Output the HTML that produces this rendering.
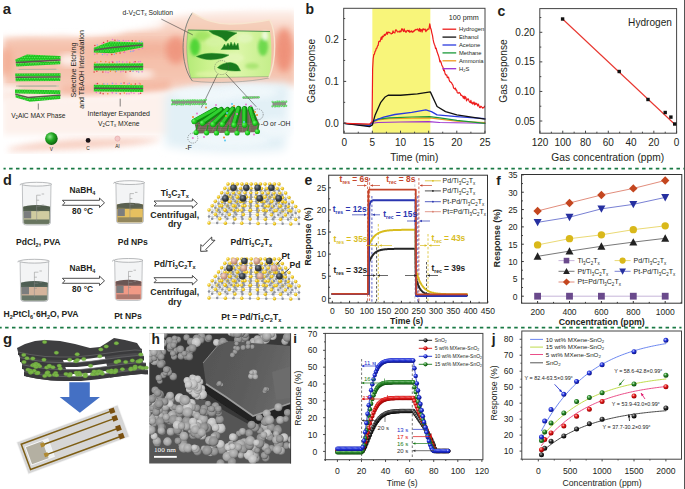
<!DOCTYPE html>
<html><head><meta charset="utf-8"><style>
html,body{margin:0;padding:0;background:#fff;width:685px;height:489px;overflow:hidden}
svg{display:block;font-family:"Liberation Sans",sans-serif}
</style></head><body>
<svg width="685" height="489" viewBox="0 0 685 489">
<defs>
<radialGradient id="gK" cx="0.38" cy="0.35" r="0.65"><stop offset="0" stop-color="#bbb"/><stop offset="0.45" stop-color="#333"/><stop offset="1" stop-color="#000"/></radialGradient>
<radialGradient id="gR" cx="0.38" cy="0.35" r="0.65"><stop offset="0" stop-color="#ffc0c0"/><stop offset="0.45" stop-color="#e01818"/><stop offset="1" stop-color="#900"/></radialGradient>
<radialGradient id="gB" cx="0.38" cy="0.35" r="0.65"><stop offset="0" stop-color="#c8d0ff"/><stop offset="0.45" stop-color="#2233dd"/><stop offset="1" stop-color="#0a1180"/></radialGradient>
<radialGradient id="gG" cx="0.38" cy="0.35" r="0.65"><stop offset="0" stop-color="#c8f0c8"/><stop offset="0.45" stop-color="#2a8a2a"/><stop offset="1" stop-color="#0c4a0c"/></radialGradient>
</defs>
<defs>
<filter id="bl3" x="-20%" y="-20%" width="140%" height="140%"><feGaussianBlur stdDeviation="3"/></filter>
<filter id="bl5" x="-30%" y="-30%" width="160%" height="160%"><feGaussianBlur stdDeviation="5"/></filter>
<filter id="bl2" x="-20%" y="-20%" width="140%" height="140%"><feGaussianBlur stdDeviation="1.6"/></filter>
<filter id="bl1" x="-20%" y="-20%" width="140%" height="140%"><feGaussianBlur stdDeviation="0.7"/></filter>
<filter id="bl04" x="-10%" y="-10%" width="120%" height="120%"><feGaussianBlur stdDeviation="0.35"/></filter>
<radialGradient id="gGreen" cx="0.35" cy="0.35" r="0.7"><stop offset="0" stop-color="#6af56a"/><stop offset="0.55" stop-color="#22d022"/><stop offset="1" stop-color="#12a012"/></radialGradient>
<radialGradient id="gV" cx="0.38" cy="0.35" r="0.7"><stop offset="0" stop-color="#8ee58e"/><stop offset="0.45" stop-color="#22a822"/><stop offset="1" stop-color="#0a5a0a"/></radialGradient>
<linearGradient id="gSal" x1="0" y1="0" x2="0" y2="1"><stop offset="0" stop-color="#fdf2ed"/><stop offset="0.22" stop-color="#f8d2c2"/><stop offset="0.45" stop-color="#f4bea8"/><stop offset="0.75" stop-color="#f5c4b0"/><stop offset="1" stop-color="#fae0d6"/></linearGradient>
<linearGradient id="gLiq" x1="0" y1="0" x2="1" y2="0"><stop offset="0" stop-color="#b4ea78"/><stop offset="0.25" stop-color="#ccf28e"/><stop offset="0.6" stop-color="#dcf6a8"/><stop offset="1" stop-color="#c4ee8a"/></linearGradient>
<pattern id="pG" width="2.5" height="4.2" patternUnits="userSpaceOnUse"><rect width="2.5" height="4.2" fill="#22b522"/><circle cx="1.25" cy="1.05" r="1.3" fill="url(#gGreen)"/><circle cx="0" cy="3.15" r="1.3" fill="url(#gGreen)"/><circle cx="2.5" cy="3.15" r="1.3" fill="url(#gGreen)"/></pattern>
<clipPath id="clipA"><rect x="3" y="0" width="291" height="165"/></clipPath>
</defs>
<g clip-path="url(#clipA)">
<path d="M3,38 C30,34 60,38 90,36 C120,34 150,27 170,18 C200,10 250,10 296,10 L296,86 C260,84 220,88 180,90 C130,96 80,100 3,100 Z" fill="url(#gSal)" filter="url(#bl3)"/>
<path d="M100,44 C130,40 160,40 185,42 L185,54 C160,54 130,56 100,54 Z" fill="#ef9f86" opacity="0.4" filter="url(#bl5)"/>
<ellipse cx="284" cy="50" rx="9" ry="22" fill="#ee8a72" opacity="0.85" filter="url(#bl3)"/>
<ellipse cx="176" cy="50" rx="10" ry="14" fill="#ee8a72" opacity="0.7" filter="url(#bl3)"/>
<ellipse cx="5" cy="62" rx="8" ry="14" fill="#f2a88e" opacity="0.7" filter="url(#bl3)"/>
<path d="M60,86 C90,82 130,84 170,80 L170,92 C130,94 90,96 60,94 Z" fill="#f3a88e" opacity="0.55" filter="url(#bl3)"/>
<ellipse cx="30" cy="27" rx="30" ry="6" fill="#fff" opacity="0.75" filter="url(#bl3)"/>
<ellipse cx="95" cy="28" rx="30" ry="6" fill="#fff" opacity="0.75" filter="url(#bl3)"/>
<ellipse cx="140" cy="24" rx="25" ry="6" fill="#fff" opacity="0.75" filter="url(#bl3)"/>
<ellipse cx="215" cy="5" rx="40" ry="4" fill="#fff" opacity="0.75" filter="url(#bl3)"/>
<ellipse cx="280" cy="4" rx="30" ry="4" fill="#fff" opacity="0.75" filter="url(#bl3)"/>
<ellipse cx="10" cy="90" rx="10" ry="5" fill="#fff" opacity="0.75" filter="url(#bl3)"/>
<ellipse cx="70" cy="60" rx="12" ry="6" fill="#fff" opacity="0.75" filter="url(#bl3)"/>
<ellipse cx="140" cy="74" rx="14" ry="4" fill="#fff" opacity="0.75" filter="url(#bl3)"/>
<path d="M3,95 C60,102 120,96 175,92 L175,135 L3,135 Z" fill="#fdf1ec" filter="url(#bl3)"/>
<path d="M8,149 C40,139 110,137 162,139 C150,146 80,150 8,151 Z" fill="#f6c8b8" opacity="0.85" filter="url(#bl3)"/>
<path d="M165,95 C200,84 240,80 290,84 L285,150 C260,152 210,154 165,146 Z" fill="#e2f0f6" filter="url(#bl5)"/>
<ellipse cx="205" cy="95" rx="30" ry="8" fill="#f3f9fc" opacity="0.8" filter="url(#bl3)"/>
<ellipse cx="250" cy="92" rx="28" ry="7" fill="#f3f9fc" opacity="0.8" filter="url(#bl3)"/>
<ellipse cx="230" cy="140" rx="40" ry="8" fill="#f3f9fc" opacity="0.8" filter="url(#bl3)"/>
<ellipse cx="275" cy="128" rx="18" ry="10" fill="#f3f9fc" opacity="0.8" filter="url(#bl3)"/>
</g>
<g filter="url(#bl04)">
<path d="M15.2,59.4 L27,54.4 L60.5,56 L60.5,59.2 L16,62.4 Z" fill="url(#pG)" />
<path d="M16.5,62.6 L60,60" fill="none" stroke="#5e5450" stroke-width="1.6" stroke-linecap="round" stroke-linejoin="round" />
<path d="M15.6,63.4 L60.3,61 L60.3,64.2 L16.5,66.4 Z" fill="url(#pG)" />
<path d="M17,69.4 L58,69.2" fill="none" stroke="#d8cdb6" stroke-width="2.2" stroke-linecap="round" stroke-linejoin="round" filter="url(#bl1)"/>
<path d="M19,69.4 L56,69.2" fill="none" stroke="#8f8a80" stroke-width="0.5" stroke-linecap="round" stroke-linejoin="round" />
<path d="M15.2,73.4 L60.5,73.2 L60.5,76.4 L15.2,76.6 Z" fill="url(#pG)" />
<path d="M16,77.3 L60,77.1" fill="none" stroke="#5e5450" stroke-width="1.5" stroke-linecap="round" stroke-linejoin="round" />
<path d="M15.6,78 L60.3,77.8 L60.3,81 L15.6,81.2 Z" fill="url(#pG)" />
<path d="M17,86.2 L58,86" fill="none" stroke="#d8cdb6" stroke-width="2.2" stroke-linecap="round" stroke-linejoin="round" filter="url(#bl1)"/>
<path d="M19,86.2 L56,86" fill="none" stroke="#8f8a80" stroke-width="0.5" stroke-linecap="round" stroke-linejoin="round" />
<path d="M15,89.4 L60.3,90.2 L60.3,94.2 L15,93.4 Z" fill="url(#pG)" />
<path d="M16,94.4 L28,97.6 L60,95.2" fill="none" stroke="#5e5450" stroke-width="1.6" stroke-linecap="round" stroke-linejoin="round" />
<path d="M15.6,95 L28,98.2 L60.3,95.8 L60.3,99 L30,101.8 L15.6,97.6 Z" fill="url(#pG)" />
<line x1="38.3" y1="103.5" x2="38.3" y2="109.6" stroke="#333" stroke-width="0.6" />
<path d="M93.8,47.7 L110,41.4 L143.2,42.6 L143.2,47.3 L112,53.2 L93.8,52.4 Z" fill="url(#pG)" />
<path d="M95,50 L112,47.5 L142,45" fill="none" stroke="#5e5450" stroke-width="1.4" stroke-linecap="round" stroke-linejoin="round" />
<circle cx="94.85" cy="45.4" r="0.75" fill="#e03a3a"/>
<circle cx="97.27" cy="45" r="0.75" fill="#8fa8e8"/>
<circle cx="102.17" cy="43.62" r="0.75" fill="#e878d0"/>
<circle cx="103.64" cy="42.38" r="0.75" fill="#e03a3a"/>
<circle cx="107.54" cy="41.03" r="0.75" fill="#e03a3a"/>
<circle cx="112.5" cy="39.56" r="0.75" fill="#e878d0"/>
<circle cx="114.92" cy="40.29" r="0.75" fill="#e03a3a"/>
<circle cx="117.78" cy="40.14" r="0.75" fill="#e878d0"/>
<circle cx="119.2" cy="40.83" r="0.75" fill="#8fa8e8"/>
<circle cx="123.34" cy="40.54" r="0.75" fill="#e878d0"/>
<circle cx="126.02" cy="41.02" r="0.75" fill="#e878d0"/>
<circle cx="128.42" cy="40.77" r="0.75" fill="#e878d0"/>
<circle cx="132.25" cy="40.87" r="0.75" fill="#e03a3a"/>
<circle cx="135.85" cy="41.1" r="0.75" fill="#f08a30"/>
<circle cx="139.22" cy="40.95" r="0.75" fill="#8fa8e8"/>
<circle cx="141.59" cy="41.73" r="0.75" fill="#8fa8e8"/>
<circle cx="94.71" cy="54.25" r="0.75" fill="#e878d0"/>
<circle cx="97.08" cy="53.66" r="0.75" fill="#f08a30"/>
<circle cx="102.52" cy="54.5" r="0.75" fill="#8fa8e8"/>
<circle cx="104.75" cy="53.68" r="0.75" fill="#e878d0"/>
<circle cx="107.2" cy="54.75" r="0.75" fill="#e878d0"/>
<circle cx="111.8" cy="54.48" r="0.75" fill="#e03a3a"/>
<circle cx="114.39" cy="54.25" r="0.75" fill="#8fa8e8"/>
<circle cx="116.18" cy="53.6" r="0.75" fill="#f08a30"/>
<circle cx="120.05" cy="53.02" r="0.75" fill="#e03a3a"/>
<circle cx="124.31" cy="52.24" r="0.75" fill="#e03a3a"/>
<circle cx="124.67" cy="52.49" r="0.75" fill="#e878d0"/>
<circle cx="130.7" cy="51.51" r="0.75" fill="#8fa8e8"/>
<circle cx="132.96" cy="51.18" r="0.75" fill="#8fa8e8"/>
<circle cx="133.91" cy="50.4" r="0.75" fill="#e878d0"/>
<circle cx="138.87" cy="49.51" r="0.75" fill="#e878d0"/>
<circle cx="142.48" cy="48.32" r="0.75" fill="#e878d0"/>
<path d="M93.8,63.4 L143.2,63.2 L143.2,70.2 L93.8,70.4 Z" fill="url(#pG)" />
<path d="M94.5,67 L142.5,66.8" fill="none" stroke="#5e5450" stroke-width="1.4" stroke-linecap="round" stroke-linejoin="round" />
<circle cx="95.03" cy="62.58" r="0.75" fill="#f08a30"/>
<circle cx="97.14" cy="61.92" r="0.75" fill="#e878d0"/>
<circle cx="100.83" cy="61.46" r="0.75" fill="#f08a30"/>
<circle cx="105.73" cy="61.64" r="0.75" fill="#f08a30"/>
<circle cx="109.2" cy="62.19" r="0.75" fill="#f08a30"/>
<circle cx="112.19" cy="61.44" r="0.75" fill="#e878d0"/>
<circle cx="112.79" cy="62.15" r="0.75" fill="#e03a3a"/>
<circle cx="116.91" cy="62.03" r="0.75" fill="#8fa8e8"/>
<circle cx="119.37" cy="61.4" r="0.75" fill="#e878d0"/>
<circle cx="122.73" cy="61.98" r="0.75" fill="#e878d0"/>
<circle cx="126.81" cy="61.89" r="0.75" fill="#e878d0"/>
<circle cx="129.78" cy="62.19" r="0.75" fill="#f08a30"/>
<circle cx="133.63" cy="62.23" r="0.75" fill="#e878d0"/>
<circle cx="135.15" cy="61.69" r="0.75" fill="#e03a3a"/>
<circle cx="138.51" cy="61.68" r="0.75" fill="#e878d0"/>
<circle cx="140.32" cy="61.4" r="0.75" fill="#e878d0"/>
<circle cx="94.14" cy="71.94" r="0.75" fill="#e03a3a"/>
<circle cx="96.89" cy="71.3" r="0.75" fill="#e03a3a"/>
<circle cx="102.9" cy="71.92" r="0.75" fill="#e03a3a"/>
<circle cx="105.76" cy="71.91" r="0.75" fill="#e878d0"/>
<circle cx="108.11" cy="72.38" r="0.75" fill="#e878d0"/>
<circle cx="110.36" cy="71.2" r="0.75" fill="#f08a30"/>
<circle cx="115.39" cy="71.66" r="0.75" fill="#f08a30"/>
<circle cx="116.38" cy="71.21" r="0.75" fill="#8fa8e8"/>
<circle cx="120.79" cy="71.66" r="0.75" fill="#e878d0"/>
<circle cx="123.18" cy="71.27" r="0.75" fill="#e878d0"/>
<circle cx="125.79" cy="71.94" r="0.75" fill="#e03a3a"/>
<circle cx="130.1" cy="71.37" r="0.75" fill="#e03a3a"/>
<circle cx="133" cy="71.31" r="0.75" fill="#8fa8e8"/>
<circle cx="136.74" cy="71.42" r="0.75" fill="#e878d0"/>
<circle cx="138.67" cy="72.01" r="0.75" fill="#8fa8e8"/>
<circle cx="142.08" cy="71.76" r="0.75" fill="#e878d0"/>
<path d="M93.8,84.8 L143.2,85.2 L143.2,92 L93.8,91.6 Z" fill="url(#pG)" />
<path d="M94.5,88.2 L142.5,88.6" fill="none" stroke="#5e5450" stroke-width="1.4" stroke-linecap="round" stroke-linejoin="round" />
<circle cx="96.29" cy="83.87" r="0.75" fill="#e878d0"/>
<circle cx="97.5" cy="83.42" r="0.75" fill="#e03a3a"/>
<circle cx="103.03" cy="83.88" r="0.75" fill="#f08a30"/>
<circle cx="103.86" cy="83.75" r="0.75" fill="#8fa8e8"/>
<circle cx="107.53" cy="84.12" r="0.75" fill="#8fa8e8"/>
<circle cx="112.19" cy="83.36" r="0.75" fill="#e878d0"/>
<circle cx="112.64" cy="83.51" r="0.75" fill="#8fa8e8"/>
<circle cx="116.04" cy="83.75" r="0.75" fill="#e878d0"/>
<circle cx="121.09" cy="83.59" r="0.75" fill="#8fa8e8"/>
<circle cx="124.06" cy="83.06" r="0.75" fill="#e03a3a"/>
<circle cx="127.48" cy="84.07" r="0.75" fill="#e878d0"/>
<circle cx="129.24" cy="83.24" r="0.75" fill="#8fa8e8"/>
<circle cx="131.12" cy="84.33" r="0.75" fill="#f08a30"/>
<circle cx="135.37" cy="84.08" r="0.75" fill="#e03a3a"/>
<circle cx="139.26" cy="83.31" r="0.75" fill="#e878d0"/>
<circle cx="140.2" cy="83.9" r="0.75" fill="#f08a30"/>
<circle cx="96.29" cy="92.52" r="0.75" fill="#e878d0"/>
<circle cx="99.91" cy="93.27" r="0.75" fill="#8fa8e8"/>
<circle cx="100.46" cy="93.12" r="0.75" fill="#e03a3a"/>
<circle cx="103.11" cy="93.73" r="0.75" fill="#e03a3a"/>
<circle cx="107.78" cy="93.72" r="0.75" fill="#f08a30"/>
<circle cx="112.28" cy="92.72" r="0.75" fill="#e878d0"/>
<circle cx="112.41" cy="92.75" r="0.75" fill="#e878d0"/>
<circle cx="116.16" cy="93.3" r="0.75" fill="#8fa8e8"/>
<circle cx="120.18" cy="93.68" r="0.75" fill="#e03a3a"/>
<circle cx="124.4" cy="93.04" r="0.75" fill="#f08a30"/>
<circle cx="126.72" cy="93.71" r="0.75" fill="#e878d0"/>
<circle cx="129.06" cy="93.87" r="0.75" fill="#e878d0"/>
<circle cx="131.25" cy="92.82" r="0.75" fill="#e878d0"/>
<circle cx="134" cy="93.24" r="0.75" fill="#e878d0"/>
<circle cx="138.9" cy="93.75" r="0.75" fill="#e878d0"/>
<circle cx="140.64" cy="93.34" r="0.75" fill="#e03a3a"/>
</g>
<line x1="120.2" y1="98.7" x2="120.2" y2="106.5" stroke="#333" stroke-width="0.6" />
<path d="M192.4,12.8 C205,20 215,24 230,24 C245,24 258,22 269.7,19.8 C276,30 277,60 268.8,78 C250,82 215,84 192.4,81 C180,65 180,30 192.4,12.8 Z" fill="#f2c6ae" opacity="0.6"/>
<path d="M188,30 L270,31.5 C272,45 272,65 269,76.5 L191,78 C186,62 186,44 188,30 Z" fill="url(#gLiq)"/>
<ellipse cx="195" cy="47" rx="5" ry="9" fill="#38d028" opacity="0.8" filter="url(#bl2)"/>
<ellipse cx="203" cy="36" rx="8" ry="5" fill="#8ede50" opacity="0.6" filter="url(#bl2)"/>
<ellipse cx="263" cy="47" rx="5" ry="9" fill="#48d030" opacity="0.7" filter="url(#bl2)"/>
<ellipse cx="232" cy="58" rx="12" ry="5" fill="#e4f8b8" opacity="0.85" filter="url(#bl2)"/>
<ellipse cx="214" cy="42" rx="9" ry="5" fill="#d6f4a4" opacity="0.8" filter="url(#bl2)"/>
<ellipse cx="252" cy="66" rx="7" ry="3" fill="#90dc58" opacity="0.6" filter="url(#bl2)"/>
<ellipse cx="245" cy="38" rx="8" ry="5" fill="#e6f8c8" opacity="0.6" filter="url(#bl2)"/>
<ellipse cx="265" cy="36" rx="3" ry="5" fill="#ffffff" opacity="0.7" filter="url(#bl2)"/>
<ellipse cx="215" cy="74" rx="20" ry="3" fill="#e0f4a8" opacity="0.8" filter="url(#bl2)"/>
<path d="M188,30 L270,31.5" fill="none" stroke="#2a8a3a" stroke-width="1.0" opacity="0.8"/>
<path d="M188,30 C186,44 186,62 191,78 L269,76.5" fill="none" stroke="#6a9a6a" stroke-width="0.6" opacity="0.7"/>
<path d="M192.4,12.8 C180,30 180,65 192.4,81" fill="none" stroke="#5a6a68" stroke-width="0.9" opacity="0.85"/>
<path d="M192.4,81 C215,84 250,82 268.8,78" fill="none" stroke="#7a8a88" stroke-width="0.7" opacity="0.7"/>
<path d="M192.4,12.8 C205,20 215,24 230,24 C245,24 258,22 269.7,19.8" fill="none" stroke="#f8e6d0" stroke-width="1.4" opacity="0.95"/>
<path d="M269.7,19.8 C276,30 277,60 268.8,78" fill="none" stroke="#f8e6d0" stroke-width="1.4" opacity="0.95"/>
<path d="M209,31 Q223,29.5 237,33 Q231,36 226,41.5 Q222,37 217,35.5 Q212,34 209,31 Z" fill="#1a7a1e" stroke="#2a9a2a" stroke-width="0.9" stroke-dasharray="0.5 0.5"/>
<path d="M221,49.5 L239,49.5 L238,43 L236,46 L234.5,42.5 L233,46 L231,42 L229.5,46 L228,43 L226,46.5 L224.5,44 L223,47 Z" fill="#1a7a1e" stroke="#2a9a2a" stroke-width="0.9" stroke-dasharray="0.5 0.5"/>
<path d="M196.5,56.5 Q205,52.5 216,53.5 Q224,53.8 229,55 Q223,59 213,59.6 Q203,60 196.5,56.5 Z" fill="#1a7a1e" stroke="#2a9a2a" stroke-width="0.9" stroke-dasharray="0.5 0.5"/>
<path d="M217.5,67.5 Q222,62.8 230,62.5 Q236,63 238,66 L240.5,70.8 Q232,71.5 226,70 Q220,69.5 217.5,67.5 Z" fill="#1a7a1e" stroke="#2a9a2a" stroke-width="0.9" stroke-dasharray="0.5 0.5"/>
<circle cx="221.6" cy="67.6" r="7" fill="none" stroke="#555" stroke-width="0.5" stroke-dasharray="1.2 1"/>
<line x1="217.5" y1="74.2" x2="201.3" y2="107.8" stroke="#333" stroke-width="0.55" />
<line x1="226" y1="74" x2="256.3" y2="106.8" stroke="#333" stroke-width="0.55" />
<line x1="161.3" y1="19.1" x2="192.8" y2="34.9" stroke="#333" stroke-width="0.55" />
<g opacity="0.7" filter="url(#bl1)">
<path d="M172,100.5 L206,100 L206,104 L172,104.5 Z" fill="#6a6a5a"/>
<circle cx="172.03" cy="100.41" r="1.1" fill="url(#gGreen)"/>
<circle cx="174.28" cy="100.49" r="1.1" fill="url(#gGreen)"/>
<circle cx="176.68" cy="100.24" r="1.1" fill="url(#gGreen)"/>
<circle cx="178.83" cy="100.27" r="1.1" fill="url(#gGreen)"/>
<circle cx="180.96" cy="100.5" r="1.1" fill="url(#gGreen)"/>
<circle cx="183.34" cy="100.36" r="1.1" fill="url(#gGreen)"/>
<circle cx="185.73" cy="100.51" r="1.1" fill="url(#gGreen)"/>
<circle cx="187.84" cy="100.32" r="1.1" fill="url(#gGreen)"/>
<circle cx="190.14" cy="100.24" r="1.1" fill="url(#gGreen)"/>
<circle cx="192.5" cy="100.18" r="1.1" fill="url(#gGreen)"/>
<circle cx="194.68" cy="100.16" r="1.1" fill="url(#gGreen)"/>
<circle cx="197.15" cy="100.23" r="1.1" fill="url(#gGreen)"/>
<circle cx="199.39" cy="100.32" r="1.1" fill="url(#gGreen)"/>
<circle cx="201.35" cy="100.1" r="1.1" fill="url(#gGreen)"/>
<circle cx="203.95" cy="100.2" r="1.1" fill="url(#gGreen)"/>
<circle cx="205.82" cy="99.81" r="1.1" fill="url(#gGreen)"/>
<circle cx="171.97" cy="104.29" r="1.1" fill="url(#gGreen)"/>
<circle cx="174.14" cy="104.25" r="1.1" fill="url(#gGreen)"/>
<circle cx="176.62" cy="104.58" r="1.1" fill="url(#gGreen)"/>
<circle cx="179" cy="104.23" r="1.1" fill="url(#gGreen)"/>
<circle cx="181.17" cy="104.45" r="1.1" fill="url(#gGreen)"/>
<circle cx="183.15" cy="104.52" r="1.1" fill="url(#gGreen)"/>
<circle cx="185.83" cy="104.16" r="1.1" fill="url(#gGreen)"/>
<circle cx="188.09" cy="104.22" r="1.1" fill="url(#gGreen)"/>
<circle cx="190.13" cy="104.48" r="1.1" fill="url(#gGreen)"/>
<circle cx="192.57" cy="104.03" r="1.1" fill="url(#gGreen)"/>
<circle cx="194.63" cy="104.17" r="1.1" fill="url(#gGreen)"/>
<circle cx="196.85" cy="103.98" r="1.1" fill="url(#gGreen)"/>
<circle cx="199.11" cy="104.21" r="1.1" fill="url(#gGreen)"/>
<circle cx="201.23" cy="104.09" r="1.1" fill="url(#gGreen)"/>
<circle cx="203.7" cy="103.79" r="1.1" fill="url(#gGreen)"/>
<circle cx="205.92" cy="104.06" r="1.1" fill="url(#gGreen)"/>
<path d="M272.5,102 L286,101.5 L286,106 L272.5,106.5 Z" fill="#6a6a5a"/>
<circle cx="272.51" cy="101.78" r="1.1" fill="url(#gGreen)"/>
<circle cx="274.99" cy="102.06" r="1.1" fill="url(#gGreen)"/>
<circle cx="277.24" cy="101.64" r="1.1" fill="url(#gGreen)"/>
<circle cx="279.13" cy="101.52" r="1.1" fill="url(#gGreen)"/>
<circle cx="281.64" cy="101.55" r="1.1" fill="url(#gGreen)"/>
<circle cx="283.56" cy="101.54" r="1.1" fill="url(#gGreen)"/>
<circle cx="286.21" cy="101.66" r="1.1" fill="url(#gGreen)"/>
<circle cx="272.38" cy="106.32" r="1.1" fill="url(#gGreen)"/>
<circle cx="274.96" cy="106.45" r="1.1" fill="url(#gGreen)"/>
<circle cx="277.1" cy="106.13" r="1.1" fill="url(#gGreen)"/>
<circle cx="279.03" cy="106.34" r="1.1" fill="url(#gGreen)"/>
<circle cx="281.46" cy="105.95" r="1.1" fill="url(#gGreen)"/>
<circle cx="283.97" cy="106.15" r="1.1" fill="url(#gGreen)"/>
<circle cx="286.15" cy="105.79" r="1.1" fill="url(#gGreen)"/>
<path d="M243,96.5 L259,96.3 L259,98.5 L243,98.7 Z" fill="#6a6a5a"/>
<circle cx="243.18" cy="97.38" r="1" fill="url(#gGreen)"/>
<circle cx="245.47" cy="97.55" r="1" fill="url(#gGreen)"/>
<circle cx="247.49" cy="97.57" r="1" fill="url(#gGreen)"/>
<circle cx="250.07" cy="97.4" r="1" fill="url(#gGreen)"/>
<circle cx="251.96" cy="97.5" r="1" fill="url(#gGreen)"/>
<circle cx="254.3" cy="97.26" r="1" fill="url(#gGreen)"/>
<circle cx="256.55" cy="97.2" r="1" fill="url(#gGreen)"/>
<circle cx="258.85" cy="97.31" r="1" fill="url(#gGreen)"/>
</g>
<path d="M194,121 L212,108.5 L253,109.5 L259.5,124 L258,132 L197,133.5 Z" fill="#6e5e52" filter="url(#bl04)"/>
<line x1="196" y1="133" x2="212" y2="109" stroke="#a89888" stroke-width="0.3" />
<line x1="203.75" y1="133" x2="217.25" y2="109" stroke="#a89888" stroke-width="0.3" />
<line x1="211.5" y1="133" x2="222.5" y2="109" stroke="#a89888" stroke-width="0.3" />
<line x1="219.25" y1="133" x2="227.75" y2="109" stroke="#a89888" stroke-width="0.3" />
<line x1="227" y1="133" x2="233" y2="109" stroke="#a89888" stroke-width="0.3" />
<line x1="234.75" y1="133" x2="238.25" y2="109" stroke="#a89888" stroke-width="0.3" />
<line x1="242.5" y1="133" x2="243.5" y2="109" stroke="#a89888" stroke-width="0.3" />
<line x1="250.25" y1="133" x2="248.75" y2="109" stroke="#a89888" stroke-width="0.3" />
<line x1="258" y1="133" x2="254" y2="109" stroke="#a89888" stroke-width="0.3" />
<line x1="195" y1="122" x2="259" y2="124" stroke="#a89888" stroke-width="0.3" />
<line x1="195" y1="124.5" x2="259" y2="126" stroke="#a89888" stroke-width="0.3" />
<line x1="195" y1="127" x2="259" y2="128" stroke="#a89888" stroke-width="0.3" />
<line x1="195" y1="129.5" x2="259" y2="130" stroke="#a89888" stroke-width="0.3" />
<line x1="195" y1="132" x2="259" y2="132" stroke="#a89888" stroke-width="0.3" />
<circle cx="196.1" cy="132.5" r="2.6" fill="url(#gGreen)"/>
<line x1="196.1" y1="130.5" x2="197.6" y2="124.5" stroke="#1a9a1a" stroke-width="1.2" />
<circle cx="206.6" cy="132.8" r="2.6" fill="url(#gGreen)"/>
<line x1="206.6" y1="130.8" x2="208.1" y2="124.8" stroke="#1a9a1a" stroke-width="1.2" />
<circle cx="216.5" cy="133" r="2.6" fill="url(#gGreen)"/>
<line x1="216.5" y1="131" x2="218" y2="125" stroke="#1a9a1a" stroke-width="1.2" />
<circle cx="227.1" cy="133" r="2.6" fill="url(#gGreen)"/>
<line x1="227.1" y1="131" x2="228.6" y2="125" stroke="#1a9a1a" stroke-width="1.2" />
<circle cx="237" cy="133" r="2.6" fill="url(#gGreen)"/>
<line x1="237" y1="131" x2="238.5" y2="125" stroke="#1a9a1a" stroke-width="1.2" />
<circle cx="247.5" cy="132.8" r="2.6" fill="url(#gGreen)"/>
<line x1="247.5" y1="130.8" x2="249" y2="124.8" stroke="#1a9a1a" stroke-width="1.2" />
<circle cx="257.4" cy="131.5" r="2.6" fill="url(#gGreen)"/>
<line x1="257.4" y1="129.5" x2="258.9" y2="123.5" stroke="#1a9a1a" stroke-width="1.2" />
<line x1="215.4" y1="109.6" x2="194.3" y2="121.4" stroke="#0c8a0e" stroke-width="5.4" stroke-linecap="round"/>
<line x1="214.8" y1="109.2" x2="193.5" y2="120.8" stroke="#30d030" stroke-width="3.0" stroke-linecap="round"/>
<circle cx="194.3" cy="121.4" r="2.7" fill="url(#gGreen)"/>
<line x1="221.2" y1="109.6" x2="202.5" y2="123.1" stroke="#0c8a0e" stroke-width="5.4" stroke-linecap="round"/>
<line x1="220.6" y1="109.2" x2="201.7" y2="122.5" stroke="#30d030" stroke-width="3.0" stroke-linecap="round"/>
<circle cx="202.5" cy="123.1" r="2.7" fill="url(#gGreen)"/>
<line x1="227.6" y1="109.6" x2="213" y2="124.3" stroke="#0c8a0e" stroke-width="5.4" stroke-linecap="round"/>
<line x1="227" y1="109.2" x2="212.2" y2="123.7" stroke="#30d030" stroke-width="3.0" stroke-linecap="round"/>
<circle cx="213" cy="124.3" r="2.7" fill="url(#gGreen)"/>
<line x1="232.9" y1="109" x2="222.4" y2="124.3" stroke="#0c8a0e" stroke-width="5.4" stroke-linecap="round"/>
<line x1="232.3" y1="108.6" x2="221.6" y2="123.7" stroke="#30d030" stroke-width="3.0" stroke-linecap="round"/>
<circle cx="222.4" cy="124.3" r="2.7" fill="url(#gGreen)"/>
<line x1="238.7" y1="108.6" x2="234.1" y2="124.9" stroke="#0c8a0e" stroke-width="5.4" stroke-linecap="round"/>
<line x1="238.1" y1="108.2" x2="233.3" y2="124.3" stroke="#30d030" stroke-width="3.0" stroke-linecap="round"/>
<circle cx="234.1" cy="124.9" r="2.7" fill="url(#gGreen)"/>
<line x1="244.6" y1="108.6" x2="244.6" y2="124.9" stroke="#0c8a0e" stroke-width="5.4" stroke-linecap="round"/>
<line x1="244" y1="108.2" x2="243.8" y2="124.3" stroke="#30d030" stroke-width="3.0" stroke-linecap="round"/>
<circle cx="244.6" cy="124.9" r="2.7" fill="url(#gGreen)"/>
<line x1="250.4" y1="108.6" x2="255.1" y2="123.1" stroke="#0c8a0e" stroke-width="5.4" stroke-linecap="round"/>
<line x1="249.8" y1="108.2" x2="254.3" y2="122.5" stroke="#30d030" stroke-width="3.0" stroke-linecap="round"/>
<circle cx="255.1" cy="123.1" r="2.7" fill="url(#gGreen)"/>
<circle cx="193" cy="117" r="1.0" fill="#f08a30"/>
<circle cx="197" cy="113.5" r="1.0" fill="#e878d0"/>
<circle cx="206" cy="107.5" r="1.0" fill="#f08a30"/>
<circle cx="216" cy="105" r="1.0" fill="#e878d0"/>
<circle cx="232" cy="104" r="1.0" fill="#5cc8f0"/>
<circle cx="234" cy="106" r="1.0" fill="#f08a30"/>
<circle cx="246" cy="104.5" r="1.0" fill="#e878d0"/>
<circle cx="251" cy="106" r="1.0" fill="#e878d0"/>
<circle cx="255" cy="112" r="1.0" fill="#f08a30"/>
<circle cx="257" cy="115" r="1.0" fill="#f08a30"/>
<circle cx="227" cy="113" r="1.0" fill="#5cc8f0"/>
<circle cx="226" cy="116" r="1.0" fill="#f08a30"/>
<circle cx="237" cy="114" r="1.0" fill="#e878d0"/>
<circle cx="204" cy="137" r="1.0" fill="#e878d0"/>
<circle cx="224" cy="137.5" r="1.0" fill="#f08a30"/>
<circle cx="225" cy="140.5" r="1.0" fill="#5cc8f0"/>
<circle cx="254" cy="134.5" r="1.0" fill="#e878d0"/>
<circle cx="192.8" cy="138.1" r="1.0" fill="#e878d0"/>
<circle cx="244" cy="122" r="1.0" fill="#5cc8f0"/>
<circle cx="257.7" cy="114.4" r="5.5" fill="none" stroke="#444" stroke-width="0.5" stroke-dasharray="1.2 1"/>
<circle cx="192.8" cy="138.1" r="5" fill="none" stroke="#444" stroke-width="0.5" stroke-dasharray="1.2 1"/>
<circle cx="51.4" cy="138.6" r="6.3" fill="url(#gV)"/>
<circle cx="88.1" cy="140.4" r="2.4" fill="#1a1418"/>
<circle cx="117.5" cy="138.6" r="2.6" fill="#f4c8c8" stroke="#d89090" stroke-width="0.4"/>
<text x="2.8" y="14.1" font-size="15" text-anchor="start" fill="#231f20" font-weight="bold" >a</text>
<text x="11.2" y="117.6" font-size="7.2" fill="#231f20" textLength="54.2" lengthAdjust="spacingAndGlyphs">V<tspan font-size="4.6" baseline-shift="-25%">2</tspan>AlC MAX Phase</text>
<text x="87.6" y="116.4" font-size="7.2" fill="#231f20" textLength="62.4" lengthAdjust="spacingAndGlyphs">Interlayer Expanded</text>
<text x="98.1" y="125.9" font-size="7.2" fill="#231f20" textLength="41.4" lengthAdjust="spacingAndGlyphs">V<tspan font-size="4.6" baseline-shift="-25%">2</tspan>CT<tspan font-size="4.6" baseline-shift="-25%">x</tspan> MXene</text>
<text x="122.6" y="14.8" font-size="7.2" fill="#231f20" textLength="50.4" lengthAdjust="spacingAndGlyphs">d-V<tspan font-size="4.6" baseline-shift="-25%">2</tspan>CT<tspan font-size="4.6" baseline-shift="-25%">x</tspan> Solution</text>
<text transform="translate(76.0,97.5) rotate(-90)" font-size="7.2" fill="#231f20" textLength="55" lengthAdjust="spacingAndGlyphs">Selective Etching</text>
<text transform="translate(84.3,108.8) rotate(-90)" font-size="7.2" fill="#231f20" textLength="78.7" lengthAdjust="spacingAndGlyphs">and TBAOH Intercalation</text>
<text x="260.7" y="125.6" font-size="7.2" fill="#231f20" textLength="29.8" lengthAdjust="spacingAndGlyphs">-O or -OH</text>
<text x="185.2" y="150.2" font-size="7.2" text-anchor="start" fill="#231f20" >-F</text>
<text x="51.4" y="151.2" font-size="4.8" text-anchor="middle" fill="#231f20" >V</text>
<text x="88.1" y="149.6" font-size="4.8" text-anchor="middle" fill="#231f20" >C</text>
<text x="117.5" y="148" font-size="4.8" text-anchor="middle" fill="#231f20" >Al</text>
<defs>
<radialGradient id="gY" cx="0.38" cy="0.35" r="0.7"><stop offset="0" stop-color="#fff4a8"/><stop offset="0.5" stop-color="#f2c81e"/><stop offset="1" stop-color="#c09a08"/></radialGradient>
<radialGradient id="gPd" cx="0.38" cy="0.33" r="0.7"><stop offset="0" stop-color="#8a929c"/><stop offset="0.5" stop-color="#3c434c"/><stop offset="1" stop-color="#22272e"/></radialGradient>
<radialGradient id="gPt" cx="0.38" cy="0.33" r="0.7"><stop offset="0" stop-color="#f6dccc"/><stop offset="0.5" stop-color="#d8a896"/><stop offset="1" stop-color="#a87868"/></radialGradient>
</defs>
<path d="M22.3,184.2 L22.9,223 Q23.3,225 26.3,225 L47,225 Q50,225 50.4,223 L51,184.2 Z" fill="#f3f4f5" stroke="#a8aaad" stroke-width="0.7"/>
<path d="M23.2,206.5 L23.5,222.8 Q23.9,224.2 26.5,224.2 L46.8,224.2 Q49.4,224.2 49.8,222.8 L50.1,206.5 Z" fill="#7e8a72"/>
<rect x="23.3" y="207.7" width="26.7" height="3.6" fill="#4e5a4a" opacity="0.85"/>
<ellipse cx="36.65" cy="207.7" rx="13.35" ry="2.6" fill="#4e5a4a"/>
<rect x="23.9" y="211.1" width="25.3" height="8.4" fill="#d0cca0"/>
<rect x="23.9" y="211.1" width="7.3" height="7.3" fill="#7b7d7e"/>
<rect x="24.3" y="219.7" width="24.7" height="4" fill="#4e5a4a" opacity="0.45"/>
<ellipse cx="36.65" cy="184.2" rx="14.95" ry="1.9" fill="#fafafa" stroke="#9a9c9f" stroke-width="0.7"/>
<path d="M21.7,183.7 q-1.8,0.2 -1.6,1.6" fill="none" stroke="#9a9c9f" stroke-width="0.7"/>
<line x1="36.65" y1="195.2" x2="36.65" y2="221" stroke="#888" stroke-width="0.5" />
<line x1="36.65" y1="195.2" x2="40.65" y2="195.2" stroke="#888" stroke-width="0.5" />
<line x1="41.65" y1="194" x2="44.15" y2="194" stroke="#999" stroke-width="0.6" />
<line x1="36.65" y1="200.2" x2="39.15" y2="200.2" stroke="#888" stroke-width="0.5" />
<line x1="36.65" y1="206.2" x2="40.65" y2="206.2" stroke="#888" stroke-width="0.5" />
<line x1="41.65" y1="205" x2="44.15" y2="205" stroke="#999" stroke-width="0.6" />
<line x1="36.65" y1="211.2" x2="39.15" y2="211.2" stroke="#888" stroke-width="0.5" />
<path d="M115.9,182.6 L116.5,221.4 Q116.9,223.4 119.9,223.4 L140,223.4 Q143,223.4 143.4,221.4 L144,182.6 Z" fill="#f3f4f5" stroke="#a8aaad" stroke-width="0.7"/>
<path d="M116.8,204.2 L117.1,221.2 Q117.5,222.6 120.1,222.6 L139.8,222.6 Q142.4,222.6 142.8,221.2 L143.1,204.2 Z" fill="#c2a868"/>
<rect x="116.9" y="205.4" width="26.1" height="3.6" fill="#5a6050" opacity="0.85"/>
<ellipse cx="129.95" cy="205.4" rx="13.05" ry="2.6" fill="#5a6050"/>
<rect x="117.5" y="208.8" width="24.7" height="8.4" fill="#e6c060"/>
<rect x="117.5" y="208.8" width="7.3" height="7.3" fill="#7b7d7e"/>
<rect x="117.9" y="217.4" width="24.1" height="4.7" fill="#5a6050" opacity="0.45"/>
<ellipse cx="129.95" cy="182.6" rx="14.65" ry="1.9" fill="#fafafa" stroke="#9a9c9f" stroke-width="0.7"/>
<path d="M115.3,182.1 q-1.8,0.2 -1.6,1.6" fill="none" stroke="#9a9c9f" stroke-width="0.7"/>
<line x1="129.95" y1="193.6" x2="129.95" y2="219.4" stroke="#888" stroke-width="0.5" />
<line x1="129.95" y1="193.6" x2="133.95" y2="193.6" stroke="#888" stroke-width="0.5" />
<line x1="134.95" y1="192.4" x2="137.45" y2="192.4" stroke="#999" stroke-width="0.6" />
<line x1="129.95" y1="198.6" x2="132.45" y2="198.6" stroke="#888" stroke-width="0.5" />
<line x1="129.95" y1="204.6" x2="133.95" y2="204.6" stroke="#888" stroke-width="0.5" />
<line x1="134.95" y1="203.4" x2="137.45" y2="203.4" stroke="#999" stroke-width="0.6" />
<line x1="129.95" y1="209.6" x2="132.45" y2="209.6" stroke="#888" stroke-width="0.5" />
<path d="M20.1,261.2 L20.7,299.5 Q21.1,301.5 24.1,301.5 L44.7,301.5 Q47.7,301.5 48.1,299.5 L48.7,261.2 Z" fill="#f3f4f5" stroke="#a8aaad" stroke-width="0.7"/>
<path d="M21,282.4 L21.3,299.3 Q21.7,300.7 24.3,300.7 L44.5,300.7 Q47.1,300.7 47.5,299.3 L47.8,282.4 Z" fill="#7e8a7a"/>
<rect x="21.1" y="283.6" width="26.6" height="3.6" fill="#4e5e54" opacity="0.85"/>
<ellipse cx="34.4" cy="283.6" rx="13.3" ry="2.6" fill="#4e5e54"/>
<rect x="21.7" y="287" width="25.2" height="8.4" fill="#d4b49c"/>
<rect x="21.7" y="287" width="7.3" height="7.3" fill="#7b7d7e"/>
<rect x="22.1" y="295.6" width="24.6" height="4.6" fill="#4e5e54" opacity="0.45"/>
<ellipse cx="34.4" cy="261.2" rx="14.9" ry="1.9" fill="#fafafa" stroke="#9a9c9f" stroke-width="0.7"/>
<path d="M19.5,260.7 q-1.8,0.2 -1.6,1.6" fill="none" stroke="#9a9c9f" stroke-width="0.7"/>
<line x1="34.4" y1="272.2" x2="34.4" y2="297.5" stroke="#888" stroke-width="0.5" />
<line x1="34.4" y1="272.2" x2="38.4" y2="272.2" stroke="#888" stroke-width="0.5" />
<line x1="39.4" y1="271" x2="41.9" y2="271" stroke="#999" stroke-width="0.6" />
<line x1="34.4" y1="277.2" x2="36.9" y2="277.2" stroke="#888" stroke-width="0.5" />
<line x1="34.4" y1="283.2" x2="38.4" y2="283.2" stroke="#888" stroke-width="0.5" />
<line x1="39.4" y1="282" x2="41.9" y2="282" stroke="#999" stroke-width="0.6" />
<line x1="34.4" y1="288.2" x2="36.9" y2="288.2" stroke="#888" stroke-width="0.5" />
<path d="M114.7,260.4 L115.3,298.4 Q115.7,300.4 118.7,300.4 L138.3,300.4 Q141.3,300.4 141.7,298.4 L142.3,260.4 Z" fill="#f3f4f5" stroke="#a8aaad" stroke-width="0.7"/>
<path d="M115.6,281.2 L115.9,298.2 Q116.3,299.6 118.9,299.6 L138.1,299.6 Q140.7,299.6 141.1,298.2 L141.4,281.2 Z" fill="#e49484"/>
<rect x="115.7" y="282.4" width="25.6" height="3.6" fill="#6a5654" opacity="0.85"/>
<ellipse cx="128.5" cy="282.4" rx="12.8" ry="2.6" fill="#6a5654"/>
<rect x="116.3" y="285.8" width="24.2" height="8.4" fill="#f19a86"/>
<rect x="116.3" y="285.8" width="7.3" height="7.3" fill="#7b7d7e"/>
<rect x="116.7" y="294.4" width="23.6" height="4.7" fill="#6a5654" opacity="0.45"/>
<ellipse cx="128.5" cy="260.4" rx="14.4" ry="1.9" fill="#fafafa" stroke="#9a9c9f" stroke-width="0.7"/>
<path d="M114.1,259.9 q-1.8,0.2 -1.6,1.6" fill="none" stroke="#9a9c9f" stroke-width="0.7"/>
<line x1="128.5" y1="271.4" x2="128.5" y2="296.4" stroke="#888" stroke-width="0.5" />
<line x1="128.5" y1="271.4" x2="132.5" y2="271.4" stroke="#888" stroke-width="0.5" />
<line x1="133.5" y1="270.2" x2="136" y2="270.2" stroke="#999" stroke-width="0.6" />
<line x1="128.5" y1="276.4" x2="131" y2="276.4" stroke="#888" stroke-width="0.5" />
<line x1="128.5" y1="282.4" x2="132.5" y2="282.4" stroke="#888" stroke-width="0.5" />
<line x1="133.5" y1="281.2" x2="136" y2="281.2" stroke="#999" stroke-width="0.6" />
<line x1="128.5" y1="287.4" x2="131" y2="287.4" stroke="#888" stroke-width="0.5" />
<path d="M62.4,200.3 L99.5,200.3 L99.5,198.1 L104.5,202.8 L99.5,207.5 L99.5,205.3 L62.4,205.3 L64.8,202.8 Z" fill="#fff" stroke="#3a3a3a" stroke-width="0.9" stroke-linejoin="miter"/>
<path d="M62.4,278.3 L99.5,278.3 L99.5,276.1 L104.5,280.8 L99.5,285.5 L99.5,283.3 L62.4,283.3 L64.8,280.8 Z" fill="#fff" stroke="#3a3a3a" stroke-width="0.9" stroke-linejoin="miter"/>
<path d="M154,201 L192.4,201 L192.4,198.8 L197.4,203.5 L192.4,208.2 L192.4,206 L154,206 L156.4,203.5 Z" fill="#fff" stroke="#3a3a3a" stroke-width="0.9" stroke-linejoin="miter"/>
<path d="M154,277.7 L192.4,277.7 L192.4,275.5 L197.4,280.2 L192.4,284.9 L192.4,282.7 L154,282.7 L156.4,280.2 Z" fill="#fff" stroke="#3a3a3a" stroke-width="0.9" stroke-linejoin="miter"/>
<g transform="translate(207,245) rotate(135)">
<path d="M-9,-2.3 L4,-2.3 L4,-4.6 L9,0 L4,4.6 L4,2.3 L-9,2.3 L-6.8,0 Z" fill="#fff" stroke="#3a3a3a" stroke-width="0.9"/>
</g>
<text x="3" y="184.6" font-size="14.5" text-anchor="start" fill="#231f20" font-weight="bold" >d</text>
<text x="82.4" y="192.7" font-size="8.4" font-weight="bold" text-anchor="middle" fill="#231f20">NaBH<tspan font-size="5.6" baseline-shift="-30%">4</tspan></text>
<text x="82.6" y="214.1" font-size="8.4" text-anchor="middle" fill="#231f20" font-weight="bold" >80 °C</text>
<text x="82.4" y="270.6" font-size="8.4" font-weight="bold" text-anchor="middle" fill="#231f20">NaBH<tspan font-size="5.6" baseline-shift="-30%">4</tspan></text>
<text x="82.6" y="292.1" font-size="8.4" text-anchor="middle" fill="#231f20" font-weight="bold" >80 °C</text>
<text x="38.2" y="245.2" font-size="8.6" font-weight="bold" text-anchor="middle" fill="#231f20">PdCl<tspan font-size="5.6" baseline-shift="-30%">2</tspan>, PVA</text>
<text x="132.8" y="245.2" font-size="8.6" text-anchor="middle" fill="#231f20" font-weight="bold" >Pd NPs</text>
<text x="41.0" y="317.2" font-size="8.6" font-weight="bold" text-anchor="middle" fill="#231f20">H<tspan font-size="5.6" baseline-shift="-30%">2</tspan>PtCl<tspan font-size="5.6" baseline-shift="-30%">6</tspan>·6H<tspan font-size="5.6" baseline-shift="-30%">2</tspan>O, PVA</text>
<text x="128" y="318.6" font-size="8.6" text-anchor="middle" fill="#231f20" font-weight="bold" >Pt NPs</text>
<text x="174.8" y="196.0" font-size="8.6" font-weight="bold" text-anchor="middle" fill="#231f20">Ti<tspan font-size="5.6" baseline-shift="-30%">3</tspan>C<tspan font-size="5.6" baseline-shift="-30%">2</tspan>T<tspan font-size="5.6" baseline-shift="-30%">x</tspan></text>
<text x="174.8" y="218" font-size="8.8" text-anchor="middle" fill="#231f20" font-weight="bold" >Centrifugal,</text>
<text x="174.8" y="227.3" font-size="8.8" text-anchor="middle" fill="#231f20" font-weight="bold" >dry</text>
<text x="174.8" y="267.3" font-size="8.6" font-weight="bold" text-anchor="middle" fill="#231f20">Pd/Ti<tspan font-size="5.6" baseline-shift="-30%">3</tspan>C<tspan font-size="5.6" baseline-shift="-30%">2</tspan>T<tspan font-size="5.6" baseline-shift="-30%">x</tspan></text>
<text x="174.8" y="295" font-size="8.8" text-anchor="middle" fill="#231f20" font-weight="bold" >Centrifugal,</text>
<text x="174.8" y="304.9" font-size="8.8" text-anchor="middle" fill="#231f20" font-weight="bold" >dry</text>
<text x="251.3" y="244.7" font-size="8.6" font-weight="bold" text-anchor="middle" fill="#231f20">Pd/Ti<tspan font-size="5.6" baseline-shift="-30%">3</tspan>C<tspan font-size="5.6" baseline-shift="-30%">2</tspan>T<tspan font-size="5.6" baseline-shift="-30%">x</tspan></text>
<text x="251.3" y="320.2" font-size="8.6" font-weight="bold" text-anchor="middle" fill="#231f20">Pt = Pd/Ti<tspan font-size="5.6" baseline-shift="-30%">3</tspan>C<tspan font-size="5.6" baseline-shift="-30%">2</tspan>T<tspan font-size="5.6" baseline-shift="-30%">x</tspan></text>
<line x1="228" y1="184" x2="232.64" y2="184" stroke="#a0a4aa" stroke-width="0.35"/><line x1="228" y1="184" x2="224.83" y2="188.33" stroke="#a0a4aa" stroke-width="0.35"/><line x1="232.64" y1="184" x2="237.27" y2="184" stroke="#a0a4aa" stroke-width="0.35"/><line x1="232.64" y1="184" x2="230.06" y2="188.35" stroke="#a0a4aa" stroke-width="0.35"/><line x1="237.27" y1="184" x2="241.91" y2="184" stroke="#a0a4aa" stroke-width="0.35"/><line x1="237.27" y1="184" x2="235.29" y2="188.36" stroke="#a0a4aa" stroke-width="0.35"/><line x1="241.91" y1="184" x2="246.55" y2="184" stroke="#a0a4aa" stroke-width="0.35"/><line x1="241.91" y1="184" x2="240.52" y2="188.38" stroke="#a0a4aa" stroke-width="0.35"/><line x1="246.55" y1="184" x2="251.18" y2="184" stroke="#a0a4aa" stroke-width="0.35"/><line x1="246.55" y1="184" x2="245.74" y2="188.39" stroke="#a0a4aa" stroke-width="0.35"/><line x1="251.18" y1="184" x2="255.82" y2="184" stroke="#a0a4aa" stroke-width="0.35"/><line x1="251.18" y1="184" x2="250.97" y2="188.41" stroke="#a0a4aa" stroke-width="0.35"/><line x1="255.82" y1="184" x2="260.45" y2="184" stroke="#a0a4aa" stroke-width="0.35"/><line x1="255.82" y1="184" x2="256.2" y2="188.42" stroke="#a0a4aa" stroke-width="0.35"/><line x1="260.45" y1="184" x2="265.09" y2="184" stroke="#a0a4aa" stroke-width="0.35"/><line x1="260.45" y1="184" x2="261.42" y2="188.44" stroke="#a0a4aa" stroke-width="0.35"/><line x1="265.09" y1="184" x2="269.73" y2="184" stroke="#a0a4aa" stroke-width="0.35"/><line x1="265.09" y1="184" x2="266.65" y2="188.45" stroke="#a0a4aa" stroke-width="0.35"/><line x1="269.73" y1="184" x2="274.36" y2="184" stroke="#a0a4aa" stroke-width="0.35"/><line x1="269.73" y1="184" x2="271.88" y2="188.47" stroke="#a0a4aa" stroke-width="0.35"/><line x1="274.36" y1="184" x2="279" y2="184" stroke="#a0a4aa" stroke-width="0.35"/><line x1="274.36" y1="184" x2="277.11" y2="188.48" stroke="#a0a4aa" stroke-width="0.35"/><line x1="279" y1="184" x2="282.33" y2="188.5" stroke="#a0a4aa" stroke-width="0.35"/><line x1="224.83" y1="188.33" x2="230.06" y2="188.35" stroke="#a0a4aa" stroke-width="0.35"/><line x1="224.83" y1="188.33" x2="221.67" y2="192.67" stroke="#a0a4aa" stroke-width="0.35"/><line x1="230.06" y1="188.35" x2="235.29" y2="188.36" stroke="#a0a4aa" stroke-width="0.35"/><line x1="230.06" y1="188.35" x2="227.48" y2="192.7" stroke="#a0a4aa" stroke-width="0.35"/><line x1="235.29" y1="188.36" x2="240.52" y2="188.38" stroke="#a0a4aa" stroke-width="0.35"/><line x1="235.29" y1="188.36" x2="233.3" y2="192.73" stroke="#a0a4aa" stroke-width="0.35"/><line x1="240.52" y1="188.38" x2="245.74" y2="188.39" stroke="#a0a4aa" stroke-width="0.35"/><line x1="240.52" y1="188.38" x2="239.12" y2="192.76" stroke="#a0a4aa" stroke-width="0.35"/><line x1="245.74" y1="188.39" x2="250.97" y2="188.41" stroke="#a0a4aa" stroke-width="0.35"/><line x1="245.74" y1="188.39" x2="244.94" y2="192.79" stroke="#a0a4aa" stroke-width="0.35"/><line x1="250.97" y1="188.41" x2="256.2" y2="188.42" stroke="#a0a4aa" stroke-width="0.35"/><line x1="250.97" y1="188.41" x2="250.76" y2="192.82" stroke="#a0a4aa" stroke-width="0.35"/><line x1="256.2" y1="188.42" x2="261.42" y2="188.44" stroke="#a0a4aa" stroke-width="0.35"/><line x1="256.2" y1="188.42" x2="256.58" y2="192.85" stroke="#a0a4aa" stroke-width="0.35"/><line x1="261.42" y1="188.44" x2="266.65" y2="188.45" stroke="#a0a4aa" stroke-width="0.35"/><line x1="261.42" y1="188.44" x2="262.39" y2="192.88" stroke="#a0a4aa" stroke-width="0.35"/><line x1="266.65" y1="188.45" x2="271.88" y2="188.47" stroke="#a0a4aa" stroke-width="0.35"/><line x1="266.65" y1="188.45" x2="268.21" y2="192.91" stroke="#a0a4aa" stroke-width="0.35"/><line x1="271.88" y1="188.47" x2="277.11" y2="188.48" stroke="#a0a4aa" stroke-width="0.35"/><line x1="271.88" y1="188.47" x2="274.03" y2="192.94" stroke="#a0a4aa" stroke-width="0.35"/><line x1="277.11" y1="188.48" x2="282.33" y2="188.5" stroke="#a0a4aa" stroke-width="0.35"/><line x1="277.11" y1="188.48" x2="279.85" y2="192.97" stroke="#a0a4aa" stroke-width="0.35"/><line x1="282.33" y1="188.5" x2="285.67" y2="193" stroke="#a0a4aa" stroke-width="0.35"/><line x1="221.67" y1="192.67" x2="227.48" y2="192.7" stroke="#a0a4aa" stroke-width="0.35"/><line x1="221.67" y1="192.67" x2="218.5" y2="197" stroke="#a0a4aa" stroke-width="0.35"/><line x1="227.48" y1="192.7" x2="233.3" y2="192.73" stroke="#a0a4aa" stroke-width="0.35"/><line x1="227.48" y1="192.7" x2="224.91" y2="197.05" stroke="#a0a4aa" stroke-width="0.35"/><line x1="233.3" y1="192.73" x2="239.12" y2="192.76" stroke="#a0a4aa" stroke-width="0.35"/><line x1="233.3" y1="192.73" x2="231.32" y2="197.09" stroke="#a0a4aa" stroke-width="0.35"/><line x1="239.12" y1="192.76" x2="244.94" y2="192.79" stroke="#a0a4aa" stroke-width="0.35"/><line x1="239.12" y1="192.76" x2="237.73" y2="197.14" stroke="#a0a4aa" stroke-width="0.35"/><line x1="244.94" y1="192.79" x2="250.76" y2="192.82" stroke="#a0a4aa" stroke-width="0.35"/><line x1="244.94" y1="192.79" x2="244.14" y2="197.18" stroke="#a0a4aa" stroke-width="0.35"/><line x1="250.76" y1="192.82" x2="256.58" y2="192.85" stroke="#a0a4aa" stroke-width="0.35"/><line x1="250.76" y1="192.82" x2="250.55" y2="197.23" stroke="#a0a4aa" stroke-width="0.35"/><line x1="256.58" y1="192.85" x2="262.39" y2="192.88" stroke="#a0a4aa" stroke-width="0.35"/><line x1="256.58" y1="192.85" x2="256.95" y2="197.27" stroke="#a0a4aa" stroke-width="0.35"/><line x1="262.39" y1="192.88" x2="268.21" y2="192.91" stroke="#a0a4aa" stroke-width="0.35"/><line x1="262.39" y1="192.88" x2="263.36" y2="197.32" stroke="#a0a4aa" stroke-width="0.35"/><line x1="268.21" y1="192.91" x2="274.03" y2="192.94" stroke="#a0a4aa" stroke-width="0.35"/><line x1="268.21" y1="192.91" x2="269.77" y2="197.36" stroke="#a0a4aa" stroke-width="0.35"/><line x1="274.03" y1="192.94" x2="279.85" y2="192.97" stroke="#a0a4aa" stroke-width="0.35"/><line x1="274.03" y1="192.94" x2="276.18" y2="197.41" stroke="#a0a4aa" stroke-width="0.35"/><line x1="279.85" y1="192.97" x2="285.67" y2="193" stroke="#a0a4aa" stroke-width="0.35"/><line x1="279.85" y1="192.97" x2="282.59" y2="197.45" stroke="#a0a4aa" stroke-width="0.35"/><line x1="285.67" y1="193" x2="289" y2="197.5" stroke="#a0a4aa" stroke-width="0.35"/><line x1="218.5" y1="197" x2="224.91" y2="197.05" stroke="#a0a4aa" stroke-width="0.35"/><line x1="218.5" y1="197" x2="215.33" y2="201.33" stroke="#a0a4aa" stroke-width="0.35"/><line x1="224.91" y1="197.05" x2="231.32" y2="197.09" stroke="#a0a4aa" stroke-width="0.35"/><line x1="224.91" y1="197.05" x2="222.33" y2="201.39" stroke="#a0a4aa" stroke-width="0.35"/><line x1="231.32" y1="197.09" x2="237.73" y2="197.14" stroke="#a0a4aa" stroke-width="0.35"/><line x1="231.32" y1="197.09" x2="229.33" y2="201.45" stroke="#a0a4aa" stroke-width="0.35"/><line x1="237.73" y1="197.14" x2="244.14" y2="197.18" stroke="#a0a4aa" stroke-width="0.35"/><line x1="237.73" y1="197.14" x2="236.33" y2="201.52" stroke="#a0a4aa" stroke-width="0.35"/><line x1="244.14" y1="197.18" x2="250.55" y2="197.23" stroke="#a0a4aa" stroke-width="0.35"/><line x1="244.14" y1="197.18" x2="243.33" y2="201.58" stroke="#a0a4aa" stroke-width="0.35"/><line x1="250.55" y1="197.23" x2="256.95" y2="197.27" stroke="#a0a4aa" stroke-width="0.35"/><line x1="250.55" y1="197.23" x2="250.33" y2="201.64" stroke="#a0a4aa" stroke-width="0.35"/><line x1="256.95" y1="197.27" x2="263.36" y2="197.32" stroke="#a0a4aa" stroke-width="0.35"/><line x1="256.95" y1="197.27" x2="257.33" y2="201.7" stroke="#a0a4aa" stroke-width="0.35"/><line x1="263.36" y1="197.32" x2="269.77" y2="197.36" stroke="#a0a4aa" stroke-width="0.35"/><line x1="263.36" y1="197.32" x2="264.33" y2="201.76" stroke="#a0a4aa" stroke-width="0.35"/><line x1="269.77" y1="197.36" x2="276.18" y2="197.41" stroke="#a0a4aa" stroke-width="0.35"/><line x1="269.77" y1="197.36" x2="271.33" y2="201.82" stroke="#a0a4aa" stroke-width="0.35"/><line x1="276.18" y1="197.41" x2="282.59" y2="197.45" stroke="#a0a4aa" stroke-width="0.35"/><line x1="276.18" y1="197.41" x2="278.33" y2="201.88" stroke="#a0a4aa" stroke-width="0.35"/><line x1="282.59" y1="197.45" x2="289" y2="197.5" stroke="#a0a4aa" stroke-width="0.35"/><line x1="282.59" y1="197.45" x2="285.33" y2="201.94" stroke="#a0a4aa" stroke-width="0.35"/><line x1="289" y1="197.5" x2="292.33" y2="202" stroke="#a0a4aa" stroke-width="0.35"/><line x1="215.33" y1="201.33" x2="222.33" y2="201.39" stroke="#a0a4aa" stroke-width="0.35"/><line x1="215.33" y1="201.33" x2="212.17" y2="205.67" stroke="#a0a4aa" stroke-width="0.35"/><line x1="222.33" y1="201.39" x2="229.33" y2="201.45" stroke="#a0a4aa" stroke-width="0.35"/><line x1="222.33" y1="201.39" x2="219.76" y2="205.74" stroke="#a0a4aa" stroke-width="0.35"/><line x1="229.33" y1="201.45" x2="236.33" y2="201.52" stroke="#a0a4aa" stroke-width="0.35"/><line x1="229.33" y1="201.45" x2="227.35" y2="205.82" stroke="#a0a4aa" stroke-width="0.35"/><line x1="236.33" y1="201.52" x2="243.33" y2="201.58" stroke="#a0a4aa" stroke-width="0.35"/><line x1="236.33" y1="201.52" x2="234.94" y2="205.89" stroke="#a0a4aa" stroke-width="0.35"/><line x1="243.33" y1="201.58" x2="250.33" y2="201.64" stroke="#a0a4aa" stroke-width="0.35"/><line x1="243.33" y1="201.58" x2="242.53" y2="205.97" stroke="#a0a4aa" stroke-width="0.35"/><line x1="250.33" y1="201.64" x2="257.33" y2="201.7" stroke="#a0a4aa" stroke-width="0.35"/><line x1="250.33" y1="201.64" x2="250.12" y2="206.05" stroke="#a0a4aa" stroke-width="0.35"/><line x1="257.33" y1="201.7" x2="264.33" y2="201.76" stroke="#a0a4aa" stroke-width="0.35"/><line x1="257.33" y1="201.7" x2="257.71" y2="206.12" stroke="#a0a4aa" stroke-width="0.35"/><line x1="264.33" y1="201.76" x2="271.33" y2="201.82" stroke="#a0a4aa" stroke-width="0.35"/><line x1="264.33" y1="201.76" x2="265.3" y2="206.2" stroke="#a0a4aa" stroke-width="0.35"/><line x1="271.33" y1="201.82" x2="278.33" y2="201.88" stroke="#a0a4aa" stroke-width="0.35"/><line x1="271.33" y1="201.82" x2="272.89" y2="206.27" stroke="#a0a4aa" stroke-width="0.35"/><line x1="278.33" y1="201.88" x2="285.33" y2="201.94" stroke="#a0a4aa" stroke-width="0.35"/><line x1="278.33" y1="201.88" x2="280.48" y2="206.35" stroke="#a0a4aa" stroke-width="0.35"/><line x1="285.33" y1="201.94" x2="292.33" y2="202" stroke="#a0a4aa" stroke-width="0.35"/><line x1="285.33" y1="201.94" x2="288.08" y2="206.42" stroke="#a0a4aa" stroke-width="0.35"/><line x1="292.33" y1="202" x2="295.67" y2="206.5" stroke="#a0a4aa" stroke-width="0.35"/><line x1="212.17" y1="205.67" x2="219.76" y2="205.74" stroke="#a0a4aa" stroke-width="0.35"/><line x1="212.17" y1="205.67" x2="209" y2="210" stroke="#a0a4aa" stroke-width="0.35"/><line x1="219.76" y1="205.74" x2="227.35" y2="205.82" stroke="#a0a4aa" stroke-width="0.35"/><line x1="219.76" y1="205.74" x2="217.18" y2="210.09" stroke="#a0a4aa" stroke-width="0.35"/><line x1="227.35" y1="205.82" x2="234.94" y2="205.89" stroke="#a0a4aa" stroke-width="0.35"/><line x1="227.35" y1="205.82" x2="225.36" y2="210.18" stroke="#a0a4aa" stroke-width="0.35"/><line x1="234.94" y1="205.89" x2="242.53" y2="205.97" stroke="#a0a4aa" stroke-width="0.35"/><line x1="234.94" y1="205.89" x2="233.55" y2="210.27" stroke="#a0a4aa" stroke-width="0.35"/><line x1="242.53" y1="205.97" x2="250.12" y2="206.05" stroke="#a0a4aa" stroke-width="0.35"/><line x1="242.53" y1="205.97" x2="241.73" y2="210.36" stroke="#a0a4aa" stroke-width="0.35"/><line x1="250.12" y1="206.05" x2="257.71" y2="206.12" stroke="#a0a4aa" stroke-width="0.35"/><line x1="250.12" y1="206.05" x2="249.91" y2="210.45" stroke="#a0a4aa" stroke-width="0.35"/><line x1="257.71" y1="206.12" x2="265.3" y2="206.2" stroke="#a0a4aa" stroke-width="0.35"/><line x1="257.71" y1="206.12" x2="258.09" y2="210.55" stroke="#a0a4aa" stroke-width="0.35"/><line x1="265.3" y1="206.2" x2="272.89" y2="206.27" stroke="#a0a4aa" stroke-width="0.35"/><line x1="265.3" y1="206.2" x2="266.27" y2="210.64" stroke="#a0a4aa" stroke-width="0.35"/><line x1="272.89" y1="206.27" x2="280.48" y2="206.35" stroke="#a0a4aa" stroke-width="0.35"/><line x1="272.89" y1="206.27" x2="274.45" y2="210.73" stroke="#a0a4aa" stroke-width="0.35"/><line x1="280.48" y1="206.35" x2="288.08" y2="206.42" stroke="#a0a4aa" stroke-width="0.35"/><line x1="280.48" y1="206.35" x2="282.64" y2="210.82" stroke="#a0a4aa" stroke-width="0.35"/><line x1="288.08" y1="206.42" x2="295.67" y2="206.5" stroke="#a0a4aa" stroke-width="0.35"/><line x1="288.08" y1="206.42" x2="290.82" y2="210.91" stroke="#a0a4aa" stroke-width="0.35"/><line x1="295.67" y1="206.5" x2="299" y2="211" stroke="#a0a4aa" stroke-width="0.35"/><line x1="209" y1="210" x2="217.18" y2="210.09" stroke="#a0a4aa" stroke-width="0.35"/><line x1="217.18" y1="210.09" x2="225.36" y2="210.18" stroke="#a0a4aa" stroke-width="0.35"/><line x1="225.36" y1="210.18" x2="233.55" y2="210.27" stroke="#a0a4aa" stroke-width="0.35"/><line x1="233.55" y1="210.27" x2="241.73" y2="210.36" stroke="#a0a4aa" stroke-width="0.35"/><line x1="241.73" y1="210.36" x2="249.91" y2="210.45" stroke="#a0a4aa" stroke-width="0.35"/><line x1="249.91" y1="210.45" x2="258.09" y2="210.55" stroke="#a0a4aa" stroke-width="0.35"/><line x1="258.09" y1="210.55" x2="266.27" y2="210.64" stroke="#a0a4aa" stroke-width="0.35"/><line x1="266.27" y1="210.64" x2="274.45" y2="210.73" stroke="#a0a4aa" stroke-width="0.35"/><line x1="274.45" y1="210.73" x2="282.64" y2="210.82" stroke="#a0a4aa" stroke-width="0.35"/><line x1="282.64" y1="210.82" x2="290.82" y2="210.91" stroke="#a0a4aa" stroke-width="0.35"/><line x1="290.82" y1="210.91" x2="299" y2="211" stroke="#a0a4aa" stroke-width="0.35"/><line x1="228" y1="190.5" x2="232.64" y2="190.5" stroke="#a0a4aa" stroke-width="0.35"/><line x1="228" y1="190.5" x2="224.83" y2="194.83" stroke="#a0a4aa" stroke-width="0.35"/><line x1="228" y1="190.5" x2="228" y2="184" stroke="#a0a4aa" stroke-width="0.35"/><line x1="232.64" y1="190.5" x2="237.27" y2="190.5" stroke="#a0a4aa" stroke-width="0.35"/><line x1="232.64" y1="190.5" x2="230.06" y2="194.85" stroke="#a0a4aa" stroke-width="0.35"/><line x1="232.64" y1="190.5" x2="232.64" y2="184" stroke="#a0a4aa" stroke-width="0.35"/><line x1="237.27" y1="190.5" x2="241.91" y2="190.5" stroke="#a0a4aa" stroke-width="0.35"/><line x1="237.27" y1="190.5" x2="235.29" y2="194.86" stroke="#a0a4aa" stroke-width="0.35"/><line x1="237.27" y1="190.5" x2="237.27" y2="184" stroke="#a0a4aa" stroke-width="0.35"/><line x1="241.91" y1="190.5" x2="246.55" y2="190.5" stroke="#a0a4aa" stroke-width="0.35"/><line x1="241.91" y1="190.5" x2="240.52" y2="194.88" stroke="#a0a4aa" stroke-width="0.35"/><line x1="241.91" y1="190.5" x2="241.91" y2="184" stroke="#a0a4aa" stroke-width="0.35"/><line x1="246.55" y1="190.5" x2="251.18" y2="190.5" stroke="#a0a4aa" stroke-width="0.35"/><line x1="246.55" y1="190.5" x2="245.74" y2="194.89" stroke="#a0a4aa" stroke-width="0.35"/><line x1="246.55" y1="190.5" x2="246.55" y2="184" stroke="#a0a4aa" stroke-width="0.35"/><line x1="251.18" y1="190.5" x2="255.82" y2="190.5" stroke="#a0a4aa" stroke-width="0.35"/><line x1="251.18" y1="190.5" x2="250.97" y2="194.91" stroke="#a0a4aa" stroke-width="0.35"/><line x1="251.18" y1="190.5" x2="251.18" y2="184" stroke="#a0a4aa" stroke-width="0.35"/><line x1="255.82" y1="190.5" x2="260.45" y2="190.5" stroke="#a0a4aa" stroke-width="0.35"/><line x1="255.82" y1="190.5" x2="256.2" y2="194.92" stroke="#a0a4aa" stroke-width="0.35"/><line x1="255.82" y1="190.5" x2="255.82" y2="184" stroke="#a0a4aa" stroke-width="0.35"/><line x1="260.45" y1="190.5" x2="265.09" y2="190.5" stroke="#a0a4aa" stroke-width="0.35"/><line x1="260.45" y1="190.5" x2="261.42" y2="194.94" stroke="#a0a4aa" stroke-width="0.35"/><line x1="260.45" y1="190.5" x2="260.45" y2="184" stroke="#a0a4aa" stroke-width="0.35"/><line x1="265.09" y1="190.5" x2="269.73" y2="190.5" stroke="#a0a4aa" stroke-width="0.35"/><line x1="265.09" y1="190.5" x2="266.65" y2="194.95" stroke="#a0a4aa" stroke-width="0.35"/><line x1="265.09" y1="190.5" x2="265.09" y2="184" stroke="#a0a4aa" stroke-width="0.35"/><line x1="269.73" y1="190.5" x2="274.36" y2="190.5" stroke="#a0a4aa" stroke-width="0.35"/><line x1="269.73" y1="190.5" x2="271.88" y2="194.97" stroke="#a0a4aa" stroke-width="0.35"/><line x1="269.73" y1="190.5" x2="269.73" y2="184" stroke="#a0a4aa" stroke-width="0.35"/><line x1="274.36" y1="190.5" x2="279" y2="190.5" stroke="#a0a4aa" stroke-width="0.35"/><line x1="274.36" y1="190.5" x2="277.11" y2="194.98" stroke="#a0a4aa" stroke-width="0.35"/><line x1="274.36" y1="190.5" x2="274.36" y2="184" stroke="#a0a4aa" stroke-width="0.35"/><line x1="279" y1="190.5" x2="282.33" y2="195" stroke="#a0a4aa" stroke-width="0.35"/><line x1="279" y1="190.5" x2="279" y2="184" stroke="#a0a4aa" stroke-width="0.35"/><line x1="224.83" y1="194.83" x2="230.06" y2="194.85" stroke="#a0a4aa" stroke-width="0.35"/><line x1="224.83" y1="194.83" x2="221.67" y2="199.17" stroke="#a0a4aa" stroke-width="0.35"/><line x1="224.83" y1="194.83" x2="224.83" y2="188.33" stroke="#a0a4aa" stroke-width="0.35"/><line x1="230.06" y1="194.85" x2="235.29" y2="194.86" stroke="#a0a4aa" stroke-width="0.35"/><line x1="230.06" y1="194.85" x2="227.48" y2="199.2" stroke="#a0a4aa" stroke-width="0.35"/><line x1="230.06" y1="194.85" x2="230.06" y2="188.35" stroke="#a0a4aa" stroke-width="0.35"/><line x1="235.29" y1="194.86" x2="240.52" y2="194.88" stroke="#a0a4aa" stroke-width="0.35"/><line x1="235.29" y1="194.86" x2="233.3" y2="199.23" stroke="#a0a4aa" stroke-width="0.35"/><line x1="235.29" y1="194.86" x2="235.29" y2="188.36" stroke="#a0a4aa" stroke-width="0.35"/><line x1="240.52" y1="194.88" x2="245.74" y2="194.89" stroke="#a0a4aa" stroke-width="0.35"/><line x1="240.52" y1="194.88" x2="239.12" y2="199.26" stroke="#a0a4aa" stroke-width="0.35"/><line x1="240.52" y1="194.88" x2="240.52" y2="188.38" stroke="#a0a4aa" stroke-width="0.35"/><line x1="245.74" y1="194.89" x2="250.97" y2="194.91" stroke="#a0a4aa" stroke-width="0.35"/><line x1="245.74" y1="194.89" x2="244.94" y2="199.29" stroke="#a0a4aa" stroke-width="0.35"/><line x1="245.74" y1="194.89" x2="245.74" y2="188.39" stroke="#a0a4aa" stroke-width="0.35"/><line x1="250.97" y1="194.91" x2="256.2" y2="194.92" stroke="#a0a4aa" stroke-width="0.35"/><line x1="250.97" y1="194.91" x2="250.76" y2="199.32" stroke="#a0a4aa" stroke-width="0.35"/><line x1="250.97" y1="194.91" x2="250.97" y2="188.41" stroke="#a0a4aa" stroke-width="0.35"/><line x1="256.2" y1="194.92" x2="261.42" y2="194.94" stroke="#a0a4aa" stroke-width="0.35"/><line x1="256.2" y1="194.92" x2="256.58" y2="199.35" stroke="#a0a4aa" stroke-width="0.35"/><line x1="256.2" y1="194.92" x2="256.2" y2="188.42" stroke="#a0a4aa" stroke-width="0.35"/><line x1="261.42" y1="194.94" x2="266.65" y2="194.95" stroke="#a0a4aa" stroke-width="0.35"/><line x1="261.42" y1="194.94" x2="262.39" y2="199.38" stroke="#a0a4aa" stroke-width="0.35"/><line x1="261.42" y1="194.94" x2="261.42" y2="188.44" stroke="#a0a4aa" stroke-width="0.35"/><line x1="266.65" y1="194.95" x2="271.88" y2="194.97" stroke="#a0a4aa" stroke-width="0.35"/><line x1="266.65" y1="194.95" x2="268.21" y2="199.41" stroke="#a0a4aa" stroke-width="0.35"/><line x1="266.65" y1="194.95" x2="266.65" y2="188.45" stroke="#a0a4aa" stroke-width="0.35"/><line x1="271.88" y1="194.97" x2="277.11" y2="194.98" stroke="#a0a4aa" stroke-width="0.35"/><line x1="271.88" y1="194.97" x2="274.03" y2="199.44" stroke="#a0a4aa" stroke-width="0.35"/><line x1="271.88" y1="194.97" x2="271.88" y2="188.47" stroke="#a0a4aa" stroke-width="0.35"/><line x1="277.11" y1="194.98" x2="282.33" y2="195" stroke="#a0a4aa" stroke-width="0.35"/><line x1="277.11" y1="194.98" x2="279.85" y2="199.47" stroke="#a0a4aa" stroke-width="0.35"/><line x1="277.11" y1="194.98" x2="277.11" y2="188.48" stroke="#a0a4aa" stroke-width="0.35"/><line x1="282.33" y1="195" x2="285.67" y2="199.5" stroke="#a0a4aa" stroke-width="0.35"/><line x1="282.33" y1="195" x2="282.33" y2="188.5" stroke="#a0a4aa" stroke-width="0.35"/><line x1="221.67" y1="199.17" x2="227.48" y2="199.2" stroke="#a0a4aa" stroke-width="0.35"/><line x1="221.67" y1="199.17" x2="218.5" y2="203.5" stroke="#a0a4aa" stroke-width="0.35"/><line x1="221.67" y1="199.17" x2="221.67" y2="192.67" stroke="#a0a4aa" stroke-width="0.35"/><line x1="227.48" y1="199.2" x2="233.3" y2="199.23" stroke="#a0a4aa" stroke-width="0.35"/><line x1="227.48" y1="199.2" x2="224.91" y2="203.55" stroke="#a0a4aa" stroke-width="0.35"/><line x1="227.48" y1="199.2" x2="227.48" y2="192.7" stroke="#a0a4aa" stroke-width="0.35"/><line x1="233.3" y1="199.23" x2="239.12" y2="199.26" stroke="#a0a4aa" stroke-width="0.35"/><line x1="233.3" y1="199.23" x2="231.32" y2="203.59" stroke="#a0a4aa" stroke-width="0.35"/><line x1="233.3" y1="199.23" x2="233.3" y2="192.73" stroke="#a0a4aa" stroke-width="0.35"/><line x1="239.12" y1="199.26" x2="244.94" y2="199.29" stroke="#a0a4aa" stroke-width="0.35"/><line x1="239.12" y1="199.26" x2="237.73" y2="203.64" stroke="#a0a4aa" stroke-width="0.35"/><line x1="239.12" y1="199.26" x2="239.12" y2="192.76" stroke="#a0a4aa" stroke-width="0.35"/><line x1="244.94" y1="199.29" x2="250.76" y2="199.32" stroke="#a0a4aa" stroke-width="0.35"/><line x1="244.94" y1="199.29" x2="244.14" y2="203.68" stroke="#a0a4aa" stroke-width="0.35"/><line x1="244.94" y1="199.29" x2="244.94" y2="192.79" stroke="#a0a4aa" stroke-width="0.35"/><line x1="250.76" y1="199.32" x2="256.58" y2="199.35" stroke="#a0a4aa" stroke-width="0.35"/><line x1="250.76" y1="199.32" x2="250.55" y2="203.73" stroke="#a0a4aa" stroke-width="0.35"/><line x1="250.76" y1="199.32" x2="250.76" y2="192.82" stroke="#a0a4aa" stroke-width="0.35"/><line x1="256.58" y1="199.35" x2="262.39" y2="199.38" stroke="#a0a4aa" stroke-width="0.35"/><line x1="256.58" y1="199.35" x2="256.95" y2="203.77" stroke="#a0a4aa" stroke-width="0.35"/><line x1="256.58" y1="199.35" x2="256.58" y2="192.85" stroke="#a0a4aa" stroke-width="0.35"/><line x1="262.39" y1="199.38" x2="268.21" y2="199.41" stroke="#a0a4aa" stroke-width="0.35"/><line x1="262.39" y1="199.38" x2="263.36" y2="203.82" stroke="#a0a4aa" stroke-width="0.35"/><line x1="262.39" y1="199.38" x2="262.39" y2="192.88" stroke="#a0a4aa" stroke-width="0.35"/><line x1="268.21" y1="199.41" x2="274.03" y2="199.44" stroke="#a0a4aa" stroke-width="0.35"/><line x1="268.21" y1="199.41" x2="269.77" y2="203.86" stroke="#a0a4aa" stroke-width="0.35"/><line x1="268.21" y1="199.41" x2="268.21" y2="192.91" stroke="#a0a4aa" stroke-width="0.35"/><line x1="274.03" y1="199.44" x2="279.85" y2="199.47" stroke="#a0a4aa" stroke-width="0.35"/><line x1="274.03" y1="199.44" x2="276.18" y2="203.91" stroke="#a0a4aa" stroke-width="0.35"/><line x1="274.03" y1="199.44" x2="274.03" y2="192.94" stroke="#a0a4aa" stroke-width="0.35"/><line x1="279.85" y1="199.47" x2="285.67" y2="199.5" stroke="#a0a4aa" stroke-width="0.35"/><line x1="279.85" y1="199.47" x2="282.59" y2="203.95" stroke="#a0a4aa" stroke-width="0.35"/><line x1="279.85" y1="199.47" x2="279.85" y2="192.97" stroke="#a0a4aa" stroke-width="0.35"/><line x1="285.67" y1="199.5" x2="289" y2="204" stroke="#a0a4aa" stroke-width="0.35"/><line x1="285.67" y1="199.5" x2="285.67" y2="193" stroke="#a0a4aa" stroke-width="0.35"/><line x1="218.5" y1="203.5" x2="224.91" y2="203.55" stroke="#a0a4aa" stroke-width="0.35"/><line x1="218.5" y1="203.5" x2="215.33" y2="207.83" stroke="#a0a4aa" stroke-width="0.35"/><line x1="218.5" y1="203.5" x2="218.5" y2="197" stroke="#a0a4aa" stroke-width="0.35"/><line x1="224.91" y1="203.55" x2="231.32" y2="203.59" stroke="#a0a4aa" stroke-width="0.35"/><line x1="224.91" y1="203.55" x2="222.33" y2="207.89" stroke="#a0a4aa" stroke-width="0.35"/><line x1="224.91" y1="203.55" x2="224.91" y2="197.05" stroke="#a0a4aa" stroke-width="0.35"/><line x1="231.32" y1="203.59" x2="237.73" y2="203.64" stroke="#a0a4aa" stroke-width="0.35"/><line x1="231.32" y1="203.59" x2="229.33" y2="207.95" stroke="#a0a4aa" stroke-width="0.35"/><line x1="231.32" y1="203.59" x2="231.32" y2="197.09" stroke="#a0a4aa" stroke-width="0.35"/><line x1="237.73" y1="203.64" x2="244.14" y2="203.68" stroke="#a0a4aa" stroke-width="0.35"/><line x1="237.73" y1="203.64" x2="236.33" y2="208.02" stroke="#a0a4aa" stroke-width="0.35"/><line x1="237.73" y1="203.64" x2="237.73" y2="197.14" stroke="#a0a4aa" stroke-width="0.35"/><line x1="244.14" y1="203.68" x2="250.55" y2="203.73" stroke="#a0a4aa" stroke-width="0.35"/><line x1="244.14" y1="203.68" x2="243.33" y2="208.08" stroke="#a0a4aa" stroke-width="0.35"/><line x1="244.14" y1="203.68" x2="244.14" y2="197.18" stroke="#a0a4aa" stroke-width="0.35"/><line x1="250.55" y1="203.73" x2="256.95" y2="203.77" stroke="#a0a4aa" stroke-width="0.35"/><line x1="250.55" y1="203.73" x2="250.33" y2="208.14" stroke="#a0a4aa" stroke-width="0.35"/><line x1="250.55" y1="203.73" x2="250.55" y2="197.23" stroke="#a0a4aa" stroke-width="0.35"/><line x1="256.95" y1="203.77" x2="263.36" y2="203.82" stroke="#a0a4aa" stroke-width="0.35"/><line x1="256.95" y1="203.77" x2="257.33" y2="208.2" stroke="#a0a4aa" stroke-width="0.35"/><line x1="256.95" y1="203.77" x2="256.95" y2="197.27" stroke="#a0a4aa" stroke-width="0.35"/><line x1="263.36" y1="203.82" x2="269.77" y2="203.86" stroke="#a0a4aa" stroke-width="0.35"/><line x1="263.36" y1="203.82" x2="264.33" y2="208.26" stroke="#a0a4aa" stroke-width="0.35"/><line x1="263.36" y1="203.82" x2="263.36" y2="197.32" stroke="#a0a4aa" stroke-width="0.35"/><line x1="269.77" y1="203.86" x2="276.18" y2="203.91" stroke="#a0a4aa" stroke-width="0.35"/><line x1="269.77" y1="203.86" x2="271.33" y2="208.32" stroke="#a0a4aa" stroke-width="0.35"/><line x1="269.77" y1="203.86" x2="269.77" y2="197.36" stroke="#a0a4aa" stroke-width="0.35"/><line x1="276.18" y1="203.91" x2="282.59" y2="203.95" stroke="#a0a4aa" stroke-width="0.35"/><line x1="276.18" y1="203.91" x2="278.33" y2="208.38" stroke="#a0a4aa" stroke-width="0.35"/><line x1="276.18" y1="203.91" x2="276.18" y2="197.41" stroke="#a0a4aa" stroke-width="0.35"/><line x1="282.59" y1="203.95" x2="289" y2="204" stroke="#a0a4aa" stroke-width="0.35"/><line x1="282.59" y1="203.95" x2="285.33" y2="208.44" stroke="#a0a4aa" stroke-width="0.35"/><line x1="282.59" y1="203.95" x2="282.59" y2="197.45" stroke="#a0a4aa" stroke-width="0.35"/><line x1="289" y1="204" x2="292.33" y2="208.5" stroke="#a0a4aa" stroke-width="0.35"/><line x1="289" y1="204" x2="289" y2="197.5" stroke="#a0a4aa" stroke-width="0.35"/><line x1="215.33" y1="207.83" x2="222.33" y2="207.89" stroke="#a0a4aa" stroke-width="0.35"/><line x1="215.33" y1="207.83" x2="212.17" y2="212.17" stroke="#a0a4aa" stroke-width="0.35"/><line x1="215.33" y1="207.83" x2="215.33" y2="201.33" stroke="#a0a4aa" stroke-width="0.35"/><line x1="222.33" y1="207.89" x2="229.33" y2="207.95" stroke="#a0a4aa" stroke-width="0.35"/><line x1="222.33" y1="207.89" x2="219.76" y2="212.24" stroke="#a0a4aa" stroke-width="0.35"/><line x1="222.33" y1="207.89" x2="222.33" y2="201.39" stroke="#a0a4aa" stroke-width="0.35"/><line x1="229.33" y1="207.95" x2="236.33" y2="208.02" stroke="#a0a4aa" stroke-width="0.35"/><line x1="229.33" y1="207.95" x2="227.35" y2="212.32" stroke="#a0a4aa" stroke-width="0.35"/><line x1="229.33" y1="207.95" x2="229.33" y2="201.45" stroke="#a0a4aa" stroke-width="0.35"/><line x1="236.33" y1="208.02" x2="243.33" y2="208.08" stroke="#a0a4aa" stroke-width="0.35"/><line x1="236.33" y1="208.02" x2="234.94" y2="212.39" stroke="#a0a4aa" stroke-width="0.35"/><line x1="236.33" y1="208.02" x2="236.33" y2="201.52" stroke="#a0a4aa" stroke-width="0.35"/><line x1="243.33" y1="208.08" x2="250.33" y2="208.14" stroke="#a0a4aa" stroke-width="0.35"/><line x1="243.33" y1="208.08" x2="242.53" y2="212.47" stroke="#a0a4aa" stroke-width="0.35"/><line x1="243.33" y1="208.08" x2="243.33" y2="201.58" stroke="#a0a4aa" stroke-width="0.35"/><line x1="250.33" y1="208.14" x2="257.33" y2="208.2" stroke="#a0a4aa" stroke-width="0.35"/><line x1="250.33" y1="208.14" x2="250.12" y2="212.55" stroke="#a0a4aa" stroke-width="0.35"/><line x1="250.33" y1="208.14" x2="250.33" y2="201.64" stroke="#a0a4aa" stroke-width="0.35"/><line x1="257.33" y1="208.2" x2="264.33" y2="208.26" stroke="#a0a4aa" stroke-width="0.35"/><line x1="257.33" y1="208.2" x2="257.71" y2="212.62" stroke="#a0a4aa" stroke-width="0.35"/><line x1="257.33" y1="208.2" x2="257.33" y2="201.7" stroke="#a0a4aa" stroke-width="0.35"/><line x1="264.33" y1="208.26" x2="271.33" y2="208.32" stroke="#a0a4aa" stroke-width="0.35"/><line x1="264.33" y1="208.26" x2="265.3" y2="212.7" stroke="#a0a4aa" stroke-width="0.35"/><line x1="264.33" y1="208.26" x2="264.33" y2="201.76" stroke="#a0a4aa" stroke-width="0.35"/><line x1="271.33" y1="208.32" x2="278.33" y2="208.38" stroke="#a0a4aa" stroke-width="0.35"/><line x1="271.33" y1="208.32" x2="272.89" y2="212.77" stroke="#a0a4aa" stroke-width="0.35"/><line x1="271.33" y1="208.32" x2="271.33" y2="201.82" stroke="#a0a4aa" stroke-width="0.35"/><line x1="278.33" y1="208.38" x2="285.33" y2="208.44" stroke="#a0a4aa" stroke-width="0.35"/><line x1="278.33" y1="208.38" x2="280.48" y2="212.85" stroke="#a0a4aa" stroke-width="0.35"/><line x1="278.33" y1="208.38" x2="278.33" y2="201.88" stroke="#a0a4aa" stroke-width="0.35"/><line x1="285.33" y1="208.44" x2="292.33" y2="208.5" stroke="#a0a4aa" stroke-width="0.35"/><line x1="285.33" y1="208.44" x2="288.08" y2="212.92" stroke="#a0a4aa" stroke-width="0.35"/><line x1="285.33" y1="208.44" x2="285.33" y2="201.94" stroke="#a0a4aa" stroke-width="0.35"/><line x1="292.33" y1="208.5" x2="295.67" y2="213" stroke="#a0a4aa" stroke-width="0.35"/><line x1="292.33" y1="208.5" x2="292.33" y2="202" stroke="#a0a4aa" stroke-width="0.35"/><line x1="212.17" y1="212.17" x2="219.76" y2="212.24" stroke="#a0a4aa" stroke-width="0.35"/><line x1="212.17" y1="212.17" x2="209" y2="216.5" stroke="#a0a4aa" stroke-width="0.35"/><line x1="212.17" y1="212.17" x2="212.17" y2="205.67" stroke="#a0a4aa" stroke-width="0.35"/><line x1="219.76" y1="212.24" x2="227.35" y2="212.32" stroke="#a0a4aa" stroke-width="0.35"/><line x1="219.76" y1="212.24" x2="217.18" y2="216.59" stroke="#a0a4aa" stroke-width="0.35"/><line x1="219.76" y1="212.24" x2="219.76" y2="205.74" stroke="#a0a4aa" stroke-width="0.35"/><line x1="227.35" y1="212.32" x2="234.94" y2="212.39" stroke="#a0a4aa" stroke-width="0.35"/><line x1="227.35" y1="212.32" x2="225.36" y2="216.68" stroke="#a0a4aa" stroke-width="0.35"/><line x1="227.35" y1="212.32" x2="227.35" y2="205.82" stroke="#a0a4aa" stroke-width="0.35"/><line x1="234.94" y1="212.39" x2="242.53" y2="212.47" stroke="#a0a4aa" stroke-width="0.35"/><line x1="234.94" y1="212.39" x2="233.55" y2="216.77" stroke="#a0a4aa" stroke-width="0.35"/><line x1="234.94" y1="212.39" x2="234.94" y2="205.89" stroke="#a0a4aa" stroke-width="0.35"/><line x1="242.53" y1="212.47" x2="250.12" y2="212.55" stroke="#a0a4aa" stroke-width="0.35"/><line x1="242.53" y1="212.47" x2="241.73" y2="216.86" stroke="#a0a4aa" stroke-width="0.35"/><line x1="242.53" y1="212.47" x2="242.53" y2="205.97" stroke="#a0a4aa" stroke-width="0.35"/><line x1="250.12" y1="212.55" x2="257.71" y2="212.62" stroke="#a0a4aa" stroke-width="0.35"/><line x1="250.12" y1="212.55" x2="249.91" y2="216.95" stroke="#a0a4aa" stroke-width="0.35"/><line x1="250.12" y1="212.55" x2="250.12" y2="206.05" stroke="#a0a4aa" stroke-width="0.35"/><line x1="257.71" y1="212.62" x2="265.3" y2="212.7" stroke="#a0a4aa" stroke-width="0.35"/><line x1="257.71" y1="212.62" x2="258.09" y2="217.05" stroke="#a0a4aa" stroke-width="0.35"/><line x1="257.71" y1="212.62" x2="257.71" y2="206.12" stroke="#a0a4aa" stroke-width="0.35"/><line x1="265.3" y1="212.7" x2="272.89" y2="212.77" stroke="#a0a4aa" stroke-width="0.35"/><line x1="265.3" y1="212.7" x2="266.27" y2="217.14" stroke="#a0a4aa" stroke-width="0.35"/><line x1="265.3" y1="212.7" x2="265.3" y2="206.2" stroke="#a0a4aa" stroke-width="0.35"/><line x1="272.89" y1="212.77" x2="280.48" y2="212.85" stroke="#a0a4aa" stroke-width="0.35"/><line x1="272.89" y1="212.77" x2="274.45" y2="217.23" stroke="#a0a4aa" stroke-width="0.35"/><line x1="272.89" y1="212.77" x2="272.89" y2="206.27" stroke="#a0a4aa" stroke-width="0.35"/><line x1="280.48" y1="212.85" x2="288.08" y2="212.92" stroke="#a0a4aa" stroke-width="0.35"/><line x1="280.48" y1="212.85" x2="282.64" y2="217.32" stroke="#a0a4aa" stroke-width="0.35"/><line x1="280.48" y1="212.85" x2="280.48" y2="206.35" stroke="#a0a4aa" stroke-width="0.35"/><line x1="288.08" y1="212.92" x2="295.67" y2="213" stroke="#a0a4aa" stroke-width="0.35"/><line x1="288.08" y1="212.92" x2="290.82" y2="217.41" stroke="#a0a4aa" stroke-width="0.35"/><line x1="288.08" y1="212.92" x2="288.08" y2="206.42" stroke="#a0a4aa" stroke-width="0.35"/><line x1="295.67" y1="213" x2="299" y2="217.5" stroke="#a0a4aa" stroke-width="0.35"/><line x1="295.67" y1="213" x2="295.67" y2="206.5" stroke="#a0a4aa" stroke-width="0.35"/><line x1="209" y1="216.5" x2="217.18" y2="216.59" stroke="#a0a4aa" stroke-width="0.35"/><line x1="209" y1="216.5" x2="209" y2="210" stroke="#a0a4aa" stroke-width="0.35"/><line x1="217.18" y1="216.59" x2="225.36" y2="216.68" stroke="#a0a4aa" stroke-width="0.35"/><line x1="217.18" y1="216.59" x2="217.18" y2="210.09" stroke="#a0a4aa" stroke-width="0.35"/><line x1="225.36" y1="216.68" x2="233.55" y2="216.77" stroke="#a0a4aa" stroke-width="0.35"/><line x1="225.36" y1="216.68" x2="225.36" y2="210.18" stroke="#a0a4aa" stroke-width="0.35"/><line x1="233.55" y1="216.77" x2="241.73" y2="216.86" stroke="#a0a4aa" stroke-width="0.35"/><line x1="233.55" y1="216.77" x2="233.55" y2="210.27" stroke="#a0a4aa" stroke-width="0.35"/><line x1="241.73" y1="216.86" x2="249.91" y2="216.95" stroke="#a0a4aa" stroke-width="0.35"/><line x1="241.73" y1="216.86" x2="241.73" y2="210.36" stroke="#a0a4aa" stroke-width="0.35"/><line x1="249.91" y1="216.95" x2="258.09" y2="217.05" stroke="#a0a4aa" stroke-width="0.35"/><line x1="249.91" y1="216.95" x2="249.91" y2="210.45" stroke="#a0a4aa" stroke-width="0.35"/><line x1="258.09" y1="217.05" x2="266.27" y2="217.14" stroke="#a0a4aa" stroke-width="0.35"/><line x1="258.09" y1="217.05" x2="258.09" y2="210.55" stroke="#a0a4aa" stroke-width="0.35"/><line x1="266.27" y1="217.14" x2="274.45" y2="217.23" stroke="#a0a4aa" stroke-width="0.35"/><line x1="266.27" y1="217.14" x2="266.27" y2="210.64" stroke="#a0a4aa" stroke-width="0.35"/><line x1="274.45" y1="217.23" x2="282.64" y2="217.32" stroke="#a0a4aa" stroke-width="0.35"/><line x1="274.45" y1="217.23" x2="274.45" y2="210.73" stroke="#a0a4aa" stroke-width="0.35"/><line x1="282.64" y1="217.32" x2="290.82" y2="217.41" stroke="#a0a4aa" stroke-width="0.35"/><line x1="282.64" y1="217.32" x2="282.64" y2="210.82" stroke="#a0a4aa" stroke-width="0.35"/><line x1="290.82" y1="217.41" x2="299" y2="217.5" stroke="#a0a4aa" stroke-width="0.35"/><line x1="290.82" y1="217.41" x2="290.82" y2="210.91" stroke="#a0a4aa" stroke-width="0.35"/><line x1="299" y1="217.5" x2="299" y2="211" stroke="#a0a4aa" stroke-width="0.35"/><line x1="228" y1="197" x2="232.64" y2="197" stroke="#a0a4aa" stroke-width="0.35"/><line x1="228" y1="197" x2="224.83" y2="201.33" stroke="#a0a4aa" stroke-width="0.35"/><line x1="228" y1="197" x2="228" y2="190.5" stroke="#a0a4aa" stroke-width="0.35"/><line x1="232.64" y1="197" x2="237.27" y2="197" stroke="#a0a4aa" stroke-width="0.35"/><line x1="232.64" y1="197" x2="230.06" y2="201.35" stroke="#a0a4aa" stroke-width="0.35"/><line x1="232.64" y1="197" x2="232.64" y2="190.5" stroke="#a0a4aa" stroke-width="0.35"/><line x1="237.27" y1="197" x2="241.91" y2="197" stroke="#a0a4aa" stroke-width="0.35"/><line x1="237.27" y1="197" x2="235.29" y2="201.36" stroke="#a0a4aa" stroke-width="0.35"/><line x1="237.27" y1="197" x2="237.27" y2="190.5" stroke="#a0a4aa" stroke-width="0.35"/><line x1="241.91" y1="197" x2="246.55" y2="197" stroke="#a0a4aa" stroke-width="0.35"/><line x1="241.91" y1="197" x2="240.52" y2="201.38" stroke="#a0a4aa" stroke-width="0.35"/><line x1="241.91" y1="197" x2="241.91" y2="190.5" stroke="#a0a4aa" stroke-width="0.35"/><line x1="246.55" y1="197" x2="251.18" y2="197" stroke="#a0a4aa" stroke-width="0.35"/><line x1="246.55" y1="197" x2="245.74" y2="201.39" stroke="#a0a4aa" stroke-width="0.35"/><line x1="246.55" y1="197" x2="246.55" y2="190.5" stroke="#a0a4aa" stroke-width="0.35"/><line x1="251.18" y1="197" x2="255.82" y2="197" stroke="#a0a4aa" stroke-width="0.35"/><line x1="251.18" y1="197" x2="250.97" y2="201.41" stroke="#a0a4aa" stroke-width="0.35"/><line x1="251.18" y1="197" x2="251.18" y2="190.5" stroke="#a0a4aa" stroke-width="0.35"/><line x1="255.82" y1="197" x2="260.45" y2="197" stroke="#a0a4aa" stroke-width="0.35"/><line x1="255.82" y1="197" x2="256.2" y2="201.42" stroke="#a0a4aa" stroke-width="0.35"/><line x1="255.82" y1="197" x2="255.82" y2="190.5" stroke="#a0a4aa" stroke-width="0.35"/><line x1="260.45" y1="197" x2="265.09" y2="197" stroke="#a0a4aa" stroke-width="0.35"/><line x1="260.45" y1="197" x2="261.42" y2="201.44" stroke="#a0a4aa" stroke-width="0.35"/><line x1="260.45" y1="197" x2="260.45" y2="190.5" stroke="#a0a4aa" stroke-width="0.35"/><line x1="265.09" y1="197" x2="269.73" y2="197" stroke="#a0a4aa" stroke-width="0.35"/><line x1="265.09" y1="197" x2="266.65" y2="201.45" stroke="#a0a4aa" stroke-width="0.35"/><line x1="265.09" y1="197" x2="265.09" y2="190.5" stroke="#a0a4aa" stroke-width="0.35"/><line x1="269.73" y1="197" x2="274.36" y2="197" stroke="#a0a4aa" stroke-width="0.35"/><line x1="269.73" y1="197" x2="271.88" y2="201.47" stroke="#a0a4aa" stroke-width="0.35"/><line x1="269.73" y1="197" x2="269.73" y2="190.5" stroke="#a0a4aa" stroke-width="0.35"/><line x1="274.36" y1="197" x2="279" y2="197" stroke="#a0a4aa" stroke-width="0.35"/><line x1="274.36" y1="197" x2="277.11" y2="201.48" stroke="#a0a4aa" stroke-width="0.35"/><line x1="274.36" y1="197" x2="274.36" y2="190.5" stroke="#a0a4aa" stroke-width="0.35"/><line x1="279" y1="197" x2="282.33" y2="201.5" stroke="#a0a4aa" stroke-width="0.35"/><line x1="279" y1="197" x2="279" y2="190.5" stroke="#a0a4aa" stroke-width="0.35"/><line x1="224.83" y1="201.33" x2="230.06" y2="201.35" stroke="#a0a4aa" stroke-width="0.35"/><line x1="224.83" y1="201.33" x2="221.67" y2="205.67" stroke="#a0a4aa" stroke-width="0.35"/><line x1="224.83" y1="201.33" x2="224.83" y2="194.83" stroke="#a0a4aa" stroke-width="0.35"/><line x1="230.06" y1="201.35" x2="235.29" y2="201.36" stroke="#a0a4aa" stroke-width="0.35"/><line x1="230.06" y1="201.35" x2="227.48" y2="205.7" stroke="#a0a4aa" stroke-width="0.35"/><line x1="230.06" y1="201.35" x2="230.06" y2="194.85" stroke="#a0a4aa" stroke-width="0.35"/><line x1="235.29" y1="201.36" x2="240.52" y2="201.38" stroke="#a0a4aa" stroke-width="0.35"/><line x1="235.29" y1="201.36" x2="233.3" y2="205.73" stroke="#a0a4aa" stroke-width="0.35"/><line x1="235.29" y1="201.36" x2="235.29" y2="194.86" stroke="#a0a4aa" stroke-width="0.35"/><line x1="240.52" y1="201.38" x2="245.74" y2="201.39" stroke="#a0a4aa" stroke-width="0.35"/><line x1="240.52" y1="201.38" x2="239.12" y2="205.76" stroke="#a0a4aa" stroke-width="0.35"/><line x1="240.52" y1="201.38" x2="240.52" y2="194.88" stroke="#a0a4aa" stroke-width="0.35"/><line x1="245.74" y1="201.39" x2="250.97" y2="201.41" stroke="#a0a4aa" stroke-width="0.35"/><line x1="245.74" y1="201.39" x2="244.94" y2="205.79" stroke="#a0a4aa" stroke-width="0.35"/><line x1="245.74" y1="201.39" x2="245.74" y2="194.89" stroke="#a0a4aa" stroke-width="0.35"/><line x1="250.97" y1="201.41" x2="256.2" y2="201.42" stroke="#a0a4aa" stroke-width="0.35"/><line x1="250.97" y1="201.41" x2="250.76" y2="205.82" stroke="#a0a4aa" stroke-width="0.35"/><line x1="250.97" y1="201.41" x2="250.97" y2="194.91" stroke="#a0a4aa" stroke-width="0.35"/><line x1="256.2" y1="201.42" x2="261.42" y2="201.44" stroke="#a0a4aa" stroke-width="0.35"/><line x1="256.2" y1="201.42" x2="256.58" y2="205.85" stroke="#a0a4aa" stroke-width="0.35"/><line x1="256.2" y1="201.42" x2="256.2" y2="194.92" stroke="#a0a4aa" stroke-width="0.35"/><line x1="261.42" y1="201.44" x2="266.65" y2="201.45" stroke="#a0a4aa" stroke-width="0.35"/><line x1="261.42" y1="201.44" x2="262.39" y2="205.88" stroke="#a0a4aa" stroke-width="0.35"/><line x1="261.42" y1="201.44" x2="261.42" y2="194.94" stroke="#a0a4aa" stroke-width="0.35"/><line x1="266.65" y1="201.45" x2="271.88" y2="201.47" stroke="#a0a4aa" stroke-width="0.35"/><line x1="266.65" y1="201.45" x2="268.21" y2="205.91" stroke="#a0a4aa" stroke-width="0.35"/><line x1="266.65" y1="201.45" x2="266.65" y2="194.95" stroke="#a0a4aa" stroke-width="0.35"/><line x1="271.88" y1="201.47" x2="277.11" y2="201.48" stroke="#a0a4aa" stroke-width="0.35"/><line x1="271.88" y1="201.47" x2="274.03" y2="205.94" stroke="#a0a4aa" stroke-width="0.35"/><line x1="271.88" y1="201.47" x2="271.88" y2="194.97" stroke="#a0a4aa" stroke-width="0.35"/><line x1="277.11" y1="201.48" x2="282.33" y2="201.5" stroke="#a0a4aa" stroke-width="0.35"/><line x1="277.11" y1="201.48" x2="279.85" y2="205.97" stroke="#a0a4aa" stroke-width="0.35"/><line x1="277.11" y1="201.48" x2="277.11" y2="194.98" stroke="#a0a4aa" stroke-width="0.35"/><line x1="282.33" y1="201.5" x2="285.67" y2="206" stroke="#a0a4aa" stroke-width="0.35"/><line x1="282.33" y1="201.5" x2="282.33" y2="195" stroke="#a0a4aa" stroke-width="0.35"/><line x1="221.67" y1="205.67" x2="227.48" y2="205.7" stroke="#a0a4aa" stroke-width="0.35"/><line x1="221.67" y1="205.67" x2="218.5" y2="210" stroke="#a0a4aa" stroke-width="0.35"/><line x1="221.67" y1="205.67" x2="221.67" y2="199.17" stroke="#a0a4aa" stroke-width="0.35"/><line x1="227.48" y1="205.7" x2="233.3" y2="205.73" stroke="#a0a4aa" stroke-width="0.35"/><line x1="227.48" y1="205.7" x2="224.91" y2="210.05" stroke="#a0a4aa" stroke-width="0.35"/><line x1="227.48" y1="205.7" x2="227.48" y2="199.2" stroke="#a0a4aa" stroke-width="0.35"/><line x1="233.3" y1="205.73" x2="239.12" y2="205.76" stroke="#a0a4aa" stroke-width="0.35"/><line x1="233.3" y1="205.73" x2="231.32" y2="210.09" stroke="#a0a4aa" stroke-width="0.35"/><line x1="233.3" y1="205.73" x2="233.3" y2="199.23" stroke="#a0a4aa" stroke-width="0.35"/><line x1="239.12" y1="205.76" x2="244.94" y2="205.79" stroke="#a0a4aa" stroke-width="0.35"/><line x1="239.12" y1="205.76" x2="237.73" y2="210.14" stroke="#a0a4aa" stroke-width="0.35"/><line x1="239.12" y1="205.76" x2="239.12" y2="199.26" stroke="#a0a4aa" stroke-width="0.35"/><line x1="244.94" y1="205.79" x2="250.76" y2="205.82" stroke="#a0a4aa" stroke-width="0.35"/><line x1="244.94" y1="205.79" x2="244.14" y2="210.18" stroke="#a0a4aa" stroke-width="0.35"/><line x1="244.94" y1="205.79" x2="244.94" y2="199.29" stroke="#a0a4aa" stroke-width="0.35"/><line x1="250.76" y1="205.82" x2="256.58" y2="205.85" stroke="#a0a4aa" stroke-width="0.35"/><line x1="250.76" y1="205.82" x2="250.55" y2="210.23" stroke="#a0a4aa" stroke-width="0.35"/><line x1="250.76" y1="205.82" x2="250.76" y2="199.32" stroke="#a0a4aa" stroke-width="0.35"/><line x1="256.58" y1="205.85" x2="262.39" y2="205.88" stroke="#a0a4aa" stroke-width="0.35"/><line x1="256.58" y1="205.85" x2="256.95" y2="210.27" stroke="#a0a4aa" stroke-width="0.35"/><line x1="256.58" y1="205.85" x2="256.58" y2="199.35" stroke="#a0a4aa" stroke-width="0.35"/><line x1="262.39" y1="205.88" x2="268.21" y2="205.91" stroke="#a0a4aa" stroke-width="0.35"/><line x1="262.39" y1="205.88" x2="263.36" y2="210.32" stroke="#a0a4aa" stroke-width="0.35"/><line x1="262.39" y1="205.88" x2="262.39" y2="199.38" stroke="#a0a4aa" stroke-width="0.35"/><line x1="268.21" y1="205.91" x2="274.03" y2="205.94" stroke="#a0a4aa" stroke-width="0.35"/><line x1="268.21" y1="205.91" x2="269.77" y2="210.36" stroke="#a0a4aa" stroke-width="0.35"/><line x1="268.21" y1="205.91" x2="268.21" y2="199.41" stroke="#a0a4aa" stroke-width="0.35"/><line x1="274.03" y1="205.94" x2="279.85" y2="205.97" stroke="#a0a4aa" stroke-width="0.35"/><line x1="274.03" y1="205.94" x2="276.18" y2="210.41" stroke="#a0a4aa" stroke-width="0.35"/><line x1="274.03" y1="205.94" x2="274.03" y2="199.44" stroke="#a0a4aa" stroke-width="0.35"/><line x1="279.85" y1="205.97" x2="285.67" y2="206" stroke="#a0a4aa" stroke-width="0.35"/><line x1="279.85" y1="205.97" x2="282.59" y2="210.45" stroke="#a0a4aa" stroke-width="0.35"/><line x1="279.85" y1="205.97" x2="279.85" y2="199.47" stroke="#a0a4aa" stroke-width="0.35"/><line x1="285.67" y1="206" x2="289" y2="210.5" stroke="#a0a4aa" stroke-width="0.35"/><line x1="285.67" y1="206" x2="285.67" y2="199.5" stroke="#a0a4aa" stroke-width="0.35"/><line x1="218.5" y1="210" x2="224.91" y2="210.05" stroke="#a0a4aa" stroke-width="0.35"/><line x1="218.5" y1="210" x2="215.33" y2="214.33" stroke="#a0a4aa" stroke-width="0.35"/><line x1="218.5" y1="210" x2="218.5" y2="203.5" stroke="#a0a4aa" stroke-width="0.35"/><line x1="224.91" y1="210.05" x2="231.32" y2="210.09" stroke="#a0a4aa" stroke-width="0.35"/><line x1="224.91" y1="210.05" x2="222.33" y2="214.39" stroke="#a0a4aa" stroke-width="0.35"/><line x1="224.91" y1="210.05" x2="224.91" y2="203.55" stroke="#a0a4aa" stroke-width="0.35"/><line x1="231.32" y1="210.09" x2="237.73" y2="210.14" stroke="#a0a4aa" stroke-width="0.35"/><line x1="231.32" y1="210.09" x2="229.33" y2="214.45" stroke="#a0a4aa" stroke-width="0.35"/><line x1="231.32" y1="210.09" x2="231.32" y2="203.59" stroke="#a0a4aa" stroke-width="0.35"/><line x1="237.73" y1="210.14" x2="244.14" y2="210.18" stroke="#a0a4aa" stroke-width="0.35"/><line x1="237.73" y1="210.14" x2="236.33" y2="214.52" stroke="#a0a4aa" stroke-width="0.35"/><line x1="237.73" y1="210.14" x2="237.73" y2="203.64" stroke="#a0a4aa" stroke-width="0.35"/><line x1="244.14" y1="210.18" x2="250.55" y2="210.23" stroke="#a0a4aa" stroke-width="0.35"/><line x1="244.14" y1="210.18" x2="243.33" y2="214.58" stroke="#a0a4aa" stroke-width="0.35"/><line x1="244.14" y1="210.18" x2="244.14" y2="203.68" stroke="#a0a4aa" stroke-width="0.35"/><line x1="250.55" y1="210.23" x2="256.95" y2="210.27" stroke="#a0a4aa" stroke-width="0.35"/><line x1="250.55" y1="210.23" x2="250.33" y2="214.64" stroke="#a0a4aa" stroke-width="0.35"/><line x1="250.55" y1="210.23" x2="250.55" y2="203.73" stroke="#a0a4aa" stroke-width="0.35"/><line x1="256.95" y1="210.27" x2="263.36" y2="210.32" stroke="#a0a4aa" stroke-width="0.35"/><line x1="256.95" y1="210.27" x2="257.33" y2="214.7" stroke="#a0a4aa" stroke-width="0.35"/><line x1="256.95" y1="210.27" x2="256.95" y2="203.77" stroke="#a0a4aa" stroke-width="0.35"/><line x1="263.36" y1="210.32" x2="269.77" y2="210.36" stroke="#a0a4aa" stroke-width="0.35"/><line x1="263.36" y1="210.32" x2="264.33" y2="214.76" stroke="#a0a4aa" stroke-width="0.35"/><line x1="263.36" y1="210.32" x2="263.36" y2="203.82" stroke="#a0a4aa" stroke-width="0.35"/><line x1="269.77" y1="210.36" x2="276.18" y2="210.41" stroke="#a0a4aa" stroke-width="0.35"/><line x1="269.77" y1="210.36" x2="271.33" y2="214.82" stroke="#a0a4aa" stroke-width="0.35"/><line x1="269.77" y1="210.36" x2="269.77" y2="203.86" stroke="#a0a4aa" stroke-width="0.35"/><line x1="276.18" y1="210.41" x2="282.59" y2="210.45" stroke="#a0a4aa" stroke-width="0.35"/><line x1="276.18" y1="210.41" x2="278.33" y2="214.88" stroke="#a0a4aa" stroke-width="0.35"/><line x1="276.18" y1="210.41" x2="276.18" y2="203.91" stroke="#a0a4aa" stroke-width="0.35"/><line x1="282.59" y1="210.45" x2="289" y2="210.5" stroke="#a0a4aa" stroke-width="0.35"/><line x1="282.59" y1="210.45" x2="285.33" y2="214.94" stroke="#a0a4aa" stroke-width="0.35"/><line x1="282.59" y1="210.45" x2="282.59" y2="203.95" stroke="#a0a4aa" stroke-width="0.35"/><line x1="289" y1="210.5" x2="292.33" y2="215" stroke="#a0a4aa" stroke-width="0.35"/><line x1="289" y1="210.5" x2="289" y2="204" stroke="#a0a4aa" stroke-width="0.35"/><line x1="215.33" y1="214.33" x2="222.33" y2="214.39" stroke="#a0a4aa" stroke-width="0.35"/><line x1="215.33" y1="214.33" x2="212.17" y2="218.67" stroke="#a0a4aa" stroke-width="0.35"/><line x1="215.33" y1="214.33" x2="215.33" y2="207.83" stroke="#a0a4aa" stroke-width="0.35"/><line x1="222.33" y1="214.39" x2="229.33" y2="214.45" stroke="#a0a4aa" stroke-width="0.35"/><line x1="222.33" y1="214.39" x2="219.76" y2="218.74" stroke="#a0a4aa" stroke-width="0.35"/><line x1="222.33" y1="214.39" x2="222.33" y2="207.89" stroke="#a0a4aa" stroke-width="0.35"/><line x1="229.33" y1="214.45" x2="236.33" y2="214.52" stroke="#a0a4aa" stroke-width="0.35"/><line x1="229.33" y1="214.45" x2="227.35" y2="218.82" stroke="#a0a4aa" stroke-width="0.35"/><line x1="229.33" y1="214.45" x2="229.33" y2="207.95" stroke="#a0a4aa" stroke-width="0.35"/><line x1="236.33" y1="214.52" x2="243.33" y2="214.58" stroke="#a0a4aa" stroke-width="0.35"/><line x1="236.33" y1="214.52" x2="234.94" y2="218.89" stroke="#a0a4aa" stroke-width="0.35"/><line x1="236.33" y1="214.52" x2="236.33" y2="208.02" stroke="#a0a4aa" stroke-width="0.35"/><line x1="243.33" y1="214.58" x2="250.33" y2="214.64" stroke="#a0a4aa" stroke-width="0.35"/><line x1="243.33" y1="214.58" x2="242.53" y2="218.97" stroke="#a0a4aa" stroke-width="0.35"/><line x1="243.33" y1="214.58" x2="243.33" y2="208.08" stroke="#a0a4aa" stroke-width="0.35"/><line x1="250.33" y1="214.64" x2="257.33" y2="214.7" stroke="#a0a4aa" stroke-width="0.35"/><line x1="250.33" y1="214.64" x2="250.12" y2="219.05" stroke="#a0a4aa" stroke-width="0.35"/><line x1="250.33" y1="214.64" x2="250.33" y2="208.14" stroke="#a0a4aa" stroke-width="0.35"/><line x1="257.33" y1="214.7" x2="264.33" y2="214.76" stroke="#a0a4aa" stroke-width="0.35"/><line x1="257.33" y1="214.7" x2="257.71" y2="219.12" stroke="#a0a4aa" stroke-width="0.35"/><line x1="257.33" y1="214.7" x2="257.33" y2="208.2" stroke="#a0a4aa" stroke-width="0.35"/><line x1="264.33" y1="214.76" x2="271.33" y2="214.82" stroke="#a0a4aa" stroke-width="0.35"/><line x1="264.33" y1="214.76" x2="265.3" y2="219.2" stroke="#a0a4aa" stroke-width="0.35"/><line x1="264.33" y1="214.76" x2="264.33" y2="208.26" stroke="#a0a4aa" stroke-width="0.35"/><line x1="271.33" y1="214.82" x2="278.33" y2="214.88" stroke="#a0a4aa" stroke-width="0.35"/><line x1="271.33" y1="214.82" x2="272.89" y2="219.27" stroke="#a0a4aa" stroke-width="0.35"/><line x1="271.33" y1="214.82" x2="271.33" y2="208.32" stroke="#a0a4aa" stroke-width="0.35"/><line x1="278.33" y1="214.88" x2="285.33" y2="214.94" stroke="#a0a4aa" stroke-width="0.35"/><line x1="278.33" y1="214.88" x2="280.48" y2="219.35" stroke="#a0a4aa" stroke-width="0.35"/><line x1="278.33" y1="214.88" x2="278.33" y2="208.38" stroke="#a0a4aa" stroke-width="0.35"/><line x1="285.33" y1="214.94" x2="292.33" y2="215" stroke="#a0a4aa" stroke-width="0.35"/><line x1="285.33" y1="214.94" x2="288.08" y2="219.42" stroke="#a0a4aa" stroke-width="0.35"/><line x1="285.33" y1="214.94" x2="285.33" y2="208.44" stroke="#a0a4aa" stroke-width="0.35"/><line x1="292.33" y1="215" x2="295.67" y2="219.5" stroke="#a0a4aa" stroke-width="0.35"/><line x1="292.33" y1="215" x2="292.33" y2="208.5" stroke="#a0a4aa" stroke-width="0.35"/><line x1="212.17" y1="218.67" x2="219.76" y2="218.74" stroke="#a0a4aa" stroke-width="0.35"/><line x1="212.17" y1="218.67" x2="209" y2="223" stroke="#a0a4aa" stroke-width="0.35"/><line x1="212.17" y1="218.67" x2="212.17" y2="212.17" stroke="#a0a4aa" stroke-width="0.35"/><line x1="219.76" y1="218.74" x2="227.35" y2="218.82" stroke="#a0a4aa" stroke-width="0.35"/><line x1="219.76" y1="218.74" x2="217.18" y2="223.09" stroke="#a0a4aa" stroke-width="0.35"/><line x1="219.76" y1="218.74" x2="219.76" y2="212.24" stroke="#a0a4aa" stroke-width="0.35"/><line x1="227.35" y1="218.82" x2="234.94" y2="218.89" stroke="#a0a4aa" stroke-width="0.35"/><line x1="227.35" y1="218.82" x2="225.36" y2="223.18" stroke="#a0a4aa" stroke-width="0.35"/><line x1="227.35" y1="218.82" x2="227.35" y2="212.32" stroke="#a0a4aa" stroke-width="0.35"/><line x1="234.94" y1="218.89" x2="242.53" y2="218.97" stroke="#a0a4aa" stroke-width="0.35"/><line x1="234.94" y1="218.89" x2="233.55" y2="223.27" stroke="#a0a4aa" stroke-width="0.35"/><line x1="234.94" y1="218.89" x2="234.94" y2="212.39" stroke="#a0a4aa" stroke-width="0.35"/><line x1="242.53" y1="218.97" x2="250.12" y2="219.05" stroke="#a0a4aa" stroke-width="0.35"/><line x1="242.53" y1="218.97" x2="241.73" y2="223.36" stroke="#a0a4aa" stroke-width="0.35"/><line x1="242.53" y1="218.97" x2="242.53" y2="212.47" stroke="#a0a4aa" stroke-width="0.35"/><line x1="250.12" y1="219.05" x2="257.71" y2="219.12" stroke="#a0a4aa" stroke-width="0.35"/><line x1="250.12" y1="219.05" x2="249.91" y2="223.45" stroke="#a0a4aa" stroke-width="0.35"/><line x1="250.12" y1="219.05" x2="250.12" y2="212.55" stroke="#a0a4aa" stroke-width="0.35"/><line x1="257.71" y1="219.12" x2="265.3" y2="219.2" stroke="#a0a4aa" stroke-width="0.35"/><line x1="257.71" y1="219.12" x2="258.09" y2="223.55" stroke="#a0a4aa" stroke-width="0.35"/><line x1="257.71" y1="219.12" x2="257.71" y2="212.62" stroke="#a0a4aa" stroke-width="0.35"/><line x1="265.3" y1="219.2" x2="272.89" y2="219.27" stroke="#a0a4aa" stroke-width="0.35"/><line x1="265.3" y1="219.2" x2="266.27" y2="223.64" stroke="#a0a4aa" stroke-width="0.35"/><line x1="265.3" y1="219.2" x2="265.3" y2="212.7" stroke="#a0a4aa" stroke-width="0.35"/><line x1="272.89" y1="219.27" x2="280.48" y2="219.35" stroke="#a0a4aa" stroke-width="0.35"/><line x1="272.89" y1="219.27" x2="274.45" y2="223.73" stroke="#a0a4aa" stroke-width="0.35"/><line x1="272.89" y1="219.27" x2="272.89" y2="212.77" stroke="#a0a4aa" stroke-width="0.35"/><line x1="280.48" y1="219.35" x2="288.08" y2="219.42" stroke="#a0a4aa" stroke-width="0.35"/><line x1="280.48" y1="219.35" x2="282.64" y2="223.82" stroke="#a0a4aa" stroke-width="0.35"/><line x1="280.48" y1="219.35" x2="280.48" y2="212.85" stroke="#a0a4aa" stroke-width="0.35"/><line x1="288.08" y1="219.42" x2="295.67" y2="219.5" stroke="#a0a4aa" stroke-width="0.35"/><line x1="288.08" y1="219.42" x2="290.82" y2="223.91" stroke="#a0a4aa" stroke-width="0.35"/><line x1="288.08" y1="219.42" x2="288.08" y2="212.92" stroke="#a0a4aa" stroke-width="0.35"/><line x1="295.67" y1="219.5" x2="299" y2="224" stroke="#a0a4aa" stroke-width="0.35"/><line x1="295.67" y1="219.5" x2="295.67" y2="213" stroke="#a0a4aa" stroke-width="0.35"/><line x1="209" y1="223" x2="217.18" y2="223.09" stroke="#a0a4aa" stroke-width="0.35"/><line x1="209" y1="223" x2="209" y2="216.5" stroke="#a0a4aa" stroke-width="0.35"/><line x1="217.18" y1="223.09" x2="225.36" y2="223.18" stroke="#a0a4aa" stroke-width="0.35"/><line x1="217.18" y1="223.09" x2="217.18" y2="216.59" stroke="#a0a4aa" stroke-width="0.35"/><line x1="225.36" y1="223.18" x2="233.55" y2="223.27" stroke="#a0a4aa" stroke-width="0.35"/><line x1="225.36" y1="223.18" x2="225.36" y2="216.68" stroke="#a0a4aa" stroke-width="0.35"/><line x1="233.55" y1="223.27" x2="241.73" y2="223.36" stroke="#a0a4aa" stroke-width="0.35"/><line x1="233.55" y1="223.27" x2="233.55" y2="216.77" stroke="#a0a4aa" stroke-width="0.35"/><line x1="241.73" y1="223.36" x2="249.91" y2="223.45" stroke="#a0a4aa" stroke-width="0.35"/><line x1="241.73" y1="223.36" x2="241.73" y2="216.86" stroke="#a0a4aa" stroke-width="0.35"/><line x1="249.91" y1="223.45" x2="258.09" y2="223.55" stroke="#a0a4aa" stroke-width="0.35"/><line x1="249.91" y1="223.45" x2="249.91" y2="216.95" stroke="#a0a4aa" stroke-width="0.35"/><line x1="258.09" y1="223.55" x2="266.27" y2="223.64" stroke="#a0a4aa" stroke-width="0.35"/><line x1="258.09" y1="223.55" x2="258.09" y2="217.05" stroke="#a0a4aa" stroke-width="0.35"/><line x1="266.27" y1="223.64" x2="274.45" y2="223.73" stroke="#a0a4aa" stroke-width="0.35"/><line x1="266.27" y1="223.64" x2="266.27" y2="217.14" stroke="#a0a4aa" stroke-width="0.35"/><line x1="274.45" y1="223.73" x2="282.64" y2="223.82" stroke="#a0a4aa" stroke-width="0.35"/><line x1="274.45" y1="223.73" x2="274.45" y2="217.23" stroke="#a0a4aa" stroke-width="0.35"/><line x1="282.64" y1="223.82" x2="290.82" y2="223.91" stroke="#a0a4aa" stroke-width="0.35"/><line x1="282.64" y1="223.82" x2="282.64" y2="217.32" stroke="#a0a4aa" stroke-width="0.35"/><line x1="290.82" y1="223.91" x2="299" y2="224" stroke="#a0a4aa" stroke-width="0.35"/><line x1="290.82" y1="223.91" x2="290.82" y2="217.41" stroke="#a0a4aa" stroke-width="0.35"/><line x1="299" y1="224" x2="299" y2="217.5" stroke="#a0a4aa" stroke-width="0.35"/>
<circle cx="228" cy="184" r="1.75" fill="url(#gY)"/><circle cx="232.64" cy="184" r="1.75" fill="url(#gY)"/><circle cx="237.27" cy="184" r="1.75" fill="url(#gY)"/><circle cx="241.91" cy="184" r="1.75" fill="url(#gY)"/><circle cx="246.55" cy="184" r="1.75" fill="url(#gY)"/><circle cx="251.18" cy="184" r="1.75" fill="url(#gY)"/><circle cx="255.82" cy="184" r="1.75" fill="url(#gY)"/><circle cx="260.45" cy="184" r="1.75" fill="url(#gY)"/><circle cx="265.09" cy="184" r="1.75" fill="url(#gY)"/><circle cx="269.73" cy="184" r="1.75" fill="url(#gY)"/><circle cx="274.36" cy="184" r="1.75" fill="url(#gY)"/><circle cx="279" cy="184" r="1.75" fill="url(#gY)"/><circle cx="224.83" cy="188.33" r="1.75" fill="url(#gY)"/><circle cx="230.06" cy="188.35" r="1.75" fill="url(#gY)"/><circle cx="235.29" cy="188.36" r="1.75" fill="url(#gY)"/><circle cx="240.52" cy="188.38" r="1.75" fill="url(#gY)"/><circle cx="245.74" cy="188.39" r="1.75" fill="url(#gY)"/><circle cx="250.97" cy="188.41" r="1.75" fill="url(#gY)"/><circle cx="256.2" cy="188.42" r="1.75" fill="url(#gY)"/><circle cx="261.42" cy="188.44" r="1.75" fill="url(#gY)"/><circle cx="266.65" cy="188.45" r="1.75" fill="url(#gY)"/><circle cx="271.88" cy="188.47" r="1.75" fill="url(#gY)"/><circle cx="277.11" cy="188.48" r="1.75" fill="url(#gY)"/><circle cx="282.33" cy="188.5" r="1.75" fill="url(#gY)"/><circle cx="221.67" cy="192.67" r="1.75" fill="url(#gY)"/><circle cx="227.48" cy="192.7" r="1.75" fill="url(#gY)"/><circle cx="233.3" cy="192.73" r="1.75" fill="url(#gY)"/><circle cx="239.12" cy="192.76" r="1.75" fill="url(#gY)"/><circle cx="244.94" cy="192.79" r="1.75" fill="url(#gY)"/><circle cx="250.76" cy="192.82" r="1.75" fill="url(#gY)"/><circle cx="256.58" cy="192.85" r="1.75" fill="url(#gY)"/><circle cx="262.39" cy="192.88" r="1.75" fill="url(#gY)"/><circle cx="268.21" cy="192.91" r="1.75" fill="url(#gY)"/><circle cx="274.03" cy="192.94" r="1.75" fill="url(#gY)"/><circle cx="279.85" cy="192.97" r="1.75" fill="url(#gY)"/><circle cx="285.67" cy="193" r="1.75" fill="url(#gY)"/><circle cx="218.5" cy="197" r="1.75" fill="url(#gY)"/><circle cx="224.91" cy="197.05" r="1.75" fill="url(#gY)"/><circle cx="231.32" cy="197.09" r="1.75" fill="url(#gY)"/><circle cx="237.73" cy="197.14" r="1.75" fill="url(#gY)"/><circle cx="244.14" cy="197.18" r="1.75" fill="url(#gY)"/><circle cx="250.55" cy="197.23" r="1.75" fill="url(#gY)"/><circle cx="256.95" cy="197.27" r="1.75" fill="url(#gY)"/><circle cx="263.36" cy="197.32" r="1.75" fill="url(#gY)"/><circle cx="269.77" cy="197.36" r="1.75" fill="url(#gY)"/><circle cx="276.18" cy="197.41" r="1.75" fill="url(#gY)"/><circle cx="282.59" cy="197.45" r="1.75" fill="url(#gY)"/><circle cx="289" cy="197.5" r="1.75" fill="url(#gY)"/><circle cx="215.33" cy="201.33" r="1.75" fill="url(#gY)"/><circle cx="222.33" cy="201.39" r="1.75" fill="url(#gY)"/><circle cx="229.33" cy="201.45" r="1.75" fill="url(#gY)"/><circle cx="236.33" cy="201.52" r="1.75" fill="url(#gY)"/><circle cx="243.33" cy="201.58" r="1.75" fill="url(#gY)"/><circle cx="250.33" cy="201.64" r="1.75" fill="url(#gY)"/><circle cx="257.33" cy="201.7" r="1.75" fill="url(#gY)"/><circle cx="264.33" cy="201.76" r="1.75" fill="url(#gY)"/><circle cx="271.33" cy="201.82" r="1.75" fill="url(#gY)"/><circle cx="278.33" cy="201.88" r="1.75" fill="url(#gY)"/><circle cx="285.33" cy="201.94" r="1.75" fill="url(#gY)"/><circle cx="292.33" cy="202" r="1.75" fill="url(#gY)"/><circle cx="212.17" cy="205.67" r="1.75" fill="url(#gY)"/><circle cx="219.76" cy="205.74" r="1.75" fill="url(#gY)"/><circle cx="227.35" cy="205.82" r="1.75" fill="url(#gY)"/><circle cx="234.94" cy="205.89" r="1.75" fill="url(#gY)"/><circle cx="242.53" cy="205.97" r="1.75" fill="url(#gY)"/><circle cx="250.12" cy="206.05" r="1.75" fill="url(#gY)"/><circle cx="257.71" cy="206.12" r="1.75" fill="url(#gY)"/><circle cx="265.3" cy="206.2" r="1.75" fill="url(#gY)"/><circle cx="272.89" cy="206.27" r="1.75" fill="url(#gY)"/><circle cx="280.48" cy="206.35" r="1.75" fill="url(#gY)"/><circle cx="288.08" cy="206.42" r="1.75" fill="url(#gY)"/><circle cx="295.67" cy="206.5" r="1.75" fill="url(#gY)"/><circle cx="209" cy="210" r="1.75" fill="url(#gY)"/><circle cx="217.18" cy="210.09" r="1.75" fill="url(#gY)"/><circle cx="225.36" cy="210.18" r="1.75" fill="url(#gY)"/><circle cx="233.55" cy="210.27" r="1.75" fill="url(#gY)"/><circle cx="241.73" cy="210.36" r="1.75" fill="url(#gY)"/><circle cx="249.91" cy="210.45" r="1.75" fill="url(#gY)"/><circle cx="258.09" cy="210.55" r="1.75" fill="url(#gY)"/><circle cx="266.27" cy="210.64" r="1.75" fill="url(#gY)"/><circle cx="274.45" cy="210.73" r="1.75" fill="url(#gY)"/><circle cx="282.64" cy="210.82" r="1.75" fill="url(#gY)"/><circle cx="290.82" cy="210.91" r="1.75" fill="url(#gY)"/><circle cx="299" cy="211" r="1.75" fill="url(#gY)"/><circle cx="228" cy="190.5" r="1.25" fill="#8e929c"/><circle cx="232.64" cy="190.5" r="1.25" fill="#8e929c"/><circle cx="237.27" cy="190.5" r="1.25" fill="#8e929c"/><circle cx="241.91" cy="190.5" r="1.25" fill="#8e929c"/><circle cx="246.55" cy="190.5" r="1.25" fill="#8e929c"/><circle cx="251.18" cy="190.5" r="1.25" fill="#8e929c"/><circle cx="255.82" cy="190.5" r="1.25" fill="#8e929c"/><circle cx="260.45" cy="190.5" r="1.25" fill="#8e929c"/><circle cx="265.09" cy="190.5" r="1.25" fill="#8e929c"/><circle cx="269.73" cy="190.5" r="1.25" fill="#8e929c"/><circle cx="274.36" cy="190.5" r="1.25" fill="#8e929c"/><circle cx="279" cy="190.5" r="1.25" fill="#8e929c"/><circle cx="224.83" cy="194.83" r="1.25" fill="#8e929c"/><circle cx="230.06" cy="194.85" r="1.25" fill="#8e929c"/><circle cx="235.29" cy="194.86" r="1.25" fill="#8e929c"/><circle cx="240.52" cy="194.88" r="1.25" fill="#8e929c"/><circle cx="245.74" cy="194.89" r="1.25" fill="#8e929c"/><circle cx="250.97" cy="194.91" r="1.25" fill="#8e929c"/><circle cx="256.2" cy="194.92" r="1.25" fill="#8e929c"/><circle cx="261.42" cy="194.94" r="1.25" fill="#8e929c"/><circle cx="266.65" cy="194.95" r="1.25" fill="#8e929c"/><circle cx="271.88" cy="194.97" r="1.25" fill="#8e929c"/><circle cx="277.11" cy="194.98" r="1.25" fill="#8e929c"/><circle cx="282.33" cy="195" r="1.25" fill="#8e929c"/><circle cx="221.67" cy="199.17" r="1.25" fill="#8e929c"/><circle cx="227.48" cy="199.2" r="1.25" fill="#8e929c"/><circle cx="233.3" cy="199.23" r="1.25" fill="#8e929c"/><circle cx="239.12" cy="199.26" r="1.25" fill="#8e929c"/><circle cx="244.94" cy="199.29" r="1.25" fill="#8e929c"/><circle cx="250.76" cy="199.32" r="1.25" fill="#8e929c"/><circle cx="256.58" cy="199.35" r="1.25" fill="#8e929c"/><circle cx="262.39" cy="199.38" r="1.25" fill="#8e929c"/><circle cx="268.21" cy="199.41" r="1.25" fill="#8e929c"/><circle cx="274.03" cy="199.44" r="1.25" fill="#8e929c"/><circle cx="279.85" cy="199.47" r="1.25" fill="#8e929c"/><circle cx="285.67" cy="199.5" r="1.25" fill="#8e929c"/><circle cx="218.5" cy="203.5" r="1.25" fill="#8e929c"/><circle cx="224.91" cy="203.55" r="1.25" fill="#8e929c"/><circle cx="231.32" cy="203.59" r="1.25" fill="#8e929c"/><circle cx="237.73" cy="203.64" r="1.25" fill="#8e929c"/><circle cx="244.14" cy="203.68" r="1.25" fill="#8e929c"/><circle cx="250.55" cy="203.73" r="1.25" fill="#8e929c"/><circle cx="256.95" cy="203.77" r="1.25" fill="#8e929c"/><circle cx="263.36" cy="203.82" r="1.25" fill="#8e929c"/><circle cx="269.77" cy="203.86" r="1.25" fill="#8e929c"/><circle cx="276.18" cy="203.91" r="1.25" fill="#8e929c"/><circle cx="282.59" cy="203.95" r="1.25" fill="#8e929c"/><circle cx="289" cy="204" r="1.25" fill="#8e929c"/><circle cx="215.33" cy="207.83" r="1.25" fill="#8e929c"/><circle cx="222.33" cy="207.89" r="1.25" fill="#8e929c"/><circle cx="229.33" cy="207.95" r="1.25" fill="#8e929c"/><circle cx="236.33" cy="208.02" r="1.25" fill="#8e929c"/><circle cx="243.33" cy="208.08" r="1.25" fill="#8e929c"/><circle cx="250.33" cy="208.14" r="1.25" fill="#8e929c"/><circle cx="257.33" cy="208.2" r="1.25" fill="#8e929c"/><circle cx="264.33" cy="208.26" r="1.25" fill="#8e929c"/><circle cx="271.33" cy="208.32" r="1.25" fill="#8e929c"/><circle cx="278.33" cy="208.38" r="1.25" fill="#8e929c"/><circle cx="285.33" cy="208.44" r="1.25" fill="#8e929c"/><circle cx="292.33" cy="208.5" r="1.25" fill="#8e929c"/><circle cx="212.17" cy="212.17" r="1.25" fill="#8e929c"/><circle cx="219.76" cy="212.24" r="1.25" fill="#8e929c"/><circle cx="227.35" cy="212.32" r="1.25" fill="#8e929c"/><circle cx="234.94" cy="212.39" r="1.25" fill="#8e929c"/><circle cx="242.53" cy="212.47" r="1.25" fill="#8e929c"/><circle cx="250.12" cy="212.55" r="1.25" fill="#8e929c"/><circle cx="257.71" cy="212.62" r="1.25" fill="#8e929c"/><circle cx="265.3" cy="212.7" r="1.25" fill="#8e929c"/><circle cx="272.89" cy="212.77" r="1.25" fill="#8e929c"/><circle cx="280.48" cy="212.85" r="1.25" fill="#8e929c"/><circle cx="288.08" cy="212.92" r="1.25" fill="#8e929c"/><circle cx="295.67" cy="213" r="1.25" fill="#8e929c"/><circle cx="209" cy="216.5" r="1.25" fill="#8e929c"/><circle cx="217.18" cy="216.59" r="1.25" fill="#8e929c"/><circle cx="225.36" cy="216.68" r="1.25" fill="#8e929c"/><circle cx="233.55" cy="216.77" r="1.25" fill="#8e929c"/><circle cx="241.73" cy="216.86" r="1.25" fill="#8e929c"/><circle cx="249.91" cy="216.95" r="1.25" fill="#8e929c"/><circle cx="258.09" cy="217.05" r="1.25" fill="#8e929c"/><circle cx="266.27" cy="217.14" r="1.25" fill="#8e929c"/><circle cx="274.45" cy="217.23" r="1.25" fill="#8e929c"/><circle cx="282.64" cy="217.32" r="1.25" fill="#8e929c"/><circle cx="290.82" cy="217.41" r="1.25" fill="#8e929c"/><circle cx="299" cy="217.5" r="1.25" fill="#8e929c"/><circle cx="228" cy="197" r="1.75" fill="url(#gY)"/><circle cx="232.64" cy="197" r="1.25" fill="#8e929c"/><circle cx="237.27" cy="197" r="1.75" fill="url(#gY)"/><circle cx="241.91" cy="197" r="1.25" fill="#8e929c"/><circle cx="246.55" cy="197" r="1.75" fill="url(#gY)"/><circle cx="251.18" cy="197" r="1.25" fill="#8e929c"/><circle cx="255.82" cy="197" r="1.75" fill="url(#gY)"/><circle cx="260.45" cy="197" r="1.25" fill="#8e929c"/><circle cx="265.09" cy="197" r="1.75" fill="url(#gY)"/><circle cx="269.73" cy="197" r="1.25" fill="#8e929c"/><circle cx="274.36" cy="197" r="1.75" fill="url(#gY)"/><circle cx="279" cy="197" r="1.25" fill="#8e929c"/><circle cx="224.83" cy="201.33" r="1.25" fill="#8e929c"/><circle cx="230.06" cy="201.35" r="1.75" fill="url(#gY)"/><circle cx="235.29" cy="201.36" r="1.25" fill="#8e929c"/><circle cx="240.52" cy="201.38" r="1.75" fill="url(#gY)"/><circle cx="245.74" cy="201.39" r="1.25" fill="#8e929c"/><circle cx="250.97" cy="201.41" r="1.75" fill="url(#gY)"/><circle cx="256.2" cy="201.42" r="1.25" fill="#8e929c"/><circle cx="261.42" cy="201.44" r="1.75" fill="url(#gY)"/><circle cx="266.65" cy="201.45" r="1.25" fill="#8e929c"/><circle cx="271.88" cy="201.47" r="1.75" fill="url(#gY)"/><circle cx="277.11" cy="201.48" r="1.25" fill="#8e929c"/><circle cx="282.33" cy="201.5" r="1.75" fill="url(#gY)"/><circle cx="221.67" cy="205.67" r="1.75" fill="url(#gY)"/><circle cx="227.48" cy="205.7" r="1.25" fill="#8e929c"/><circle cx="233.3" cy="205.73" r="1.75" fill="url(#gY)"/><circle cx="239.12" cy="205.76" r="1.25" fill="#8e929c"/><circle cx="244.94" cy="205.79" r="1.75" fill="url(#gY)"/><circle cx="250.76" cy="205.82" r="1.25" fill="#8e929c"/><circle cx="256.58" cy="205.85" r="1.75" fill="url(#gY)"/><circle cx="262.39" cy="205.88" r="1.25" fill="#8e929c"/><circle cx="268.21" cy="205.91" r="1.75" fill="url(#gY)"/><circle cx="274.03" cy="205.94" r="1.25" fill="#8e929c"/><circle cx="279.85" cy="205.97" r="1.75" fill="url(#gY)"/><circle cx="285.67" cy="206" r="1.25" fill="#8e929c"/><circle cx="218.5" cy="210" r="1.25" fill="#8e929c"/><circle cx="224.91" cy="210.05" r="1.75" fill="url(#gY)"/><circle cx="231.32" cy="210.09" r="1.25" fill="#8e929c"/><circle cx="237.73" cy="210.14" r="1.75" fill="url(#gY)"/><circle cx="244.14" cy="210.18" r="1.25" fill="#8e929c"/><circle cx="250.55" cy="210.23" r="1.75" fill="url(#gY)"/><circle cx="256.95" cy="210.27" r="1.25" fill="#8e929c"/><circle cx="263.36" cy="210.32" r="1.75" fill="url(#gY)"/><circle cx="269.77" cy="210.36" r="1.25" fill="#8e929c"/><circle cx="276.18" cy="210.41" r="1.75" fill="url(#gY)"/><circle cx="282.59" cy="210.45" r="1.25" fill="#8e929c"/><circle cx="289" cy="210.5" r="1.75" fill="url(#gY)"/><circle cx="215.33" cy="214.33" r="1.75" fill="url(#gY)"/><circle cx="222.33" cy="214.39" r="1.25" fill="#8e929c"/><circle cx="229.33" cy="214.45" r="1.75" fill="url(#gY)"/><circle cx="236.33" cy="214.52" r="1.25" fill="#8e929c"/><circle cx="243.33" cy="214.58" r="1.75" fill="url(#gY)"/><circle cx="250.33" cy="214.64" r="1.25" fill="#8e929c"/><circle cx="257.33" cy="214.7" r="1.75" fill="url(#gY)"/><circle cx="264.33" cy="214.76" r="1.25" fill="#8e929c"/><circle cx="271.33" cy="214.82" r="1.75" fill="url(#gY)"/><circle cx="278.33" cy="214.88" r="1.25" fill="#8e929c"/><circle cx="285.33" cy="214.94" r="1.75" fill="url(#gY)"/><circle cx="292.33" cy="215" r="1.25" fill="#8e929c"/><circle cx="212.17" cy="218.67" r="1.25" fill="#8e929c"/><circle cx="219.76" cy="218.74" r="1.75" fill="url(#gY)"/><circle cx="227.35" cy="218.82" r="1.25" fill="#8e929c"/><circle cx="234.94" cy="218.89" r="1.75" fill="url(#gY)"/><circle cx="242.53" cy="218.97" r="1.25" fill="#8e929c"/><circle cx="250.12" cy="219.05" r="1.75" fill="url(#gY)"/><circle cx="257.71" cy="219.12" r="1.25" fill="#8e929c"/><circle cx="265.3" cy="219.2" r="1.75" fill="url(#gY)"/><circle cx="272.89" cy="219.27" r="1.25" fill="#8e929c"/><circle cx="280.48" cy="219.35" r="1.75" fill="url(#gY)"/><circle cx="288.08" cy="219.42" r="1.25" fill="#8e929c"/><circle cx="295.67" cy="219.5" r="1.75" fill="url(#gY)"/><circle cx="209" cy="223" r="1.75" fill="url(#gY)"/><circle cx="217.18" cy="223.09" r="1.25" fill="#8e929c"/><circle cx="225.36" cy="223.18" r="1.75" fill="url(#gY)"/><circle cx="233.55" cy="223.27" r="1.25" fill="#8e929c"/><circle cx="241.73" cy="223.36" r="1.75" fill="url(#gY)"/><circle cx="249.91" cy="223.45" r="1.25" fill="#8e929c"/><circle cx="258.09" cy="223.55" r="1.75" fill="url(#gY)"/><circle cx="266.27" cy="223.64" r="1.25" fill="#8e929c"/><circle cx="274.45" cy="223.73" r="1.75" fill="url(#gY)"/><circle cx="282.64" cy="223.82" r="1.25" fill="#8e929c"/><circle cx="290.82" cy="223.91" r="1.75" fill="url(#gY)"/><circle cx="299" cy="224" r="1.25" fill="#8e929c"/>
<circle cx="233.5" cy="187.8" r="3.3" fill="url(#gPd)"/>
<circle cx="246.3" cy="187.8" r="3.3" fill="url(#gPd)"/>
<circle cx="257.6" cy="187.8" r="3.3" fill="url(#gPd)"/>
<circle cx="271.4" cy="187.8" r="3.3" fill="url(#gPd)"/>
<circle cx="225.4" cy="198.4" r="3.3" fill="url(#gPd)"/>
<circle cx="243" cy="198.4" r="3.3" fill="url(#gPd)"/>
<circle cx="259.7" cy="198.4" r="3.3" fill="url(#gPd)"/>
<circle cx="278.7" cy="198.4" r="3.3" fill="url(#gPd)"/>
<line x1="228" y1="259" x2="232.64" y2="259" stroke="#a0a4aa" stroke-width="0.35"/><line x1="228" y1="259" x2="224.83" y2="263.33" stroke="#a0a4aa" stroke-width="0.35"/><line x1="232.64" y1="259" x2="237.27" y2="259" stroke="#a0a4aa" stroke-width="0.35"/><line x1="232.64" y1="259" x2="230.06" y2="263.35" stroke="#a0a4aa" stroke-width="0.35"/><line x1="237.27" y1="259" x2="241.91" y2="259" stroke="#a0a4aa" stroke-width="0.35"/><line x1="237.27" y1="259" x2="235.29" y2="263.36" stroke="#a0a4aa" stroke-width="0.35"/><line x1="241.91" y1="259" x2="246.55" y2="259" stroke="#a0a4aa" stroke-width="0.35"/><line x1="241.91" y1="259" x2="240.52" y2="263.38" stroke="#a0a4aa" stroke-width="0.35"/><line x1="246.55" y1="259" x2="251.18" y2="259" stroke="#a0a4aa" stroke-width="0.35"/><line x1="246.55" y1="259" x2="245.74" y2="263.39" stroke="#a0a4aa" stroke-width="0.35"/><line x1="251.18" y1="259" x2="255.82" y2="259" stroke="#a0a4aa" stroke-width="0.35"/><line x1="251.18" y1="259" x2="250.97" y2="263.41" stroke="#a0a4aa" stroke-width="0.35"/><line x1="255.82" y1="259" x2="260.45" y2="259" stroke="#a0a4aa" stroke-width="0.35"/><line x1="255.82" y1="259" x2="256.2" y2="263.42" stroke="#a0a4aa" stroke-width="0.35"/><line x1="260.45" y1="259" x2="265.09" y2="259" stroke="#a0a4aa" stroke-width="0.35"/><line x1="260.45" y1="259" x2="261.42" y2="263.44" stroke="#a0a4aa" stroke-width="0.35"/><line x1="265.09" y1="259" x2="269.73" y2="259" stroke="#a0a4aa" stroke-width="0.35"/><line x1="265.09" y1="259" x2="266.65" y2="263.45" stroke="#a0a4aa" stroke-width="0.35"/><line x1="269.73" y1="259" x2="274.36" y2="259" stroke="#a0a4aa" stroke-width="0.35"/><line x1="269.73" y1="259" x2="271.88" y2="263.47" stroke="#a0a4aa" stroke-width="0.35"/><line x1="274.36" y1="259" x2="279" y2="259" stroke="#a0a4aa" stroke-width="0.35"/><line x1="274.36" y1="259" x2="277.11" y2="263.48" stroke="#a0a4aa" stroke-width="0.35"/><line x1="279" y1="259" x2="282.33" y2="263.5" stroke="#a0a4aa" stroke-width="0.35"/><line x1="224.83" y1="263.33" x2="230.06" y2="263.35" stroke="#a0a4aa" stroke-width="0.35"/><line x1="224.83" y1="263.33" x2="221.67" y2="267.67" stroke="#a0a4aa" stroke-width="0.35"/><line x1="230.06" y1="263.35" x2="235.29" y2="263.36" stroke="#a0a4aa" stroke-width="0.35"/><line x1="230.06" y1="263.35" x2="227.48" y2="267.7" stroke="#a0a4aa" stroke-width="0.35"/><line x1="235.29" y1="263.36" x2="240.52" y2="263.38" stroke="#a0a4aa" stroke-width="0.35"/><line x1="235.29" y1="263.36" x2="233.3" y2="267.73" stroke="#a0a4aa" stroke-width="0.35"/><line x1="240.52" y1="263.38" x2="245.74" y2="263.39" stroke="#a0a4aa" stroke-width="0.35"/><line x1="240.52" y1="263.38" x2="239.12" y2="267.76" stroke="#a0a4aa" stroke-width="0.35"/><line x1="245.74" y1="263.39" x2="250.97" y2="263.41" stroke="#a0a4aa" stroke-width="0.35"/><line x1="245.74" y1="263.39" x2="244.94" y2="267.79" stroke="#a0a4aa" stroke-width="0.35"/><line x1="250.97" y1="263.41" x2="256.2" y2="263.42" stroke="#a0a4aa" stroke-width="0.35"/><line x1="250.97" y1="263.41" x2="250.76" y2="267.82" stroke="#a0a4aa" stroke-width="0.35"/><line x1="256.2" y1="263.42" x2="261.42" y2="263.44" stroke="#a0a4aa" stroke-width="0.35"/><line x1="256.2" y1="263.42" x2="256.58" y2="267.85" stroke="#a0a4aa" stroke-width="0.35"/><line x1="261.42" y1="263.44" x2="266.65" y2="263.45" stroke="#a0a4aa" stroke-width="0.35"/><line x1="261.42" y1="263.44" x2="262.39" y2="267.88" stroke="#a0a4aa" stroke-width="0.35"/><line x1="266.65" y1="263.45" x2="271.88" y2="263.47" stroke="#a0a4aa" stroke-width="0.35"/><line x1="266.65" y1="263.45" x2="268.21" y2="267.91" stroke="#a0a4aa" stroke-width="0.35"/><line x1="271.88" y1="263.47" x2="277.11" y2="263.48" stroke="#a0a4aa" stroke-width="0.35"/><line x1="271.88" y1="263.47" x2="274.03" y2="267.94" stroke="#a0a4aa" stroke-width="0.35"/><line x1="277.11" y1="263.48" x2="282.33" y2="263.5" stroke="#a0a4aa" stroke-width="0.35"/><line x1="277.11" y1="263.48" x2="279.85" y2="267.97" stroke="#a0a4aa" stroke-width="0.35"/><line x1="282.33" y1="263.5" x2="285.67" y2="268" stroke="#a0a4aa" stroke-width="0.35"/><line x1="221.67" y1="267.67" x2="227.48" y2="267.7" stroke="#a0a4aa" stroke-width="0.35"/><line x1="221.67" y1="267.67" x2="218.5" y2="272" stroke="#a0a4aa" stroke-width="0.35"/><line x1="227.48" y1="267.7" x2="233.3" y2="267.73" stroke="#a0a4aa" stroke-width="0.35"/><line x1="227.48" y1="267.7" x2="224.91" y2="272.05" stroke="#a0a4aa" stroke-width="0.35"/><line x1="233.3" y1="267.73" x2="239.12" y2="267.76" stroke="#a0a4aa" stroke-width="0.35"/><line x1="233.3" y1="267.73" x2="231.32" y2="272.09" stroke="#a0a4aa" stroke-width="0.35"/><line x1="239.12" y1="267.76" x2="244.94" y2="267.79" stroke="#a0a4aa" stroke-width="0.35"/><line x1="239.12" y1="267.76" x2="237.73" y2="272.14" stroke="#a0a4aa" stroke-width="0.35"/><line x1="244.94" y1="267.79" x2="250.76" y2="267.82" stroke="#a0a4aa" stroke-width="0.35"/><line x1="244.94" y1="267.79" x2="244.14" y2="272.18" stroke="#a0a4aa" stroke-width="0.35"/><line x1="250.76" y1="267.82" x2="256.58" y2="267.85" stroke="#a0a4aa" stroke-width="0.35"/><line x1="250.76" y1="267.82" x2="250.55" y2="272.23" stroke="#a0a4aa" stroke-width="0.35"/><line x1="256.58" y1="267.85" x2="262.39" y2="267.88" stroke="#a0a4aa" stroke-width="0.35"/><line x1="256.58" y1="267.85" x2="256.95" y2="272.27" stroke="#a0a4aa" stroke-width="0.35"/><line x1="262.39" y1="267.88" x2="268.21" y2="267.91" stroke="#a0a4aa" stroke-width="0.35"/><line x1="262.39" y1="267.88" x2="263.36" y2="272.32" stroke="#a0a4aa" stroke-width="0.35"/><line x1="268.21" y1="267.91" x2="274.03" y2="267.94" stroke="#a0a4aa" stroke-width="0.35"/><line x1="268.21" y1="267.91" x2="269.77" y2="272.36" stroke="#a0a4aa" stroke-width="0.35"/><line x1="274.03" y1="267.94" x2="279.85" y2="267.97" stroke="#a0a4aa" stroke-width="0.35"/><line x1="274.03" y1="267.94" x2="276.18" y2="272.41" stroke="#a0a4aa" stroke-width="0.35"/><line x1="279.85" y1="267.97" x2="285.67" y2="268" stroke="#a0a4aa" stroke-width="0.35"/><line x1="279.85" y1="267.97" x2="282.59" y2="272.45" stroke="#a0a4aa" stroke-width="0.35"/><line x1="285.67" y1="268" x2="289" y2="272.5" stroke="#a0a4aa" stroke-width="0.35"/><line x1="218.5" y1="272" x2="224.91" y2="272.05" stroke="#a0a4aa" stroke-width="0.35"/><line x1="218.5" y1="272" x2="215.33" y2="276.33" stroke="#a0a4aa" stroke-width="0.35"/><line x1="224.91" y1="272.05" x2="231.32" y2="272.09" stroke="#a0a4aa" stroke-width="0.35"/><line x1="224.91" y1="272.05" x2="222.33" y2="276.39" stroke="#a0a4aa" stroke-width="0.35"/><line x1="231.32" y1="272.09" x2="237.73" y2="272.14" stroke="#a0a4aa" stroke-width="0.35"/><line x1="231.32" y1="272.09" x2="229.33" y2="276.45" stroke="#a0a4aa" stroke-width="0.35"/><line x1="237.73" y1="272.14" x2="244.14" y2="272.18" stroke="#a0a4aa" stroke-width="0.35"/><line x1="237.73" y1="272.14" x2="236.33" y2="276.52" stroke="#a0a4aa" stroke-width="0.35"/><line x1="244.14" y1="272.18" x2="250.55" y2="272.23" stroke="#a0a4aa" stroke-width="0.35"/><line x1="244.14" y1="272.18" x2="243.33" y2="276.58" stroke="#a0a4aa" stroke-width="0.35"/><line x1="250.55" y1="272.23" x2="256.95" y2="272.27" stroke="#a0a4aa" stroke-width="0.35"/><line x1="250.55" y1="272.23" x2="250.33" y2="276.64" stroke="#a0a4aa" stroke-width="0.35"/><line x1="256.95" y1="272.27" x2="263.36" y2="272.32" stroke="#a0a4aa" stroke-width="0.35"/><line x1="256.95" y1="272.27" x2="257.33" y2="276.7" stroke="#a0a4aa" stroke-width="0.35"/><line x1="263.36" y1="272.32" x2="269.77" y2="272.36" stroke="#a0a4aa" stroke-width="0.35"/><line x1="263.36" y1="272.32" x2="264.33" y2="276.76" stroke="#a0a4aa" stroke-width="0.35"/><line x1="269.77" y1="272.36" x2="276.18" y2="272.41" stroke="#a0a4aa" stroke-width="0.35"/><line x1="269.77" y1="272.36" x2="271.33" y2="276.82" stroke="#a0a4aa" stroke-width="0.35"/><line x1="276.18" y1="272.41" x2="282.59" y2="272.45" stroke="#a0a4aa" stroke-width="0.35"/><line x1="276.18" y1="272.41" x2="278.33" y2="276.88" stroke="#a0a4aa" stroke-width="0.35"/><line x1="282.59" y1="272.45" x2="289" y2="272.5" stroke="#a0a4aa" stroke-width="0.35"/><line x1="282.59" y1="272.45" x2="285.33" y2="276.94" stroke="#a0a4aa" stroke-width="0.35"/><line x1="289" y1="272.5" x2="292.33" y2="277" stroke="#a0a4aa" stroke-width="0.35"/><line x1="215.33" y1="276.33" x2="222.33" y2="276.39" stroke="#a0a4aa" stroke-width="0.35"/><line x1="215.33" y1="276.33" x2="212.17" y2="280.67" stroke="#a0a4aa" stroke-width="0.35"/><line x1="222.33" y1="276.39" x2="229.33" y2="276.45" stroke="#a0a4aa" stroke-width="0.35"/><line x1="222.33" y1="276.39" x2="219.76" y2="280.74" stroke="#a0a4aa" stroke-width="0.35"/><line x1="229.33" y1="276.45" x2="236.33" y2="276.52" stroke="#a0a4aa" stroke-width="0.35"/><line x1="229.33" y1="276.45" x2="227.35" y2="280.82" stroke="#a0a4aa" stroke-width="0.35"/><line x1="236.33" y1="276.52" x2="243.33" y2="276.58" stroke="#a0a4aa" stroke-width="0.35"/><line x1="236.33" y1="276.52" x2="234.94" y2="280.89" stroke="#a0a4aa" stroke-width="0.35"/><line x1="243.33" y1="276.58" x2="250.33" y2="276.64" stroke="#a0a4aa" stroke-width="0.35"/><line x1="243.33" y1="276.58" x2="242.53" y2="280.97" stroke="#a0a4aa" stroke-width="0.35"/><line x1="250.33" y1="276.64" x2="257.33" y2="276.7" stroke="#a0a4aa" stroke-width="0.35"/><line x1="250.33" y1="276.64" x2="250.12" y2="281.05" stroke="#a0a4aa" stroke-width="0.35"/><line x1="257.33" y1="276.7" x2="264.33" y2="276.76" stroke="#a0a4aa" stroke-width="0.35"/><line x1="257.33" y1="276.7" x2="257.71" y2="281.12" stroke="#a0a4aa" stroke-width="0.35"/><line x1="264.33" y1="276.76" x2="271.33" y2="276.82" stroke="#a0a4aa" stroke-width="0.35"/><line x1="264.33" y1="276.76" x2="265.3" y2="281.2" stroke="#a0a4aa" stroke-width="0.35"/><line x1="271.33" y1="276.82" x2="278.33" y2="276.88" stroke="#a0a4aa" stroke-width="0.35"/><line x1="271.33" y1="276.82" x2="272.89" y2="281.27" stroke="#a0a4aa" stroke-width="0.35"/><line x1="278.33" y1="276.88" x2="285.33" y2="276.94" stroke="#a0a4aa" stroke-width="0.35"/><line x1="278.33" y1="276.88" x2="280.48" y2="281.35" stroke="#a0a4aa" stroke-width="0.35"/><line x1="285.33" y1="276.94" x2="292.33" y2="277" stroke="#a0a4aa" stroke-width="0.35"/><line x1="285.33" y1="276.94" x2="288.08" y2="281.42" stroke="#a0a4aa" stroke-width="0.35"/><line x1="292.33" y1="277" x2="295.67" y2="281.5" stroke="#a0a4aa" stroke-width="0.35"/><line x1="212.17" y1="280.67" x2="219.76" y2="280.74" stroke="#a0a4aa" stroke-width="0.35"/><line x1="212.17" y1="280.67" x2="209" y2="285" stroke="#a0a4aa" stroke-width="0.35"/><line x1="219.76" y1="280.74" x2="227.35" y2="280.82" stroke="#a0a4aa" stroke-width="0.35"/><line x1="219.76" y1="280.74" x2="217.18" y2="285.09" stroke="#a0a4aa" stroke-width="0.35"/><line x1="227.35" y1="280.82" x2="234.94" y2="280.89" stroke="#a0a4aa" stroke-width="0.35"/><line x1="227.35" y1="280.82" x2="225.36" y2="285.18" stroke="#a0a4aa" stroke-width="0.35"/><line x1="234.94" y1="280.89" x2="242.53" y2="280.97" stroke="#a0a4aa" stroke-width="0.35"/><line x1="234.94" y1="280.89" x2="233.55" y2="285.27" stroke="#a0a4aa" stroke-width="0.35"/><line x1="242.53" y1="280.97" x2="250.12" y2="281.05" stroke="#a0a4aa" stroke-width="0.35"/><line x1="242.53" y1="280.97" x2="241.73" y2="285.36" stroke="#a0a4aa" stroke-width="0.35"/><line x1="250.12" y1="281.05" x2="257.71" y2="281.12" stroke="#a0a4aa" stroke-width="0.35"/><line x1="250.12" y1="281.05" x2="249.91" y2="285.45" stroke="#a0a4aa" stroke-width="0.35"/><line x1="257.71" y1="281.12" x2="265.3" y2="281.2" stroke="#a0a4aa" stroke-width="0.35"/><line x1="257.71" y1="281.12" x2="258.09" y2="285.55" stroke="#a0a4aa" stroke-width="0.35"/><line x1="265.3" y1="281.2" x2="272.89" y2="281.27" stroke="#a0a4aa" stroke-width="0.35"/><line x1="265.3" y1="281.2" x2="266.27" y2="285.64" stroke="#a0a4aa" stroke-width="0.35"/><line x1="272.89" y1="281.27" x2="280.48" y2="281.35" stroke="#a0a4aa" stroke-width="0.35"/><line x1="272.89" y1="281.27" x2="274.45" y2="285.73" stroke="#a0a4aa" stroke-width="0.35"/><line x1="280.48" y1="281.35" x2="288.08" y2="281.42" stroke="#a0a4aa" stroke-width="0.35"/><line x1="280.48" y1="281.35" x2="282.64" y2="285.82" stroke="#a0a4aa" stroke-width="0.35"/><line x1="288.08" y1="281.42" x2="295.67" y2="281.5" stroke="#a0a4aa" stroke-width="0.35"/><line x1="288.08" y1="281.42" x2="290.82" y2="285.91" stroke="#a0a4aa" stroke-width="0.35"/><line x1="295.67" y1="281.5" x2="299" y2="286" stroke="#a0a4aa" stroke-width="0.35"/><line x1="209" y1="285" x2="217.18" y2="285.09" stroke="#a0a4aa" stroke-width="0.35"/><line x1="217.18" y1="285.09" x2="225.36" y2="285.18" stroke="#a0a4aa" stroke-width="0.35"/><line x1="225.36" y1="285.18" x2="233.55" y2="285.27" stroke="#a0a4aa" stroke-width="0.35"/><line x1="233.55" y1="285.27" x2="241.73" y2="285.36" stroke="#a0a4aa" stroke-width="0.35"/><line x1="241.73" y1="285.36" x2="249.91" y2="285.45" stroke="#a0a4aa" stroke-width="0.35"/><line x1="249.91" y1="285.45" x2="258.09" y2="285.55" stroke="#a0a4aa" stroke-width="0.35"/><line x1="258.09" y1="285.55" x2="266.27" y2="285.64" stroke="#a0a4aa" stroke-width="0.35"/><line x1="266.27" y1="285.64" x2="274.45" y2="285.73" stroke="#a0a4aa" stroke-width="0.35"/><line x1="274.45" y1="285.73" x2="282.64" y2="285.82" stroke="#a0a4aa" stroke-width="0.35"/><line x1="282.64" y1="285.82" x2="290.82" y2="285.91" stroke="#a0a4aa" stroke-width="0.35"/><line x1="290.82" y1="285.91" x2="299" y2="286" stroke="#a0a4aa" stroke-width="0.35"/><line x1="228" y1="265.5" x2="232.64" y2="265.5" stroke="#a0a4aa" stroke-width="0.35"/><line x1="228" y1="265.5" x2="224.83" y2="269.83" stroke="#a0a4aa" stroke-width="0.35"/><line x1="228" y1="265.5" x2="228" y2="259" stroke="#a0a4aa" stroke-width="0.35"/><line x1="232.64" y1="265.5" x2="237.27" y2="265.5" stroke="#a0a4aa" stroke-width="0.35"/><line x1="232.64" y1="265.5" x2="230.06" y2="269.85" stroke="#a0a4aa" stroke-width="0.35"/><line x1="232.64" y1="265.5" x2="232.64" y2="259" stroke="#a0a4aa" stroke-width="0.35"/><line x1="237.27" y1="265.5" x2="241.91" y2="265.5" stroke="#a0a4aa" stroke-width="0.35"/><line x1="237.27" y1="265.5" x2="235.29" y2="269.86" stroke="#a0a4aa" stroke-width="0.35"/><line x1="237.27" y1="265.5" x2="237.27" y2="259" stroke="#a0a4aa" stroke-width="0.35"/><line x1="241.91" y1="265.5" x2="246.55" y2="265.5" stroke="#a0a4aa" stroke-width="0.35"/><line x1="241.91" y1="265.5" x2="240.52" y2="269.88" stroke="#a0a4aa" stroke-width="0.35"/><line x1="241.91" y1="265.5" x2="241.91" y2="259" stroke="#a0a4aa" stroke-width="0.35"/><line x1="246.55" y1="265.5" x2="251.18" y2="265.5" stroke="#a0a4aa" stroke-width="0.35"/><line x1="246.55" y1="265.5" x2="245.74" y2="269.89" stroke="#a0a4aa" stroke-width="0.35"/><line x1="246.55" y1="265.5" x2="246.55" y2="259" stroke="#a0a4aa" stroke-width="0.35"/><line x1="251.18" y1="265.5" x2="255.82" y2="265.5" stroke="#a0a4aa" stroke-width="0.35"/><line x1="251.18" y1="265.5" x2="250.97" y2="269.91" stroke="#a0a4aa" stroke-width="0.35"/><line x1="251.18" y1="265.5" x2="251.18" y2="259" stroke="#a0a4aa" stroke-width="0.35"/><line x1="255.82" y1="265.5" x2="260.45" y2="265.5" stroke="#a0a4aa" stroke-width="0.35"/><line x1="255.82" y1="265.5" x2="256.2" y2="269.92" stroke="#a0a4aa" stroke-width="0.35"/><line x1="255.82" y1="265.5" x2="255.82" y2="259" stroke="#a0a4aa" stroke-width="0.35"/><line x1="260.45" y1="265.5" x2="265.09" y2="265.5" stroke="#a0a4aa" stroke-width="0.35"/><line x1="260.45" y1="265.5" x2="261.42" y2="269.94" stroke="#a0a4aa" stroke-width="0.35"/><line x1="260.45" y1="265.5" x2="260.45" y2="259" stroke="#a0a4aa" stroke-width="0.35"/><line x1="265.09" y1="265.5" x2="269.73" y2="265.5" stroke="#a0a4aa" stroke-width="0.35"/><line x1="265.09" y1="265.5" x2="266.65" y2="269.95" stroke="#a0a4aa" stroke-width="0.35"/><line x1="265.09" y1="265.5" x2="265.09" y2="259" stroke="#a0a4aa" stroke-width="0.35"/><line x1="269.73" y1="265.5" x2="274.36" y2="265.5" stroke="#a0a4aa" stroke-width="0.35"/><line x1="269.73" y1="265.5" x2="271.88" y2="269.97" stroke="#a0a4aa" stroke-width="0.35"/><line x1="269.73" y1="265.5" x2="269.73" y2="259" stroke="#a0a4aa" stroke-width="0.35"/><line x1="274.36" y1="265.5" x2="279" y2="265.5" stroke="#a0a4aa" stroke-width="0.35"/><line x1="274.36" y1="265.5" x2="277.11" y2="269.98" stroke="#a0a4aa" stroke-width="0.35"/><line x1="274.36" y1="265.5" x2="274.36" y2="259" stroke="#a0a4aa" stroke-width="0.35"/><line x1="279" y1="265.5" x2="282.33" y2="270" stroke="#a0a4aa" stroke-width="0.35"/><line x1="279" y1="265.5" x2="279" y2="259" stroke="#a0a4aa" stroke-width="0.35"/><line x1="224.83" y1="269.83" x2="230.06" y2="269.85" stroke="#a0a4aa" stroke-width="0.35"/><line x1="224.83" y1="269.83" x2="221.67" y2="274.17" stroke="#a0a4aa" stroke-width="0.35"/><line x1="224.83" y1="269.83" x2="224.83" y2="263.33" stroke="#a0a4aa" stroke-width="0.35"/><line x1="230.06" y1="269.85" x2="235.29" y2="269.86" stroke="#a0a4aa" stroke-width="0.35"/><line x1="230.06" y1="269.85" x2="227.48" y2="274.2" stroke="#a0a4aa" stroke-width="0.35"/><line x1="230.06" y1="269.85" x2="230.06" y2="263.35" stroke="#a0a4aa" stroke-width="0.35"/><line x1="235.29" y1="269.86" x2="240.52" y2="269.88" stroke="#a0a4aa" stroke-width="0.35"/><line x1="235.29" y1="269.86" x2="233.3" y2="274.23" stroke="#a0a4aa" stroke-width="0.35"/><line x1="235.29" y1="269.86" x2="235.29" y2="263.36" stroke="#a0a4aa" stroke-width="0.35"/><line x1="240.52" y1="269.88" x2="245.74" y2="269.89" stroke="#a0a4aa" stroke-width="0.35"/><line x1="240.52" y1="269.88" x2="239.12" y2="274.26" stroke="#a0a4aa" stroke-width="0.35"/><line x1="240.52" y1="269.88" x2="240.52" y2="263.38" stroke="#a0a4aa" stroke-width="0.35"/><line x1="245.74" y1="269.89" x2="250.97" y2="269.91" stroke="#a0a4aa" stroke-width="0.35"/><line x1="245.74" y1="269.89" x2="244.94" y2="274.29" stroke="#a0a4aa" stroke-width="0.35"/><line x1="245.74" y1="269.89" x2="245.74" y2="263.39" stroke="#a0a4aa" stroke-width="0.35"/><line x1="250.97" y1="269.91" x2="256.2" y2="269.92" stroke="#a0a4aa" stroke-width="0.35"/><line x1="250.97" y1="269.91" x2="250.76" y2="274.32" stroke="#a0a4aa" stroke-width="0.35"/><line x1="250.97" y1="269.91" x2="250.97" y2="263.41" stroke="#a0a4aa" stroke-width="0.35"/><line x1="256.2" y1="269.92" x2="261.42" y2="269.94" stroke="#a0a4aa" stroke-width="0.35"/><line x1="256.2" y1="269.92" x2="256.58" y2="274.35" stroke="#a0a4aa" stroke-width="0.35"/><line x1="256.2" y1="269.92" x2="256.2" y2="263.42" stroke="#a0a4aa" stroke-width="0.35"/><line x1="261.42" y1="269.94" x2="266.65" y2="269.95" stroke="#a0a4aa" stroke-width="0.35"/><line x1="261.42" y1="269.94" x2="262.39" y2="274.38" stroke="#a0a4aa" stroke-width="0.35"/><line x1="261.42" y1="269.94" x2="261.42" y2="263.44" stroke="#a0a4aa" stroke-width="0.35"/><line x1="266.65" y1="269.95" x2="271.88" y2="269.97" stroke="#a0a4aa" stroke-width="0.35"/><line x1="266.65" y1="269.95" x2="268.21" y2="274.41" stroke="#a0a4aa" stroke-width="0.35"/><line x1="266.65" y1="269.95" x2="266.65" y2="263.45" stroke="#a0a4aa" stroke-width="0.35"/><line x1="271.88" y1="269.97" x2="277.11" y2="269.98" stroke="#a0a4aa" stroke-width="0.35"/><line x1="271.88" y1="269.97" x2="274.03" y2="274.44" stroke="#a0a4aa" stroke-width="0.35"/><line x1="271.88" y1="269.97" x2="271.88" y2="263.47" stroke="#a0a4aa" stroke-width="0.35"/><line x1="277.11" y1="269.98" x2="282.33" y2="270" stroke="#a0a4aa" stroke-width="0.35"/><line x1="277.11" y1="269.98" x2="279.85" y2="274.47" stroke="#a0a4aa" stroke-width="0.35"/><line x1="277.11" y1="269.98" x2="277.11" y2="263.48" stroke="#a0a4aa" stroke-width="0.35"/><line x1="282.33" y1="270" x2="285.67" y2="274.5" stroke="#a0a4aa" stroke-width="0.35"/><line x1="282.33" y1="270" x2="282.33" y2="263.5" stroke="#a0a4aa" stroke-width="0.35"/><line x1="221.67" y1="274.17" x2="227.48" y2="274.2" stroke="#a0a4aa" stroke-width="0.35"/><line x1="221.67" y1="274.17" x2="218.5" y2="278.5" stroke="#a0a4aa" stroke-width="0.35"/><line x1="221.67" y1="274.17" x2="221.67" y2="267.67" stroke="#a0a4aa" stroke-width="0.35"/><line x1="227.48" y1="274.2" x2="233.3" y2="274.23" stroke="#a0a4aa" stroke-width="0.35"/><line x1="227.48" y1="274.2" x2="224.91" y2="278.55" stroke="#a0a4aa" stroke-width="0.35"/><line x1="227.48" y1="274.2" x2="227.48" y2="267.7" stroke="#a0a4aa" stroke-width="0.35"/><line x1="233.3" y1="274.23" x2="239.12" y2="274.26" stroke="#a0a4aa" stroke-width="0.35"/><line x1="233.3" y1="274.23" x2="231.32" y2="278.59" stroke="#a0a4aa" stroke-width="0.35"/><line x1="233.3" y1="274.23" x2="233.3" y2="267.73" stroke="#a0a4aa" stroke-width="0.35"/><line x1="239.12" y1="274.26" x2="244.94" y2="274.29" stroke="#a0a4aa" stroke-width="0.35"/><line x1="239.12" y1="274.26" x2="237.73" y2="278.64" stroke="#a0a4aa" stroke-width="0.35"/><line x1="239.12" y1="274.26" x2="239.12" y2="267.76" stroke="#a0a4aa" stroke-width="0.35"/><line x1="244.94" y1="274.29" x2="250.76" y2="274.32" stroke="#a0a4aa" stroke-width="0.35"/><line x1="244.94" y1="274.29" x2="244.14" y2="278.68" stroke="#a0a4aa" stroke-width="0.35"/><line x1="244.94" y1="274.29" x2="244.94" y2="267.79" stroke="#a0a4aa" stroke-width="0.35"/><line x1="250.76" y1="274.32" x2="256.58" y2="274.35" stroke="#a0a4aa" stroke-width="0.35"/><line x1="250.76" y1="274.32" x2="250.55" y2="278.73" stroke="#a0a4aa" stroke-width="0.35"/><line x1="250.76" y1="274.32" x2="250.76" y2="267.82" stroke="#a0a4aa" stroke-width="0.35"/><line x1="256.58" y1="274.35" x2="262.39" y2="274.38" stroke="#a0a4aa" stroke-width="0.35"/><line x1="256.58" y1="274.35" x2="256.95" y2="278.77" stroke="#a0a4aa" stroke-width="0.35"/><line x1="256.58" y1="274.35" x2="256.58" y2="267.85" stroke="#a0a4aa" stroke-width="0.35"/><line x1="262.39" y1="274.38" x2="268.21" y2="274.41" stroke="#a0a4aa" stroke-width="0.35"/><line x1="262.39" y1="274.38" x2="263.36" y2="278.82" stroke="#a0a4aa" stroke-width="0.35"/><line x1="262.39" y1="274.38" x2="262.39" y2="267.88" stroke="#a0a4aa" stroke-width="0.35"/><line x1="268.21" y1="274.41" x2="274.03" y2="274.44" stroke="#a0a4aa" stroke-width="0.35"/><line x1="268.21" y1="274.41" x2="269.77" y2="278.86" stroke="#a0a4aa" stroke-width="0.35"/><line x1="268.21" y1="274.41" x2="268.21" y2="267.91" stroke="#a0a4aa" stroke-width="0.35"/><line x1="274.03" y1="274.44" x2="279.85" y2="274.47" stroke="#a0a4aa" stroke-width="0.35"/><line x1="274.03" y1="274.44" x2="276.18" y2="278.91" stroke="#a0a4aa" stroke-width="0.35"/><line x1="274.03" y1="274.44" x2="274.03" y2="267.94" stroke="#a0a4aa" stroke-width="0.35"/><line x1="279.85" y1="274.47" x2="285.67" y2="274.5" stroke="#a0a4aa" stroke-width="0.35"/><line x1="279.85" y1="274.47" x2="282.59" y2="278.95" stroke="#a0a4aa" stroke-width="0.35"/><line x1="279.85" y1="274.47" x2="279.85" y2="267.97" stroke="#a0a4aa" stroke-width="0.35"/><line x1="285.67" y1="274.5" x2="289" y2="279" stroke="#a0a4aa" stroke-width="0.35"/><line x1="285.67" y1="274.5" x2="285.67" y2="268" stroke="#a0a4aa" stroke-width="0.35"/><line x1="218.5" y1="278.5" x2="224.91" y2="278.55" stroke="#a0a4aa" stroke-width="0.35"/><line x1="218.5" y1="278.5" x2="215.33" y2="282.83" stroke="#a0a4aa" stroke-width="0.35"/><line x1="218.5" y1="278.5" x2="218.5" y2="272" stroke="#a0a4aa" stroke-width="0.35"/><line x1="224.91" y1="278.55" x2="231.32" y2="278.59" stroke="#a0a4aa" stroke-width="0.35"/><line x1="224.91" y1="278.55" x2="222.33" y2="282.89" stroke="#a0a4aa" stroke-width="0.35"/><line x1="224.91" y1="278.55" x2="224.91" y2="272.05" stroke="#a0a4aa" stroke-width="0.35"/><line x1="231.32" y1="278.59" x2="237.73" y2="278.64" stroke="#a0a4aa" stroke-width="0.35"/><line x1="231.32" y1="278.59" x2="229.33" y2="282.95" stroke="#a0a4aa" stroke-width="0.35"/><line x1="231.32" y1="278.59" x2="231.32" y2="272.09" stroke="#a0a4aa" stroke-width="0.35"/><line x1="237.73" y1="278.64" x2="244.14" y2="278.68" stroke="#a0a4aa" stroke-width="0.35"/><line x1="237.73" y1="278.64" x2="236.33" y2="283.02" stroke="#a0a4aa" stroke-width="0.35"/><line x1="237.73" y1="278.64" x2="237.73" y2="272.14" stroke="#a0a4aa" stroke-width="0.35"/><line x1="244.14" y1="278.68" x2="250.55" y2="278.73" stroke="#a0a4aa" stroke-width="0.35"/><line x1="244.14" y1="278.68" x2="243.33" y2="283.08" stroke="#a0a4aa" stroke-width="0.35"/><line x1="244.14" y1="278.68" x2="244.14" y2="272.18" stroke="#a0a4aa" stroke-width="0.35"/><line x1="250.55" y1="278.73" x2="256.95" y2="278.77" stroke="#a0a4aa" stroke-width="0.35"/><line x1="250.55" y1="278.73" x2="250.33" y2="283.14" stroke="#a0a4aa" stroke-width="0.35"/><line x1="250.55" y1="278.73" x2="250.55" y2="272.23" stroke="#a0a4aa" stroke-width="0.35"/><line x1="256.95" y1="278.77" x2="263.36" y2="278.82" stroke="#a0a4aa" stroke-width="0.35"/><line x1="256.95" y1="278.77" x2="257.33" y2="283.2" stroke="#a0a4aa" stroke-width="0.35"/><line x1="256.95" y1="278.77" x2="256.95" y2="272.27" stroke="#a0a4aa" stroke-width="0.35"/><line x1="263.36" y1="278.82" x2="269.77" y2="278.86" stroke="#a0a4aa" stroke-width="0.35"/><line x1="263.36" y1="278.82" x2="264.33" y2="283.26" stroke="#a0a4aa" stroke-width="0.35"/><line x1="263.36" y1="278.82" x2="263.36" y2="272.32" stroke="#a0a4aa" stroke-width="0.35"/><line x1="269.77" y1="278.86" x2="276.18" y2="278.91" stroke="#a0a4aa" stroke-width="0.35"/><line x1="269.77" y1="278.86" x2="271.33" y2="283.32" stroke="#a0a4aa" stroke-width="0.35"/><line x1="269.77" y1="278.86" x2="269.77" y2="272.36" stroke="#a0a4aa" stroke-width="0.35"/><line x1="276.18" y1="278.91" x2="282.59" y2="278.95" stroke="#a0a4aa" stroke-width="0.35"/><line x1="276.18" y1="278.91" x2="278.33" y2="283.38" stroke="#a0a4aa" stroke-width="0.35"/><line x1="276.18" y1="278.91" x2="276.18" y2="272.41" stroke="#a0a4aa" stroke-width="0.35"/><line x1="282.59" y1="278.95" x2="289" y2="279" stroke="#a0a4aa" stroke-width="0.35"/><line x1="282.59" y1="278.95" x2="285.33" y2="283.44" stroke="#a0a4aa" stroke-width="0.35"/><line x1="282.59" y1="278.95" x2="282.59" y2="272.45" stroke="#a0a4aa" stroke-width="0.35"/><line x1="289" y1="279" x2="292.33" y2="283.5" stroke="#a0a4aa" stroke-width="0.35"/><line x1="289" y1="279" x2="289" y2="272.5" stroke="#a0a4aa" stroke-width="0.35"/><line x1="215.33" y1="282.83" x2="222.33" y2="282.89" stroke="#a0a4aa" stroke-width="0.35"/><line x1="215.33" y1="282.83" x2="212.17" y2="287.17" stroke="#a0a4aa" stroke-width="0.35"/><line x1="215.33" y1="282.83" x2="215.33" y2="276.33" stroke="#a0a4aa" stroke-width="0.35"/><line x1="222.33" y1="282.89" x2="229.33" y2="282.95" stroke="#a0a4aa" stroke-width="0.35"/><line x1="222.33" y1="282.89" x2="219.76" y2="287.24" stroke="#a0a4aa" stroke-width="0.35"/><line x1="222.33" y1="282.89" x2="222.33" y2="276.39" stroke="#a0a4aa" stroke-width="0.35"/><line x1="229.33" y1="282.95" x2="236.33" y2="283.02" stroke="#a0a4aa" stroke-width="0.35"/><line x1="229.33" y1="282.95" x2="227.35" y2="287.32" stroke="#a0a4aa" stroke-width="0.35"/><line x1="229.33" y1="282.95" x2="229.33" y2="276.45" stroke="#a0a4aa" stroke-width="0.35"/><line x1="236.33" y1="283.02" x2="243.33" y2="283.08" stroke="#a0a4aa" stroke-width="0.35"/><line x1="236.33" y1="283.02" x2="234.94" y2="287.39" stroke="#a0a4aa" stroke-width="0.35"/><line x1="236.33" y1="283.02" x2="236.33" y2="276.52" stroke="#a0a4aa" stroke-width="0.35"/><line x1="243.33" y1="283.08" x2="250.33" y2="283.14" stroke="#a0a4aa" stroke-width="0.35"/><line x1="243.33" y1="283.08" x2="242.53" y2="287.47" stroke="#a0a4aa" stroke-width="0.35"/><line x1="243.33" y1="283.08" x2="243.33" y2="276.58" stroke="#a0a4aa" stroke-width="0.35"/><line x1="250.33" y1="283.14" x2="257.33" y2="283.2" stroke="#a0a4aa" stroke-width="0.35"/><line x1="250.33" y1="283.14" x2="250.12" y2="287.55" stroke="#a0a4aa" stroke-width="0.35"/><line x1="250.33" y1="283.14" x2="250.33" y2="276.64" stroke="#a0a4aa" stroke-width="0.35"/><line x1="257.33" y1="283.2" x2="264.33" y2="283.26" stroke="#a0a4aa" stroke-width="0.35"/><line x1="257.33" y1="283.2" x2="257.71" y2="287.62" stroke="#a0a4aa" stroke-width="0.35"/><line x1="257.33" y1="283.2" x2="257.33" y2="276.7" stroke="#a0a4aa" stroke-width="0.35"/><line x1="264.33" y1="283.26" x2="271.33" y2="283.32" stroke="#a0a4aa" stroke-width="0.35"/><line x1="264.33" y1="283.26" x2="265.3" y2="287.7" stroke="#a0a4aa" stroke-width="0.35"/><line x1="264.33" y1="283.26" x2="264.33" y2="276.76" stroke="#a0a4aa" stroke-width="0.35"/><line x1="271.33" y1="283.32" x2="278.33" y2="283.38" stroke="#a0a4aa" stroke-width="0.35"/><line x1="271.33" y1="283.32" x2="272.89" y2="287.77" stroke="#a0a4aa" stroke-width="0.35"/><line x1="271.33" y1="283.32" x2="271.33" y2="276.82" stroke="#a0a4aa" stroke-width="0.35"/><line x1="278.33" y1="283.38" x2="285.33" y2="283.44" stroke="#a0a4aa" stroke-width="0.35"/><line x1="278.33" y1="283.38" x2="280.48" y2="287.85" stroke="#a0a4aa" stroke-width="0.35"/><line x1="278.33" y1="283.38" x2="278.33" y2="276.88" stroke="#a0a4aa" stroke-width="0.35"/><line x1="285.33" y1="283.44" x2="292.33" y2="283.5" stroke="#a0a4aa" stroke-width="0.35"/><line x1="285.33" y1="283.44" x2="288.08" y2="287.92" stroke="#a0a4aa" stroke-width="0.35"/><line x1="285.33" y1="283.44" x2="285.33" y2="276.94" stroke="#a0a4aa" stroke-width="0.35"/><line x1="292.33" y1="283.5" x2="295.67" y2="288" stroke="#a0a4aa" stroke-width="0.35"/><line x1="292.33" y1="283.5" x2="292.33" y2="277" stroke="#a0a4aa" stroke-width="0.35"/><line x1="212.17" y1="287.17" x2="219.76" y2="287.24" stroke="#a0a4aa" stroke-width="0.35"/><line x1="212.17" y1="287.17" x2="209" y2="291.5" stroke="#a0a4aa" stroke-width="0.35"/><line x1="212.17" y1="287.17" x2="212.17" y2="280.67" stroke="#a0a4aa" stroke-width="0.35"/><line x1="219.76" y1="287.24" x2="227.35" y2="287.32" stroke="#a0a4aa" stroke-width="0.35"/><line x1="219.76" y1="287.24" x2="217.18" y2="291.59" stroke="#a0a4aa" stroke-width="0.35"/><line x1="219.76" y1="287.24" x2="219.76" y2="280.74" stroke="#a0a4aa" stroke-width="0.35"/><line x1="227.35" y1="287.32" x2="234.94" y2="287.39" stroke="#a0a4aa" stroke-width="0.35"/><line x1="227.35" y1="287.32" x2="225.36" y2="291.68" stroke="#a0a4aa" stroke-width="0.35"/><line x1="227.35" y1="287.32" x2="227.35" y2="280.82" stroke="#a0a4aa" stroke-width="0.35"/><line x1="234.94" y1="287.39" x2="242.53" y2="287.47" stroke="#a0a4aa" stroke-width="0.35"/><line x1="234.94" y1="287.39" x2="233.55" y2="291.77" stroke="#a0a4aa" stroke-width="0.35"/><line x1="234.94" y1="287.39" x2="234.94" y2="280.89" stroke="#a0a4aa" stroke-width="0.35"/><line x1="242.53" y1="287.47" x2="250.12" y2="287.55" stroke="#a0a4aa" stroke-width="0.35"/><line x1="242.53" y1="287.47" x2="241.73" y2="291.86" stroke="#a0a4aa" stroke-width="0.35"/><line x1="242.53" y1="287.47" x2="242.53" y2="280.97" stroke="#a0a4aa" stroke-width="0.35"/><line x1="250.12" y1="287.55" x2="257.71" y2="287.62" stroke="#a0a4aa" stroke-width="0.35"/><line x1="250.12" y1="287.55" x2="249.91" y2="291.95" stroke="#a0a4aa" stroke-width="0.35"/><line x1="250.12" y1="287.55" x2="250.12" y2="281.05" stroke="#a0a4aa" stroke-width="0.35"/><line x1="257.71" y1="287.62" x2="265.3" y2="287.7" stroke="#a0a4aa" stroke-width="0.35"/><line x1="257.71" y1="287.62" x2="258.09" y2="292.05" stroke="#a0a4aa" stroke-width="0.35"/><line x1="257.71" y1="287.62" x2="257.71" y2="281.12" stroke="#a0a4aa" stroke-width="0.35"/><line x1="265.3" y1="287.7" x2="272.89" y2="287.77" stroke="#a0a4aa" stroke-width="0.35"/><line x1="265.3" y1="287.7" x2="266.27" y2="292.14" stroke="#a0a4aa" stroke-width="0.35"/><line x1="265.3" y1="287.7" x2="265.3" y2="281.2" stroke="#a0a4aa" stroke-width="0.35"/><line x1="272.89" y1="287.77" x2="280.48" y2="287.85" stroke="#a0a4aa" stroke-width="0.35"/><line x1="272.89" y1="287.77" x2="274.45" y2="292.23" stroke="#a0a4aa" stroke-width="0.35"/><line x1="272.89" y1="287.77" x2="272.89" y2="281.27" stroke="#a0a4aa" stroke-width="0.35"/><line x1="280.48" y1="287.85" x2="288.08" y2="287.92" stroke="#a0a4aa" stroke-width="0.35"/><line x1="280.48" y1="287.85" x2="282.64" y2="292.32" stroke="#a0a4aa" stroke-width="0.35"/><line x1="280.48" y1="287.85" x2="280.48" y2="281.35" stroke="#a0a4aa" stroke-width="0.35"/><line x1="288.08" y1="287.92" x2="295.67" y2="288" stroke="#a0a4aa" stroke-width="0.35"/><line x1="288.08" y1="287.92" x2="290.82" y2="292.41" stroke="#a0a4aa" stroke-width="0.35"/><line x1="288.08" y1="287.92" x2="288.08" y2="281.42" stroke="#a0a4aa" stroke-width="0.35"/><line x1="295.67" y1="288" x2="299" y2="292.5" stroke="#a0a4aa" stroke-width="0.35"/><line x1="295.67" y1="288" x2="295.67" y2="281.5" stroke="#a0a4aa" stroke-width="0.35"/><line x1="209" y1="291.5" x2="217.18" y2="291.59" stroke="#a0a4aa" stroke-width="0.35"/><line x1="209" y1="291.5" x2="209" y2="285" stroke="#a0a4aa" stroke-width="0.35"/><line x1="217.18" y1="291.59" x2="225.36" y2="291.68" stroke="#a0a4aa" stroke-width="0.35"/><line x1="217.18" y1="291.59" x2="217.18" y2="285.09" stroke="#a0a4aa" stroke-width="0.35"/><line x1="225.36" y1="291.68" x2="233.55" y2="291.77" stroke="#a0a4aa" stroke-width="0.35"/><line x1="225.36" y1="291.68" x2="225.36" y2="285.18" stroke="#a0a4aa" stroke-width="0.35"/><line x1="233.55" y1="291.77" x2="241.73" y2="291.86" stroke="#a0a4aa" stroke-width="0.35"/><line x1="233.55" y1="291.77" x2="233.55" y2="285.27" stroke="#a0a4aa" stroke-width="0.35"/><line x1="241.73" y1="291.86" x2="249.91" y2="291.95" stroke="#a0a4aa" stroke-width="0.35"/><line x1="241.73" y1="291.86" x2="241.73" y2="285.36" stroke="#a0a4aa" stroke-width="0.35"/><line x1="249.91" y1="291.95" x2="258.09" y2="292.05" stroke="#a0a4aa" stroke-width="0.35"/><line x1="249.91" y1="291.95" x2="249.91" y2="285.45" stroke="#a0a4aa" stroke-width="0.35"/><line x1="258.09" y1="292.05" x2="266.27" y2="292.14" stroke="#a0a4aa" stroke-width="0.35"/><line x1="258.09" y1="292.05" x2="258.09" y2="285.55" stroke="#a0a4aa" stroke-width="0.35"/><line x1="266.27" y1="292.14" x2="274.45" y2="292.23" stroke="#a0a4aa" stroke-width="0.35"/><line x1="266.27" y1="292.14" x2="266.27" y2="285.64" stroke="#a0a4aa" stroke-width="0.35"/><line x1="274.45" y1="292.23" x2="282.64" y2="292.32" stroke="#a0a4aa" stroke-width="0.35"/><line x1="274.45" y1="292.23" x2="274.45" y2="285.73" stroke="#a0a4aa" stroke-width="0.35"/><line x1="282.64" y1="292.32" x2="290.82" y2="292.41" stroke="#a0a4aa" stroke-width="0.35"/><line x1="282.64" y1="292.32" x2="282.64" y2="285.82" stroke="#a0a4aa" stroke-width="0.35"/><line x1="290.82" y1="292.41" x2="299" y2="292.5" stroke="#a0a4aa" stroke-width="0.35"/><line x1="290.82" y1="292.41" x2="290.82" y2="285.91" stroke="#a0a4aa" stroke-width="0.35"/><line x1="299" y1="292.5" x2="299" y2="286" stroke="#a0a4aa" stroke-width="0.35"/><line x1="228" y1="272" x2="232.64" y2="272" stroke="#a0a4aa" stroke-width="0.35"/><line x1="228" y1="272" x2="224.83" y2="276.33" stroke="#a0a4aa" stroke-width="0.35"/><line x1="228" y1="272" x2="228" y2="265.5" stroke="#a0a4aa" stroke-width="0.35"/><line x1="232.64" y1="272" x2="237.27" y2="272" stroke="#a0a4aa" stroke-width="0.35"/><line x1="232.64" y1="272" x2="230.06" y2="276.35" stroke="#a0a4aa" stroke-width="0.35"/><line x1="232.64" y1="272" x2="232.64" y2="265.5" stroke="#a0a4aa" stroke-width="0.35"/><line x1="237.27" y1="272" x2="241.91" y2="272" stroke="#a0a4aa" stroke-width="0.35"/><line x1="237.27" y1="272" x2="235.29" y2="276.36" stroke="#a0a4aa" stroke-width="0.35"/><line x1="237.27" y1="272" x2="237.27" y2="265.5" stroke="#a0a4aa" stroke-width="0.35"/><line x1="241.91" y1="272" x2="246.55" y2="272" stroke="#a0a4aa" stroke-width="0.35"/><line x1="241.91" y1="272" x2="240.52" y2="276.38" stroke="#a0a4aa" stroke-width="0.35"/><line x1="241.91" y1="272" x2="241.91" y2="265.5" stroke="#a0a4aa" stroke-width="0.35"/><line x1="246.55" y1="272" x2="251.18" y2="272" stroke="#a0a4aa" stroke-width="0.35"/><line x1="246.55" y1="272" x2="245.74" y2="276.39" stroke="#a0a4aa" stroke-width="0.35"/><line x1="246.55" y1="272" x2="246.55" y2="265.5" stroke="#a0a4aa" stroke-width="0.35"/><line x1="251.18" y1="272" x2="255.82" y2="272" stroke="#a0a4aa" stroke-width="0.35"/><line x1="251.18" y1="272" x2="250.97" y2="276.41" stroke="#a0a4aa" stroke-width="0.35"/><line x1="251.18" y1="272" x2="251.18" y2="265.5" stroke="#a0a4aa" stroke-width="0.35"/><line x1="255.82" y1="272" x2="260.45" y2="272" stroke="#a0a4aa" stroke-width="0.35"/><line x1="255.82" y1="272" x2="256.2" y2="276.42" stroke="#a0a4aa" stroke-width="0.35"/><line x1="255.82" y1="272" x2="255.82" y2="265.5" stroke="#a0a4aa" stroke-width="0.35"/><line x1="260.45" y1="272" x2="265.09" y2="272" stroke="#a0a4aa" stroke-width="0.35"/><line x1="260.45" y1="272" x2="261.42" y2="276.44" stroke="#a0a4aa" stroke-width="0.35"/><line x1="260.45" y1="272" x2="260.45" y2="265.5" stroke="#a0a4aa" stroke-width="0.35"/><line x1="265.09" y1="272" x2="269.73" y2="272" stroke="#a0a4aa" stroke-width="0.35"/><line x1="265.09" y1="272" x2="266.65" y2="276.45" stroke="#a0a4aa" stroke-width="0.35"/><line x1="265.09" y1="272" x2="265.09" y2="265.5" stroke="#a0a4aa" stroke-width="0.35"/><line x1="269.73" y1="272" x2="274.36" y2="272" stroke="#a0a4aa" stroke-width="0.35"/><line x1="269.73" y1="272" x2="271.88" y2="276.47" stroke="#a0a4aa" stroke-width="0.35"/><line x1="269.73" y1="272" x2="269.73" y2="265.5" stroke="#a0a4aa" stroke-width="0.35"/><line x1="274.36" y1="272" x2="279" y2="272" stroke="#a0a4aa" stroke-width="0.35"/><line x1="274.36" y1="272" x2="277.11" y2="276.48" stroke="#a0a4aa" stroke-width="0.35"/><line x1="274.36" y1="272" x2="274.36" y2="265.5" stroke="#a0a4aa" stroke-width="0.35"/><line x1="279" y1="272" x2="282.33" y2="276.5" stroke="#a0a4aa" stroke-width="0.35"/><line x1="279" y1="272" x2="279" y2="265.5" stroke="#a0a4aa" stroke-width="0.35"/><line x1="224.83" y1="276.33" x2="230.06" y2="276.35" stroke="#a0a4aa" stroke-width="0.35"/><line x1="224.83" y1="276.33" x2="221.67" y2="280.67" stroke="#a0a4aa" stroke-width="0.35"/><line x1="224.83" y1="276.33" x2="224.83" y2="269.83" stroke="#a0a4aa" stroke-width="0.35"/><line x1="230.06" y1="276.35" x2="235.29" y2="276.36" stroke="#a0a4aa" stroke-width="0.35"/><line x1="230.06" y1="276.35" x2="227.48" y2="280.7" stroke="#a0a4aa" stroke-width="0.35"/><line x1="230.06" y1="276.35" x2="230.06" y2="269.85" stroke="#a0a4aa" stroke-width="0.35"/><line x1="235.29" y1="276.36" x2="240.52" y2="276.38" stroke="#a0a4aa" stroke-width="0.35"/><line x1="235.29" y1="276.36" x2="233.3" y2="280.73" stroke="#a0a4aa" stroke-width="0.35"/><line x1="235.29" y1="276.36" x2="235.29" y2="269.86" stroke="#a0a4aa" stroke-width="0.35"/><line x1="240.52" y1="276.38" x2="245.74" y2="276.39" stroke="#a0a4aa" stroke-width="0.35"/><line x1="240.52" y1="276.38" x2="239.12" y2="280.76" stroke="#a0a4aa" stroke-width="0.35"/><line x1="240.52" y1="276.38" x2="240.52" y2="269.88" stroke="#a0a4aa" stroke-width="0.35"/><line x1="245.74" y1="276.39" x2="250.97" y2="276.41" stroke="#a0a4aa" stroke-width="0.35"/><line x1="245.74" y1="276.39" x2="244.94" y2="280.79" stroke="#a0a4aa" stroke-width="0.35"/><line x1="245.74" y1="276.39" x2="245.74" y2="269.89" stroke="#a0a4aa" stroke-width="0.35"/><line x1="250.97" y1="276.41" x2="256.2" y2="276.42" stroke="#a0a4aa" stroke-width="0.35"/><line x1="250.97" y1="276.41" x2="250.76" y2="280.82" stroke="#a0a4aa" stroke-width="0.35"/><line x1="250.97" y1="276.41" x2="250.97" y2="269.91" stroke="#a0a4aa" stroke-width="0.35"/><line x1="256.2" y1="276.42" x2="261.42" y2="276.44" stroke="#a0a4aa" stroke-width="0.35"/><line x1="256.2" y1="276.42" x2="256.58" y2="280.85" stroke="#a0a4aa" stroke-width="0.35"/><line x1="256.2" y1="276.42" x2="256.2" y2="269.92" stroke="#a0a4aa" stroke-width="0.35"/><line x1="261.42" y1="276.44" x2="266.65" y2="276.45" stroke="#a0a4aa" stroke-width="0.35"/><line x1="261.42" y1="276.44" x2="262.39" y2="280.88" stroke="#a0a4aa" stroke-width="0.35"/><line x1="261.42" y1="276.44" x2="261.42" y2="269.94" stroke="#a0a4aa" stroke-width="0.35"/><line x1="266.65" y1="276.45" x2="271.88" y2="276.47" stroke="#a0a4aa" stroke-width="0.35"/><line x1="266.65" y1="276.45" x2="268.21" y2="280.91" stroke="#a0a4aa" stroke-width="0.35"/><line x1="266.65" y1="276.45" x2="266.65" y2="269.95" stroke="#a0a4aa" stroke-width="0.35"/><line x1="271.88" y1="276.47" x2="277.11" y2="276.48" stroke="#a0a4aa" stroke-width="0.35"/><line x1="271.88" y1="276.47" x2="274.03" y2="280.94" stroke="#a0a4aa" stroke-width="0.35"/><line x1="271.88" y1="276.47" x2="271.88" y2="269.97" stroke="#a0a4aa" stroke-width="0.35"/><line x1="277.11" y1="276.48" x2="282.33" y2="276.5" stroke="#a0a4aa" stroke-width="0.35"/><line x1="277.11" y1="276.48" x2="279.85" y2="280.97" stroke="#a0a4aa" stroke-width="0.35"/><line x1="277.11" y1="276.48" x2="277.11" y2="269.98" stroke="#a0a4aa" stroke-width="0.35"/><line x1="282.33" y1="276.5" x2="285.67" y2="281" stroke="#a0a4aa" stroke-width="0.35"/><line x1="282.33" y1="276.5" x2="282.33" y2="270" stroke="#a0a4aa" stroke-width="0.35"/><line x1="221.67" y1="280.67" x2="227.48" y2="280.7" stroke="#a0a4aa" stroke-width="0.35"/><line x1="221.67" y1="280.67" x2="218.5" y2="285" stroke="#a0a4aa" stroke-width="0.35"/><line x1="221.67" y1="280.67" x2="221.67" y2="274.17" stroke="#a0a4aa" stroke-width="0.35"/><line x1="227.48" y1="280.7" x2="233.3" y2="280.73" stroke="#a0a4aa" stroke-width="0.35"/><line x1="227.48" y1="280.7" x2="224.91" y2="285.05" stroke="#a0a4aa" stroke-width="0.35"/><line x1="227.48" y1="280.7" x2="227.48" y2="274.2" stroke="#a0a4aa" stroke-width="0.35"/><line x1="233.3" y1="280.73" x2="239.12" y2="280.76" stroke="#a0a4aa" stroke-width="0.35"/><line x1="233.3" y1="280.73" x2="231.32" y2="285.09" stroke="#a0a4aa" stroke-width="0.35"/><line x1="233.3" y1="280.73" x2="233.3" y2="274.23" stroke="#a0a4aa" stroke-width="0.35"/><line x1="239.12" y1="280.76" x2="244.94" y2="280.79" stroke="#a0a4aa" stroke-width="0.35"/><line x1="239.12" y1="280.76" x2="237.73" y2="285.14" stroke="#a0a4aa" stroke-width="0.35"/><line x1="239.12" y1="280.76" x2="239.12" y2="274.26" stroke="#a0a4aa" stroke-width="0.35"/><line x1="244.94" y1="280.79" x2="250.76" y2="280.82" stroke="#a0a4aa" stroke-width="0.35"/><line x1="244.94" y1="280.79" x2="244.14" y2="285.18" stroke="#a0a4aa" stroke-width="0.35"/><line x1="244.94" y1="280.79" x2="244.94" y2="274.29" stroke="#a0a4aa" stroke-width="0.35"/><line x1="250.76" y1="280.82" x2="256.58" y2="280.85" stroke="#a0a4aa" stroke-width="0.35"/><line x1="250.76" y1="280.82" x2="250.55" y2="285.23" stroke="#a0a4aa" stroke-width="0.35"/><line x1="250.76" y1="280.82" x2="250.76" y2="274.32" stroke="#a0a4aa" stroke-width="0.35"/><line x1="256.58" y1="280.85" x2="262.39" y2="280.88" stroke="#a0a4aa" stroke-width="0.35"/><line x1="256.58" y1="280.85" x2="256.95" y2="285.27" stroke="#a0a4aa" stroke-width="0.35"/><line x1="256.58" y1="280.85" x2="256.58" y2="274.35" stroke="#a0a4aa" stroke-width="0.35"/><line x1="262.39" y1="280.88" x2="268.21" y2="280.91" stroke="#a0a4aa" stroke-width="0.35"/><line x1="262.39" y1="280.88" x2="263.36" y2="285.32" stroke="#a0a4aa" stroke-width="0.35"/><line x1="262.39" y1="280.88" x2="262.39" y2="274.38" stroke="#a0a4aa" stroke-width="0.35"/><line x1="268.21" y1="280.91" x2="274.03" y2="280.94" stroke="#a0a4aa" stroke-width="0.35"/><line x1="268.21" y1="280.91" x2="269.77" y2="285.36" stroke="#a0a4aa" stroke-width="0.35"/><line x1="268.21" y1="280.91" x2="268.21" y2="274.41" stroke="#a0a4aa" stroke-width="0.35"/><line x1="274.03" y1="280.94" x2="279.85" y2="280.97" stroke="#a0a4aa" stroke-width="0.35"/><line x1="274.03" y1="280.94" x2="276.18" y2="285.41" stroke="#a0a4aa" stroke-width="0.35"/><line x1="274.03" y1="280.94" x2="274.03" y2="274.44" stroke="#a0a4aa" stroke-width="0.35"/><line x1="279.85" y1="280.97" x2="285.67" y2="281" stroke="#a0a4aa" stroke-width="0.35"/><line x1="279.85" y1="280.97" x2="282.59" y2="285.45" stroke="#a0a4aa" stroke-width="0.35"/><line x1="279.85" y1="280.97" x2="279.85" y2="274.47" stroke="#a0a4aa" stroke-width="0.35"/><line x1="285.67" y1="281" x2="289" y2="285.5" stroke="#a0a4aa" stroke-width="0.35"/><line x1="285.67" y1="281" x2="285.67" y2="274.5" stroke="#a0a4aa" stroke-width="0.35"/><line x1="218.5" y1="285" x2="224.91" y2="285.05" stroke="#a0a4aa" stroke-width="0.35"/><line x1="218.5" y1="285" x2="215.33" y2="289.33" stroke="#a0a4aa" stroke-width="0.35"/><line x1="218.5" y1="285" x2="218.5" y2="278.5" stroke="#a0a4aa" stroke-width="0.35"/><line x1="224.91" y1="285.05" x2="231.32" y2="285.09" stroke="#a0a4aa" stroke-width="0.35"/><line x1="224.91" y1="285.05" x2="222.33" y2="289.39" stroke="#a0a4aa" stroke-width="0.35"/><line x1="224.91" y1="285.05" x2="224.91" y2="278.55" stroke="#a0a4aa" stroke-width="0.35"/><line x1="231.32" y1="285.09" x2="237.73" y2="285.14" stroke="#a0a4aa" stroke-width="0.35"/><line x1="231.32" y1="285.09" x2="229.33" y2="289.45" stroke="#a0a4aa" stroke-width="0.35"/><line x1="231.32" y1="285.09" x2="231.32" y2="278.59" stroke="#a0a4aa" stroke-width="0.35"/><line x1="237.73" y1="285.14" x2="244.14" y2="285.18" stroke="#a0a4aa" stroke-width="0.35"/><line x1="237.73" y1="285.14" x2="236.33" y2="289.52" stroke="#a0a4aa" stroke-width="0.35"/><line x1="237.73" y1="285.14" x2="237.73" y2="278.64" stroke="#a0a4aa" stroke-width="0.35"/><line x1="244.14" y1="285.18" x2="250.55" y2="285.23" stroke="#a0a4aa" stroke-width="0.35"/><line x1="244.14" y1="285.18" x2="243.33" y2="289.58" stroke="#a0a4aa" stroke-width="0.35"/><line x1="244.14" y1="285.18" x2="244.14" y2="278.68" stroke="#a0a4aa" stroke-width="0.35"/><line x1="250.55" y1="285.23" x2="256.95" y2="285.27" stroke="#a0a4aa" stroke-width="0.35"/><line x1="250.55" y1="285.23" x2="250.33" y2="289.64" stroke="#a0a4aa" stroke-width="0.35"/><line x1="250.55" y1="285.23" x2="250.55" y2="278.73" stroke="#a0a4aa" stroke-width="0.35"/><line x1="256.95" y1="285.27" x2="263.36" y2="285.32" stroke="#a0a4aa" stroke-width="0.35"/><line x1="256.95" y1="285.27" x2="257.33" y2="289.7" stroke="#a0a4aa" stroke-width="0.35"/><line x1="256.95" y1="285.27" x2="256.95" y2="278.77" stroke="#a0a4aa" stroke-width="0.35"/><line x1="263.36" y1="285.32" x2="269.77" y2="285.36" stroke="#a0a4aa" stroke-width="0.35"/><line x1="263.36" y1="285.32" x2="264.33" y2="289.76" stroke="#a0a4aa" stroke-width="0.35"/><line x1="263.36" y1="285.32" x2="263.36" y2="278.82" stroke="#a0a4aa" stroke-width="0.35"/><line x1="269.77" y1="285.36" x2="276.18" y2="285.41" stroke="#a0a4aa" stroke-width="0.35"/><line x1="269.77" y1="285.36" x2="271.33" y2="289.82" stroke="#a0a4aa" stroke-width="0.35"/><line x1="269.77" y1="285.36" x2="269.77" y2="278.86" stroke="#a0a4aa" stroke-width="0.35"/><line x1="276.18" y1="285.41" x2="282.59" y2="285.45" stroke="#a0a4aa" stroke-width="0.35"/><line x1="276.18" y1="285.41" x2="278.33" y2="289.88" stroke="#a0a4aa" stroke-width="0.35"/><line x1="276.18" y1="285.41" x2="276.18" y2="278.91" stroke="#a0a4aa" stroke-width="0.35"/><line x1="282.59" y1="285.45" x2="289" y2="285.5" stroke="#a0a4aa" stroke-width="0.35"/><line x1="282.59" y1="285.45" x2="285.33" y2="289.94" stroke="#a0a4aa" stroke-width="0.35"/><line x1="282.59" y1="285.45" x2="282.59" y2="278.95" stroke="#a0a4aa" stroke-width="0.35"/><line x1="289" y1="285.5" x2="292.33" y2="290" stroke="#a0a4aa" stroke-width="0.35"/><line x1="289" y1="285.5" x2="289" y2="279" stroke="#a0a4aa" stroke-width="0.35"/><line x1="215.33" y1="289.33" x2="222.33" y2="289.39" stroke="#a0a4aa" stroke-width="0.35"/><line x1="215.33" y1="289.33" x2="212.17" y2="293.67" stroke="#a0a4aa" stroke-width="0.35"/><line x1="215.33" y1="289.33" x2="215.33" y2="282.83" stroke="#a0a4aa" stroke-width="0.35"/><line x1="222.33" y1="289.39" x2="229.33" y2="289.45" stroke="#a0a4aa" stroke-width="0.35"/><line x1="222.33" y1="289.39" x2="219.76" y2="293.74" stroke="#a0a4aa" stroke-width="0.35"/><line x1="222.33" y1="289.39" x2="222.33" y2="282.89" stroke="#a0a4aa" stroke-width="0.35"/><line x1="229.33" y1="289.45" x2="236.33" y2="289.52" stroke="#a0a4aa" stroke-width="0.35"/><line x1="229.33" y1="289.45" x2="227.35" y2="293.82" stroke="#a0a4aa" stroke-width="0.35"/><line x1="229.33" y1="289.45" x2="229.33" y2="282.95" stroke="#a0a4aa" stroke-width="0.35"/><line x1="236.33" y1="289.52" x2="243.33" y2="289.58" stroke="#a0a4aa" stroke-width="0.35"/><line x1="236.33" y1="289.52" x2="234.94" y2="293.89" stroke="#a0a4aa" stroke-width="0.35"/><line x1="236.33" y1="289.52" x2="236.33" y2="283.02" stroke="#a0a4aa" stroke-width="0.35"/><line x1="243.33" y1="289.58" x2="250.33" y2="289.64" stroke="#a0a4aa" stroke-width="0.35"/><line x1="243.33" y1="289.58" x2="242.53" y2="293.97" stroke="#a0a4aa" stroke-width="0.35"/><line x1="243.33" y1="289.58" x2="243.33" y2="283.08" stroke="#a0a4aa" stroke-width="0.35"/><line x1="250.33" y1="289.64" x2="257.33" y2="289.7" stroke="#a0a4aa" stroke-width="0.35"/><line x1="250.33" y1="289.64" x2="250.12" y2="294.05" stroke="#a0a4aa" stroke-width="0.35"/><line x1="250.33" y1="289.64" x2="250.33" y2="283.14" stroke="#a0a4aa" stroke-width="0.35"/><line x1="257.33" y1="289.7" x2="264.33" y2="289.76" stroke="#a0a4aa" stroke-width="0.35"/><line x1="257.33" y1="289.7" x2="257.71" y2="294.12" stroke="#a0a4aa" stroke-width="0.35"/><line x1="257.33" y1="289.7" x2="257.33" y2="283.2" stroke="#a0a4aa" stroke-width="0.35"/><line x1="264.33" y1="289.76" x2="271.33" y2="289.82" stroke="#a0a4aa" stroke-width="0.35"/><line x1="264.33" y1="289.76" x2="265.3" y2="294.2" stroke="#a0a4aa" stroke-width="0.35"/><line x1="264.33" y1="289.76" x2="264.33" y2="283.26" stroke="#a0a4aa" stroke-width="0.35"/><line x1="271.33" y1="289.82" x2="278.33" y2="289.88" stroke="#a0a4aa" stroke-width="0.35"/><line x1="271.33" y1="289.82" x2="272.89" y2="294.27" stroke="#a0a4aa" stroke-width="0.35"/><line x1="271.33" y1="289.82" x2="271.33" y2="283.32" stroke="#a0a4aa" stroke-width="0.35"/><line x1="278.33" y1="289.88" x2="285.33" y2="289.94" stroke="#a0a4aa" stroke-width="0.35"/><line x1="278.33" y1="289.88" x2="280.48" y2="294.35" stroke="#a0a4aa" stroke-width="0.35"/><line x1="278.33" y1="289.88" x2="278.33" y2="283.38" stroke="#a0a4aa" stroke-width="0.35"/><line x1="285.33" y1="289.94" x2="292.33" y2="290" stroke="#a0a4aa" stroke-width="0.35"/><line x1="285.33" y1="289.94" x2="288.08" y2="294.42" stroke="#a0a4aa" stroke-width="0.35"/><line x1="285.33" y1="289.94" x2="285.33" y2="283.44" stroke="#a0a4aa" stroke-width="0.35"/><line x1="292.33" y1="290" x2="295.67" y2="294.5" stroke="#a0a4aa" stroke-width="0.35"/><line x1="292.33" y1="290" x2="292.33" y2="283.5" stroke="#a0a4aa" stroke-width="0.35"/><line x1="212.17" y1="293.67" x2="219.76" y2="293.74" stroke="#a0a4aa" stroke-width="0.35"/><line x1="212.17" y1="293.67" x2="209" y2="298" stroke="#a0a4aa" stroke-width="0.35"/><line x1="212.17" y1="293.67" x2="212.17" y2="287.17" stroke="#a0a4aa" stroke-width="0.35"/><line x1="219.76" y1="293.74" x2="227.35" y2="293.82" stroke="#a0a4aa" stroke-width="0.35"/><line x1="219.76" y1="293.74" x2="217.18" y2="298.09" stroke="#a0a4aa" stroke-width="0.35"/><line x1="219.76" y1="293.74" x2="219.76" y2="287.24" stroke="#a0a4aa" stroke-width="0.35"/><line x1="227.35" y1="293.82" x2="234.94" y2="293.89" stroke="#a0a4aa" stroke-width="0.35"/><line x1="227.35" y1="293.82" x2="225.36" y2="298.18" stroke="#a0a4aa" stroke-width="0.35"/><line x1="227.35" y1="293.82" x2="227.35" y2="287.32" stroke="#a0a4aa" stroke-width="0.35"/><line x1="234.94" y1="293.89" x2="242.53" y2="293.97" stroke="#a0a4aa" stroke-width="0.35"/><line x1="234.94" y1="293.89" x2="233.55" y2="298.27" stroke="#a0a4aa" stroke-width="0.35"/><line x1="234.94" y1="293.89" x2="234.94" y2="287.39" stroke="#a0a4aa" stroke-width="0.35"/><line x1="242.53" y1="293.97" x2="250.12" y2="294.05" stroke="#a0a4aa" stroke-width="0.35"/><line x1="242.53" y1="293.97" x2="241.73" y2="298.36" stroke="#a0a4aa" stroke-width="0.35"/><line x1="242.53" y1="293.97" x2="242.53" y2="287.47" stroke="#a0a4aa" stroke-width="0.35"/><line x1="250.12" y1="294.05" x2="257.71" y2="294.12" stroke="#a0a4aa" stroke-width="0.35"/><line x1="250.12" y1="294.05" x2="249.91" y2="298.45" stroke="#a0a4aa" stroke-width="0.35"/><line x1="250.12" y1="294.05" x2="250.12" y2="287.55" stroke="#a0a4aa" stroke-width="0.35"/><line x1="257.71" y1="294.12" x2="265.3" y2="294.2" stroke="#a0a4aa" stroke-width="0.35"/><line x1="257.71" y1="294.12" x2="258.09" y2="298.55" stroke="#a0a4aa" stroke-width="0.35"/><line x1="257.71" y1="294.12" x2="257.71" y2="287.62" stroke="#a0a4aa" stroke-width="0.35"/><line x1="265.3" y1="294.2" x2="272.89" y2="294.27" stroke="#a0a4aa" stroke-width="0.35"/><line x1="265.3" y1="294.2" x2="266.27" y2="298.64" stroke="#a0a4aa" stroke-width="0.35"/><line x1="265.3" y1="294.2" x2="265.3" y2="287.7" stroke="#a0a4aa" stroke-width="0.35"/><line x1="272.89" y1="294.27" x2="280.48" y2="294.35" stroke="#a0a4aa" stroke-width="0.35"/><line x1="272.89" y1="294.27" x2="274.45" y2="298.73" stroke="#a0a4aa" stroke-width="0.35"/><line x1="272.89" y1="294.27" x2="272.89" y2="287.77" stroke="#a0a4aa" stroke-width="0.35"/><line x1="280.48" y1="294.35" x2="288.08" y2="294.42" stroke="#a0a4aa" stroke-width="0.35"/><line x1="280.48" y1="294.35" x2="282.64" y2="298.82" stroke="#a0a4aa" stroke-width="0.35"/><line x1="280.48" y1="294.35" x2="280.48" y2="287.85" stroke="#a0a4aa" stroke-width="0.35"/><line x1="288.08" y1="294.42" x2="295.67" y2="294.5" stroke="#a0a4aa" stroke-width="0.35"/><line x1="288.08" y1="294.42" x2="290.82" y2="298.91" stroke="#a0a4aa" stroke-width="0.35"/><line x1="288.08" y1="294.42" x2="288.08" y2="287.92" stroke="#a0a4aa" stroke-width="0.35"/><line x1="295.67" y1="294.5" x2="299" y2="299" stroke="#a0a4aa" stroke-width="0.35"/><line x1="295.67" y1="294.5" x2="295.67" y2="288" stroke="#a0a4aa" stroke-width="0.35"/><line x1="209" y1="298" x2="217.18" y2="298.09" stroke="#a0a4aa" stroke-width="0.35"/><line x1="209" y1="298" x2="209" y2="291.5" stroke="#a0a4aa" stroke-width="0.35"/><line x1="217.18" y1="298.09" x2="225.36" y2="298.18" stroke="#a0a4aa" stroke-width="0.35"/><line x1="217.18" y1="298.09" x2="217.18" y2="291.59" stroke="#a0a4aa" stroke-width="0.35"/><line x1="225.36" y1="298.18" x2="233.55" y2="298.27" stroke="#a0a4aa" stroke-width="0.35"/><line x1="225.36" y1="298.18" x2="225.36" y2="291.68" stroke="#a0a4aa" stroke-width="0.35"/><line x1="233.55" y1="298.27" x2="241.73" y2="298.36" stroke="#a0a4aa" stroke-width="0.35"/><line x1="233.55" y1="298.27" x2="233.55" y2="291.77" stroke="#a0a4aa" stroke-width="0.35"/><line x1="241.73" y1="298.36" x2="249.91" y2="298.45" stroke="#a0a4aa" stroke-width="0.35"/><line x1="241.73" y1="298.36" x2="241.73" y2="291.86" stroke="#a0a4aa" stroke-width="0.35"/><line x1="249.91" y1="298.45" x2="258.09" y2="298.55" stroke="#a0a4aa" stroke-width="0.35"/><line x1="249.91" y1="298.45" x2="249.91" y2="291.95" stroke="#a0a4aa" stroke-width="0.35"/><line x1="258.09" y1="298.55" x2="266.27" y2="298.64" stroke="#a0a4aa" stroke-width="0.35"/><line x1="258.09" y1="298.55" x2="258.09" y2="292.05" stroke="#a0a4aa" stroke-width="0.35"/><line x1="266.27" y1="298.64" x2="274.45" y2="298.73" stroke="#a0a4aa" stroke-width="0.35"/><line x1="266.27" y1="298.64" x2="266.27" y2="292.14" stroke="#a0a4aa" stroke-width="0.35"/><line x1="274.45" y1="298.73" x2="282.64" y2="298.82" stroke="#a0a4aa" stroke-width="0.35"/><line x1="274.45" y1="298.73" x2="274.45" y2="292.23" stroke="#a0a4aa" stroke-width="0.35"/><line x1="282.64" y1="298.82" x2="290.82" y2="298.91" stroke="#a0a4aa" stroke-width="0.35"/><line x1="282.64" y1="298.82" x2="282.64" y2="292.32" stroke="#a0a4aa" stroke-width="0.35"/><line x1="290.82" y1="298.91" x2="299" y2="299" stroke="#a0a4aa" stroke-width="0.35"/><line x1="290.82" y1="298.91" x2="290.82" y2="292.41" stroke="#a0a4aa" stroke-width="0.35"/><line x1="299" y1="299" x2="299" y2="292.5" stroke="#a0a4aa" stroke-width="0.35"/>
<circle cx="228" cy="259" r="1.75" fill="url(#gY)"/><circle cx="232.64" cy="259" r="1.75" fill="url(#gY)"/><circle cx="237.27" cy="259" r="1.75" fill="url(#gY)"/><circle cx="241.91" cy="259" r="1.75" fill="url(#gY)"/><circle cx="246.55" cy="259" r="1.75" fill="url(#gY)"/><circle cx="251.18" cy="259" r="1.75" fill="url(#gY)"/><circle cx="255.82" cy="259" r="1.75" fill="url(#gY)"/><circle cx="260.45" cy="259" r="1.75" fill="url(#gY)"/><circle cx="265.09" cy="259" r="1.75" fill="url(#gY)"/><circle cx="269.73" cy="259" r="1.75" fill="url(#gY)"/><circle cx="274.36" cy="259" r="1.75" fill="url(#gY)"/><circle cx="279" cy="259" r="1.75" fill="url(#gY)"/><circle cx="224.83" cy="263.33" r="1.75" fill="url(#gY)"/><circle cx="230.06" cy="263.35" r="1.75" fill="url(#gY)"/><circle cx="235.29" cy="263.36" r="1.75" fill="url(#gY)"/><circle cx="240.52" cy="263.38" r="1.75" fill="url(#gY)"/><circle cx="245.74" cy="263.39" r="1.75" fill="url(#gY)"/><circle cx="250.97" cy="263.41" r="1.75" fill="url(#gY)"/><circle cx="256.2" cy="263.42" r="1.75" fill="url(#gY)"/><circle cx="261.42" cy="263.44" r="1.75" fill="url(#gY)"/><circle cx="266.65" cy="263.45" r="1.75" fill="url(#gY)"/><circle cx="271.88" cy="263.47" r="1.75" fill="url(#gY)"/><circle cx="277.11" cy="263.48" r="1.75" fill="url(#gY)"/><circle cx="282.33" cy="263.5" r="1.75" fill="url(#gY)"/><circle cx="221.67" cy="267.67" r="1.75" fill="url(#gY)"/><circle cx="227.48" cy="267.7" r="1.75" fill="url(#gY)"/><circle cx="233.3" cy="267.73" r="1.75" fill="url(#gY)"/><circle cx="239.12" cy="267.76" r="1.75" fill="url(#gY)"/><circle cx="244.94" cy="267.79" r="1.75" fill="url(#gY)"/><circle cx="250.76" cy="267.82" r="1.75" fill="url(#gY)"/><circle cx="256.58" cy="267.85" r="1.75" fill="url(#gY)"/><circle cx="262.39" cy="267.88" r="1.75" fill="url(#gY)"/><circle cx="268.21" cy="267.91" r="1.75" fill="url(#gY)"/><circle cx="274.03" cy="267.94" r="1.75" fill="url(#gY)"/><circle cx="279.85" cy="267.97" r="1.75" fill="url(#gY)"/><circle cx="285.67" cy="268" r="1.75" fill="url(#gY)"/><circle cx="218.5" cy="272" r="1.75" fill="url(#gY)"/><circle cx="224.91" cy="272.05" r="1.75" fill="url(#gY)"/><circle cx="231.32" cy="272.09" r="1.75" fill="url(#gY)"/><circle cx="237.73" cy="272.14" r="1.75" fill="url(#gY)"/><circle cx="244.14" cy="272.18" r="1.75" fill="url(#gY)"/><circle cx="250.55" cy="272.23" r="1.75" fill="url(#gY)"/><circle cx="256.95" cy="272.27" r="1.75" fill="url(#gY)"/><circle cx="263.36" cy="272.32" r="1.75" fill="url(#gY)"/><circle cx="269.77" cy="272.36" r="1.75" fill="url(#gY)"/><circle cx="276.18" cy="272.41" r="1.75" fill="url(#gY)"/><circle cx="282.59" cy="272.45" r="1.75" fill="url(#gY)"/><circle cx="289" cy="272.5" r="1.75" fill="url(#gY)"/><circle cx="215.33" cy="276.33" r="1.75" fill="url(#gY)"/><circle cx="222.33" cy="276.39" r="1.75" fill="url(#gY)"/><circle cx="229.33" cy="276.45" r="1.75" fill="url(#gY)"/><circle cx="236.33" cy="276.52" r="1.75" fill="url(#gY)"/><circle cx="243.33" cy="276.58" r="1.75" fill="url(#gY)"/><circle cx="250.33" cy="276.64" r="1.75" fill="url(#gY)"/><circle cx="257.33" cy="276.7" r="1.75" fill="url(#gY)"/><circle cx="264.33" cy="276.76" r="1.75" fill="url(#gY)"/><circle cx="271.33" cy="276.82" r="1.75" fill="url(#gY)"/><circle cx="278.33" cy="276.88" r="1.75" fill="url(#gY)"/><circle cx="285.33" cy="276.94" r="1.75" fill="url(#gY)"/><circle cx="292.33" cy="277" r="1.75" fill="url(#gY)"/><circle cx="212.17" cy="280.67" r="1.75" fill="url(#gY)"/><circle cx="219.76" cy="280.74" r="1.75" fill="url(#gY)"/><circle cx="227.35" cy="280.82" r="1.75" fill="url(#gY)"/><circle cx="234.94" cy="280.89" r="1.75" fill="url(#gY)"/><circle cx="242.53" cy="280.97" r="1.75" fill="url(#gY)"/><circle cx="250.12" cy="281.05" r="1.75" fill="url(#gY)"/><circle cx="257.71" cy="281.12" r="1.75" fill="url(#gY)"/><circle cx="265.3" cy="281.2" r="1.75" fill="url(#gY)"/><circle cx="272.89" cy="281.27" r="1.75" fill="url(#gY)"/><circle cx="280.48" cy="281.35" r="1.75" fill="url(#gY)"/><circle cx="288.08" cy="281.42" r="1.75" fill="url(#gY)"/><circle cx="295.67" cy="281.5" r="1.75" fill="url(#gY)"/><circle cx="209" cy="285" r="1.75" fill="url(#gY)"/><circle cx="217.18" cy="285.09" r="1.75" fill="url(#gY)"/><circle cx="225.36" cy="285.18" r="1.75" fill="url(#gY)"/><circle cx="233.55" cy="285.27" r="1.75" fill="url(#gY)"/><circle cx="241.73" cy="285.36" r="1.75" fill="url(#gY)"/><circle cx="249.91" cy="285.45" r="1.75" fill="url(#gY)"/><circle cx="258.09" cy="285.55" r="1.75" fill="url(#gY)"/><circle cx="266.27" cy="285.64" r="1.75" fill="url(#gY)"/><circle cx="274.45" cy="285.73" r="1.75" fill="url(#gY)"/><circle cx="282.64" cy="285.82" r="1.75" fill="url(#gY)"/><circle cx="290.82" cy="285.91" r="1.75" fill="url(#gY)"/><circle cx="299" cy="286" r="1.75" fill="url(#gY)"/><circle cx="228" cy="265.5" r="1.25" fill="#8e929c"/><circle cx="232.64" cy="265.5" r="1.25" fill="#8e929c"/><circle cx="237.27" cy="265.5" r="1.25" fill="#8e929c"/><circle cx="241.91" cy="265.5" r="1.25" fill="#8e929c"/><circle cx="246.55" cy="265.5" r="1.25" fill="#8e929c"/><circle cx="251.18" cy="265.5" r="1.25" fill="#8e929c"/><circle cx="255.82" cy="265.5" r="1.25" fill="#8e929c"/><circle cx="260.45" cy="265.5" r="1.25" fill="#8e929c"/><circle cx="265.09" cy="265.5" r="1.25" fill="#8e929c"/><circle cx="269.73" cy="265.5" r="1.25" fill="#8e929c"/><circle cx="274.36" cy="265.5" r="1.25" fill="#8e929c"/><circle cx="279" cy="265.5" r="1.25" fill="#8e929c"/><circle cx="224.83" cy="269.83" r="1.25" fill="#8e929c"/><circle cx="230.06" cy="269.85" r="1.25" fill="#8e929c"/><circle cx="235.29" cy="269.86" r="1.25" fill="#8e929c"/><circle cx="240.52" cy="269.88" r="1.25" fill="#8e929c"/><circle cx="245.74" cy="269.89" r="1.25" fill="#8e929c"/><circle cx="250.97" cy="269.91" r="1.25" fill="#8e929c"/><circle cx="256.2" cy="269.92" r="1.25" fill="#8e929c"/><circle cx="261.42" cy="269.94" r="1.25" fill="#8e929c"/><circle cx="266.65" cy="269.95" r="1.25" fill="#8e929c"/><circle cx="271.88" cy="269.97" r="1.25" fill="#8e929c"/><circle cx="277.11" cy="269.98" r="1.25" fill="#8e929c"/><circle cx="282.33" cy="270" r="1.25" fill="#8e929c"/><circle cx="221.67" cy="274.17" r="1.25" fill="#8e929c"/><circle cx="227.48" cy="274.2" r="1.25" fill="#8e929c"/><circle cx="233.3" cy="274.23" r="1.25" fill="#8e929c"/><circle cx="239.12" cy="274.26" r="1.25" fill="#8e929c"/><circle cx="244.94" cy="274.29" r="1.25" fill="#8e929c"/><circle cx="250.76" cy="274.32" r="1.25" fill="#8e929c"/><circle cx="256.58" cy="274.35" r="1.25" fill="#8e929c"/><circle cx="262.39" cy="274.38" r="1.25" fill="#8e929c"/><circle cx="268.21" cy="274.41" r="1.25" fill="#8e929c"/><circle cx="274.03" cy="274.44" r="1.25" fill="#8e929c"/><circle cx="279.85" cy="274.47" r="1.25" fill="#8e929c"/><circle cx="285.67" cy="274.5" r="1.25" fill="#8e929c"/><circle cx="218.5" cy="278.5" r="1.25" fill="#8e929c"/><circle cx="224.91" cy="278.55" r="1.25" fill="#8e929c"/><circle cx="231.32" cy="278.59" r="1.25" fill="#8e929c"/><circle cx="237.73" cy="278.64" r="1.25" fill="#8e929c"/><circle cx="244.14" cy="278.68" r="1.25" fill="#8e929c"/><circle cx="250.55" cy="278.73" r="1.25" fill="#8e929c"/><circle cx="256.95" cy="278.77" r="1.25" fill="#8e929c"/><circle cx="263.36" cy="278.82" r="1.25" fill="#8e929c"/><circle cx="269.77" cy="278.86" r="1.25" fill="#8e929c"/><circle cx="276.18" cy="278.91" r="1.25" fill="#8e929c"/><circle cx="282.59" cy="278.95" r="1.25" fill="#8e929c"/><circle cx="289" cy="279" r="1.25" fill="#8e929c"/><circle cx="215.33" cy="282.83" r="1.25" fill="#8e929c"/><circle cx="222.33" cy="282.89" r="1.25" fill="#8e929c"/><circle cx="229.33" cy="282.95" r="1.25" fill="#8e929c"/><circle cx="236.33" cy="283.02" r="1.25" fill="#8e929c"/><circle cx="243.33" cy="283.08" r="1.25" fill="#8e929c"/><circle cx="250.33" cy="283.14" r="1.25" fill="#8e929c"/><circle cx="257.33" cy="283.2" r="1.25" fill="#8e929c"/><circle cx="264.33" cy="283.26" r="1.25" fill="#8e929c"/><circle cx="271.33" cy="283.32" r="1.25" fill="#8e929c"/><circle cx="278.33" cy="283.38" r="1.25" fill="#8e929c"/><circle cx="285.33" cy="283.44" r="1.25" fill="#8e929c"/><circle cx="292.33" cy="283.5" r="1.25" fill="#8e929c"/><circle cx="212.17" cy="287.17" r="1.25" fill="#8e929c"/><circle cx="219.76" cy="287.24" r="1.25" fill="#8e929c"/><circle cx="227.35" cy="287.32" r="1.25" fill="#8e929c"/><circle cx="234.94" cy="287.39" r="1.25" fill="#8e929c"/><circle cx="242.53" cy="287.47" r="1.25" fill="#8e929c"/><circle cx="250.12" cy="287.55" r="1.25" fill="#8e929c"/><circle cx="257.71" cy="287.62" r="1.25" fill="#8e929c"/><circle cx="265.3" cy="287.7" r="1.25" fill="#8e929c"/><circle cx="272.89" cy="287.77" r="1.25" fill="#8e929c"/><circle cx="280.48" cy="287.85" r="1.25" fill="#8e929c"/><circle cx="288.08" cy="287.92" r="1.25" fill="#8e929c"/><circle cx="295.67" cy="288" r="1.25" fill="#8e929c"/><circle cx="209" cy="291.5" r="1.25" fill="#8e929c"/><circle cx="217.18" cy="291.59" r="1.25" fill="#8e929c"/><circle cx="225.36" cy="291.68" r="1.25" fill="#8e929c"/><circle cx="233.55" cy="291.77" r="1.25" fill="#8e929c"/><circle cx="241.73" cy="291.86" r="1.25" fill="#8e929c"/><circle cx="249.91" cy="291.95" r="1.25" fill="#8e929c"/><circle cx="258.09" cy="292.05" r="1.25" fill="#8e929c"/><circle cx="266.27" cy="292.14" r="1.25" fill="#8e929c"/><circle cx="274.45" cy="292.23" r="1.25" fill="#8e929c"/><circle cx="282.64" cy="292.32" r="1.25" fill="#8e929c"/><circle cx="290.82" cy="292.41" r="1.25" fill="#8e929c"/><circle cx="299" cy="292.5" r="1.25" fill="#8e929c"/><circle cx="228" cy="272" r="1.75" fill="url(#gY)"/><circle cx="232.64" cy="272" r="1.25" fill="#8e929c"/><circle cx="237.27" cy="272" r="1.75" fill="url(#gY)"/><circle cx="241.91" cy="272" r="1.25" fill="#8e929c"/><circle cx="246.55" cy="272" r="1.75" fill="url(#gY)"/><circle cx="251.18" cy="272" r="1.25" fill="#8e929c"/><circle cx="255.82" cy="272" r="1.75" fill="url(#gY)"/><circle cx="260.45" cy="272" r="1.25" fill="#8e929c"/><circle cx="265.09" cy="272" r="1.75" fill="url(#gY)"/><circle cx="269.73" cy="272" r="1.25" fill="#8e929c"/><circle cx="274.36" cy="272" r="1.75" fill="url(#gY)"/><circle cx="279" cy="272" r="1.25" fill="#8e929c"/><circle cx="224.83" cy="276.33" r="1.25" fill="#8e929c"/><circle cx="230.06" cy="276.35" r="1.75" fill="url(#gY)"/><circle cx="235.29" cy="276.36" r="1.25" fill="#8e929c"/><circle cx="240.52" cy="276.38" r="1.75" fill="url(#gY)"/><circle cx="245.74" cy="276.39" r="1.25" fill="#8e929c"/><circle cx="250.97" cy="276.41" r="1.75" fill="url(#gY)"/><circle cx="256.2" cy="276.42" r="1.25" fill="#8e929c"/><circle cx="261.42" cy="276.44" r="1.75" fill="url(#gY)"/><circle cx="266.65" cy="276.45" r="1.25" fill="#8e929c"/><circle cx="271.88" cy="276.47" r="1.75" fill="url(#gY)"/><circle cx="277.11" cy="276.48" r="1.25" fill="#8e929c"/><circle cx="282.33" cy="276.5" r="1.75" fill="url(#gY)"/><circle cx="221.67" cy="280.67" r="1.75" fill="url(#gY)"/><circle cx="227.48" cy="280.7" r="1.25" fill="#8e929c"/><circle cx="233.3" cy="280.73" r="1.75" fill="url(#gY)"/><circle cx="239.12" cy="280.76" r="1.25" fill="#8e929c"/><circle cx="244.94" cy="280.79" r="1.75" fill="url(#gY)"/><circle cx="250.76" cy="280.82" r="1.25" fill="#8e929c"/><circle cx="256.58" cy="280.85" r="1.75" fill="url(#gY)"/><circle cx="262.39" cy="280.88" r="1.25" fill="#8e929c"/><circle cx="268.21" cy="280.91" r="1.75" fill="url(#gY)"/><circle cx="274.03" cy="280.94" r="1.25" fill="#8e929c"/><circle cx="279.85" cy="280.97" r="1.75" fill="url(#gY)"/><circle cx="285.67" cy="281" r="1.25" fill="#8e929c"/><circle cx="218.5" cy="285" r="1.25" fill="#8e929c"/><circle cx="224.91" cy="285.05" r="1.75" fill="url(#gY)"/><circle cx="231.32" cy="285.09" r="1.25" fill="#8e929c"/><circle cx="237.73" cy="285.14" r="1.75" fill="url(#gY)"/><circle cx="244.14" cy="285.18" r="1.25" fill="#8e929c"/><circle cx="250.55" cy="285.23" r="1.75" fill="url(#gY)"/><circle cx="256.95" cy="285.27" r="1.25" fill="#8e929c"/><circle cx="263.36" cy="285.32" r="1.75" fill="url(#gY)"/><circle cx="269.77" cy="285.36" r="1.25" fill="#8e929c"/><circle cx="276.18" cy="285.41" r="1.75" fill="url(#gY)"/><circle cx="282.59" cy="285.45" r="1.25" fill="#8e929c"/><circle cx="289" cy="285.5" r="1.75" fill="url(#gY)"/><circle cx="215.33" cy="289.33" r="1.75" fill="url(#gY)"/><circle cx="222.33" cy="289.39" r="1.25" fill="#8e929c"/><circle cx="229.33" cy="289.45" r="1.75" fill="url(#gY)"/><circle cx="236.33" cy="289.52" r="1.25" fill="#8e929c"/><circle cx="243.33" cy="289.58" r="1.75" fill="url(#gY)"/><circle cx="250.33" cy="289.64" r="1.25" fill="#8e929c"/><circle cx="257.33" cy="289.7" r="1.75" fill="url(#gY)"/><circle cx="264.33" cy="289.76" r="1.25" fill="#8e929c"/><circle cx="271.33" cy="289.82" r="1.75" fill="url(#gY)"/><circle cx="278.33" cy="289.88" r="1.25" fill="#8e929c"/><circle cx="285.33" cy="289.94" r="1.75" fill="url(#gY)"/><circle cx="292.33" cy="290" r="1.25" fill="#8e929c"/><circle cx="212.17" cy="293.67" r="1.25" fill="#8e929c"/><circle cx="219.76" cy="293.74" r="1.75" fill="url(#gY)"/><circle cx="227.35" cy="293.82" r="1.25" fill="#8e929c"/><circle cx="234.94" cy="293.89" r="1.75" fill="url(#gY)"/><circle cx="242.53" cy="293.97" r="1.25" fill="#8e929c"/><circle cx="250.12" cy="294.05" r="1.75" fill="url(#gY)"/><circle cx="257.71" cy="294.12" r="1.25" fill="#8e929c"/><circle cx="265.3" cy="294.2" r="1.75" fill="url(#gY)"/><circle cx="272.89" cy="294.27" r="1.25" fill="#8e929c"/><circle cx="280.48" cy="294.35" r="1.75" fill="url(#gY)"/><circle cx="288.08" cy="294.42" r="1.25" fill="#8e929c"/><circle cx="295.67" cy="294.5" r="1.75" fill="url(#gY)"/><circle cx="209" cy="298" r="1.75" fill="url(#gY)"/><circle cx="217.18" cy="298.09" r="1.25" fill="#8e929c"/><circle cx="225.36" cy="298.18" r="1.75" fill="url(#gY)"/><circle cx="233.55" cy="298.27" r="1.25" fill="#8e929c"/><circle cx="241.73" cy="298.36" r="1.75" fill="url(#gY)"/><circle cx="249.91" cy="298.45" r="1.25" fill="#8e929c"/><circle cx="258.09" cy="298.55" r="1.75" fill="url(#gY)"/><circle cx="266.27" cy="298.64" r="1.25" fill="#8e929c"/><circle cx="274.45" cy="298.73" r="1.75" fill="url(#gY)"/><circle cx="282.64" cy="298.82" r="1.25" fill="#8e929c"/><circle cx="290.82" cy="298.91" r="1.75" fill="url(#gY)"/><circle cx="299" cy="299" r="1.25" fill="#8e929c"/>
<circle cx="234.2" cy="261" r="3.3" fill="url(#gPt)"/>
<circle cx="244.4" cy="261" r="3.3" fill="url(#gPd)"/>
<circle cx="256.8" cy="261" r="3.3" fill="url(#gPt)"/>
<circle cx="269.2" cy="261" r="3.3" fill="url(#gPd)"/>
<circle cx="229.5" cy="268.2" r="3.3" fill="url(#gPd)"/>
<circle cx="243.7" cy="268.2" r="3.3" fill="url(#gPt)"/>
<circle cx="258.3" cy="268.2" r="3.3" fill="url(#gPd)"/>
<circle cx="274.3" cy="268.2" r="3.3" fill="url(#gPt)"/>
<circle cx="224" cy="276.3" r="3.3" fill="url(#gPt)"/>
<circle cx="242.2" cy="276.3" r="3.3" fill="url(#gPd)"/>
<circle cx="260.2" cy="276.3" r="3.3" fill="url(#gPt)"/>
<circle cx="279.5" cy="276.3" r="3.3" fill="url(#gPd)"/>
<text x="281.4" y="258.5" font-size="8.6" text-anchor="start" fill="#231f20" font-weight="bold" >Pt</text>
<text x="289.6" y="268" font-size="8.6" text-anchor="start" fill="#231f20" font-weight="bold" >Pd</text>
<line x1="281.8" y1="259.2" x2="276.8" y2="264.4" stroke="#222" stroke-width="0.9" />
<line x1="289.4" y1="268.6" x2="284" y2="273.4" stroke="#222" stroke-width="0.9" />
<path d="M18,352 L22,352.83 L26,353.67 L30,354.5 L34,355.03 L38,355.57 L42,356.1 L46,356.53 L50,356.67 L54,356.8 L58,356.93 L62,357 L70,381 L66,381 L62,380.87 L58,380.73 L54,380.6 L50,380.37 L46,379.83 L42,379.3 L38,378.77 L34,378.08 L30,377.25 L26,376.42 Z" fill="#434345"/>
<path d="M104,353.63 L108,353.1 L112,352.57 L116,352.03 L120,351.5 L124,351.1 L128,350.7 L132,350.3 L136,350.07 L140,350.36 L146,374.36 L142,374.07 L138,374.3 L134,374.7 L130,375.1 L126,375.5 L122,376.03 L118,376.57 L114,377.1 L110,377.63 Z" fill="#4a4a4c"/>
<path d="M24,371.6 L36,374.1 L51,376.1 L66,376.6 L81,376.6 L96,375.1 L111,373.1 L126,371.1 L141,369.6 L148,370.1 L148,374.5 L141,374 L126,375.5 L111,377.5 L96,379.5 L81,381 L66,381 L51,380.5 L36,378.5 L24,376 Z" fill="#3a3a3c"/>
<path d="M24,371.6 L36,374.1 L51,376.1 L66,376.6 L81,376.6 L96,375.1 L111,373.1 L126,371.1 L141,369.6 L148,370.1" fill="none" stroke="#707072" stroke-width="0.7"/>
<path d="M22,364.6 L34,367.1 L49,369.1 L64,369.6 L79,369.6 L94,368.1 L109,366.1 L124,364.1 L139,362.6 L146,363.1 L146,367.5 L139,367 L124,368.5 L109,370.5 L94,372.5 L79,374 L64,374 L49,373.5 L34,371.5 L22,369 Z" fill="#3a3a3c"/>
<path d="M22,364.6 L34,367.1 L49,369.1 L64,369.6 L79,369.6 L94,368.1 L109,366.1 L124,364.1 L139,362.6 L146,363.1" fill="none" stroke="#707072" stroke-width="0.7"/>
<path d="M20,357.6 L32,360.1 L47,362.1 L62,362.6 L77,362.6 L92,361.1 L107,359.1 L122,357.1 L137,355.6 L144,356.1 L144,360.5 L137,360 L122,361.5 L107,363.5 L92,365.5 L77,367 L62,367 L47,366.5 L32,364.5 L20,362 Z" fill="#3a3a3c"/>
<path d="M20,357.6 L32,360.1 L47,362.1 L62,362.6 L77,362.6 L92,361.1 L107,359.1 L122,357.1 L137,355.6 L144,356.1" fill="none" stroke="#707072" stroke-width="0.7"/>
<path d="M18,350.6 L30,353.1 L45,355.1 L60,355.6 L75,355.6 L90,354.1 L105,352.1 L120,350.1 L135,348.6 L142,349.1 L142,353.5 L135,353 L120,354.5 L105,356.5 L90,358.5 L75,360 L60,360 L45,359.5 L30,357.5 L18,355 Z" fill="#3a3a3c"/>
<path d="M18,350.6 L30,353.1 L45,355.1 L60,355.6 L75,355.6 L90,354.1 L105,352.1 L120,350.1 L135,348.6 L142,349.1" fill="none" stroke="#707072" stroke-width="0.7"/>
<path d="M17,348 L25,344 L35,341 L45,340 L60,341 L75,344 L90,348 L100,347 L108,342 L114,338 L125,340 L137,343 L142,350.5 L142,350.5 L135,350 L120,351.5 L105,353.5 L90,355.5 L75,357 L60,357 L45,356.5 L30,354.5 L18,352 Z" fill="#3e3e40"/>
<path d="M18,352 L30,354.5 L45,356.5 L60,357 L75,357 L90,355.5 L105,353.5 L120,351.5 L135,350 L142,350.5" fill="none" stroke="#6a6a6c" stroke-width="0.7"/>
<ellipse cx="75.83" cy="361.19" rx="2.3" ry="1.75" fill="#7ab648" stroke="#5e9436" stroke-width="0.3"/>
<ellipse cx="77.41" cy="360.02" rx="2.3" ry="1.75" fill="#7ab648" stroke="#5e9436" stroke-width="0.3"/>
<ellipse cx="43.97" cy="359.75" rx="2.3" ry="1.75" fill="#7ab648" stroke="#5e9436" stroke-width="0.3"/>
<ellipse cx="116.36" cy="343.28" rx="2.3" ry="1.75" fill="#7ab648" stroke="#5e9436" stroke-width="0.3"/>
<ellipse cx="32.79" cy="358.45" rx="2.3" ry="1.75" fill="#7ab648" stroke="#5e9436" stroke-width="0.3"/>
<ellipse cx="26.98" cy="358.27" rx="2.3" ry="1.75" fill="#7ab648" stroke="#5e9436" stroke-width="0.3"/>
<ellipse cx="99.82" cy="356.16" rx="2.3" ry="1.75" fill="#7ab648" stroke="#5e9436" stroke-width="0.3"/>
<ellipse cx="23.79" cy="354.88" rx="2.3" ry="1.75" fill="#7ab648" stroke="#5e9436" stroke-width="0.3"/>
<ellipse cx="44.63" cy="341.96" rx="2.3" ry="1.75" fill="#7ab648" stroke="#5e9436" stroke-width="0.3"/>
<ellipse cx="77.21" cy="354.25" rx="2.3" ry="1.75" fill="#7ab648" stroke="#5e9436" stroke-width="0.3"/>
<ellipse cx="83.78" cy="359.12" rx="2.3" ry="1.75" fill="#7ab648" stroke="#5e9436" stroke-width="0.3"/>
<ellipse cx="100.83" cy="349.39" rx="2.3" ry="1.75" fill="#7ab648" stroke="#5e9436" stroke-width="0.3"/>
<ellipse cx="140.72" cy="354.43" rx="2.3" ry="1.75" fill="#7ab648" stroke="#5e9436" stroke-width="0.3"/>
<ellipse cx="106.23" cy="346.38" rx="2.3" ry="1.75" fill="#7ab648" stroke="#5e9436" stroke-width="0.3"/>
<ellipse cx="56.4" cy="352.7" rx="2.3" ry="1.75" fill="#7ab648" stroke="#5e9436" stroke-width="0.3"/>
<ellipse cx="69.65" cy="359.66" rx="2.3" ry="1.75" fill="#7ab648" stroke="#5e9436" stroke-width="0.3"/>
<ellipse cx="138.01" cy="361.54" rx="2.3" ry="1.75" fill="#7ab648" stroke="#5e9436" stroke-width="0.3"/>
<ellipse cx="24.06" cy="362.08" rx="2.3" ry="1.75" fill="#7ab648" stroke="#5e9436" stroke-width="0.3"/>
<ellipse cx="132.32" cy="360.61" rx="2.3" ry="1.75" fill="#7ab648" stroke="#5e9436" stroke-width="0.3"/>
<ellipse cx="140.66" cy="360.15" rx="2.3" ry="1.75" fill="#7ab648" stroke="#5e9436" stroke-width="0.3"/>
<ellipse cx="32.69" cy="365.3" rx="2.3" ry="1.75" fill="#7ab648" stroke="#5e9436" stroke-width="0.3"/>
<ellipse cx="116.64" cy="361.66" rx="2.3" ry="1.75" fill="#7ab648" stroke="#5e9436" stroke-width="0.3"/>
<ellipse cx="34.37" cy="364.48" rx="2.3" ry="1.75" fill="#7ab648" stroke="#5e9436" stroke-width="0.3"/>
<ellipse cx="138.73" cy="361.28" rx="2.3" ry="1.75" fill="#7ab648" stroke="#5e9436" stroke-width="0.3"/>
<ellipse cx="38.04" cy="364.67" rx="2.3" ry="1.75" fill="#7ab648" stroke="#5e9436" stroke-width="0.3"/>
<ellipse cx="36.02" cy="363.75" rx="2.3" ry="1.75" fill="#7ab648" stroke="#5e9436" stroke-width="0.3"/>
<ellipse cx="118.85" cy="361.04" rx="2.3" ry="1.75" fill="#7ab648" stroke="#5e9436" stroke-width="0.3"/>
<ellipse cx="90.56" cy="365.71" rx="2.3" ry="1.75" fill="#7ab648" stroke="#5e9436" stroke-width="0.3"/>
<ellipse cx="46.69" cy="367.52" rx="2.3" ry="1.75" fill="#7ab648" stroke="#5e9436" stroke-width="0.3"/>
<ellipse cx="39.59" cy="366.26" rx="2.3" ry="1.75" fill="#7ab648" stroke="#5e9436" stroke-width="0.3"/>
<ellipse cx="37.86" cy="365.25" rx="2.3" ry="1.75" fill="#7ab648" stroke="#5e9436" stroke-width="0.3"/>
<ellipse cx="49.33" cy="366.02" rx="2.3" ry="1.75" fill="#7ab648" stroke="#5e9436" stroke-width="0.3"/>
<ellipse cx="139.54" cy="361.49" rx="2.3" ry="1.75" fill="#7ab648" stroke="#5e9436" stroke-width="0.3"/>
<ellipse cx="60.19" cy="368.54" rx="2.3" ry="1.75" fill="#7ab648" stroke="#5e9436" stroke-width="0.3"/>
<ellipse cx="49.07" cy="366.45" rx="2.3" ry="1.75" fill="#7ab648" stroke="#5e9436" stroke-width="0.3"/>
<ellipse cx="125.67" cy="361.88" rx="2.3" ry="1.75" fill="#7ab648" stroke="#5e9436" stroke-width="0.3"/>
<ellipse cx="35.94" cy="366.99" rx="2.3" ry="1.75" fill="#7ab648" stroke="#5e9436" stroke-width="0.3"/>
<ellipse cx="49.38" cy="365.98" rx="2.3" ry="1.75" fill="#7ab648" stroke="#5e9436" stroke-width="0.3"/>
<ellipse cx="115.95" cy="361.96" rx="2.3" ry="1.75" fill="#7ab648" stroke="#5e9436" stroke-width="0.3"/>
<ellipse cx="59.26" cy="365.67" rx="2.3" ry="1.75" fill="#7ab648" stroke="#5e9436" stroke-width="0.3"/>
<ellipse cx="34.72" cy="365.4" rx="2.3" ry="1.75" fill="#7ab648" stroke="#5e9436" stroke-width="0.3"/>
<ellipse cx="52.92" cy="367.3" rx="2.3" ry="1.75" fill="#7ab648" stroke="#5e9436" stroke-width="0.3"/>
<ellipse cx="70.23" cy="374.09" rx="2.3" ry="1.75" fill="#7ab648" stroke="#5e9436" stroke-width="0.3"/>
<ellipse cx="140.14" cy="367.27" rx="2.3" ry="1.75" fill="#7ab648" stroke="#5e9436" stroke-width="0.3"/>
<ellipse cx="94.37" cy="373.98" rx="2.3" ry="1.75" fill="#7ab648" stroke="#5e9436" stroke-width="0.3"/>
<ellipse cx="47.76" cy="372.37" rx="2.3" ry="1.75" fill="#7ab648" stroke="#5e9436" stroke-width="0.3"/>
<ellipse cx="134.1" cy="368.85" rx="2.3" ry="1.75" fill="#7ab648" stroke="#5e9436" stroke-width="0.3"/>
<ellipse cx="55.69" cy="372.89" rx="2.3" ry="1.75" fill="#7ab648" stroke="#5e9436" stroke-width="0.3"/>
<ellipse cx="113.99" cy="371.63" rx="2.3" ry="1.75" fill="#7ab648" stroke="#5e9436" stroke-width="0.3"/>
<ellipse cx="49.39" cy="375.34" rx="2.3" ry="1.75" fill="#7ab648" stroke="#5e9436" stroke-width="0.3"/>
<ellipse cx="130.98" cy="368.41" rx="2.3" ry="1.75" fill="#7ab648" stroke="#5e9436" stroke-width="0.3"/>
<ellipse cx="76.15" cy="372.86" rx="2.3" ry="1.75" fill="#7ab648" stroke="#5e9436" stroke-width="0.3"/>
<ellipse cx="30.6" cy="372.66" rx="2.3" ry="1.75" fill="#7ab648" stroke="#5e9436" stroke-width="0.3"/>
<ellipse cx="54.37" cy="374.65" rx="2.3" ry="1.75" fill="#7ab648" stroke="#5e9436" stroke-width="0.3"/>
<ellipse cx="56.58" cy="375.14" rx="2.3" ry="1.75" fill="#7ab648" stroke="#5e9436" stroke-width="0.3"/>
<ellipse cx="96.98" cy="371.63" rx="2.3" ry="1.75" fill="#7ab648" stroke="#5e9436" stroke-width="0.3"/>
<ellipse cx="46.88" cy="374.24" rx="2.3" ry="1.75" fill="#7ab648" stroke="#5e9436" stroke-width="0.3"/>
<ellipse cx="34.18" cy="370.82" rx="2.3" ry="1.75" fill="#7ab648" stroke="#5e9436" stroke-width="0.3"/>
<ellipse cx="92.56" cy="374.13" rx="2.3" ry="1.75" fill="#7ab648" stroke="#5e9436" stroke-width="0.3"/>
<ellipse cx="99.1" cy="371.3" rx="2.3" ry="1.75" fill="#7ab648" stroke="#5e9436" stroke-width="0.3"/>
<ellipse cx="135.17" cy="366.6" rx="2.3" ry="1.75" fill="#7ab648" stroke="#5e9436" stroke-width="0.3"/>
<ellipse cx="27.97" cy="369.69" rx="2.3" ry="1.75" fill="#7ab648" stroke="#5e9436" stroke-width="0.3"/>
<ellipse cx="79.04" cy="372.71" rx="2.3" ry="1.75" fill="#7ab648" stroke="#5e9436" stroke-width="0.3"/>
<ellipse cx="46.97" cy="373.02" rx="2.3" ry="1.75" fill="#7ab648" stroke="#5e9436" stroke-width="0.3"/>
<ellipse cx="94.09" cy="371.45" rx="2.3" ry="1.75" fill="#7ab648" stroke="#5e9436" stroke-width="0.3"/>
<ellipse cx="69.1" cy="375.62" rx="2.3" ry="1.75" fill="#7ab648" stroke="#5e9436" stroke-width="0.3"/>
<ellipse cx="142.68" cy="368.06" rx="2.3" ry="1.75" fill="#7ab648" stroke="#5e9436" stroke-width="0.3"/>
<ellipse cx="108.26" cy="371.14" rx="2.3" ry="1.75" fill="#7ab648" stroke="#5e9436" stroke-width="0.3"/>
<ellipse cx="44.7" cy="376.04" rx="2.3" ry="1.75" fill="#7ab648" stroke="#5e9436" stroke-width="0.3"/>
<ellipse cx="30.13" cy="370.59" rx="2.3" ry="1.75" fill="#7ab648" stroke="#5e9436" stroke-width="0.3"/>
<ellipse cx="111.42" cy="370.57" rx="2.3" ry="1.75" fill="#7ab648" stroke="#5e9436" stroke-width="0.3"/>
<ellipse cx="30.53" cy="371.63" rx="2.3" ry="1.75" fill="#7ab648" stroke="#5e9436" stroke-width="0.3"/>
<ellipse cx="85.39" cy="374.5" rx="2.3" ry="1.75" fill="#7ab648" stroke="#5e9436" stroke-width="0.3"/>
<ellipse cx="65.95" cy="374" rx="2.3" ry="1.75" fill="#7ab648" stroke="#5e9436" stroke-width="0.3"/>
<ellipse cx="36.96" cy="373.22" rx="2.3" ry="1.75" fill="#7ab648" stroke="#5e9436" stroke-width="0.3"/>
<ellipse cx="115.7" cy="370.22" rx="2.3" ry="1.75" fill="#7ab648" stroke="#5e9436" stroke-width="0.3"/>
<ellipse cx="115.71" cy="370.91" rx="2.3" ry="1.75" fill="#7ab648" stroke="#5e9436" stroke-width="0.3"/>
<ellipse cx="122.4" cy="369.28" rx="2.3" ry="1.75" fill="#7ab648" stroke="#5e9436" stroke-width="0.3"/>
<ellipse cx="69.87" cy="375.1" rx="2.3" ry="1.75" fill="#7ab648" stroke="#5e9436" stroke-width="0.3"/>
<ellipse cx="135.2" cy="368.03" rx="2.3" ry="1.75" fill="#7ab648" stroke="#5e9436" stroke-width="0.3"/>
<ellipse cx="77.64" cy="374.73" rx="2.3" ry="1.75" fill="#7ab648" stroke="#5e9436" stroke-width="0.3"/>
<ellipse cx="130.75" cy="369.52" rx="2.3" ry="1.75" fill="#7ab648" stroke="#5e9436" stroke-width="0.3"/>
<ellipse cx="102.37" cy="373.81" rx="2.3" ry="1.75" fill="#7ab648" stroke="#5e9436" stroke-width="0.3"/>
<ellipse cx="97.34" cy="373.69" rx="2.3" ry="1.75" fill="#7ab648" stroke="#5e9436" stroke-width="0.3"/>
<ellipse cx="37.54" cy="372.97" rx="2.3" ry="1.75" fill="#7ab648" stroke="#5e9436" stroke-width="0.3"/>
<ellipse cx="146.21" cy="367.79" rx="2.3" ry="1.75" fill="#7ab648" stroke="#5e9436" stroke-width="0.3"/>
<ellipse cx="114.66" cy="372.15" rx="2.3" ry="1.75" fill="#7ab648" stroke="#5e9436" stroke-width="0.3"/>
<ellipse cx="115.47" cy="371.37" rx="2.3" ry="1.75" fill="#7ab648" stroke="#5e9436" stroke-width="0.3"/>
<ellipse cx="80.42" cy="374.57" rx="2.3" ry="1.75" fill="#7ab648" stroke="#5e9436" stroke-width="0.3"/>
<ellipse cx="37.97" cy="372.64" rx="2.3" ry="1.75" fill="#7ab648" stroke="#5e9436" stroke-width="0.3"/>
<ellipse cx="31.54" cy="371.97" rx="2.3" ry="1.75" fill="#7ab648" stroke="#5e9436" stroke-width="0.3"/>
<ellipse cx="85.23" cy="376.27" rx="2.3" ry="1.75" fill="#7ab648" stroke="#5e9436" stroke-width="0.3"/>
<ellipse cx="111.1" cy="372.25" rx="2.3" ry="1.75" fill="#7ab648" stroke="#5e9436" stroke-width="0.3"/>
<ellipse cx="101.13" cy="372.09" rx="2.3" ry="1.75" fill="#7ab648" stroke="#5e9436" stroke-width="0.3"/>
<path d="M69.3,382.2 L89.8,382.2 L89.8,397.1 L100,397.1 L79.9,412.8 L59.7,397.1 L69.3,397.1 Z" fill="#4470c4"/>
<g transform="translate(17.2,442.5) rotate(-20.2)">
<rect x="-0.8" y="-0.8" width="108.4" height="34.6" fill="#f4f4f4"/>
<rect x="0" y="0" width="106.8" height="33" fill="#d6d6d6"/>
<path d="M99,3 L3.2,3 L3.2,30 L99,30" fill="none" stroke="#7e5e14" stroke-width="1.5"/>
<rect x="5.5" y="6.5" width="25" height="20" fill="#f6f6f6"/>
<rect x="6.5" y="7.5" width="18" height="18" fill="#b4b0a2"/>
<rect x="24" y="8" width="6" height="17" fill="#eef2f4"/>
<path d="M22,11 L99,11 M22,21.5 L99,21.5" fill="none" stroke="#7e5e14" stroke-width="1.5"/>
<rect x="21" y="9" width="4" height="4" fill="#b08a30"/><rect x="21" y="19.5" width="4" height="4" fill="#b08a30"/>
<rect x="97.4" y="0.4" width="5.2" height="5.2" fill="#7a5010"/>
<rect x="97.4" y="8.4" width="5.2" height="5.2" fill="#7a5010"/>
<rect x="97.4" y="18.9" width="5.2" height="5.2" fill="#7a5010"/>
<rect x="97.4" y="27.4" width="5.2" height="5.2" fill="#7a5010"/>
</g>
<text x="3" y="344" font-size="15" text-anchor="start" fill="#231f20" font-weight="bold" >g</text>
<defs>
<clipPath id="clipH"><rect x="149.2" y="333.3" width="141.5" height="130.3"/></clipPath>
<radialGradient id="gP" cx="0.42" cy="0.4" r="0.62"><stop offset="0" stop-color="#c2c2c2"/><stop offset="0.65" stop-color="#a4a4a4"/><stop offset="1" stop-color="#727272"/></radialGradient>
<radialGradient id="gP2" cx="0.42" cy="0.4" r="0.62"><stop offset="0" stop-color="#a8a8a8"/><stop offset="0.65" stop-color="#8e8e8e"/><stop offset="1" stop-color="#555"/></radialGradient>
<radialGradient id="gP3" cx="0.42" cy="0.4" r="0.62"><stop offset="0" stop-color="#d8d8d8"/><stop offset="0.65" stop-color="#c0c0c0"/><stop offset="1" stop-color="#8a8a8a"/></radialGradient>
<linearGradient id="gPlate" x1="0" y1="0" x2="1" y2="0.3"><stop offset="0" stop-color="#555"/><stop offset="0.6" stop-color="#5c5c5c"/><stop offset="1" stop-color="#686868"/></linearGradient>
<filter id="blS" x="-5%" y="-5%" width="110%" height="110%"><feGaussianBlur stdDeviation="0.6"/></filter>
</defs>
<g clip-path="url(#clipH)"><g filter="url(#blS)">
<rect x="149.1" y="333.3" width="141.6" height="131" fill="#383838"/>
<path d="M149,395 L205,400 L250,425 L291,415 L291,465 L149,465 Z" fill="#555"/>
<circle cx="163.5" cy="334.26" r="4.15" fill="url(#gP2)"/>
<circle cx="201.49" cy="337.1" r="4.37" fill="url(#gP2)"/>
<circle cx="195.41" cy="341.01" r="4.4" fill="url(#gP2)"/>
<circle cx="162.15" cy="331.34" r="2.99" fill="url(#gP2)"/>
<circle cx="169.66" cy="340.73" r="3.72" fill="url(#gP2)"/>
<circle cx="177.97" cy="339.64" r="3.17" fill="url(#gP2)"/>
<circle cx="174.26" cy="350.95" r="4.1" fill="url(#gP2)"/>
<circle cx="193.45" cy="347.53" r="3.04" fill="url(#gP2)"/>
<circle cx="174.61" cy="338.25" r="2.8" fill="url(#gP2)"/>
<circle cx="186.63" cy="337.52" r="3.17" fill="url(#gP2)"/>
<circle cx="208.24" cy="338.88" r="3.29" fill="url(#gP2)"/>
<circle cx="196.92" cy="338.51" r="3.95" fill="url(#gP2)"/>
<circle cx="189.34" cy="351.42" r="3.97" fill="url(#gP2)"/>
<circle cx="208.99" cy="337.79" r="3.31" fill="url(#gP2)"/>
<circle cx="174.58" cy="342.31" r="3.05" fill="url(#gP2)"/>
<circle cx="190.88" cy="341.69" r="3.83" fill="url(#gP2)"/>
<circle cx="201.07" cy="340.16" r="3.37" fill="url(#gP2)"/>
<circle cx="170.48" cy="348.59" r="3.62" fill="url(#gP2)"/>
<circle cx="253.72" cy="342.2" r="4.41" fill="url(#gP)"/>
<circle cx="260.35" cy="347.45" r="4.9" fill="url(#gP2)"/>
<circle cx="263.93" cy="337.37" r="4.58" fill="url(#gP2)"/>
<circle cx="237.37" cy="343.38" r="3.91" fill="url(#gP)"/>
<circle cx="230.12" cy="331.03" r="3.24" fill="url(#gP)"/>
<circle cx="300.83" cy="333.92" r="3.69" fill="url(#gP2)"/>
<circle cx="272.69" cy="336.1" r="3.93" fill="url(#gP3)"/>
<circle cx="261.68" cy="330.85" r="4.72" fill="url(#gP)"/>
<circle cx="216.52" cy="342.53" r="3.42" fill="url(#gP3)"/>
<circle cx="231.11" cy="332.26" r="3.68" fill="url(#gP3)"/>
<circle cx="284.94" cy="341.33" r="3.61" fill="url(#gP)"/>
<circle cx="241.89" cy="333.43" r="3.62" fill="url(#gP2)"/>
<circle cx="265" cy="339.07" r="4.97" fill="url(#gP3)"/>
<circle cx="266.06" cy="337.53" r="4.48" fill="url(#gP2)"/>
<circle cx="271.16" cy="334.09" r="3.84" fill="url(#gP)"/>
<circle cx="287.45" cy="337.25" r="4.6" fill="url(#gP2)"/>
<circle cx="267.02" cy="336.2" r="4.46" fill="url(#gP)"/>
<circle cx="240.35" cy="332.85" r="3.21" fill="url(#gP2)"/>
<circle cx="257.63" cy="339" r="3.84" fill="url(#gP)"/>
<circle cx="196.34" cy="342.42" r="4.7" fill="url(#gP3)"/>
<circle cx="242.05" cy="339.33" r="4.46" fill="url(#gP2)"/>
<circle cx="258.95" cy="342.46" r="4.8" fill="url(#gP)"/>
<circle cx="222.9" cy="342.25" r="4.44" fill="url(#gP2)"/>
<circle cx="233.43" cy="333.47" r="3.51" fill="url(#gP2)"/>
<circle cx="245.4" cy="337.27" r="4.17" fill="url(#gP2)"/>
<circle cx="245.09" cy="333.9" r="4.18" fill="url(#gP2)"/>
<circle cx="241.92" cy="331.44" r="4" fill="url(#gP2)"/>
<circle cx="240.46" cy="333.15" r="4.06" fill="url(#gP2)"/>
<circle cx="238.22" cy="339.39" r="4.15" fill="url(#gP2)"/>
<circle cx="237.58" cy="333.67" r="4.42" fill="url(#gP2)"/>
<path d="M203,363 L218,345.2 L228,341 L291,346 L291,403 L253,416 L226,397 L206,384 Z" fill="url(#gPlate)"/>
<path d="M206,384 L226,397 L253,416 L291,403 L291,413 L255,425 L222,404 L203,391 Z" fill="#202020"/>
<path d="M206,384 L226,397 L253,416 L291,403" fill="none" stroke="#9c9c9c" stroke-width="1.8"/>
<path d="M203,363 L218,345.2 L228,341" fill="none" stroke="#8a8a8a" stroke-width="1"/>
<path d="M272,372 L291,366 L291,398 L276,400 Z" fill="#6c6c6c"/>
<circle cx="235.06" cy="347.67" r="2.01" fill="url(#gP2)"/>
<circle cx="235.18" cy="351.89" r="2.54" fill="url(#gP2)"/>
<circle cx="232.52" cy="355.13" r="2.52" fill="url(#gP2)"/>
<circle cx="237.68" cy="348.58" r="2.52" fill="url(#gP2)"/>
<circle cx="236.64" cy="343.64" r="2.28" fill="url(#gP2)"/>
<circle cx="248.34" cy="342.94" r="2.55" fill="url(#gP2)"/>
<circle cx="252.43" cy="346.88" r="2.41" fill="url(#gP2)"/>
<circle cx="243.22" cy="347.67" r="2.67" fill="url(#gP2)"/>
<circle cx="248.16" cy="346.69" r="2.55" fill="url(#gP2)"/>
<circle cx="253.23" cy="371.82" r="2.34" fill="url(#gP)"/>
<circle cx="254.63" cy="372.41" r="2.73" fill="url(#gP)"/>
<circle cx="250.93" cy="376.33" r="2.82" fill="url(#gP)"/>
<circle cx="251.4" cy="372.58" r="2.22" fill="url(#gP)"/>
<circle cx="255.44" cy="376.82" r="2.72" fill="url(#gP)"/>
<circle cx="264.88" cy="391.24" r="2.38" fill="url(#gP2)"/>
<circle cx="267.27" cy="389.44" r="2.14" fill="url(#gP2)"/>
<circle cx="265.51" cy="389.27" r="2.19" fill="url(#gP2)"/>
<circle cx="221.68" cy="384.89" r="1.82" fill="url(#gP2)"/>
<circle cx="218.61" cy="384.32" r="2.23" fill="url(#gP2)"/>
<circle cx="219.45" cy="383.41" r="2.43" fill="url(#gP2)"/>
<circle cx="163.1" cy="352.03" r="3.27" fill="url(#gP2)"/>
<circle cx="163.1" cy="342.9" r="3.73" fill="url(#gP)"/>
<circle cx="153.97" cy="349.91" r="3.3" fill="url(#gP3)"/>
<circle cx="154.49" cy="360.93" r="4.43" fill="url(#gP)"/>
<circle cx="150" cy="359.13" r="3.89" fill="url(#gP2)"/>
<circle cx="155.14" cy="352.95" r="3.45" fill="url(#gP2)"/>
<circle cx="170.65" cy="346.42" r="3.83" fill="url(#gP2)"/>
<circle cx="161.19" cy="341.38" r="3.45" fill="url(#gP2)"/>
<circle cx="151.67" cy="347.56" r="3.04" fill="url(#gP3)"/>
<circle cx="154.22" cy="357.98" r="3.18" fill="url(#gP2)"/>
<circle cx="150.22" cy="353.61" r="3.45" fill="url(#gP)"/>
<circle cx="154.8" cy="348.49" r="4.47" fill="url(#gP2)"/>
<circle cx="157.99" cy="353.59" r="4.41" fill="url(#gP2)"/>
<circle cx="153.9" cy="352.34" r="3.61" fill="url(#gP)"/>
<circle cx="173.46" cy="345.25" r="3.14" fill="url(#gP2)"/>
<circle cx="186.67" cy="356.67" r="3.35" fill="url(#gP2)"/>
<circle cx="174.1" cy="356.79" r="3.14" fill="url(#gP2)"/>
<circle cx="181.11" cy="356.22" r="3.49" fill="url(#gP2)"/>
<circle cx="189.23" cy="349.36" r="3.2" fill="url(#gP2)"/>
<circle cx="161.13" cy="356.76" r="3.53" fill="url(#gP2)"/>
<circle cx="192.44" cy="348.2" r="4.05" fill="url(#gP2)"/>
<circle cx="186.61" cy="356.26" r="3.2" fill="url(#gP2)"/>
<circle cx="180.48" cy="349.34" r="3.82" fill="url(#gP2)"/>
<circle cx="189.4" cy="356.77" r="3.75" fill="url(#gP2)"/>
<circle cx="184.43" cy="353.54" r="2.8" fill="url(#gP2)"/>
<circle cx="172.94" cy="353.5" r="2.95" fill="url(#gP2)"/>
<circle cx="163.5" cy="375.19" r="3.14" fill="url(#gP2)"/>
<circle cx="167.85" cy="369.94" r="3.53" fill="url(#gP2)"/>
<circle cx="173.31" cy="376.65" r="3.79" fill="url(#gP2)"/>
<circle cx="168.7" cy="372.36" r="3.52" fill="url(#gP2)"/>
<circle cx="162.56" cy="363.18" r="3.2" fill="url(#gP2)"/>
<circle cx="165.26" cy="373.2" r="2.5" fill="url(#gP2)"/>
<circle cx="166.44" cy="369.61" r="3.47" fill="url(#gP2)"/>
<circle cx="159.9" cy="381.19" r="2.75" fill="url(#gP2)"/>
<circle cx="160.76" cy="364.22" r="3.96" fill="url(#gP2)"/>
<circle cx="158.86" cy="378.01" r="3.31" fill="url(#gP2)"/>
<circle cx="201.75" cy="388.42" r="3.53" fill="url(#gP3)"/>
<circle cx="195.55" cy="386.29" r="4.88" fill="url(#gP3)"/>
<circle cx="191.36" cy="391.43" r="3.14" fill="url(#gP3)"/>
<circle cx="189.22" cy="389.53" r="3.25" fill="url(#gP3)"/>
<circle cx="198.96" cy="391.72" r="4.65" fill="url(#gP3)"/>
<circle cx="202.13" cy="394.55" r="4.99" fill="url(#gP3)"/>
<circle cx="192.53" cy="377.77" r="3.37" fill="url(#gP3)"/>
<circle cx="197.56" cy="396.57" r="3.13" fill="url(#gP3)"/>
<circle cx="195.46" cy="393.68" r="4.32" fill="url(#gP3)"/>
<circle cx="193.89" cy="379.33" r="4.14" fill="url(#gP3)"/>
<circle cx="197.71" cy="389.78" r="4.25" fill="url(#gP3)"/>
<circle cx="196.19" cy="385.19" r="4.37" fill="url(#gP3)"/>
<circle cx="189.34" cy="385.43" r="4.31" fill="url(#gP3)"/>
<circle cx="196.35" cy="383.05" r="3.59" fill="url(#gP3)"/>
<circle cx="187.16" cy="380.59" r="3.58" fill="url(#gP3)"/>
<circle cx="199.9" cy="381.85" r="3.44" fill="url(#gP3)"/>
<circle cx="197.38" cy="386.98" r="4.67" fill="url(#gP3)"/>
<circle cx="191.17" cy="403.61" r="4.62" fill="url(#gP3)"/>
<circle cx="197.6" cy="379.18" r="3.78" fill="url(#gP3)"/>
<circle cx="194.66" cy="386" r="3.68" fill="url(#gP3)"/>
<circle cx="192.79" cy="384.16" r="4.73" fill="url(#gP3)"/>
<circle cx="188.51" cy="384.69" r="3.78" fill="url(#gP3)"/>
<circle cx="151" cy="409.19" r="3.22" fill="url(#gP3)"/>
<circle cx="191.79" cy="407.07" r="3.11" fill="url(#gP)"/>
<circle cx="185.96" cy="402.47" r="4.59" fill="url(#gP)"/>
<circle cx="195.04" cy="412.74" r="3.98" fill="url(#gP)"/>
<circle cx="184.94" cy="412.54" r="3.71" fill="url(#gP)"/>
<circle cx="170.28" cy="420.66" r="4.41" fill="url(#gP2)"/>
<circle cx="164.45" cy="412.77" r="3.72" fill="url(#gP2)"/>
<circle cx="179.58" cy="397.97" r="4.7" fill="url(#gP3)"/>
<circle cx="206.72" cy="410" r="3.43" fill="url(#gP)"/>
<circle cx="172.42" cy="406.93" r="3.07" fill="url(#gP)"/>
<circle cx="179.89" cy="412.65" r="4.87" fill="url(#gP2)"/>
<circle cx="187.27" cy="405.02" r="4.78" fill="url(#gP3)"/>
<circle cx="183.79" cy="402.08" r="3.92" fill="url(#gP)"/>
<circle cx="179.32" cy="408.4" r="3.75" fill="url(#gP2)"/>
<circle cx="183.65" cy="399.22" r="4.1" fill="url(#gP)"/>
<circle cx="174.98" cy="409.09" r="3.57" fill="url(#gP)"/>
<circle cx="196.83" cy="408.08" r="3.69" fill="url(#gP2)"/>
<circle cx="174.59" cy="407.23" r="3.04" fill="url(#gP2)"/>
<circle cx="152.26" cy="407.98" r="3.24" fill="url(#gP2)"/>
<circle cx="172.17" cy="415.14" r="4.46" fill="url(#gP)"/>
<circle cx="191.49" cy="407.32" r="4.15" fill="url(#gP)"/>
<circle cx="159.71" cy="394.62" r="4.41" fill="url(#gP2)"/>
<circle cx="179.79" cy="411.08" r="3.13" fill="url(#gP2)"/>
<circle cx="179.84" cy="409.44" r="4.34" fill="url(#gP)"/>
<circle cx="169.54" cy="399.1" r="4.95" fill="url(#gP)"/>
<circle cx="165.33" cy="406.82" r="4.36" fill="url(#gP)"/>
<circle cx="188.11" cy="407.46" r="4.98" fill="url(#gP3)"/>
<circle cx="154.27" cy="398.4" r="4.43" fill="url(#gP)"/>
<circle cx="185.35" cy="400.17" r="4.87" fill="url(#gP)"/>
<circle cx="170.11" cy="395.82" r="3.99" fill="url(#gP)"/>
<circle cx="170.66" cy="431.74" r="3.89" fill="url(#gP)"/>
<circle cx="170.13" cy="404.23" r="3.39" fill="url(#gP3)"/>
<circle cx="155.13" cy="419.01" r="3.47" fill="url(#gP2)"/>
<circle cx="158.76" cy="420.05" r="4.97" fill="url(#gP)"/>
<circle cx="146.75" cy="411.3" r="3.43" fill="url(#gP)"/>
<circle cx="151.86" cy="429.08" r="3.85" fill="url(#gP2)"/>
<circle cx="154.3" cy="424.1" r="3.02" fill="url(#gP2)"/>
<circle cx="152.45" cy="401.57" r="5" fill="url(#gP3)"/>
<circle cx="162.52" cy="431.89" r="3.18" fill="url(#gP2)"/>
<circle cx="160.56" cy="415.58" r="3.26" fill="url(#gP)"/>
<circle cx="147.35" cy="428.29" r="4.6" fill="url(#gP3)"/>
<circle cx="155.18" cy="416.66" r="3.99" fill="url(#gP)"/>
<circle cx="162.46" cy="427.38" r="3.57" fill="url(#gP2)"/>
<circle cx="160.03" cy="421.95" r="4.54" fill="url(#gP2)"/>
<circle cx="158.13" cy="409.71" r="4.79" fill="url(#gP)"/>
<circle cx="151.26" cy="419.13" r="4.63" fill="url(#gP)"/>
<circle cx="156.5" cy="406.53" r="3.54" fill="url(#gP2)"/>
<circle cx="152.3" cy="420.99" r="3.61" fill="url(#gP)"/>
<circle cx="157.17" cy="442.96" r="3.57" fill="url(#gP)"/>
<circle cx="146.93" cy="419.82" r="3.06" fill="url(#gP)"/>
<circle cx="161.51" cy="426.98" r="3.71" fill="url(#gP2)"/>
<circle cx="167.15" cy="419.82" r="3.46" fill="url(#gP2)"/>
<circle cx="161.31" cy="430.7" r="3.72" fill="url(#gP)"/>
<circle cx="146.69" cy="413.63" r="4.45" fill="url(#gP)"/>
<circle cx="156.91" cy="441.27" r="4.26" fill="url(#gP)"/>
<circle cx="142.4" cy="434.4" r="4.59" fill="url(#gP)"/>
<circle cx="154.19" cy="436.29" r="3.46" fill="url(#gP3)"/>
<circle cx="151.08" cy="430.21" r="4.54" fill="url(#gP)"/>
<circle cx="139.88" cy="418.55" r="4.19" fill="url(#gP)"/>
<circle cx="167.54" cy="441.74" r="4.37" fill="url(#gP)"/>
<circle cx="198.59" cy="429.72" r="4.27" fill="url(#gP2)"/>
<circle cx="191.35" cy="422.81" r="4.02" fill="url(#gP)"/>
<circle cx="193.41" cy="435.28" r="4.24" fill="url(#gP2)"/>
<circle cx="197.24" cy="416.03" r="3.81" fill="url(#gP)"/>
<circle cx="203.11" cy="419.15" r="5" fill="url(#gP)"/>
<circle cx="184.56" cy="424.53" r="3.31" fill="url(#gP)"/>
<circle cx="191.12" cy="430.14" r="3.37" fill="url(#gP)"/>
<circle cx="195.26" cy="423.5" r="5.03" fill="url(#gP2)"/>
<circle cx="179.38" cy="431.29" r="4.17" fill="url(#gP)"/>
<circle cx="199.23" cy="422.61" r="3.02" fill="url(#gP3)"/>
<circle cx="179.62" cy="423.15" r="4.79" fill="url(#gP)"/>
<circle cx="193.66" cy="431.71" r="3.69" fill="url(#gP2)"/>
<circle cx="177.42" cy="429.93" r="4.52" fill="url(#gP2)"/>
<circle cx="220.58" cy="428.38" r="5.03" fill="url(#gP3)"/>
<circle cx="186.65" cy="421.3" r="4.76" fill="url(#gP2)"/>
<circle cx="197.73" cy="429.58" r="4.69" fill="url(#gP)"/>
<circle cx="193.8" cy="433.14" r="3.19" fill="url(#gP2)"/>
<circle cx="173.57" cy="419.78" r="5.07" fill="url(#gP2)"/>
<circle cx="183.75" cy="447.25" r="3.6" fill="url(#gP)"/>
<circle cx="216.07" cy="435.85" r="4.47" fill="url(#gP2)"/>
<circle cx="212.05" cy="422.65" r="4.84" fill="url(#gP3)"/>
<circle cx="187.66" cy="426.48" r="4.14" fill="url(#gP)"/>
<circle cx="197.6" cy="451.64" r="4.2" fill="url(#gP2)"/>
<circle cx="215.49" cy="427.7" r="3.83" fill="url(#gP3)"/>
<circle cx="219.81" cy="419.64" r="4.35" fill="url(#gP2)"/>
<circle cx="182.89" cy="443.75" r="4.96" fill="url(#gP2)"/>
<circle cx="195.04" cy="433.67" r="3.65" fill="url(#gP2)"/>
<circle cx="196.65" cy="426.92" r="5.09" fill="url(#gP)"/>
<circle cx="178.96" cy="419.89" r="3.49" fill="url(#gP)"/>
<circle cx="177.22" cy="425.22" r="4.41" fill="url(#gP3)"/>
<circle cx="193" cy="421.77" r="3.94" fill="url(#gP3)"/>
<circle cx="186.38" cy="426.6" r="3.92" fill="url(#gP)"/>
<circle cx="166.21" cy="417.18" r="3.41" fill="url(#gP)"/>
<circle cx="201.94" cy="435.4" r="4.22" fill="url(#gP3)"/>
<circle cx="198.67" cy="434.76" r="4.31" fill="url(#gP2)"/>
<circle cx="194.34" cy="427.18" r="4.07" fill="url(#gP3)"/>
<circle cx="206.82" cy="428.14" r="4.87" fill="url(#gP2)"/>
<circle cx="204.05" cy="427.44" r="4.53" fill="url(#gP2)"/>
<circle cx="195.42" cy="429.62" r="4.48" fill="url(#gP)"/>
<circle cx="201.71" cy="432.53" r="4.35" fill="url(#gP)"/>
<circle cx="181.54" cy="426.08" r="3.71" fill="url(#gP)"/>
<circle cx="187.7" cy="412.32" r="5.11" fill="url(#gP)"/>
<circle cx="177.97" cy="440.99" r="3.43" fill="url(#gP2)"/>
<circle cx="184.07" cy="436.29" r="4.5" fill="url(#gP)"/>
<circle cx="195.87" cy="449.05" r="4.03" fill="url(#gP)"/>
<circle cx="254.94" cy="454.26" r="3.82" fill="url(#gP)"/>
<circle cx="183.73" cy="447.58" r="5.08" fill="url(#gP)"/>
<circle cx="187.97" cy="448.1" r="4.57" fill="url(#gP)"/>
<circle cx="251.96" cy="453.12" r="3.78" fill="url(#gP)"/>
<circle cx="252.1" cy="443.15" r="3.64" fill="url(#gP2)"/>
<circle cx="213.68" cy="436.36" r="3.19" fill="url(#gP)"/>
<circle cx="229.84" cy="453.95" r="4.87" fill="url(#gP3)"/>
<circle cx="222.14" cy="449.33" r="5.17" fill="url(#gP2)"/>
<circle cx="231.08" cy="444.3" r="3.6" fill="url(#gP)"/>
<circle cx="214.9" cy="444.2" r="3.4" fill="url(#gP2)"/>
<circle cx="244.23" cy="442.27" r="4" fill="url(#gP)"/>
<circle cx="235.76" cy="446.25" r="4.69" fill="url(#gP2)"/>
<circle cx="236.54" cy="445.46" r="4.24" fill="url(#gP2)"/>
<circle cx="240.46" cy="444.62" r="5.14" fill="url(#gP)"/>
<circle cx="256.34" cy="445.61" r="4.04" fill="url(#gP)"/>
<circle cx="260.99" cy="444.06" r="4.85" fill="url(#gP2)"/>
<circle cx="228.41" cy="446.87" r="3.86" fill="url(#gP3)"/>
<circle cx="210.39" cy="451.28" r="4.99" fill="url(#gP3)"/>
<circle cx="231.44" cy="445.37" r="3.05" fill="url(#gP2)"/>
<circle cx="249.25" cy="433.23" r="3.95" fill="url(#gP2)"/>
<circle cx="271.62" cy="448.38" r="3.37" fill="url(#gP2)"/>
<circle cx="255.8" cy="458.19" r="3.93" fill="url(#gP)"/>
<circle cx="248.97" cy="446.8" r="3.93" fill="url(#gP2)"/>
<circle cx="247.18" cy="452.84" r="3.01" fill="url(#gP)"/>
<circle cx="239.07" cy="433.62" r="3.17" fill="url(#gP2)"/>
<circle cx="255.01" cy="448.84" r="3.33" fill="url(#gP)"/>
<circle cx="234.61" cy="437.67" r="3.7" fill="url(#gP2)"/>
<circle cx="244.62" cy="451.44" r="5.02" fill="url(#gP3)"/>
<circle cx="247.54" cy="447.99" r="3.94" fill="url(#gP2)"/>
<circle cx="254.76" cy="455.56" r="3.74" fill="url(#gP)"/>
<circle cx="248.96" cy="454.89" r="5.14" fill="url(#gP3)"/>
<circle cx="243.19" cy="449.08" r="4.42" fill="url(#gP2)"/>
<circle cx="220.62" cy="463.44" r="4.2" fill="url(#gP2)"/>
<circle cx="249.51" cy="445.74" r="4.25" fill="url(#gP2)"/>
<circle cx="238.17" cy="447.14" r="3.85" fill="url(#gP)"/>
<circle cx="203.94" cy="448.48" r="3.02" fill="url(#gP)"/>
<circle cx="214.32" cy="451.62" r="4.34" fill="url(#gP2)"/>
<circle cx="257.12" cy="450.25" r="3.08" fill="url(#gP2)"/>
<circle cx="260.84" cy="437.78" r="4.23" fill="url(#gP2)"/>
<circle cx="207.25" cy="450.6" r="5.03" fill="url(#gP2)"/>
<circle cx="220.41" cy="444.31" r="4.28" fill="url(#gP3)"/>
<circle cx="291.55" cy="439.6" r="3.66" fill="url(#gP)"/>
<circle cx="209.51" cy="440.45" r="4.42" fill="url(#gP)"/>
<circle cx="232.88" cy="437.22" r="3.86" fill="url(#gP3)"/>
<circle cx="227.29" cy="456.65" r="4.83" fill="url(#gP)"/>
<circle cx="228.05" cy="447.79" r="3.01" fill="url(#gP3)"/>
<circle cx="240.82" cy="455.49" r="3.13" fill="url(#gP)"/>
<circle cx="265.89" cy="458.15" r="3.82" fill="url(#gP2)"/>
<circle cx="233.66" cy="453.4" r="4.72" fill="url(#gP)"/>
<circle cx="232.14" cy="462" r="4.38" fill="url(#gP2)"/>
<circle cx="252.73" cy="459.2" r="4.54" fill="url(#gP3)"/>
<circle cx="250.34" cy="440.98" r="4.97" fill="url(#gP)"/>
<circle cx="213.54" cy="441.25" r="4.98" fill="url(#gP2)"/>
<circle cx="232.42" cy="446.58" r="3.1" fill="url(#gP3)"/>
<circle cx="194.52" cy="447.57" r="3.09" fill="url(#gP3)"/>
<circle cx="261.49" cy="438.54" r="4.06" fill="url(#gP2)"/>
<circle cx="265.53" cy="426.5" r="4.9" fill="url(#gP)"/>
<circle cx="266.75" cy="413.61" r="4.18" fill="url(#gP)"/>
<circle cx="284.17" cy="437.43" r="4.3" fill="url(#gP3)"/>
<circle cx="271.17" cy="427.53" r="4.29" fill="url(#gP2)"/>
<circle cx="286.62" cy="445.82" r="3.52" fill="url(#gP2)"/>
<circle cx="264.52" cy="455.49" r="3.65" fill="url(#gP2)"/>
<circle cx="265.19" cy="433.5" r="3.43" fill="url(#gP2)"/>
<circle cx="265.48" cy="447.16" r="3.92" fill="url(#gP)"/>
<circle cx="269.07" cy="435.89" r="3.85" fill="url(#gP3)"/>
<circle cx="260.05" cy="430.63" r="3.39" fill="url(#gP2)"/>
<circle cx="278.84" cy="444.41" r="4.87" fill="url(#gP2)"/>
<circle cx="277.72" cy="428.48" r="3.54" fill="url(#gP2)"/>
<circle cx="242.54" cy="431.51" r="3.43" fill="url(#gP)"/>
<circle cx="265.45" cy="421.33" r="4.57" fill="url(#gP2)"/>
<circle cx="270.45" cy="437.52" r="3.52" fill="url(#gP2)"/>
<circle cx="280.21" cy="420.09" r="3.97" fill="url(#gP)"/>
<circle cx="277.75" cy="430.38" r="4.54" fill="url(#gP2)"/>
<circle cx="291.99" cy="445.76" r="3.57" fill="url(#gP3)"/>
<circle cx="280.98" cy="450.73" r="4.09" fill="url(#gP)"/>
<circle cx="259.39" cy="417.45" r="3.52" fill="url(#gP2)"/>
<circle cx="287.56" cy="412.65" r="3.62" fill="url(#gP2)"/>
<circle cx="269.45" cy="419.93" r="4.74" fill="url(#gP)"/>
<circle cx="276.15" cy="433.83" r="3.08" fill="url(#gP)"/>
<circle cx="278.44" cy="407.27" r="4.01" fill="url(#gP)"/>
<circle cx="267.5" cy="433.1" r="3.84" fill="url(#gP3)"/>
<circle cx="255.15" cy="427.55" r="4.36" fill="url(#gP2)"/>
<circle cx="298.47" cy="420.18" r="3.93" fill="url(#gP)"/>
<circle cx="276.34" cy="439.91" r="4.23" fill="url(#gP)"/>
<circle cx="302.65" cy="449.79" r="4.09" fill="url(#gP2)"/>
<circle cx="279.71" cy="438.78" r="3.91" fill="url(#gP2)"/>
<circle cx="296.06" cy="438.04" r="4.96" fill="url(#gP)"/>
<circle cx="259.47" cy="443.51" r="4.84" fill="url(#gP2)"/>
<circle cx="285.91" cy="419.18" r="3.14" fill="url(#gP2)"/>
<circle cx="298.79" cy="441.38" r="3.93" fill="url(#gP2)"/>
<circle cx="251.71" cy="425" r="4.27" fill="url(#gP2)"/>
<circle cx="267.78" cy="451.36" r="3.51" fill="url(#gP2)"/>
<circle cx="256.45" cy="442.72" r="3.2" fill="url(#gP3)"/>
<circle cx="277.41" cy="449.68" r="4.46" fill="url(#gP)"/>
<circle cx="263.75" cy="434.96" r="3.5" fill="url(#gP)"/>
<circle cx="159.11" cy="395.46" r="3.7" fill="url(#gP2)"/>
<circle cx="155.21" cy="390.32" r="3.72" fill="url(#gP2)"/>
<circle cx="156.3" cy="411.92" r="3.94" fill="url(#gP2)"/>
<circle cx="157.58" cy="392.9" r="3.83" fill="url(#gP2)"/>
<circle cx="160.35" cy="401.27" r="3.87" fill="url(#gP2)"/>
<circle cx="148.55" cy="401.35" r="4.31" fill="url(#gP2)"/>
<circle cx="151.91" cy="398.91" r="3.91" fill="url(#gP2)"/>
<circle cx="164.63" cy="401.76" r="3.79" fill="url(#gP2)"/>
<circle cx="158.42" cy="405.55" r="4.16" fill="url(#gP2)"/>
<circle cx="159.02" cy="403.83" r="4.43" fill="url(#gP2)"/>
<circle cx="218.79" cy="413.18" r="3.24" fill="url(#gP2)"/>
<circle cx="218.08" cy="410.82" r="3.42" fill="url(#gP2)"/>
<circle cx="215.5" cy="405.98" r="3.69" fill="url(#gP2)"/>
<circle cx="218.28" cy="408.88" r="3.49" fill="url(#gP2)"/>
<circle cx="208.05" cy="403.81" r="3.02" fill="url(#gP2)"/>
<circle cx="204.28" cy="408.62" r="3.81" fill="url(#gP2)"/>
<circle cx="205.32" cy="412.61" r="3.56" fill="url(#gP2)"/>
<circle cx="212.05" cy="412.32" r="4.46" fill="url(#gP2)"/>
<circle cx="211.7" cy="408.97" r="3.26" fill="url(#gP2)"/>
<circle cx="203.12" cy="411.66" r="3.6" fill="url(#gP2)"/>
</g></g>
<line x1="290.6" y1="333.3" x2="290.6" y2="463.6" stroke="#222" stroke-width="0.8"/>
<rect x="149.1" y="333.3" width="15" height="16.8" fill="#fff"/>
<text x="151.4" y="343.8" font-size="13.8" text-anchor="start" fill="#231f20" font-weight="bold" >h</text>
<text x="154" y="452.0" font-size="6.4" fill="#fff" font-family="Liberation Serif" textLength="21.9" lengthAdjust="spacingAndGlyphs">100 nm</text>
<rect x="154" y="455.9" width="22.8" height="1.9" fill="#fff"/>
<line x1="3.5" y1="168.65" x2="685" y2="168.65" stroke="#1a7a45" stroke-width="1.6" stroke-dasharray="3.5 3.38" stroke-dashoffset="1.28"/>
<line x1="0" y1="327.6" x2="681.5" y2="327.6" stroke="#1a7a45" stroke-width="1.6" stroke-dasharray="3.5 3.38" stroke-dashoffset="1.78"/>
<line x1="684.5" y1="0" x2="684.5" y2="489" stroke="#555" stroke-width="1"/>
<rect x="325.3" y="333.4" width="157.6" height="126.3" fill="none" stroke="#444" stroke-width="1"/>
<line x1="337.4" y1="459.7" x2="337.4" y2="461.9" stroke="#444" stroke-width="1" />
<text x="337.4" y="473.9" font-size="8.6" text-anchor="middle" fill="#231f20" >0</text>
<line x1="361.48" y1="459.7" x2="361.48" y2="461.9" stroke="#444" stroke-width="1" />
<text x="361.48" y="473.9" font-size="8.6" text-anchor="middle" fill="#231f20" >20</text>
<line x1="385.56" y1="459.7" x2="385.56" y2="461.9" stroke="#444" stroke-width="1" />
<text x="385.56" y="473.9" font-size="8.6" text-anchor="middle" fill="#231f20" >40</text>
<line x1="409.64" y1="459.7" x2="409.64" y2="461.9" stroke="#444" stroke-width="1" />
<text x="409.64" y="473.9" font-size="8.6" text-anchor="middle" fill="#231f20" >60</text>
<line x1="433.72" y1="459.7" x2="433.72" y2="461.9" stroke="#444" stroke-width="1" />
<text x="433.72" y="473.9" font-size="8.6" text-anchor="middle" fill="#231f20" >80</text>
<line x1="457.8" y1="459.7" x2="457.8" y2="461.9" stroke="#444" stroke-width="1" />
<text x="457.8" y="473.9" font-size="8.6" text-anchor="middle" fill="#231f20" >100</text>
<line x1="481.88" y1="459.7" x2="481.88" y2="461.9" stroke="#444" stroke-width="1" />
<text x="481.88" y="473.9" font-size="8.6" text-anchor="middle" fill="#231f20" >120</text>
<line x1="325.36" y1="459.7" x2="325.36" y2="461" stroke="#444" stroke-width="1" />
<line x1="349.44" y1="459.7" x2="349.44" y2="461" stroke="#444" stroke-width="1" />
<line x1="373.52" y1="459.7" x2="373.52" y2="461" stroke="#444" stroke-width="1" />
<line x1="397.6" y1="459.7" x2="397.6" y2="461" stroke="#444" stroke-width="1" />
<line x1="421.68" y1="459.7" x2="421.68" y2="461" stroke="#444" stroke-width="1" />
<line x1="445.76" y1="459.7" x2="445.76" y2="461" stroke="#444" stroke-width="1" />
<line x1="469.84" y1="459.7" x2="469.84" y2="461" stroke="#444" stroke-width="1" />
<line x1="325.3" y1="451.4" x2="323.1" y2="451.4" stroke="#444" stroke-width="1" />
<text x="317.2" y="454.5" font-size="8.6" text-anchor="end" fill="#231f20" >0</text>
<line x1="325.3" y1="434.55" x2="323.1" y2="434.55" stroke="#444" stroke-width="1" />
<text x="317.2" y="437.65" font-size="8.6" text-anchor="end" fill="#231f20" >10</text>
<line x1="325.3" y1="417.7" x2="323.1" y2="417.7" stroke="#444" stroke-width="1" />
<text x="317.2" y="420.8" font-size="8.6" text-anchor="end" fill="#231f20" >20</text>
<line x1="325.3" y1="400.85" x2="323.1" y2="400.85" stroke="#444" stroke-width="1" />
<text x="317.2" y="403.95" font-size="8.6" text-anchor="end" fill="#231f20" >30</text>
<line x1="325.3" y1="384" x2="323.1" y2="384" stroke="#444" stroke-width="1" />
<text x="317.2" y="387.1" font-size="8.6" text-anchor="end" fill="#231f20" >40</text>
<line x1="325.3" y1="367.15" x2="323.1" y2="367.15" stroke="#444" stroke-width="1" />
<text x="317.2" y="370.25" font-size="8.6" text-anchor="end" fill="#231f20" >50</text>
<line x1="325.3" y1="350.3" x2="323.1" y2="350.3" stroke="#444" stroke-width="1" />
<text x="317.2" y="353.4" font-size="8.6" text-anchor="end" fill="#231f20" >60</text>
<line x1="325.3" y1="333.45" x2="323.1" y2="333.45" stroke="#444" stroke-width="1" />
<text x="317.2" y="336.55" font-size="8.6" text-anchor="end" fill="#231f20" >70</text>
<line x1="325.3" y1="459.82" x2="324" y2="459.82" stroke="#444" stroke-width="1" />
<line x1="325.3" y1="442.97" x2="324" y2="442.97" stroke="#444" stroke-width="1" />
<line x1="325.3" y1="426.12" x2="324" y2="426.12" stroke="#444" stroke-width="1" />
<line x1="325.3" y1="409.27" x2="324" y2="409.27" stroke="#444" stroke-width="1" />
<line x1="325.3" y1="392.42" x2="324" y2="392.42" stroke="#444" stroke-width="1" />
<line x1="325.3" y1="375.57" x2="324" y2="375.57" stroke="#444" stroke-width="1" />
<line x1="325.3" y1="358.72" x2="324" y2="358.72" stroke="#444" stroke-width="1" />
<line x1="325.3" y1="341.88" x2="324" y2="341.88" stroke="#444" stroke-width="1" />
<line x1="361.6" y1="359" x2="361.6" y2="459" stroke="#555" stroke-width="0.8" stroke-dasharray="2.5 2"/>
<line x1="412.3" y1="360" x2="412.3" y2="459" stroke="#555" stroke-width="0.8" stroke-dasharray="2.5 2"/>
<polyline points="337.4,451.4 338.6,451.4 339.81,451.4 341.01,451.4 342.22,451.4 343.42,451.4 344.62,451.4 345.83,451.4 347.03,451.4 348.24,451.4 349.44,451.4 350.64,451.4 351.85,451.4 353.05,451.4 354.26,451.4 355.46,451.4 356.66,451.4 357.87,451.4 359.07,451.4 360.28,451.4 361.48,451.4 362.68,450.95 363.89,449.12 365.09,446.65 366.3,443.84 367.5,440.86 368.7,437.85 369.91,434.91 371.11,432.08 372.32,429.43 373.52,426.98 374.72,424.75 375.93,422.74 377.13,420.96 378.34,419.39 379.54,418.02 380.74,416.83 381.95,415.82 383.15,414.95 384.36,414.23 385.56,413.62 386.76,413.11 387.97,412.69 389.17,412.34 390.38,412.06 391.58,411.83 392.78,411.65 393.99,411.5 395.19,411.38 396.4,411.29 397.6,411.21 398.8,411.16 400.01,411.11 401.21,411.08 402.42,411.05 403.62,411.03 404.82,411.01 406.03,411 407.23,410.99 408.44,410.98 409.64,410.98 410.84,410.97 412.05,410.97 413.25,410.97 414.46,412.61 415.66,414.29 416.86,415.99 418.07,417.71 419.27,419.47 420.48,421.26 421.68,423.09 422.88,424.96 424.09,426.87 425.29,428.83 426.5,430.85 427.7,432.94 428.9,435.12 430.11,437.39 431.31,439.8 432.52,442.39 433.72,445.26 434.92,448.7 436.13,450.89 437.33,450.89 438.54,450.89 439.74,450.89 440.94,450.89 442.15,450.89 443.35,450.89 444.56,450.89 445.76,450.89 446.96,450.89 448.17,450.89" fill="none" stroke="#111" stroke-width="0.8" stroke-linejoin="round" stroke-linecap="round" />
<circle cx="337.4" cy="451.4" r="2.25" fill="url(#gK)"/>
<circle cx="338.6" cy="451.4" r="2.25" fill="url(#gK)"/>
<circle cx="339.81" cy="451.4" r="2.25" fill="url(#gK)"/>
<circle cx="341.01" cy="451.4" r="2.25" fill="url(#gK)"/>
<circle cx="342.22" cy="451.4" r="2.25" fill="url(#gK)"/>
<circle cx="343.42" cy="451.4" r="2.25" fill="url(#gK)"/>
<circle cx="344.62" cy="451.4" r="2.25" fill="url(#gK)"/>
<circle cx="345.83" cy="451.4" r="2.25" fill="url(#gK)"/>
<circle cx="347.03" cy="451.4" r="2.25" fill="url(#gK)"/>
<circle cx="348.24" cy="451.4" r="2.25" fill="url(#gK)"/>
<circle cx="349.44" cy="451.4" r="2.25" fill="url(#gK)"/>
<circle cx="350.64" cy="451.4" r="2.25" fill="url(#gK)"/>
<circle cx="351.85" cy="451.4" r="2.25" fill="url(#gK)"/>
<circle cx="353.05" cy="451.4" r="2.25" fill="url(#gK)"/>
<circle cx="354.26" cy="451.4" r="2.25" fill="url(#gK)"/>
<circle cx="355.46" cy="451.4" r="2.25" fill="url(#gK)"/>
<circle cx="356.66" cy="451.4" r="2.25" fill="url(#gK)"/>
<circle cx="357.87" cy="451.4" r="2.25" fill="url(#gK)"/>
<circle cx="359.07" cy="451.4" r="2.25" fill="url(#gK)"/>
<circle cx="360.28" cy="451.4" r="2.25" fill="url(#gK)"/>
<circle cx="361.48" cy="451.4" r="2.25" fill="url(#gK)"/>
<circle cx="362.68" cy="450.95" r="2.25" fill="url(#gK)"/>
<circle cx="363.89" cy="449.12" r="2.25" fill="url(#gK)"/>
<circle cx="365.09" cy="446.65" r="2.25" fill="url(#gK)"/>
<circle cx="366.3" cy="443.84" r="2.25" fill="url(#gK)"/>
<circle cx="367.5" cy="440.86" r="2.25" fill="url(#gK)"/>
<circle cx="368.7" cy="437.85" r="2.25" fill="url(#gK)"/>
<circle cx="369.91" cy="434.91" r="2.25" fill="url(#gK)"/>
<circle cx="371.11" cy="432.08" r="2.25" fill="url(#gK)"/>
<circle cx="372.32" cy="429.43" r="2.25" fill="url(#gK)"/>
<circle cx="373.52" cy="426.98" r="2.25" fill="url(#gK)"/>
<circle cx="374.72" cy="424.75" r="2.25" fill="url(#gK)"/>
<circle cx="375.93" cy="422.74" r="2.25" fill="url(#gK)"/>
<circle cx="377.13" cy="420.96" r="2.25" fill="url(#gK)"/>
<circle cx="378.34" cy="419.39" r="2.25" fill="url(#gK)"/>
<circle cx="379.54" cy="418.02" r="2.25" fill="url(#gK)"/>
<circle cx="380.74" cy="416.83" r="2.25" fill="url(#gK)"/>
<circle cx="381.95" cy="415.82" r="2.25" fill="url(#gK)"/>
<circle cx="383.15" cy="414.95" r="2.25" fill="url(#gK)"/>
<circle cx="384.36" cy="414.23" r="2.25" fill="url(#gK)"/>
<circle cx="385.56" cy="413.62" r="2.25" fill="url(#gK)"/>
<circle cx="386.76" cy="413.11" r="2.25" fill="url(#gK)"/>
<circle cx="387.97" cy="412.69" r="2.25" fill="url(#gK)"/>
<circle cx="389.17" cy="412.34" r="2.25" fill="url(#gK)"/>
<circle cx="390.38" cy="412.06" r="2.25" fill="url(#gK)"/>
<circle cx="391.58" cy="411.83" r="2.25" fill="url(#gK)"/>
<circle cx="392.78" cy="411.65" r="2.25" fill="url(#gK)"/>
<circle cx="393.99" cy="411.5" r="2.25" fill="url(#gK)"/>
<circle cx="395.19" cy="411.38" r="2.25" fill="url(#gK)"/>
<circle cx="396.4" cy="411.29" r="2.25" fill="url(#gK)"/>
<circle cx="397.6" cy="411.21" r="2.25" fill="url(#gK)"/>
<circle cx="398.8" cy="411.16" r="2.25" fill="url(#gK)"/>
<circle cx="400.01" cy="411.11" r="2.25" fill="url(#gK)"/>
<circle cx="401.21" cy="411.08" r="2.25" fill="url(#gK)"/>
<circle cx="402.42" cy="411.05" r="2.25" fill="url(#gK)"/>
<circle cx="403.62" cy="411.03" r="2.25" fill="url(#gK)"/>
<circle cx="404.82" cy="411.01" r="2.25" fill="url(#gK)"/>
<circle cx="406.03" cy="411" r="2.25" fill="url(#gK)"/>
<circle cx="407.23" cy="410.99" r="2.25" fill="url(#gK)"/>
<circle cx="408.44" cy="410.98" r="2.25" fill="url(#gK)"/>
<circle cx="409.64" cy="410.98" r="2.25" fill="url(#gK)"/>
<circle cx="410.84" cy="410.97" r="2.25" fill="url(#gK)"/>
<circle cx="412.05" cy="410.97" r="2.25" fill="url(#gK)"/>
<circle cx="413.25" cy="410.97" r="2.25" fill="url(#gK)"/>
<circle cx="414.46" cy="412.61" r="2.25" fill="url(#gK)"/>
<circle cx="415.66" cy="414.29" r="2.25" fill="url(#gK)"/>
<circle cx="416.86" cy="415.99" r="2.25" fill="url(#gK)"/>
<circle cx="418.07" cy="417.71" r="2.25" fill="url(#gK)"/>
<circle cx="419.27" cy="419.47" r="2.25" fill="url(#gK)"/>
<circle cx="420.48" cy="421.26" r="2.25" fill="url(#gK)"/>
<circle cx="421.68" cy="423.09" r="2.25" fill="url(#gK)"/>
<circle cx="422.88" cy="424.96" r="2.25" fill="url(#gK)"/>
<circle cx="424.09" cy="426.87" r="2.25" fill="url(#gK)"/>
<circle cx="425.29" cy="428.83" r="2.25" fill="url(#gK)"/>
<circle cx="426.5" cy="430.85" r="2.25" fill="url(#gK)"/>
<circle cx="427.7" cy="432.94" r="2.25" fill="url(#gK)"/>
<circle cx="428.9" cy="435.12" r="2.25" fill="url(#gK)"/>
<circle cx="430.11" cy="437.39" r="2.25" fill="url(#gK)"/>
<circle cx="431.31" cy="439.8" r="2.25" fill="url(#gK)"/>
<circle cx="432.52" cy="442.39" r="2.25" fill="url(#gK)"/>
<circle cx="433.72" cy="445.26" r="2.25" fill="url(#gK)"/>
<circle cx="434.92" cy="448.7" r="2.25" fill="url(#gK)"/>
<circle cx="436.13" cy="450.89" r="2.25" fill="url(#gK)"/>
<circle cx="437.33" cy="450.89" r="2.25" fill="url(#gK)"/>
<circle cx="438.54" cy="450.89" r="2.25" fill="url(#gK)"/>
<circle cx="439.74" cy="450.89" r="2.25" fill="url(#gK)"/>
<circle cx="440.94" cy="450.89" r="2.25" fill="url(#gK)"/>
<circle cx="442.15" cy="450.89" r="2.25" fill="url(#gK)"/>
<circle cx="443.35" cy="450.89" r="2.25" fill="url(#gK)"/>
<circle cx="444.56" cy="450.89" r="2.25" fill="url(#gK)"/>
<circle cx="445.76" cy="450.89" r="2.25" fill="url(#gK)"/>
<circle cx="446.96" cy="450.89" r="2.25" fill="url(#gK)"/>
<circle cx="448.17" cy="450.89" r="2.25" fill="url(#gK)"/>
<polyline points="337.4,450.56 338.6,450.56 339.81,450.56 341.01,450.56 342.22,450.56 343.42,450.56 344.62,450.56 345.83,450.56 347.03,450.56 348.24,450.56 349.44,450.56 350.64,450.56 351.85,450.56 353.05,450.56 354.26,450.56 355.46,450.56 356.66,450.56 357.87,450.56 359.07,450.56 360.28,450.56 361.48,450.56 362.68,449.76 363.89,446.53 365.09,442.27 366.3,437.56 367.5,432.73 368.7,428.03 369.91,423.6 371.11,419.55 372.32,415.93 373.52,412.75 374.72,410 375.93,407.67 377.13,405.72 378.34,404.1 379.54,402.78 380.74,401.71 381.95,400.86 383.15,400.18 384.36,399.65 385.56,399.24 386.76,398.92 387.97,398.68 389.17,398.5 390.38,398.36 391.58,398.26 392.78,398.18 393.99,398.13 395.19,398.09 396.4,398.06 397.6,398.04 398.8,398.02 400.01,398.01 401.21,398 402.42,398 403.62,397.99 404.82,397.99 406.03,397.99 407.23,397.99 408.44,397.99 409.64,397.99 410.84,397.99 412.05,397.99 413.25,397.99 414.46,400.87 415.66,403.75 416.86,406.64 418.07,409.54 419.27,412.44 420.48,415.35 421.68,418.27 422.88,421.2 424.09,424.13 425.29,427.08 426.5,430.03 427.7,433 428.9,435.98 430.11,438.98 431.31,442.01 432.52,445.06 433.72,448.16 434.92,450.89 436.13,450.89 437.33,450.89 438.54,450.89 439.74,450.89 440.94,450.89 442.15,450.89 443.35,450.89 444.56,450.89 445.76,450.89 446.96,450.89 448.17,450.89" fill="none" stroke="#dd1111" stroke-width="0.8" stroke-linejoin="round" stroke-linecap="round" />
<circle cx="337.4" cy="450.56" r="2.25" fill="url(#gR)"/>
<circle cx="338.6" cy="450.56" r="2.25" fill="url(#gR)"/>
<circle cx="339.81" cy="450.56" r="2.25" fill="url(#gR)"/>
<circle cx="341.01" cy="450.56" r="2.25" fill="url(#gR)"/>
<circle cx="342.22" cy="450.56" r="2.25" fill="url(#gR)"/>
<circle cx="343.42" cy="450.56" r="2.25" fill="url(#gR)"/>
<circle cx="344.62" cy="450.56" r="2.25" fill="url(#gR)"/>
<circle cx="345.83" cy="450.56" r="2.25" fill="url(#gR)"/>
<circle cx="347.03" cy="450.56" r="2.25" fill="url(#gR)"/>
<circle cx="348.24" cy="450.56" r="2.25" fill="url(#gR)"/>
<circle cx="349.44" cy="450.56" r="2.25" fill="url(#gR)"/>
<circle cx="350.64" cy="450.56" r="2.25" fill="url(#gR)"/>
<circle cx="351.85" cy="450.56" r="2.25" fill="url(#gR)"/>
<circle cx="353.05" cy="450.56" r="2.25" fill="url(#gR)"/>
<circle cx="354.26" cy="450.56" r="2.25" fill="url(#gR)"/>
<circle cx="355.46" cy="450.56" r="2.25" fill="url(#gR)"/>
<circle cx="356.66" cy="450.56" r="2.25" fill="url(#gR)"/>
<circle cx="357.87" cy="450.56" r="2.25" fill="url(#gR)"/>
<circle cx="359.07" cy="450.56" r="2.25" fill="url(#gR)"/>
<circle cx="360.28" cy="450.56" r="2.25" fill="url(#gR)"/>
<circle cx="361.48" cy="450.56" r="2.25" fill="url(#gR)"/>
<circle cx="362.68" cy="449.76" r="2.25" fill="url(#gR)"/>
<circle cx="363.89" cy="446.53" r="2.25" fill="url(#gR)"/>
<circle cx="365.09" cy="442.27" r="2.25" fill="url(#gR)"/>
<circle cx="366.3" cy="437.56" r="2.25" fill="url(#gR)"/>
<circle cx="367.5" cy="432.73" r="2.25" fill="url(#gR)"/>
<circle cx="368.7" cy="428.03" r="2.25" fill="url(#gR)"/>
<circle cx="369.91" cy="423.6" r="2.25" fill="url(#gR)"/>
<circle cx="371.11" cy="419.55" r="2.25" fill="url(#gR)"/>
<circle cx="372.32" cy="415.93" r="2.25" fill="url(#gR)"/>
<circle cx="373.52" cy="412.75" r="2.25" fill="url(#gR)"/>
<circle cx="374.72" cy="410" r="2.25" fill="url(#gR)"/>
<circle cx="375.93" cy="407.67" r="2.25" fill="url(#gR)"/>
<circle cx="377.13" cy="405.72" r="2.25" fill="url(#gR)"/>
<circle cx="378.34" cy="404.1" r="2.25" fill="url(#gR)"/>
<circle cx="379.54" cy="402.78" r="2.25" fill="url(#gR)"/>
<circle cx="380.74" cy="401.71" r="2.25" fill="url(#gR)"/>
<circle cx="381.95" cy="400.86" r="2.25" fill="url(#gR)"/>
<circle cx="383.15" cy="400.18" r="2.25" fill="url(#gR)"/>
<circle cx="384.36" cy="399.65" r="2.25" fill="url(#gR)"/>
<circle cx="385.56" cy="399.24" r="2.25" fill="url(#gR)"/>
<circle cx="386.76" cy="398.92" r="2.25" fill="url(#gR)"/>
<circle cx="387.97" cy="398.68" r="2.25" fill="url(#gR)"/>
<circle cx="389.17" cy="398.5" r="2.25" fill="url(#gR)"/>
<circle cx="390.38" cy="398.36" r="2.25" fill="url(#gR)"/>
<circle cx="391.58" cy="398.26" r="2.25" fill="url(#gR)"/>
<circle cx="392.78" cy="398.18" r="2.25" fill="url(#gR)"/>
<circle cx="393.99" cy="398.13" r="2.25" fill="url(#gR)"/>
<circle cx="395.19" cy="398.09" r="2.25" fill="url(#gR)"/>
<circle cx="396.4" cy="398.06" r="2.25" fill="url(#gR)"/>
<circle cx="397.6" cy="398.04" r="2.25" fill="url(#gR)"/>
<circle cx="398.8" cy="398.02" r="2.25" fill="url(#gR)"/>
<circle cx="400.01" cy="398.01" r="2.25" fill="url(#gR)"/>
<circle cx="401.21" cy="398" r="2.25" fill="url(#gR)"/>
<circle cx="402.42" cy="398" r="2.25" fill="url(#gR)"/>
<circle cx="403.62" cy="397.99" r="2.25" fill="url(#gR)"/>
<circle cx="404.82" cy="397.99" r="2.25" fill="url(#gR)"/>
<circle cx="406.03" cy="397.99" r="2.25" fill="url(#gR)"/>
<circle cx="407.23" cy="397.99" r="2.25" fill="url(#gR)"/>
<circle cx="408.44" cy="397.99" r="2.25" fill="url(#gR)"/>
<circle cx="409.64" cy="397.99" r="2.25" fill="url(#gR)"/>
<circle cx="410.84" cy="397.99" r="2.25" fill="url(#gR)"/>
<circle cx="412.05" cy="397.99" r="2.25" fill="url(#gR)"/>
<circle cx="413.25" cy="397.99" r="2.25" fill="url(#gR)"/>
<circle cx="414.46" cy="400.87" r="2.25" fill="url(#gR)"/>
<circle cx="415.66" cy="403.75" r="2.25" fill="url(#gR)"/>
<circle cx="416.86" cy="406.64" r="2.25" fill="url(#gR)"/>
<circle cx="418.07" cy="409.54" r="2.25" fill="url(#gR)"/>
<circle cx="419.27" cy="412.44" r="2.25" fill="url(#gR)"/>
<circle cx="420.48" cy="415.35" r="2.25" fill="url(#gR)"/>
<circle cx="421.68" cy="418.27" r="2.25" fill="url(#gR)"/>
<circle cx="422.88" cy="421.2" r="2.25" fill="url(#gR)"/>
<circle cx="424.09" cy="424.13" r="2.25" fill="url(#gR)"/>
<circle cx="425.29" cy="427.08" r="2.25" fill="url(#gR)"/>
<circle cx="426.5" cy="430.03" r="2.25" fill="url(#gR)"/>
<circle cx="427.7" cy="433" r="2.25" fill="url(#gR)"/>
<circle cx="428.9" cy="435.98" r="2.25" fill="url(#gR)"/>
<circle cx="430.11" cy="438.98" r="2.25" fill="url(#gR)"/>
<circle cx="431.31" cy="442.01" r="2.25" fill="url(#gR)"/>
<circle cx="432.52" cy="445.06" r="2.25" fill="url(#gR)"/>
<circle cx="433.72" cy="448.16" r="2.25" fill="url(#gR)"/>
<circle cx="434.92" cy="450.89" r="2.25" fill="url(#gR)"/>
<circle cx="436.13" cy="450.89" r="2.25" fill="url(#gR)"/>
<circle cx="437.33" cy="450.89" r="2.25" fill="url(#gR)"/>
<circle cx="438.54" cy="450.89" r="2.25" fill="url(#gR)"/>
<circle cx="439.74" cy="450.89" r="2.25" fill="url(#gR)"/>
<circle cx="440.94" cy="450.89" r="2.25" fill="url(#gR)"/>
<circle cx="442.15" cy="450.89" r="2.25" fill="url(#gR)"/>
<circle cx="443.35" cy="450.89" r="2.25" fill="url(#gR)"/>
<circle cx="444.56" cy="450.89" r="2.25" fill="url(#gR)"/>
<circle cx="445.76" cy="450.89" r="2.25" fill="url(#gR)"/>
<circle cx="446.96" cy="450.89" r="2.25" fill="url(#gR)"/>
<circle cx="448.17" cy="450.89" r="2.25" fill="url(#gR)"/>
<polyline points="337.4,452.24 338.6,452.24 339.81,452.24 341.01,452.24 342.22,452.24 343.42,452.24 344.62,452.24 345.83,452.24 347.03,452.24 348.24,452.24 349.44,452.24 350.64,452.24 351.85,452.24 353.05,452.24 354.26,452.24 355.46,452.24 356.66,452.24 357.87,452.24 359.07,452.24 360.28,452.24 361.48,452.24 362.68,450.83 363.89,445.21 365.09,437.99 366.3,430.25 367.5,422.64 368.7,415.55 369.91,409.21 371.11,403.71 372.32,399.07 373.52,395.24 374.72,392.15 375.93,389.69 377.13,387.78 378.34,386.32 379.54,385.21 380.74,384.39 381.95,383.78 383.15,383.34 384.36,383.03 385.56,382.8 386.76,382.65 387.97,382.54 389.17,382.46 390.38,382.41 391.58,382.38 392.78,382.36 393.99,382.34 395.19,382.33 396.4,382.33 397.6,382.32 398.8,382.32 400.01,382.32 401.21,382.32 402.42,382.32 403.62,382.32 404.82,382.32 406.03,382.32 407.23,382.32 408.44,382.32 409.64,382.32 410.84,382.32 412.05,382.32 413.25,382.32 414.46,387.25 415.66,392.11 416.86,396.89 418.07,401.58 419.27,406.19 420.48,410.7 421.68,415.1 422.88,419.4 424.09,423.59 425.29,427.65 426.5,431.57 427.7,435.33 428.9,438.92 430.11,442.31 431.31,445.45 432.52,448.27 433.72,450.62 434.92,450.89 436.13,450.89 437.33,450.89 438.54,450.89 439.74,450.89 440.94,450.89 442.15,450.89 443.35,450.89 444.56,450.89 445.76,450.89 446.96,450.89 448.17,450.89" fill="none" stroke="#1a7a1a" stroke-width="0.8" stroke-linejoin="round" stroke-linecap="round" />
<circle cx="337.4" cy="452.24" r="2.25" fill="url(#gG)"/>
<circle cx="338.6" cy="452.24" r="2.25" fill="url(#gG)"/>
<circle cx="339.81" cy="452.24" r="2.25" fill="url(#gG)"/>
<circle cx="341.01" cy="452.24" r="2.25" fill="url(#gG)"/>
<circle cx="342.22" cy="452.24" r="2.25" fill="url(#gG)"/>
<circle cx="343.42" cy="452.24" r="2.25" fill="url(#gG)"/>
<circle cx="344.62" cy="452.24" r="2.25" fill="url(#gG)"/>
<circle cx="345.83" cy="452.24" r="2.25" fill="url(#gG)"/>
<circle cx="347.03" cy="452.24" r="2.25" fill="url(#gG)"/>
<circle cx="348.24" cy="452.24" r="2.25" fill="url(#gG)"/>
<circle cx="349.44" cy="452.24" r="2.25" fill="url(#gG)"/>
<circle cx="350.64" cy="452.24" r="2.25" fill="url(#gG)"/>
<circle cx="351.85" cy="452.24" r="2.25" fill="url(#gG)"/>
<circle cx="353.05" cy="452.24" r="2.25" fill="url(#gG)"/>
<circle cx="354.26" cy="452.24" r="2.25" fill="url(#gG)"/>
<circle cx="355.46" cy="452.24" r="2.25" fill="url(#gG)"/>
<circle cx="356.66" cy="452.24" r="2.25" fill="url(#gG)"/>
<circle cx="357.87" cy="452.24" r="2.25" fill="url(#gG)"/>
<circle cx="359.07" cy="452.24" r="2.25" fill="url(#gG)"/>
<circle cx="360.28" cy="452.24" r="2.25" fill="url(#gG)"/>
<circle cx="361.48" cy="452.24" r="2.25" fill="url(#gG)"/>
<circle cx="362.68" cy="450.83" r="2.25" fill="url(#gG)"/>
<circle cx="363.89" cy="445.21" r="2.25" fill="url(#gG)"/>
<circle cx="365.09" cy="437.99" r="2.25" fill="url(#gG)"/>
<circle cx="366.3" cy="430.25" r="2.25" fill="url(#gG)"/>
<circle cx="367.5" cy="422.64" r="2.25" fill="url(#gG)"/>
<circle cx="368.7" cy="415.55" r="2.25" fill="url(#gG)"/>
<circle cx="369.91" cy="409.21" r="2.25" fill="url(#gG)"/>
<circle cx="371.11" cy="403.71" r="2.25" fill="url(#gG)"/>
<circle cx="372.32" cy="399.07" r="2.25" fill="url(#gG)"/>
<circle cx="373.52" cy="395.24" r="2.25" fill="url(#gG)"/>
<circle cx="374.72" cy="392.15" r="2.25" fill="url(#gG)"/>
<circle cx="375.93" cy="389.69" r="2.25" fill="url(#gG)"/>
<circle cx="377.13" cy="387.78" r="2.25" fill="url(#gG)"/>
<circle cx="378.34" cy="386.32" r="2.25" fill="url(#gG)"/>
<circle cx="379.54" cy="385.21" r="2.25" fill="url(#gG)"/>
<circle cx="380.74" cy="384.39" r="2.25" fill="url(#gG)"/>
<circle cx="381.95" cy="383.78" r="2.25" fill="url(#gG)"/>
<circle cx="383.15" cy="383.34" r="2.25" fill="url(#gG)"/>
<circle cx="384.36" cy="383.03" r="2.25" fill="url(#gG)"/>
<circle cx="385.56" cy="382.8" r="2.25" fill="url(#gG)"/>
<circle cx="386.76" cy="382.65" r="2.25" fill="url(#gG)"/>
<circle cx="387.97" cy="382.54" r="2.25" fill="url(#gG)"/>
<circle cx="389.17" cy="382.46" r="2.25" fill="url(#gG)"/>
<circle cx="390.38" cy="382.41" r="2.25" fill="url(#gG)"/>
<circle cx="391.58" cy="382.38" r="2.25" fill="url(#gG)"/>
<circle cx="392.78" cy="382.36" r="2.25" fill="url(#gG)"/>
<circle cx="393.99" cy="382.34" r="2.25" fill="url(#gG)"/>
<circle cx="395.19" cy="382.33" r="2.25" fill="url(#gG)"/>
<circle cx="396.4" cy="382.33" r="2.25" fill="url(#gG)"/>
<circle cx="397.6" cy="382.32" r="2.25" fill="url(#gG)"/>
<circle cx="398.8" cy="382.32" r="2.25" fill="url(#gG)"/>
<circle cx="400.01" cy="382.32" r="2.25" fill="url(#gG)"/>
<circle cx="401.21" cy="382.32" r="2.25" fill="url(#gG)"/>
<circle cx="402.42" cy="382.32" r="2.25" fill="url(#gG)"/>
<circle cx="403.62" cy="382.32" r="2.25" fill="url(#gG)"/>
<circle cx="404.82" cy="382.32" r="2.25" fill="url(#gG)"/>
<circle cx="406.03" cy="382.32" r="2.25" fill="url(#gG)"/>
<circle cx="407.23" cy="382.32" r="2.25" fill="url(#gG)"/>
<circle cx="408.44" cy="382.32" r="2.25" fill="url(#gG)"/>
<circle cx="409.64" cy="382.32" r="2.25" fill="url(#gG)"/>
<circle cx="410.84" cy="382.32" r="2.25" fill="url(#gG)"/>
<circle cx="412.05" cy="382.32" r="2.25" fill="url(#gG)"/>
<circle cx="413.25" cy="382.32" r="2.25" fill="url(#gG)"/>
<circle cx="414.46" cy="387.25" r="2.25" fill="url(#gG)"/>
<circle cx="415.66" cy="392.11" r="2.25" fill="url(#gG)"/>
<circle cx="416.86" cy="396.89" r="2.25" fill="url(#gG)"/>
<circle cx="418.07" cy="401.58" r="2.25" fill="url(#gG)"/>
<circle cx="419.27" cy="406.19" r="2.25" fill="url(#gG)"/>
<circle cx="420.48" cy="410.7" r="2.25" fill="url(#gG)"/>
<circle cx="421.68" cy="415.1" r="2.25" fill="url(#gG)"/>
<circle cx="422.88" cy="419.4" r="2.25" fill="url(#gG)"/>
<circle cx="424.09" cy="423.59" r="2.25" fill="url(#gG)"/>
<circle cx="425.29" cy="427.65" r="2.25" fill="url(#gG)"/>
<circle cx="426.5" cy="431.57" r="2.25" fill="url(#gG)"/>
<circle cx="427.7" cy="435.33" r="2.25" fill="url(#gG)"/>
<circle cx="428.9" cy="438.92" r="2.25" fill="url(#gG)"/>
<circle cx="430.11" cy="442.31" r="2.25" fill="url(#gG)"/>
<circle cx="431.31" cy="445.45" r="2.25" fill="url(#gG)"/>
<circle cx="432.52" cy="448.27" r="2.25" fill="url(#gG)"/>
<circle cx="433.72" cy="450.62" r="2.25" fill="url(#gG)"/>
<circle cx="434.92" cy="450.89" r="2.25" fill="url(#gG)"/>
<circle cx="436.13" cy="450.89" r="2.25" fill="url(#gG)"/>
<circle cx="437.33" cy="450.89" r="2.25" fill="url(#gG)"/>
<circle cx="438.54" cy="450.89" r="2.25" fill="url(#gG)"/>
<circle cx="439.74" cy="450.89" r="2.25" fill="url(#gG)"/>
<circle cx="440.94" cy="450.89" r="2.25" fill="url(#gG)"/>
<circle cx="442.15" cy="450.89" r="2.25" fill="url(#gG)"/>
<circle cx="443.35" cy="450.89" r="2.25" fill="url(#gG)"/>
<circle cx="444.56" cy="450.89" r="2.25" fill="url(#gG)"/>
<circle cx="445.76" cy="450.89" r="2.25" fill="url(#gG)"/>
<circle cx="446.96" cy="450.89" r="2.25" fill="url(#gG)"/>
<circle cx="448.17" cy="450.89" r="2.25" fill="url(#gG)"/>
<polyline points="337.4,448.87 338.6,448.87 339.81,448.87 341.01,448.87 342.22,448.87 343.42,448.87 344.62,448.87 345.83,448.87 347.03,448.87 348.24,448.87 349.44,448.87 350.64,448.87 351.85,448.87 353.05,448.87 354.26,448.87 355.46,448.87 356.66,448.87 357.87,448.87 359.07,448.87 360.28,448.87 361.48,448.87 362.68,447.23 363.89,440.69 365.09,432.19 366.3,422.99 367.5,413.82 368.7,405.15 369.91,397.25 371.11,390.28 372.32,384.28 373.52,379.23 374.72,375.06 375.93,371.67 377.13,368.97 378.34,366.84 379.54,365.19 380.74,363.92 381.95,362.97 383.15,362.26 384.36,361.73 385.56,361.34 386.76,361.06 387.97,360.87 389.17,360.72 390.38,360.62 391.58,360.56 392.78,360.51 393.99,360.48 395.19,360.45 396.4,360.44 397.6,360.43 398.8,360.42 400.01,360.42 401.21,360.41 402.42,360.41 403.62,360.41 404.82,360.41 406.03,360.41 407.23,360.41 408.44,360.41 409.64,360.41 410.84,360.41 412.05,360.41 413.25,360.41 414.46,368.32 415.66,375.99 416.86,383.4 418.07,390.55 419.27,397.44 420.48,404.04 421.68,410.35 422.88,416.35 424.09,422.03 425.29,427.36 426.5,432.32 427.7,436.89 428.9,441.01 430.11,444.65 431.31,447.73 432.52,450.1 433.72,450.89 434.92,450.89 436.13,450.89 437.33,450.89 438.54,450.89 439.74,450.89 440.94,450.89 442.15,450.89 443.35,450.89 444.56,450.89 445.76,450.89 446.96,450.89 448.17,450.89" fill="none" stroke="#1122cc" stroke-width="0.8" stroke-linejoin="round" stroke-linecap="round" />
<circle cx="337.4" cy="448.87" r="2.25" fill="url(#gB)"/>
<circle cx="338.6" cy="448.87" r="2.25" fill="url(#gB)"/>
<circle cx="339.81" cy="448.87" r="2.25" fill="url(#gB)"/>
<circle cx="341.01" cy="448.87" r="2.25" fill="url(#gB)"/>
<circle cx="342.22" cy="448.87" r="2.25" fill="url(#gB)"/>
<circle cx="343.42" cy="448.87" r="2.25" fill="url(#gB)"/>
<circle cx="344.62" cy="448.87" r="2.25" fill="url(#gB)"/>
<circle cx="345.83" cy="448.87" r="2.25" fill="url(#gB)"/>
<circle cx="347.03" cy="448.87" r="2.25" fill="url(#gB)"/>
<circle cx="348.24" cy="448.87" r="2.25" fill="url(#gB)"/>
<circle cx="349.44" cy="448.87" r="2.25" fill="url(#gB)"/>
<circle cx="350.64" cy="448.87" r="2.25" fill="url(#gB)"/>
<circle cx="351.85" cy="448.87" r="2.25" fill="url(#gB)"/>
<circle cx="353.05" cy="448.87" r="2.25" fill="url(#gB)"/>
<circle cx="354.26" cy="448.87" r="2.25" fill="url(#gB)"/>
<circle cx="355.46" cy="448.87" r="2.25" fill="url(#gB)"/>
<circle cx="356.66" cy="448.87" r="2.25" fill="url(#gB)"/>
<circle cx="357.87" cy="448.87" r="2.25" fill="url(#gB)"/>
<circle cx="359.07" cy="448.87" r="2.25" fill="url(#gB)"/>
<circle cx="360.28" cy="448.87" r="2.25" fill="url(#gB)"/>
<circle cx="361.48" cy="448.87" r="2.25" fill="url(#gB)"/>
<circle cx="362.68" cy="447.23" r="2.25" fill="url(#gB)"/>
<circle cx="363.89" cy="440.69" r="2.25" fill="url(#gB)"/>
<circle cx="365.09" cy="432.19" r="2.25" fill="url(#gB)"/>
<circle cx="366.3" cy="422.99" r="2.25" fill="url(#gB)"/>
<circle cx="367.5" cy="413.82" r="2.25" fill="url(#gB)"/>
<circle cx="368.7" cy="405.15" r="2.25" fill="url(#gB)"/>
<circle cx="369.91" cy="397.25" r="2.25" fill="url(#gB)"/>
<circle cx="371.11" cy="390.28" r="2.25" fill="url(#gB)"/>
<circle cx="372.32" cy="384.28" r="2.25" fill="url(#gB)"/>
<circle cx="373.52" cy="379.23" r="2.25" fill="url(#gB)"/>
<circle cx="374.72" cy="375.06" r="2.25" fill="url(#gB)"/>
<circle cx="375.93" cy="371.67" r="2.25" fill="url(#gB)"/>
<circle cx="377.13" cy="368.97" r="2.25" fill="url(#gB)"/>
<circle cx="378.34" cy="366.84" r="2.25" fill="url(#gB)"/>
<circle cx="379.54" cy="365.19" r="2.25" fill="url(#gB)"/>
<circle cx="380.74" cy="363.92" r="2.25" fill="url(#gB)"/>
<circle cx="381.95" cy="362.97" r="2.25" fill="url(#gB)"/>
<circle cx="383.15" cy="362.26" r="2.25" fill="url(#gB)"/>
<circle cx="384.36" cy="361.73" r="2.25" fill="url(#gB)"/>
<circle cx="385.56" cy="361.34" r="2.25" fill="url(#gB)"/>
<circle cx="386.76" cy="361.06" r="2.25" fill="url(#gB)"/>
<circle cx="387.97" cy="360.87" r="2.25" fill="url(#gB)"/>
<circle cx="389.17" cy="360.72" r="2.25" fill="url(#gB)"/>
<circle cx="390.38" cy="360.62" r="2.25" fill="url(#gB)"/>
<circle cx="391.58" cy="360.56" r="2.25" fill="url(#gB)"/>
<circle cx="392.78" cy="360.51" r="2.25" fill="url(#gB)"/>
<circle cx="393.99" cy="360.48" r="2.25" fill="url(#gB)"/>
<circle cx="395.19" cy="360.45" r="2.25" fill="url(#gB)"/>
<circle cx="396.4" cy="360.44" r="2.25" fill="url(#gB)"/>
<circle cx="397.6" cy="360.43" r="2.25" fill="url(#gB)"/>
<circle cx="398.8" cy="360.42" r="2.25" fill="url(#gB)"/>
<circle cx="400.01" cy="360.42" r="2.25" fill="url(#gB)"/>
<circle cx="401.21" cy="360.41" r="2.25" fill="url(#gB)"/>
<circle cx="402.42" cy="360.41" r="2.25" fill="url(#gB)"/>
<circle cx="403.62" cy="360.41" r="2.25" fill="url(#gB)"/>
<circle cx="404.82" cy="360.41" r="2.25" fill="url(#gB)"/>
<circle cx="406.03" cy="360.41" r="2.25" fill="url(#gB)"/>
<circle cx="407.23" cy="360.41" r="2.25" fill="url(#gB)"/>
<circle cx="408.44" cy="360.41" r="2.25" fill="url(#gB)"/>
<circle cx="409.64" cy="360.41" r="2.25" fill="url(#gB)"/>
<circle cx="410.84" cy="360.41" r="2.25" fill="url(#gB)"/>
<circle cx="412.05" cy="360.41" r="2.25" fill="url(#gB)"/>
<circle cx="413.25" cy="360.41" r="2.25" fill="url(#gB)"/>
<circle cx="414.46" cy="368.32" r="2.25" fill="url(#gB)"/>
<circle cx="415.66" cy="375.99" r="2.25" fill="url(#gB)"/>
<circle cx="416.86" cy="383.4" r="2.25" fill="url(#gB)"/>
<circle cx="418.07" cy="390.55" r="2.25" fill="url(#gB)"/>
<circle cx="419.27" cy="397.44" r="2.25" fill="url(#gB)"/>
<circle cx="420.48" cy="404.04" r="2.25" fill="url(#gB)"/>
<circle cx="421.68" cy="410.35" r="2.25" fill="url(#gB)"/>
<circle cx="422.88" cy="416.35" r="2.25" fill="url(#gB)"/>
<circle cx="424.09" cy="422.03" r="2.25" fill="url(#gB)"/>
<circle cx="425.29" cy="427.36" r="2.25" fill="url(#gB)"/>
<circle cx="426.5" cy="432.32" r="2.25" fill="url(#gB)"/>
<circle cx="427.7" cy="436.89" r="2.25" fill="url(#gB)"/>
<circle cx="428.9" cy="441.01" r="2.25" fill="url(#gB)"/>
<circle cx="430.11" cy="444.65" r="2.25" fill="url(#gB)"/>
<circle cx="431.31" cy="447.73" r="2.25" fill="url(#gB)"/>
<circle cx="432.52" cy="450.1" r="2.25" fill="url(#gB)"/>
<circle cx="433.72" cy="450.89" r="2.25" fill="url(#gB)"/>
<circle cx="434.92" cy="450.89" r="2.25" fill="url(#gB)"/>
<circle cx="436.13" cy="450.89" r="2.25" fill="url(#gB)"/>
<circle cx="437.33" cy="450.89" r="2.25" fill="url(#gB)"/>
<circle cx="438.54" cy="450.89" r="2.25" fill="url(#gB)"/>
<circle cx="439.74" cy="450.89" r="2.25" fill="url(#gB)"/>
<circle cx="440.94" cy="450.89" r="2.25" fill="url(#gB)"/>
<circle cx="442.15" cy="450.89" r="2.25" fill="url(#gB)"/>
<circle cx="443.35" cy="450.89" r="2.25" fill="url(#gB)"/>
<circle cx="444.56" cy="450.89" r="2.25" fill="url(#gB)"/>
<circle cx="445.76" cy="450.89" r="2.25" fill="url(#gB)"/>
<circle cx="446.96" cy="450.89" r="2.25" fill="url(#gB)"/>
<circle cx="448.17" cy="450.89" r="2.25" fill="url(#gB)"/>
<text x="364" y="364.6" font-size="6" fill="#2233cc">11 s</text>
<line x1="378" y1="366" x2="361.8" y2="366" stroke="#2233cc" stroke-width="0.7" />
<path d="M361.8,366 l2.4,-1.2 v2.4 z" fill="#2233cc"/>
<line x1="375.5" y1="362" x2="375.5" y2="367" stroke="#2233cc" stroke-width="0.6" />
<text x="364" y="381" font-size="6" fill="#1a7a1a">16 s</text>
<line x1="388" y1="383" x2="361.8" y2="383" stroke="#1a7a1a" stroke-width="0.7" />
<path d="M361.8,383 l2.4,-1.2 v2.4 z" fill="#1a7a1a"/>
<line x1="384.5" y1="378.5" x2="384.5" y2="384" stroke="#1a7a1a" stroke-width="0.6" />
<text x="362.5" y="399.6" font-size="6" fill="#dd1111">17 s</text>
<line x1="391" y1="399" x2="361.8" y2="399" stroke="#dd1111" stroke-width="0.7" />
<path d="M361.8,399 l2.4,-1.2 v2.4 z" fill="#dd1111"/>
<line x1="387.5" y1="395" x2="387.5" y2="400" stroke="#dd1111" stroke-width="0.6" />
<text x="377.6" y="430.2" font-size="6" fill="#333">20 s</text>
<line x1="380" y1="420.5" x2="361.8" y2="420.5" stroke="#333" stroke-width="0.7" />
<path d="M361.8,420.5 l2.4,-1.2 v2.4 z" fill="#333"/>
<line x1="385" y1="416" x2="385" y2="422" stroke="#333" stroke-width="0.6" />
<text x="397" y="431.6" font-size="6" fill="#2233cc">13 s</text>
<line x1="413" y1="429.4" x2="428" y2="429.4" stroke="#2233cc" stroke-width="0.7" />
<path d="M428,429.4 l-2.4,-1.2 v2.4 z" fill="#2233cc"/>
<line x1="427.5" y1="426.5" x2="427.5" y2="432" stroke="#2233cc" stroke-width="0.6" />
<text x="397" y="438.8" font-size="6" fill="#dd1111">17 s</text>
<line x1="413" y1="436.6" x2="432" y2="436.6" stroke="#dd1111" stroke-width="0.7" />
<path d="M432,436.6 l-2.4,-1.2 v2.4 z" fill="#dd1111"/>
<line x1="431.5" y1="433.5" x2="431.5" y2="439" stroke="#dd1111" stroke-width="0.6" />
<text x="397" y="445.7" font-size="6" fill="#1a7a1a">16 s</text>
<line x1="432" y1="443.5" x2="413" y2="443.5" stroke="#1a7a1a" stroke-width="0.7" />
<path d="M413,443.5 l2.4,-1.2 v2.4 z" fill="#1a7a1a"/>
<text x="397" y="452.9" font-size="6" fill="#333">20 s</text>
<line x1="434" y1="450.7" x2="413" y2="450.7" stroke="#333" stroke-width="0.7" />
<path d="M413,450.7 l2.4,-1.2 v2.4 z" fill="#333"/>
<line x1="418.8" y1="340.3" x2="432.1" y2="340.3" stroke="#111" stroke-width="0.9" />
<circle cx="425.5" cy="340.3" r="2.1" fill="url(#gK)"/>
<text x="434.8" y="342.1" font-size="5" fill="#231f20">SnO<tspan font-size="70%" baseline-shift="-22%">2</tspan></text>
<line x1="418.8" y1="348.3" x2="432.1" y2="348.3" stroke="#dd1111" stroke-width="0.9" />
<circle cx="425.5" cy="348.3" r="2.1" fill="url(#gR)"/>
<text x="434.8" y="350.1" font-size="5" fill="#231f20">5 wt% MXene-SnO<tspan font-size="70%" baseline-shift="-22%">2</tspan></text>
<line x1="418.8" y1="356.3" x2="432.1" y2="356.3" stroke="#1122cc" stroke-width="0.9" />
<circle cx="425.5" cy="356.3" r="2.1" fill="url(#gB)"/>
<text x="434.8" y="358.1" font-size="5" fill="#231f20">10 wt% MXene-SnO<tspan font-size="70%" baseline-shift="-22%">2</tspan></text>
<line x1="418.8" y1="364.3" x2="432.1" y2="364.3" stroke="#1a7a1a" stroke-width="0.9" />
<circle cx="425.5" cy="364.3" r="2.1" fill="url(#gG)"/>
<text x="434.8" y="366.1" font-size="5" fill="#231f20">15 wt% MXene-SnO<tspan font-size="70%" baseline-shift="-22%">2</tspan></text>
<text x="293.2" y="343.2" font-size="13.5" text-anchor="start" fill="#231f20" font-weight="bold" >i</text>
<text x="402.2" y="485.7" font-size="8.5" text-anchor="middle" fill="#231f20" >Time (s)</text>
<text transform="translate(300.6,398.2) rotate(-90)" font-size="8.7" text-anchor="middle" fill="#231f20">Response (%)</text>
<rect x="521.8" y="331" width="159.7" height="128.2" fill="none" stroke="#444" stroke-width="1"/>
<line x1="538.3" y1="459.2" x2="538.3" y2="461.4" stroke="#444" stroke-width="1" />
<text x="538.3" y="473.7" font-size="8.6" text-anchor="middle" fill="#231f20" >0</text>
<line x1="570.2" y1="459.2" x2="570.2" y2="461.4" stroke="#444" stroke-width="1" />
<text x="570.2" y="473.7" font-size="8.6" text-anchor="middle" fill="#231f20" >500</text>
<line x1="602.1" y1="459.2" x2="602.1" y2="461.4" stroke="#444" stroke-width="1" />
<text x="602.1" y="473.7" font-size="8.6" text-anchor="middle" fill="#231f20" >1000</text>
<line x1="634" y1="459.2" x2="634" y2="461.4" stroke="#444" stroke-width="1" />
<text x="634" y="473.7" font-size="8.6" text-anchor="middle" fill="#231f20" >1500</text>
<line x1="665.9" y1="459.2" x2="665.9" y2="461.4" stroke="#444" stroke-width="1" />
<text x="665.9" y="473.7" font-size="8.6" text-anchor="middle" fill="#231f20" >2000</text>
<line x1="522.35" y1="459.2" x2="522.35" y2="460.5" stroke="#444" stroke-width="1" />
<line x1="554.25" y1="459.2" x2="554.25" y2="460.5" stroke="#444" stroke-width="1" />
<line x1="586.15" y1="459.2" x2="586.15" y2="460.5" stroke="#444" stroke-width="1" />
<line x1="618.05" y1="459.2" x2="618.05" y2="460.5" stroke="#444" stroke-width="1" />
<line x1="649.95" y1="459.2" x2="649.95" y2="460.5" stroke="#444" stroke-width="1" />
<line x1="521.8" y1="451.1" x2="519.6" y2="451.1" stroke="#444" stroke-width="1" />
<text x="513.2" y="454.2" font-size="8.6" text-anchor="end" fill="#231f20" >10</text>
<line x1="521.8" y1="435.12" x2="519.6" y2="435.12" stroke="#444" stroke-width="1" />
<text x="513.2" y="438.22" font-size="8.6" text-anchor="end" fill="#231f20" >20</text>
<line x1="521.8" y1="419.14" x2="519.6" y2="419.14" stroke="#444" stroke-width="1" />
<text x="513.2" y="422.24" font-size="8.6" text-anchor="end" fill="#231f20" >30</text>
<line x1="521.8" y1="403.16" x2="519.6" y2="403.16" stroke="#444" stroke-width="1" />
<text x="513.2" y="406.26" font-size="8.6" text-anchor="end" fill="#231f20" >40</text>
<line x1="521.8" y1="387.18" x2="519.6" y2="387.18" stroke="#444" stroke-width="1" />
<text x="513.2" y="390.28" font-size="8.6" text-anchor="end" fill="#231f20" >50</text>
<line x1="521.8" y1="371.2" x2="519.6" y2="371.2" stroke="#444" stroke-width="1" />
<text x="513.2" y="374.3" font-size="8.6" text-anchor="end" fill="#231f20" >60</text>
<line x1="521.8" y1="355.22" x2="519.6" y2="355.22" stroke="#444" stroke-width="1" />
<text x="513.2" y="358.32" font-size="8.6" text-anchor="end" fill="#231f20" >70</text>
<line x1="521.8" y1="339.24" x2="519.6" y2="339.24" stroke="#444" stroke-width="1" />
<text x="513.2" y="342.34" font-size="8.6" text-anchor="end" fill="#231f20" >80</text>
<line x1="521.8" y1="459.09" x2="520.5" y2="459.09" stroke="#444" stroke-width="1" />
<line x1="521.8" y1="443.11" x2="520.5" y2="443.11" stroke="#444" stroke-width="1" />
<line x1="521.8" y1="427.13" x2="520.5" y2="427.13" stroke="#444" stroke-width="1" />
<line x1="521.8" y1="411.15" x2="520.5" y2="411.15" stroke="#444" stroke-width="1" />
<line x1="521.8" y1="395.17" x2="520.5" y2="395.17" stroke="#444" stroke-width="1" />
<line x1="521.8" y1="379.19" x2="520.5" y2="379.19" stroke="#444" stroke-width="1" />
<line x1="521.8" y1="363.21" x2="520.5" y2="363.21" stroke="#444" stroke-width="1" />
<line x1="521.8" y1="347.23" x2="520.5" y2="347.23" stroke="#444" stroke-width="1" />
<polyline points="541.49,452.16 543.08,450.76 544.68,449.4 546.27,448.08 547.87,446.81 549.46,445.57 551.06,444.37 552.65,443.21 554.25,442.09 555.84,441 557.44,439.94 559.03,438.92 560.63,437.93 562.22,436.96 563.82,436.03 565.41,435.13 567.01,434.26 568.6,433.41 570.2,432.59 571.79,431.79 573.39,431.02 574.98,430.27 576.58,429.55 578.17,428.84 579.77,428.16 581.37,427.5 582.96,426.86 584.55,426.25 586.15,425.65 587.74,425.06 589.34,424.5 590.93,423.95 592.53,423.42 594.12,422.91 595.72,422.41 597.31,421.93 598.91,421.47 600.5,421.01 602.1,420.58 603.69,420.15 605.29,419.74 606.88,419.34 608.48,418.95 610.07,418.58 611.67,418.22 613.26,417.86 614.86,417.52 616.45,417.19 618.05,416.87 619.64,416.56 621.24,416.26 622.83,415.97 624.43,415.69 626.02,415.41 627.62,415.15 629.21,414.89 630.81,414.64 632.4,414.4 634,414.17 635.59,413.94 637.19,413.72 638.78,413.51 640.38,413.3 641.97,413.1 643.57,412.91 645.16,412.72 646.76,412.54 648.35,412.36 649.95,412.19 651.54,412.03 653.14,411.86 654.73,411.71 656.33,411.56 657.92,411.41 659.52,411.27 661.12,411.13 662.71,411 664.3,410.87 665.9,410.75" fill="none" stroke="#333" stroke-width="0.9" stroke-linejoin="round" stroke-linecap="round" />
<polyline points="541.49,445.48 543.08,443.48 544.68,441.55 546.27,439.68 547.87,437.86 549.46,436.1 551.06,434.4 552.65,432.74 554.25,431.14 555.84,429.59 557.44,428.09 559.03,426.63 560.63,425.22 562.22,423.85 563.82,422.52 565.41,421.23 567.01,419.99 568.6,418.78 570.2,417.61 571.79,416.48 573.39,415.38 574.98,414.32 576.58,413.28 578.17,412.28 579.77,411.32 581.37,410.38 582.96,409.47 584.55,408.58 586.15,407.73 587.74,406.9 589.34,406.1 590.93,405.32 592.53,404.57 594.12,403.84 595.72,403.13 597.31,402.44 598.91,401.78 600.5,401.14 602.1,400.51 603.69,399.91 605.29,399.32 606.88,398.75 608.48,398.2 610.07,397.67 611.67,397.15 613.26,396.65 614.86,396.16 616.45,395.69 618.05,395.24 619.64,394.8 621.24,394.37 622.83,393.95 624.43,393.55 626.02,393.16 627.62,392.78 629.21,392.42 630.81,392.06 632.4,391.72 634,391.39 635.59,391.06 637.19,390.75 638.78,390.45 640.38,390.15 641.97,389.87 643.57,389.59 645.16,389.33 646.76,389.07 648.35,388.82 649.95,388.57 651.54,388.34 653.14,388.11 654.73,387.89 656.33,387.67 657.92,387.46 659.52,387.26 661.12,387.07 662.71,386.88 664.3,386.7 665.9,386.52" fill="none" stroke="#e83a7a" stroke-width="0.9" stroke-linejoin="round" stroke-linecap="round" />
<polyline points="541.49,437.67 543.08,435.68 544.68,433.76 546.27,431.89 547.87,430.08 549.46,428.33 551.06,426.64 552.65,424.99 554.25,423.4 555.84,421.85 557.44,420.36 559.03,418.9 560.63,417.5 562.22,416.14 563.82,414.82 565.41,413.54 567.01,412.3 568.6,411.1 570.2,409.93 571.79,408.8 573.39,407.71 574.98,406.65 576.58,405.62 578.17,404.63 579.77,403.66 581.37,402.73 582.96,401.82 584.55,400.95 586.15,400.09 587.74,399.27 589.34,398.47 590.93,397.7 592.53,396.95 594.12,396.22 595.72,395.52 597.31,394.83 598.91,394.17 600.5,393.53 602.1,392.91 603.69,392.31 605.29,391.72 606.88,391.16 608.48,390.61 610.07,390.08 611.67,389.57 613.26,389.07 614.86,388.58 616.45,388.11 618.05,387.66 619.64,387.22 621.24,386.8 622.83,386.38 624.43,385.98 626.02,385.59 627.62,385.22 629.21,384.85 630.81,384.5 632.4,384.16 634,383.83 635.59,383.51 637.19,383.19 638.78,382.89 640.38,382.6 641.97,382.32 643.57,382.04 645.16,381.78 646.76,381.52 648.35,381.27 649.95,381.03 651.54,380.79 653.14,380.56 654.73,380.34 656.33,380.13 657.92,379.92 659.52,379.72 661.12,379.53 662.71,379.34 664.3,379.16 665.9,378.98" fill="none" stroke="#b8d838" stroke-width="0.9" stroke-linejoin="round" stroke-linecap="round" />
<polyline points="541.49,430.7 543.08,427.75 544.68,424.9 546.27,422.13 547.87,419.45 549.46,416.85 551.06,414.33 552.65,411.89 554.25,409.53 555.84,407.24 557.44,405.01 559.03,402.86 560.63,400.78 562.22,398.76 563.82,396.8 565.41,394.9 567.01,393.06 568.6,391.28 570.2,389.55 571.79,387.87 573.39,386.25 574.98,384.68 576.58,383.16 578.17,381.68 579.77,380.25 581.37,378.86 582.96,377.52 584.55,376.22 586.15,374.96 587.74,373.73 589.34,372.55 590.93,371.4 592.53,370.29 594.12,369.21 595.72,368.16 597.31,367.15 598.91,366.17 600.5,365.22 602.1,364.29 603.69,363.4 605.29,362.54 606.88,361.7 608.48,360.88 610.07,360.1 611.67,359.33 613.26,358.59 614.86,357.88 616.45,357.18 618.05,356.51 619.64,355.86 621.24,355.22 622.83,354.61 624.43,354.02 626.02,353.44 627.62,352.88 629.21,352.34 630.81,351.82 632.4,351.31 634,350.82 635.59,350.34 637.19,349.88 638.78,349.43 640.38,349 641.97,348.58 643.57,348.17 645.16,347.78 646.76,347.4 648.35,347.02 649.95,346.67 651.54,346.32 653.14,345.98 654.73,345.65 656.33,345.34 657.92,345.03 659.52,344.73 661.12,344.44 662.71,344.16 664.3,343.89 665.9,343.63" fill="none" stroke="#5a78ee" stroke-width="0.9" stroke-linejoin="round" stroke-linecap="round" />
<circle cx="541.49" cy="454.78" r="2.5" fill="url(#gK)"/>
<circle cx="544.68" cy="448.22" r="2.5" fill="url(#gK)"/>
<circle cx="551.06" cy="441.19" r="2.5" fill="url(#gK)"/>
<circle cx="563.82" cy="435.92" r="2.5" fill="url(#gK)"/>
<circle cx="576.58" cy="429.05" r="2.5" fill="url(#gK)"/>
<circle cx="589.34" cy="423.77" r="2.5" fill="url(#gK)"/>
<circle cx="602.1" cy="419.14" r="2.5" fill="url(#gK)"/>
<circle cx="634" cy="415.94" r="2.5" fill="url(#gK)"/>
<circle cx="665.9" cy="407.95" r="2.5" fill="url(#gK)"/>
<circle cx="541.49" cy="449.66" r="2.5" fill="url(#gR)"/>
<circle cx="544.68" cy="439.59" r="2.5" fill="url(#gR)"/>
<circle cx="551.06" cy="432.88" r="2.5" fill="url(#gR)"/>
<circle cx="563.82" cy="426.01" r="2.5" fill="url(#gR)"/>
<circle cx="576.58" cy="416.26" r="2.5" fill="url(#gR)"/>
<circle cx="589.34" cy="409.23" r="2.5" fill="url(#gR)"/>
<circle cx="602.1" cy="401.56" r="2.5" fill="url(#gR)"/>
<circle cx="634" cy="395.97" r="2.5" fill="url(#gR)"/>
<circle cx="665.9" cy="386.7" r="2.5" fill="url(#gR)"/>
<circle cx="541.49" cy="440.55" r="2.5" fill="url(#gG)"/>
<circle cx="544.68" cy="431.92" r="2.5" fill="url(#gG)"/>
<circle cx="551.06" cy="422.98" r="2.5" fill="url(#gG)"/>
<circle cx="563.82" cy="412.91" r="2.5" fill="url(#gG)"/>
<circle cx="576.58" cy="401.56" r="2.5" fill="url(#gG)"/>
<circle cx="589.34" cy="397.57" r="2.5" fill="url(#gG)"/>
<circle cx="602.1" cy="392.77" r="2.5" fill="url(#gG)"/>
<circle cx="634" cy="383.98" r="2.5" fill="url(#gG)"/>
<circle cx="665.9" cy="375.2" r="2.5" fill="url(#gG)"/>
<circle cx="541.49" cy="437.04" r="2.5" fill="url(#gB)"/>
<circle cx="544.68" cy="421.06" r="2.5" fill="url(#gB)"/>
<circle cx="551.06" cy="409.55" r="2.5" fill="url(#gB)"/>
<circle cx="563.82" cy="394.37" r="2.5" fill="url(#gB)"/>
<circle cx="576.58" cy="381.43" r="2.5" fill="url(#gB)"/>
<circle cx="589.34" cy="373.12" r="2.5" fill="url(#gB)"/>
<circle cx="602.1" cy="364.81" r="2.5" fill="url(#gB)"/>
<circle cx="634" cy="351.7" r="2.5" fill="url(#gB)"/>
<circle cx="665.9" cy="340.36" r="2.5" fill="url(#gB)"/>
<line x1="530.1" y1="339.4" x2="543" y2="339.4" stroke="#5a78ee" stroke-width="0.9" />
<text x="545.8" y="341.6" font-size="6.2" fill="#231f20">10 wt% MXene-SnO<tspan font-size="70%" baseline-shift="-22%">2</tspan></text>
<line x1="530.1" y1="347.1" x2="543" y2="347.1" stroke="#b8d838" stroke-width="0.9" />
<text x="545.8" y="349.3" font-size="6.2" fill="#231f20">15 wt% MXene-SnO<tspan font-size="70%" baseline-shift="-22%">2</tspan></text>
<line x1="530.1" y1="354.5" x2="543" y2="354.5" stroke="#e83a7a" stroke-width="0.9" />
<text x="545.8" y="356.7" font-size="6.2" fill="#231f20">5 wt% MXene-SnO<tspan font-size="70%" baseline-shift="-22%">2</tspan></text>
<line x1="530.1" y1="362.8" x2="543" y2="362.8" stroke="#444" stroke-width="0.9" />
<text x="545.8" y="365" font-size="6.2" fill="#231f20">SnO<tspan font-size="70%" baseline-shift="-22%">2</tspan></text>
<text x="524.6" y="380.2" font-size="5.4" fill="#222">Y = 82.4-63.5×0.99<tspan font-size="3.6" baseline-shift="super">x</tspan></text>
<text x="614.2" y="373.1" font-size="5.4" fill="#222">Y = 58.6-42.8×0.99<tspan font-size="3.6" baseline-shift="super">x</tspan></text>
<text x="611.8" y="406.3" font-size="5.4" fill="#222">Y = 53.9-43.0×0.99<tspan font-size="3.6" baseline-shift="super">x</tspan></text>
<text x="602.5" y="428.5" font-size="5.4" fill="#222">Y = 37.7-30.2×0.99<tspan font-size="3.6" baseline-shift="super">x</tspan></text>
<line x1="554.6" y1="384.3" x2="562" y2="392.3" stroke="#1122cc" stroke-width="0.8" />
<path d="M562,392.3 L560.92,389.21 L559.01,390.98 Z" fill="#1122cc"/>
<line x1="624" y1="379.5" x2="619" y2="385.6" stroke="#1a7a1a" stroke-width="0.8" />
<path d="M619,385.6 L621.91,384.1 L619.9,382.46 Z" fill="#1a7a1a"/>
<line x1="645" y1="399" x2="641" y2="393" stroke="#dd1166" stroke-width="0.8" />
<path d="M641,393 L641.58,396.22 L643.75,394.78 Z" fill="#dd1166"/>
<line x1="629.5" y1="421" x2="628.8" y2="414.5" stroke="#111" stroke-width="0.8" />
<path d="M628.8,414.5 L627.83,417.62 L630.41,417.34 Z" fill="#111"/>
<text x="491.8" y="344.3" font-size="13.8" text-anchor="start" fill="#231f20" font-weight="bold" >j</text>
<text x="602.1" y="486.1" font-size="8.7" text-anchor="middle" fill="#231f20" >Concentration (ppm)</text>
<text transform="translate(497.3,393) rotate(-90)" font-size="8.7" text-anchor="middle" fill="#231f20">Response (%)</text>
<rect x="372.35" y="8.3" width="57.99" height="124.9" fill="#f8f57a"/>
<polyline points="344.2,123.3 369.53,124.56 372.35,123.3 377.98,122.46 400.5,122.04 428.65,121.62 439.91,122.46 484.95,123.3" fill="none" stroke="#9b30d0" stroke-width="1.1" stroke-linejoin="round" stroke-linecap="round" />
<polyline points="344.2,123.3 369.53,124.98 372.35,122.46 377.98,119.95 389.24,118.69 411.76,118.27 429.78,117.85 439.91,119.11 456.8,121.2 484.95,122.46" fill="none" stroke="#f0961e" stroke-width="1.1" stroke-linejoin="round" stroke-linecap="round" />
<polyline points="344.2,123.3 369.53,125.39 372.35,122.04 377.98,119.11 389.24,117.85 411.76,117.02 429.78,116.6 439.91,117.85 456.8,120.37 484.95,123.3" fill="none" stroke="#1a9a3a" stroke-width="1.2" stroke-linejoin="round" stroke-linecap="round" />
<polyline points="344.2,123.3 363.9,125.39 369.53,125.81 373.48,120.79 383.61,117.02 394.87,114.5 411.76,112.41 425.83,109.89 431.46,111.57 437.09,114.92 456.8,116.6 484.95,118.69" fill="none" stroke="#2a3adf" stroke-width="1.3" stroke-linejoin="round" stroke-linecap="round" />
<polyline points="344.2,123.3 363.9,125.81 369.53,126.65 372.35,124.98 375.16,114.92 380.79,102.35 384.74,97.32 388.11,95.23 400.5,95.23 417.39,93.97 430.34,91.88 437.09,106.54 445.54,111.57 456.8,114.92 484.95,119.11" fill="none" stroke="#111" stroke-width="1.3" stroke-linejoin="round" stroke-linecap="round" />
<polyline points="344.2,123.3 369.53,124.14 372.07,121.62 372.63,68.83 373.19,58.75 373.81,54.61 374.43,54.16 375.05,51.35 375.67,50.72 376.29,48.4 376.91,48.1 377.53,45.82 378.15,45.43 378.77,41.56 379.39,41.18 380.01,41.57 380.63,39.61 381.25,37.07 381.86,39.45 382.48,36.09 383.1,36.94 383.72,36.14 384.34,34.35 384.96,35.54 385.58,34.69 386.2,33.62 386.82,32.15 387.44,34.24 388.06,32.1 388.68,32.31 389.3,32.33 389.92,32.98 390.53,32.99 391.15,33.91 391.77,33.45 392.39,33.52 393.01,30.85 393.63,32.55 394.25,32.78 394.87,32.97 395.49,30.02 396.11,29.82 396.73,30.49 397.35,31.88 397.97,31.96 398.59,31.71 399.21,31.03 399.82,32.11 400.44,30.98 401.06,31.62 401.68,28.95 402.3,28.87 402.92,30.44 403.54,31.56 404.16,28.81 404.78,31.26 405.4,31.06 406.02,32.38 406.64,30.92 407.26,30.56 407.88,30.44 408.49,31.56 409.11,30.4 409.73,32.27 410.35,31.28 410.97,31.93 411.59,30.76 412.21,32.1 412.83,32.16 413.45,31.09 414.07,31.35 414.69,30.02 415.31,30.23 415.93,29.39 416.55,29.73 417.16,29.51 417.78,28.89 418.4,30.73 419.02,30.97 419.64,28.48 420.26,31.63 420.88,29.46 421.5,29.76 422.12,32.02 422.74,29.04 423.36,28.82 423.98,29.82 424.6,29.41 425.22,29.12 425.83,31.65 426.45,30.2 427.07,30.28 427.69,29.03 428.31,29.14 428.93,29.06 429.78,23.79 430.62,28.24 431.24,29.82 431.86,33.05 432.48,35.46 433.1,39.39 433.72,42.36 434.34,44.24 434.96,45.64 435.57,48.59 436.19,48.17 436.81,51.06 437.43,52.74 438.05,54.59 438.67,56.19 439.29,58.57 439.91,61.88 440.53,60.84 441.15,62.59 441.77,64.94 442.39,66.31 443.01,67.33 443.63,70.71 444.25,69.81 444.86,72.74 445.48,74.6 446.1,75.19 446.72,74.82 447.34,77.73 447.96,77.06 448.58,77.35 449.2,80.01 449.82,81.4 450.44,82.06 451.06,82.33 451.68,82.97 452.3,84.37 452.92,85.15 453.53,87.89 454.15,88.47 454.77,88.9 455.39,88.03 456.01,90.24 456.63,90.08 457.25,92.64 457.87,93.15 458.49,93.11 459.11,92.39 459.73,92.94 460.35,93.59 460.97,95.45 461.59,95.26 462.2,95.97 462.82,96.49 463.44,98.17 464.06,96.06 464.68,98.87 465.3,96.72 465.92,97.31 466.54,100.82 467.16,99.76 467.78,98.96 468.4,98.86 469.02,100.98 469.64,101.96 470.26,102.52 470.87,100.4 471.49,103.2 472.11,102.29 472.73,104.08 473.35,103.11 473.97,101.97 474.59,105 475.21,102.98 475.83,104.3 476.45,103.29 477.07,104.16 477.69,105.99 478.31,104 478.93,105.61 479.55,107.38 480.16,107.67 480.78,106.24 481.4,106.58 482.02,107.28 482.64,108.01 483.26,107.52 483.88,107.79 484.5,106.21" fill="none" stroke="#ee1c1c" stroke-width="1.2" stroke-linejoin="round" stroke-linecap="round" />
<rect x="343.7" y="8.3" width="141.3" height="124.9" fill="none" stroke="#444" stroke-width="1"/>
<line x1="344.2" y1="133.2" x2="344.2" y2="130.7" stroke="#444" stroke-width="1" />
<text x="344.2" y="145.8" font-size="10" text-anchor="middle" fill="#231f20" >0</text>
<line x1="372.35" y1="133.2" x2="372.35" y2="130.7" stroke="#444" stroke-width="1" />
<text x="372.35" y="145.8" font-size="10" text-anchor="middle" fill="#231f20" >5</text>
<line x1="400.5" y1="133.2" x2="400.5" y2="130.7" stroke="#444" stroke-width="1" />
<text x="400.5" y="145.8" font-size="10" text-anchor="middle" fill="#231f20" >10</text>
<line x1="428.65" y1="133.2" x2="428.65" y2="130.7" stroke="#444" stroke-width="1" />
<text x="428.65" y="145.8" font-size="10" text-anchor="middle" fill="#231f20" >15</text>
<line x1="456.8" y1="133.2" x2="456.8" y2="130.7" stroke="#444" stroke-width="1" />
<text x="456.8" y="145.8" font-size="10" text-anchor="middle" fill="#231f20" >20</text>
<line x1="484.95" y1="133.2" x2="484.95" y2="130.7" stroke="#444" stroke-width="1" />
<text x="484.95" y="145.8" font-size="10" text-anchor="middle" fill="#231f20" >25</text>
<line x1="358.27" y1="133.2" x2="358.27" y2="131.7" stroke="#444" stroke-width="1" />
<line x1="386.43" y1="133.2" x2="386.43" y2="131.7" stroke="#444" stroke-width="1" />
<line x1="414.57" y1="133.2" x2="414.57" y2="131.7" stroke="#444" stroke-width="1" />
<line x1="442.72" y1="133.2" x2="442.72" y2="131.7" stroke="#444" stroke-width="1" />
<line x1="470.88" y1="133.2" x2="470.88" y2="131.7" stroke="#444" stroke-width="1" />
<line x1="343.7" y1="123.3" x2="346.2" y2="123.3" stroke="#444" stroke-width="1" />
<text x="338.8" y="126.8" font-size="10" text-anchor="end" fill="#231f20" >0.0</text>
<line x1="343.7" y1="81.4" x2="346.2" y2="81.4" stroke="#444" stroke-width="1" />
<text x="338.8" y="84.9" font-size="10" text-anchor="end" fill="#231f20" >0.1</text>
<line x1="343.7" y1="39.5" x2="346.2" y2="39.5" stroke="#444" stroke-width="1" />
<text x="338.8" y="43" font-size="10" text-anchor="end" fill="#231f20" >0.2</text>
<line x1="343.7" y1="102.35" x2="345.2" y2="102.35" stroke="#444" stroke-width="1" />
<line x1="343.7" y1="60.45" x2="345.2" y2="60.45" stroke="#444" stroke-width="1" />
<line x1="343.7" y1="18.55" x2="345.2" y2="18.55" stroke="#444" stroke-width="1" />
<text x="414.3" y="161" font-size="10.2" text-anchor="middle" fill="#231f20" >Time (min)</text>
<text transform="translate(314.6,70.9) rotate(-90)" font-size="10.3" text-anchor="middle" fill="#231f20">Gas response</text>
<text x="305.6" y="14" font-size="14" text-anchor="start" fill="#231f20" font-weight="bold" >b</text>
<text x="448.8" y="20.3" font-size="7.2" text-anchor="start" fill="#231f20" >100 pmm</text>
<line x1="442.5" y1="29.2" x2="456.2" y2="29.2" stroke="#ee1c1c" stroke-width="1.3" />
<text x="459" y="31.3" font-size="5.8" text-anchor="start" fill="#231f20" >Hydrogen</text>
<line x1="442.5" y1="37.1" x2="456.2" y2="37.1" stroke="#111" stroke-width="1.3" />
<text x="459" y="39.2" font-size="5.8" text-anchor="start" fill="#231f20" >Ethanol</text>
<line x1="442.5" y1="45" x2="456.2" y2="45" stroke="#2a3adf" stroke-width="1.3" />
<text x="459" y="47.1" font-size="5.8" text-anchor="start" fill="#231f20" >Acetone</text>
<line x1="442.5" y1="52.9" x2="456.2" y2="52.9" stroke="#1a9a3a" stroke-width="1.3" />
<text x="459" y="55" font-size="5.8" text-anchor="start" fill="#231f20" >Methane</text>
<line x1="442.5" y1="60.8" x2="456.2" y2="60.8" stroke="#f0961e" stroke-width="1.3" />
<text x="459" y="62.9" font-size="5.8" text-anchor="start" fill="#231f20" >Ammonia</text>
<line x1="442.5" y1="68.7" x2="456.2" y2="68.7" stroke="#9b30d0" stroke-width="1.3" />
<text x="459" y="70.8" font-size="5.8" text-anchor="start" fill="#231f20" >H<tspan font-size="70%" baseline-shift="-22%">2</tspan>S</text>
<rect x="539.8" y="8.6" width="136.8" height="124.6" fill="none" stroke="#444" stroke-width="1"/>
<line x1="676.6" y1="133.2" x2="676.6" y2="130.7" stroke="#444" stroke-width="1" />
<text x="676.6" y="145.8" font-size="10" text-anchor="middle" fill="#231f20" >0</text>
<line x1="653.83" y1="133.2" x2="653.83" y2="130.7" stroke="#444" stroke-width="1" />
<text x="653.83" y="145.8" font-size="10" text-anchor="middle" fill="#231f20" >20</text>
<line x1="631.06" y1="133.2" x2="631.06" y2="130.7" stroke="#444" stroke-width="1" />
<text x="631.06" y="145.8" font-size="10" text-anchor="middle" fill="#231f20" >40</text>
<line x1="608.29" y1="133.2" x2="608.29" y2="130.7" stroke="#444" stroke-width="1" />
<text x="608.29" y="145.8" font-size="10" text-anchor="middle" fill="#231f20" >60</text>
<line x1="585.52" y1="133.2" x2="585.52" y2="130.7" stroke="#444" stroke-width="1" />
<text x="585.52" y="145.8" font-size="10" text-anchor="middle" fill="#231f20" >80</text>
<line x1="562.75" y1="133.2" x2="562.75" y2="130.7" stroke="#444" stroke-width="1" />
<text x="562.75" y="145.8" font-size="10" text-anchor="middle" fill="#231f20" >100</text>
<line x1="539.98" y1="133.2" x2="539.98" y2="130.7" stroke="#444" stroke-width="1" />
<text x="539.98" y="145.8" font-size="10" text-anchor="middle" fill="#231f20" >120</text>
<line x1="665.22" y1="133.2" x2="665.22" y2="131.7" stroke="#444" stroke-width="1" />
<line x1="642.45" y1="133.2" x2="642.45" y2="131.7" stroke="#444" stroke-width="1" />
<line x1="619.68" y1="133.2" x2="619.68" y2="131.7" stroke="#444" stroke-width="1" />
<line x1="596.9" y1="133.2" x2="596.9" y2="131.7" stroke="#444" stroke-width="1" />
<line x1="574.13" y1="133.2" x2="574.13" y2="131.7" stroke="#444" stroke-width="1" />
<line x1="551.37" y1="133.2" x2="551.37" y2="131.7" stroke="#444" stroke-width="1" />
<line x1="539.8" y1="121" x2="542.3" y2="121" stroke="#444" stroke-width="1" />
<text x="534.8" y="124.5" font-size="10" text-anchor="end" fill="#231f20" >0.05</text>
<line x1="539.8" y1="91.44" x2="542.3" y2="91.44" stroke="#444" stroke-width="1" />
<text x="534.8" y="94.94" font-size="10" text-anchor="end" fill="#231f20" >0.10</text>
<line x1="539.8" y1="61.87" x2="542.3" y2="61.87" stroke="#444" stroke-width="1" />
<text x="534.8" y="65.37" font-size="10" text-anchor="end" fill="#231f20" >0.15</text>
<line x1="539.8" y1="32.3" x2="542.3" y2="32.3" stroke="#444" stroke-width="1" />
<text x="534.8" y="35.8" font-size="10" text-anchor="end" fill="#231f20" >0.20</text>
<line x1="539.8" y1="106.22" x2="541.3" y2="106.22" stroke="#444" stroke-width="1" />
<line x1="539.8" y1="76.65" x2="541.3" y2="76.65" stroke="#444" stroke-width="1" />
<line x1="539.8" y1="47.09" x2="541.3" y2="47.09" stroke="#444" stroke-width="1" />
<line x1="539.8" y1="17.52" x2="541.3" y2="17.52" stroke="#444" stroke-width="1" />
<line x1="562.6" y1="19" x2="675.5" y2="125" stroke="#e8352e" stroke-width="1.1" />
<rect x="560.9" y="17.3" width="3.4" height="3.4" fill="#111"/>
<rect x="617.5" y="69.8" width="3.4" height="3.4" fill="#111"/>
<rect x="646.3" y="97.8" width="3.4" height="3.4" fill="#111"/>
<rect x="663.5" y="110.8" width="3.4" height="3.4" fill="#111"/>
<rect x="669.2" y="115.4" width="3.4" height="3.4" fill="#111"/>
<rect x="673" y="122.3" width="3.4" height="3.4" fill="#111"/>
<text x="650" y="25.8" font-size="10.1" text-anchor="middle" fill="#231f20" >Hydrogen</text>
<text x="607.75" y="161" font-size="10.25" text-anchor="middle" fill="#231f20" >Gas concentration (ppm)</text>
<text transform="translate(506.5,71) rotate(-90)" font-size="10.2" text-anchor="middle" fill="#231f20">Gas response</text>
<text x="497.6" y="15.6" font-size="14" text-anchor="start" fill="#231f20" font-weight="bold" >c</text>
<rect x="328.7" y="175.2" width="158.8" height="127.8" fill="none" stroke="#333" stroke-width="1"/>
<line x1="332.3" y1="303" x2="332.3" y2="300.8" stroke="#333" stroke-width="1" />
<text x="332.3" y="314.1" font-size="8.5" text-anchor="middle" fill="#231f20" >0</text>
<line x1="349.57" y1="303" x2="349.57" y2="300.8" stroke="#333" stroke-width="1" />
<text x="349.57" y="314.1" font-size="8.5" text-anchor="middle" fill="#231f20" >50</text>
<line x1="366.85" y1="303" x2="366.85" y2="300.8" stroke="#333" stroke-width="1" />
<text x="366.85" y="314.1" font-size="8.5" text-anchor="middle" fill="#231f20" >100</text>
<line x1="384.12" y1="303" x2="384.12" y2="300.8" stroke="#333" stroke-width="1" />
<text x="384.12" y="314.1" font-size="8.5" text-anchor="middle" fill="#231f20" >150</text>
<line x1="401.4" y1="303" x2="401.4" y2="300.8" stroke="#333" stroke-width="1" />
<text x="401.4" y="314.1" font-size="8.5" text-anchor="middle" fill="#231f20" >200</text>
<line x1="418.68" y1="303" x2="418.68" y2="300.8" stroke="#333" stroke-width="1" />
<text x="418.68" y="314.1" font-size="8.5" text-anchor="middle" fill="#231f20" >250</text>
<line x1="435.95" y1="303" x2="435.95" y2="300.8" stroke="#333" stroke-width="1" />
<text x="435.95" y="314.1" font-size="8.5" text-anchor="middle" fill="#231f20" >300</text>
<line x1="453.23" y1="303" x2="453.23" y2="300.8" stroke="#333" stroke-width="1" />
<text x="453.23" y="314.1" font-size="8.5" text-anchor="middle" fill="#231f20" >350</text>
<line x1="470.5" y1="303" x2="470.5" y2="300.8" stroke="#333" stroke-width="1" />
<text x="470.5" y="314.1" font-size="8.5" text-anchor="middle" fill="#231f20" >400</text>
<line x1="487.77" y1="303" x2="487.77" y2="300.8" stroke="#333" stroke-width="1" />
<text x="487.77" y="314.1" font-size="8.5" text-anchor="middle" fill="#231f20" >450</text>
<line x1="340.94" y1="303" x2="340.94" y2="301.7" stroke="#333" stroke-width="1" />
<line x1="358.21" y1="303" x2="358.21" y2="301.7" stroke="#333" stroke-width="1" />
<line x1="375.49" y1="303" x2="375.49" y2="301.7" stroke="#333" stroke-width="1" />
<line x1="392.76" y1="303" x2="392.76" y2="301.7" stroke="#333" stroke-width="1" />
<line x1="410.04" y1="303" x2="410.04" y2="301.7" stroke="#333" stroke-width="1" />
<line x1="427.31" y1="303" x2="427.31" y2="301.7" stroke="#333" stroke-width="1" />
<line x1="444.59" y1="303" x2="444.59" y2="301.7" stroke="#333" stroke-width="1" />
<line x1="461.86" y1="303" x2="461.86" y2="301.7" stroke="#333" stroke-width="1" />
<line x1="479.14" y1="303" x2="479.14" y2="301.7" stroke="#333" stroke-width="1" />
<line x1="328.7" y1="298.3" x2="330.9" y2="298.3" stroke="#333" stroke-width="1" />
<text x="326.3" y="301.5" font-size="8.5" text-anchor="end" fill="#231f20" >0</text>
<line x1="328.7" y1="276.2" x2="330.9" y2="276.2" stroke="#333" stroke-width="1" />
<text x="326.3" y="279.4" font-size="8.5" text-anchor="end" fill="#231f20" >5</text>
<line x1="328.7" y1="254.1" x2="330.9" y2="254.1" stroke="#333" stroke-width="1" />
<text x="326.3" y="257.3" font-size="8.5" text-anchor="end" fill="#231f20" >10</text>
<line x1="328.7" y1="232" x2="330.9" y2="232" stroke="#333" stroke-width="1" />
<text x="326.3" y="235.2" font-size="8.5" text-anchor="end" fill="#231f20" >15</text>
<line x1="328.7" y1="209.9" x2="330.9" y2="209.9" stroke="#333" stroke-width="1" />
<text x="326.3" y="213.1" font-size="8.5" text-anchor="end" fill="#231f20" >20</text>
<line x1="328.7" y1="187.8" x2="330.9" y2="187.8" stroke="#333" stroke-width="1" />
<text x="326.3" y="191" font-size="8.5" text-anchor="end" fill="#231f20" >25</text>
<line x1="328.7" y1="287.25" x2="330" y2="287.25" stroke="#333" stroke-width="1" />
<line x1="328.7" y1="265.15" x2="330" y2="265.15" stroke="#333" stroke-width="1" />
<line x1="328.7" y1="243.05" x2="330" y2="243.05" stroke="#333" stroke-width="1" />
<line x1="328.7" y1="220.95" x2="330" y2="220.95" stroke="#333" stroke-width="1" />
<line x1="328.7" y1="198.85" x2="330" y2="198.85" stroke="#333" stroke-width="1" />
<line x1="367.6" y1="178" x2="367.6" y2="302" stroke="#c4442a" stroke-width="0.9" stroke-dasharray="2.5 1.8" opacity="0.85"/>
<line x1="369.6" y1="178" x2="369.6" y2="302" stroke="#c4442a" stroke-width="0.9" stroke-dasharray="2.5 1.8" opacity="0.85"/>
<line x1="371.9" y1="196" x2="371.9" y2="302" stroke="#2a35b0" stroke-width="0.9" stroke-dasharray="2.5 1.8" opacity="0.85"/>
<line x1="376.6" y1="243" x2="376.6" y2="302" stroke="#262626" stroke-width="0.9" stroke-dasharray="2.5 1.8" opacity="0.85"/>
<line x1="378.3" y1="224" x2="378.3" y2="302" stroke="#d8bc1e" stroke-width="0.9" stroke-dasharray="2.5 1.8" opacity="0.85"/>
<line x1="418.9" y1="178" x2="418.9" y2="302" stroke="#c4442a" stroke-width="0.9" stroke-dasharray="2.5 1.8" opacity="0.85"/>
<line x1="417.8" y1="196" x2="417.8" y2="302" stroke="#2a35b0" stroke-width="0.9" stroke-dasharray="2.5 1.8" opacity="0.85"/>
<line x1="426.5" y1="262" x2="426.5" y2="302" stroke="#262626" stroke-width="0.9" stroke-dasharray="2.5 1.8" opacity="0.85"/>
<line x1="428" y1="234" x2="428" y2="302" stroke="#d8bc1e" stroke-width="0.9" stroke-dasharray="2.5 1.8" opacity="0.85"/>
<line x1="414.8" y1="180" x2="414.8" y2="302" stroke="#bbb" stroke-width="0.9" stroke-dasharray="2.5 1.8" opacity="0.85"/>
<polyline points="332.3,293.88 334.03,293.88 335.75,293.88 337.48,293.88 339.21,293.88 340.94,293.88 342.67,293.88 344.39,293.88 346.12,293.88 347.85,293.88 349.57,293.88 351.3,293.88 353.03,293.88 354.76,293.88 356.49,293.88 358.21,293.88 359.94,293.88 361.67,293.88 363.39,293.88 365.12,293.88 366.85,293.88 368.58,293.88 368.75,278.41 369.1,262.44 369.44,261.5 369.79,260.63 370.13,259.81 370.48,259.05 370.82,258.34 371.17,257.69 371.51,257.07 371.86,256.5 372.21,255.97 372.55,255.48 372.9,255.02 373.24,254.59 373.59,254.19 373.93,253.82 374.28,253.47 374.62,253.15 374.97,252.85 375.31,252.57 375.66,252.31 376.01,252.07 376.35,251.84 376.7,251.63 377.04,251.44 377.39,251.25 377.73,251.08 378.08,250.93 378.42,250.78 378.77,250.64 379.12,250.52 379.46,250.4 379.81,250.29 380.15,250.18 380.5,250.09 380.84,250 381.19,249.92 381.53,249.84 381.88,249.77 382.22,249.7 382.57,249.64 382.92,249.58 383.26,249.53 383.61,249.48 383.95,249.43 384.3,249.39 384.64,249.34 384.99,249.31 385.33,249.27 385.68,249.24 386.03,249.21 386.37,249.18 386.72,249.15 387.06,249.13 387.41,249.11 387.75,249.08 388.1,249.06 388.44,249.05 388.79,249.03 389.13,249.01 389.48,249 389.83,248.98 390.17,248.97 390.52,248.96 390.86,248.95 391.21,248.94 391.55,248.93 391.9,248.92 392.24,248.91 392.59,248.9 392.94,248.89 393.28,248.89 393.63,248.88 393.97,248.88 394.32,248.87 394.66,248.87 395.01,248.86 395.35,248.86 395.7,248.85 396.04,248.85 396.39,248.84 396.74,248.84 397.08,248.84 397.43,248.84 397.77,248.83 398.12,248.83 398.46,248.83 398.81,248.83 399.15,248.82 399.5,248.82 399.85,248.82 400.19,248.82 400.54,248.82 400.88,248.82 401.23,248.81 401.57,248.81 401.92,248.81 402.26,248.81 402.61,248.81 402.95,248.81 403.3,248.81 403.65,248.81 403.99,248.81 404.34,248.81 404.68,248.8 405.03,248.8 405.37,248.8 405.72,248.8 406.06,248.8 406.41,248.8 406.76,248.8 407.1,248.8 407.45,248.8 407.79,248.8 408.14,248.8 408.48,248.8 408.83,248.8 409.17,248.8 409.52,248.8 409.86,248.8 410.21,248.8 410.56,248.8 410.9,248.8 411.25,248.8 411.59,248.8 411.94,248.8 412.28,248.8 412.63,248.8 412.97,248.8 413.32,248.8 413.67,248.8 414.01,248.8 414.36,248.8 414.7,248.8 415.05,248.8 415.39,248.8 415.91,277.88 416.6,280.54 417.29,282.79 417.98,284.7 418.68,286.31 419.37,287.68 420.06,288.83 420.75,289.81 421.44,290.64 422.13,291.34 422.82,291.93 423.51,292.44 424.2,292.86 424.89,293.22 425.59,293.53 426.28,293.78 426.97,294 427.66,294.19 428.35,294.34 429.04,294.48 429.73,294.59 430.42,294.68 431.11,294.76 431.8,294.83 432.5,294.89 433.19,294.94 433.88,294.98 434.57,295.01 435.26,295.04 435.95,295.07 436.64,295.09 437.33,295.11 438.02,295.12 438.71,295.14 439.4,295.15 440.1,295.16 440.79,295.16 441.48,295.17 442.17,295.18 442.86,295.18 443.55,295.18 444.24,295.19 444.93,295.19 445.62,295.19 446.31,295.19 447.01,295.2 447.7,295.2 448.39,295.2 449.08,295.2 449.77,295.2 450.46,295.2 451.15,295.2 451.84,295.2 452.53,295.2 453.23,295.2 453.92,295.2 454.61,295.2 455.3,295.2 455.99,295.2 456.68,295.21 457.37,295.21 458.06,295.21 458.75,295.21 459.44,295.21 460.13,295.21 460.83,295.21 461.52,295.21 462.21,295.21 462.9,295.21 463.59,295.21 464.28,295.21 464.97,295.21 465.66,295.21 466.35,295.21 467.04,295.21" fill="none" stroke="#262626" stroke-width="2.0" stroke-linejoin="round" stroke-linecap="round" />
<polyline points="332.3,293.88 334.03,293.88 335.75,293.88 337.48,293.88 339.21,293.88 340.94,293.88 342.67,293.88 344.39,293.88 346.12,293.88 347.85,293.88 349.57,293.88 351.3,293.88 353.03,293.88 354.76,293.88 356.49,293.88 358.21,293.88 359.94,293.88 361.67,293.88 363.39,293.88 365.12,293.88 366.85,293.88 368.58,293.88 368.75,269.57 369.1,244.84 369.44,244.02 369.79,243.25 370.13,242.53 370.48,241.84 370.82,241.19 371.17,240.57 371.51,239.99 371.86,239.44 372.21,238.92 372.55,238.42 372.9,237.96 373.24,237.51 373.59,237.1 373.93,236.7 374.28,236.33 374.62,235.98 374.97,235.64 375.31,235.33 375.66,235.03 376.01,234.74 376.35,234.48 376.7,234.22 377.04,233.98 377.39,233.76 377.73,233.54 378.08,233.34 378.42,233.15 378.77,232.97 379.12,232.79 379.46,232.63 379.81,232.48 380.15,232.33 380.5,232.2 380.84,232.07 381.19,231.94 381.53,231.83 381.88,231.72 382.22,231.61 382.57,231.51 382.92,231.42 383.26,231.33 383.61,231.25 383.95,231.17 384.3,231.1 384.64,231.03 384.99,230.96 385.33,230.9 385.68,230.84 386.03,230.78 386.37,230.73 386.72,230.67 387.06,230.63 387.41,230.58 387.75,230.54 388.1,230.5 388.44,230.46 388.79,230.42 389.13,230.39 389.48,230.36 389.83,230.33 390.17,230.3 390.52,230.27 390.86,230.24 391.21,230.22 391.55,230.2 391.9,230.17 392.24,230.15 392.59,230.13 392.94,230.12 393.28,230.1 393.63,230.08 393.97,230.07 394.32,230.05 394.66,230.04 395.01,230.02 395.35,230.01 395.7,230 396.04,229.99 396.39,229.98 396.74,229.97 397.08,229.96 397.43,229.95 397.77,229.94 398.12,229.93 398.46,229.92 398.81,229.92 399.15,229.91 399.5,229.9 399.85,229.9 400.19,229.89 400.54,229.89 400.88,229.88 401.23,229.88 401.57,229.87 401.92,229.87 402.26,229.86 402.61,229.86 402.95,229.86 403.3,229.85 403.65,229.85 403.99,229.85 404.34,229.84 404.68,229.84 405.03,229.84 405.37,229.83 405.72,229.83 406.06,229.83 406.41,229.83 406.76,229.83 407.1,229.82 407.45,229.82 407.79,229.82 408.14,229.82 408.48,229.82 408.83,229.82 409.17,229.81 409.52,229.81 409.86,229.81 410.21,229.81 410.56,229.81 410.9,229.81 411.25,229.81 411.59,229.81 411.94,229.81 412.28,229.8 412.63,229.8 412.97,229.8 413.32,229.8 413.67,229.8 414.01,229.8 414.36,229.8 414.7,229.8 415.05,229.8 415.39,229.8 415.91,270.34 416.6,272.87 417.29,275.12 417.98,277.14 418.68,278.95 419.37,280.56 420.06,282.01 420.75,283.31 421.44,284.46 422.13,285.5 422.82,286.43 423.51,287.26 424.2,288 424.89,288.67 425.59,289.26 426.28,289.79 426.97,290.27 427.66,290.7 428.35,291.08 429.04,291.42 429.73,291.72 430.42,292 431.11,292.24 431.8,292.46 432.5,292.66 433.19,292.83 433.88,292.99 434.57,293.13 435.26,293.25 435.95,293.37 436.64,293.47 437.33,293.56 438.02,293.64 438.71,293.71 439.4,293.77 440.1,293.83 440.79,293.88 441.48,293.93 442.17,293.97 442.86,294.01 443.55,294.04 444.24,294.07 444.93,294.1 445.62,294.12 446.31,294.14 447.01,294.16 447.7,294.18 448.39,294.19 449.08,294.21 449.77,294.22 450.46,294.23 451.15,294.24 451.84,294.25 452.53,294.26 453.23,294.26 453.92,294.27 454.61,294.27 455.3,294.28 455.99,294.28 456.68,294.29 457.37,294.29 458.06,294.29 458.75,294.3 459.44,294.3 460.13,294.3 460.83,294.3 461.52,294.31 462.21,294.31 462.9,294.31 463.59,294.31 464.28,294.31 464.97,294.31 465.66,294.31 466.35,294.31 467.04,294.32" fill="none" stroke="#d8bc1e" stroke-width="2.0" stroke-linejoin="round" stroke-linecap="round" />
<polyline points="332.3,293.88 334.03,293.88 335.75,293.88 337.48,293.88 339.21,293.88 340.94,293.88 342.67,293.88 344.39,293.88 346.12,293.88 347.85,293.88 349.57,293.88 351.3,293.88 353.03,293.88 354.76,293.88 356.49,293.88 358.21,293.88 359.94,293.88 361.67,293.88 363.39,293.88 365.12,293.88 366.85,293.88 368.58,293.88 368.75,293.88 368.92,250.79 369.27,206.54 369.61,204.73 369.96,203.44 370.31,202.52 370.65,201.85 371,201.38 371.34,201.04 371.69,200.79 372.03,200.62 372.38,200.49 372.72,200.4 373.07,200.34 373.41,200.29 373.76,200.26 374.11,200.24 374.45,200.22 374.8,200.21 375.14,200.2 375.49,200.19 375.83,200.19 376.18,200.18 376.52,200.18 376.87,200.18 377.22,200.18 377.56,200.18 377.91,200.18 378.25,200.18 378.6,200.18 378.94,200.18 379.29,200.18 379.63,200.18 379.98,200.18 380.32,200.18 380.67,200.18 381.02,200.18 381.36,200.18 381.71,200.18 382.05,200.18 382.4,200.18 382.74,200.18 383.09,200.18 383.43,200.18 383.78,200.18 384.12,200.18 384.47,200.18 384.82,200.18 385.16,200.18 385.51,200.18 385.85,200.18 386.2,200.18 386.54,200.18 386.89,200.18 387.23,200.18 387.58,200.18 387.93,200.18 388.27,200.18 388.62,200.18 388.96,200.18 389.31,200.18 389.65,200.18 390,200.18 390.34,200.18 390.69,200.18 391.04,200.18 391.38,200.18 391.73,200.18 392.07,200.18 392.42,200.18 392.76,200.18 393.11,200.18 393.45,200.18 393.8,200.18 394.14,200.18 394.49,200.18 394.84,200.18 395.18,200.18 395.53,200.18 395.87,200.18 396.22,200.18 396.56,200.18 396.91,200.18 397.25,200.18 397.6,200.18 397.94,200.18 398.29,200.18 398.64,200.18 398.98,200.18 399.33,200.18 399.67,200.18 400.02,200.18 400.36,200.18 400.71,200.18 401.05,200.18 401.4,200.18 401.75,200.18 402.09,200.18 402.44,200.18 402.78,200.18 403.13,200.18 403.47,200.18 403.82,200.18 404.16,200.18 404.51,200.18 404.86,200.18 405.2,200.18 405.55,200.18 405.89,200.18 406.24,200.18 406.58,200.18 406.93,200.18 407.27,200.18 407.62,200.18 407.96,200.18 408.31,200.18 408.66,200.18 409,200.18 409.35,200.18 409.69,200.18 410.04,200.18 410.38,200.18 410.73,200.18 411.07,200.18 411.42,200.18 411.76,200.18 412.11,200.18 412.46,200.18 412.8,200.18 413.15,200.18 413.49,200.18 413.84,200.18 414.18,200.18 414.53,200.18 414.87,200.18 415.22,200.18 415.57,200.18 416.08,296.09 416.77,296.09 417.47,296.09 418.16,296.09 418.85,296.09 419.54,296.09 420.23,296.09 420.92,296.09 421.61,296.09 422.3,296.09 422.99,296.09 423.68,296.09 424.38,296.09 425.07,296.09 425.76,296.09 426.45,296.09 427.14,296.09 427.83,296.09 428.52,296.09 429.21,296.09 429.9,296.09 430.59,296.09 431.29,296.09 431.98,296.09 432.67,296.09 433.36,296.09 434.05,296.09 434.74,296.09 435.43,296.09 436.12,296.09 436.81,296.09 437.5,296.09 438.2,296.09 438.89,296.09 439.58,296.09 440.27,296.09 440.96,296.09 441.65,296.09 442.34,296.09 443.03,296.09 443.72,296.09 444.41,296.09 445.11,296.09 445.8,296.09 446.49,296.09 447.18,296.09 447.87,296.09 448.56,296.09 449.25,296.09 449.94,296.09 450.63,296.09 451.32,296.09 452.02,296.09 452.71,296.09 453.4,296.09 454.09,296.09 454.78,296.09 455.47,296.09 456.16,296.09 456.85,296.09 457.54,296.09 458.23,296.09 458.93,296.09 459.62,296.09 460.31,296.09 461,296.09 461.69,296.09 462.38,296.09 463.07,296.09 463.76,296.09 464.45,296.09 465.14,296.09 465.84,296.09 466.53,296.09" fill="none" stroke="#2a35b0" stroke-width="2.0" stroke-linejoin="round" stroke-linecap="round" />
<polyline points="332.3,293.88 334.03,293.88 335.75,293.88 337.48,293.88 339.21,293.88 340.94,293.88 342.67,293.88 344.39,293.88 346.12,293.88 347.85,293.88 349.57,293.88 351.3,293.88 353.03,293.88 354.76,293.88 356.49,293.88 358.21,293.88 359.94,293.88 361.67,293.88 363.39,293.88 365.12,293.88 366.85,293.88 367.89,293.88 368.06,243.05 368.4,191.18 368.75,190.16 369.1,189.79 369.44,189.65 369.79,189.6 370.13,189.58 370.48,189.57 370.82,189.57 371.17,189.57 371.51,189.57 371.86,189.57 372.21,189.57 372.55,189.57 372.9,189.57 373.24,189.57 373.59,189.57 373.93,189.57 374.28,189.57 374.62,189.57 374.97,189.57 375.31,189.57 375.66,189.57 376.01,189.57 376.35,189.57 376.7,189.57 377.04,189.57 377.39,189.57 377.73,189.57 378.08,189.57 378.42,189.57 378.77,189.57 379.12,189.57 379.46,189.57 379.81,189.57 380.15,189.57 380.5,189.57 380.84,189.57 381.19,189.57 381.53,189.57 381.88,189.57 382.22,189.57 382.57,189.57 382.92,189.57 383.26,189.57 383.61,189.57 383.95,189.57 384.3,189.57 384.64,189.57 384.99,189.57 385.33,189.57 385.68,189.57 386.03,189.57 386.37,189.57 386.72,189.57 387.06,189.57 387.41,189.57 387.75,189.57 388.1,189.57 388.44,189.57 388.79,189.57 389.13,189.57 389.48,189.57 389.83,189.57 390.17,189.57 390.52,189.57 390.86,189.57 391.21,189.57 391.55,189.57 391.9,189.57 392.24,189.57 392.59,189.57 392.94,189.57 393.28,189.57 393.63,189.57 393.97,189.57 394.32,189.57 394.66,189.57 395.01,189.57 395.35,189.57 395.7,189.57 396.04,189.57 396.39,189.57 396.74,189.57 397.08,189.57 397.43,189.57 397.77,189.57 398.12,189.57 398.46,189.57 398.81,189.57 399.15,189.57 399.5,189.57 399.85,189.57 400.19,189.57 400.54,189.57 400.88,189.57 401.23,189.57 401.57,189.57 401.92,189.57 402.26,189.57 402.61,189.57 402.95,189.57 403.3,189.57 403.65,189.57 403.99,189.57 404.34,189.57 404.68,189.57 405.03,189.57 405.37,189.57 405.72,189.57 406.06,189.57 406.41,189.57 406.76,189.57 407.1,189.57 407.45,189.57 407.79,189.57 408.14,189.57 408.48,189.57 408.83,189.57 409.17,189.57 409.52,189.57 409.86,189.57 410.21,189.57 410.56,189.57 410.9,189.57 411.25,189.57 411.59,189.57 411.94,189.57 412.28,189.57 412.63,189.57 412.97,189.57 413.32,189.57 413.67,189.57 414.01,189.57 414.36,189.57 414.7,189.57 415.05,189.57 415.39,189.57 415.74,189.57 416.26,294.32 416.95,294.32 417.64,294.32 418.33,294.32 419.02,294.32 419.71,294.32 420.4,294.32 421.09,294.32 421.78,294.32 422.48,294.32 423.17,294.32 423.86,294.32 424.55,294.32 425.24,294.32 425.93,294.32 426.62,294.32 427.31,294.32 428,294.32 428.69,294.32 429.39,294.32 430.08,294.32 430.77,294.32 431.46,294.32 432.15,294.32 432.84,294.32 433.53,294.32 434.22,294.32 434.91,294.32 435.6,294.32 436.3,294.32 436.99,294.32 437.68,294.32 438.37,294.32 439.06,294.32 439.75,294.32 440.44,294.32 441.13,294.32 441.82,294.32 442.51,294.32 443.21,294.32 443.9,294.32 444.59,294.32 445.28,294.32 445.97,294.32 446.66,294.32 447.35,294.32 448.04,294.32 448.73,294.32 449.42,294.32 450.12,294.32 450.81,294.32 451.5,294.32 452.19,294.32 452.88,294.32 453.57,294.32 454.26,294.32 454.95,294.32 455.64,294.32 456.33,294.32 457.03,294.32 457.72,294.32 458.41,294.32 459.1,294.32 459.79,294.32 460.48,294.32 461.17,294.32 461.86,294.32 462.55,294.32 463.24,294.32 463.94,294.32 464.63,294.32 465.32,294.32 466.01,294.32 466.7,294.32" fill="none" stroke="#c4442a" stroke-width="1.8" stroke-linejoin="round" stroke-linecap="round" />
<text x="339.6" y="182.4" font-size="8.4" font-weight="bold" fill="#c4442a">t<tspan font-size="5.04" baseline-shift="-35%">res</tspan> = 6s</text>
<text x="386.2" y="182.4" font-size="8.4" font-weight="bold" fill="#c4442a">t<tspan font-size="5.04" baseline-shift="-35%">rec</tspan> = 8s</text>
<text x="332.8" y="211.6" font-size="8.4" font-weight="bold" fill="#2a35b0">t<tspan font-size="5.04" baseline-shift="-35%">res</tspan> = 12s</text>
<text x="383.2" y="217" font-size="8.4" font-weight="bold" fill="#2a35b0">t<tspan font-size="5.04" baseline-shift="-35%">rec</tspan> = 15s</text>
<text x="333.6" y="242.4" font-size="8.4" font-weight="bold" fill="#d8bc1e">t<tspan font-size="5.04" baseline-shift="-35%">res</tspan> = 35s</text>
<text x="431.4" y="240.7" font-size="8.4" font-weight="bold" fill="#d8bc1e">t<tspan font-size="5.04" baseline-shift="-35%">rec</tspan> = 43s</text>
<text x="333.4" y="273.2" font-size="8.4" font-weight="bold" fill="#262626">t<tspan font-size="5.04" baseline-shift="-35%">res</tspan> = 32s</text>
<text x="431.4" y="271.1" font-size="8.4" font-weight="bold" fill="#262626">t<tspan font-size="5.04" baseline-shift="-35%">rec</tspan> = 39s</text>
<line x1="357" y1="185.5" x2="366.5" y2="185.5" stroke="#c4442a" stroke-width="0.7" />
<path d="M366.5,185.5 l-2.4,-1.2 v2.4 z" fill="#c4442a"/>
<line x1="380" y1="185.5" x2="370.5" y2="185.5" stroke="#c4442a" stroke-width="0.7" />
<path d="M370.5,185.5 l2.4,-1.2 v2.4 z" fill="#c4442a"/>
<line x1="432" y1="185.5" x2="420" y2="185.5" stroke="#c4442a" stroke-width="0.7" />
<path d="M420,185.5 l2.4,-1.2 v2.4 z" fill="#c4442a"/>
<line x1="352" y1="214.8" x2="366.5" y2="214.8" stroke="#2a35b0" stroke-width="0.7" />
<path d="M366.5,214.8 l-2.4,-1.2 v2.4 z" fill="#2a35b0"/>
<line x1="380" y1="214.8" x2="372.5" y2="214.8" stroke="#2a35b0" stroke-width="0.7" />
<path d="M372.5,214.8 l2.4,-1.2 v2.4 z" fill="#2a35b0"/>
<line x1="407" y1="221" x2="416.5" y2="221" stroke="#2a35b0" stroke-width="0.7" />
<path d="M416.5,221 l-2.4,-1.2 v2.4 z" fill="#2a35b0"/>
<line x1="430" y1="221" x2="419.5" y2="221" stroke="#2a35b0" stroke-width="0.7" />
<path d="M419.5,221 l2.4,-1.2 v2.4 z" fill="#2a35b0"/>
<line x1="366" y1="245.5" x2="377.3" y2="245.5" stroke="#d8bc1e" stroke-width="0.7" />
<path d="M377.3,245.5 l-2.4,-1.2 v2.4 z" fill="#d8bc1e"/>
<line x1="392" y1="245.5" x2="379.3" y2="245.5" stroke="#d8bc1e" stroke-width="0.7" />
<path d="M379.3,245.5 l2.4,-1.2 v2.4 z" fill="#d8bc1e"/>
<line x1="420" y1="245.5" x2="427" y2="245.5" stroke="#d8bc1e" stroke-width="0.7" />
<path d="M427,245.5 l-2.4,-1.2 v2.4 z" fill="#d8bc1e"/>
<line x1="440" y1="245.5" x2="429" y2="245.5" stroke="#d8bc1e" stroke-width="0.7" />
<path d="M429,245.5 l2.4,-1.2 v2.4 z" fill="#d8bc1e"/>
<line x1="363" y1="275.5" x2="375.5" y2="275.5" stroke="#262626" stroke-width="0.7" />
<path d="M375.5,275.5 l-2.4,-1.2 v2.4 z" fill="#262626"/>
<line x1="388" y1="275.5" x2="377.5" y2="275.5" stroke="#262626" stroke-width="0.7" />
<path d="M377.5,275.5 l2.4,-1.2 v2.4 z" fill="#262626"/>
<line x1="405" y1="275.5" x2="416.5" y2="275.5" stroke="#262626" stroke-width="0.7" />
<path d="M416.5,275.5 l-2.4,-1.2 v2.4 z" fill="#262626"/>
<line x1="438" y1="275.5" x2="427.5" y2="275.5" stroke="#262626" stroke-width="0.7" />
<path d="M427.5,275.5 l2.4,-1.2 v2.4 z" fill="#262626"/>
<line x1="424.9" y1="180.8" x2="440.9" y2="180.8" stroke="#d8bc1e" stroke-width="0.8" />
<circle cx="432.9" cy="180.8" r="0.9" fill="#d8bc1e"/>
<text x="442.6" y="183.3" font-size="7" fill="#231f20">Pd/Ti<tspan font-size="4.5" baseline-shift="-30%">3</tspan>C<tspan font-size="4.5" baseline-shift="-30%">2</tspan>T<tspan font-size="4.5" baseline-shift="-30%">x</tspan></text>
<line x1="424.9" y1="190.9" x2="440.9" y2="190.9" stroke="#262626" stroke-width="0.8" />
<circle cx="432.9" cy="190.9" r="0.9" fill="#262626"/>
<text x="442.6" y="193.4" font-size="7" fill="#231f20">Pd/Ti<tspan font-size="4.5" baseline-shift="-30%">3</tspan>C<tspan font-size="4.5" baseline-shift="-30%">2</tspan>T<tspan font-size="4.5" baseline-shift="-30%">x</tspan></text>
<line x1="424.9" y1="201.7" x2="440.9" y2="201.7" stroke="#2a35b0" stroke-width="0.8" />
<circle cx="432.9" cy="201.7" r="0.9" fill="#2a35b0"/>
<text x="442.6" y="204.2" font-size="7" fill="#231f20">Pt-Pd/Ti<tspan font-size="4.5" baseline-shift="-30%">3</tspan>C<tspan font-size="4.5" baseline-shift="-30%">2</tspan>T<tspan font-size="4.5" baseline-shift="-30%">x</tspan></text>
<line x1="424.9" y1="211.7" x2="440.9" y2="211.7" stroke="#d88070" stroke-width="0.8" />
<circle cx="432.9" cy="211.7" r="0.9" fill="#d88070"/>
<text x="442.6" y="214.2" font-size="7" fill="#231f20">Pt=Pd/Ti<tspan font-size="4.5" baseline-shift="-30%">3</tspan>C<tspan font-size="4.5" baseline-shift="-30%">2</tspan>T<tspan font-size="4.5" baseline-shift="-30%">x</tspan></text>
<text x="304.4" y="184.6" font-size="14" text-anchor="start" fill="#231f20" font-weight="bold" >e</text>
<text x="406.7" y="324.3" font-size="8.7" text-anchor="middle" fill="#231f20" font-weight="bold" >Time (s)</text>
<text transform="translate(310.9,236.5) rotate(-90)" font-size="8.8" text-anchor="middle" fill="#231f20" font-weight="bold">Response (%)</text>
<rect x="521.6" y="174.5" width="160.2" height="128.7" fill="none" stroke="#333" stroke-width="1"/>
<line x1="537.6" y1="303.2" x2="537.6" y2="301" stroke="#333" stroke-width="1" />
<text x="537.6" y="314.8" font-size="8.5" text-anchor="middle" fill="#231f20" >200</text>
<line x1="569.5" y1="303.2" x2="569.5" y2="301" stroke="#333" stroke-width="1" />
<text x="569.5" y="314.8" font-size="8.5" text-anchor="middle" fill="#231f20" >400</text>
<line x1="601.4" y1="303.2" x2="601.4" y2="301" stroke="#333" stroke-width="1" />
<text x="601.4" y="314.8" font-size="8.5" text-anchor="middle" fill="#231f20" >600</text>
<line x1="633.3" y1="303.2" x2="633.3" y2="301" stroke="#333" stroke-width="1" />
<text x="633.3" y="314.8" font-size="8.5" text-anchor="middle" fill="#231f20" >800</text>
<line x1="665.2" y1="303.2" x2="665.2" y2="301" stroke="#333" stroke-width="1" />
<text x="665.2" y="314.8" font-size="8.5" text-anchor="middle" fill="#231f20" >1000</text>
<line x1="521.65" y1="303.2" x2="521.65" y2="301.9" stroke="#333" stroke-width="1" />
<line x1="553.55" y1="303.2" x2="553.55" y2="301.9" stroke="#333" stroke-width="1" />
<line x1="585.45" y1="303.2" x2="585.45" y2="301.9" stroke="#333" stroke-width="1" />
<line x1="617.35" y1="303.2" x2="617.35" y2="301.9" stroke="#333" stroke-width="1" />
<line x1="649.25" y1="303.2" x2="649.25" y2="301.9" stroke="#333" stroke-width="1" />
<line x1="681.15" y1="303.2" x2="681.15" y2="301.9" stroke="#333" stroke-width="1" />
<line x1="521.6" y1="296.2" x2="523.8" y2="296.2" stroke="#333" stroke-width="1" />
<text x="517.6" y="299.5" font-size="8.5" text-anchor="end" fill="#231f20" >0</text>
<line x1="521.6" y1="278.87" x2="523.8" y2="278.87" stroke="#333" stroke-width="1" />
<text x="517.6" y="282.17" font-size="8.5" text-anchor="end" fill="#231f20" >5</text>
<line x1="521.6" y1="261.54" x2="523.8" y2="261.54" stroke="#333" stroke-width="1" />
<text x="517.6" y="264.84" font-size="8.5" text-anchor="end" fill="#231f20" >10</text>
<line x1="521.6" y1="244.21" x2="523.8" y2="244.21" stroke="#333" stroke-width="1" />
<text x="517.6" y="247.51" font-size="8.5" text-anchor="end" fill="#231f20" >15</text>
<line x1="521.6" y1="226.88" x2="523.8" y2="226.88" stroke="#333" stroke-width="1" />
<text x="517.6" y="230.18" font-size="8.5" text-anchor="end" fill="#231f20" >20</text>
<line x1="521.6" y1="209.55" x2="523.8" y2="209.55" stroke="#333" stroke-width="1" />
<text x="517.6" y="212.85" font-size="8.5" text-anchor="end" fill="#231f20" >25</text>
<line x1="521.6" y1="192.22" x2="523.8" y2="192.22" stroke="#333" stroke-width="1" />
<text x="517.6" y="195.52" font-size="8.5" text-anchor="end" fill="#231f20" >30</text>
<line x1="521.6" y1="174.89" x2="523.8" y2="174.89" stroke="#333" stroke-width="1" />
<text x="517.6" y="178.19" font-size="8.5" text-anchor="end" fill="#231f20" >35</text>
<line x1="521.6" y1="287.53" x2="522.9" y2="287.53" stroke="#333" stroke-width="1" />
<line x1="521.6" y1="270.2" x2="522.9" y2="270.2" stroke="#333" stroke-width="1" />
<line x1="521.6" y1="252.88" x2="522.9" y2="252.88" stroke="#333" stroke-width="1" />
<line x1="521.6" y1="235.54" x2="522.9" y2="235.54" stroke="#333" stroke-width="1" />
<line x1="521.6" y1="218.21" x2="522.9" y2="218.21" stroke="#333" stroke-width="1" />
<line x1="521.6" y1="200.88" x2="522.9" y2="200.88" stroke="#333" stroke-width="1" />
<line x1="521.6" y1="183.55" x2="522.9" y2="183.55" stroke="#333" stroke-width="1" />
<polyline points="537.6,296.2 569.5,296.2 601.4,296.2 633.3,296.2 665.2,296.2" fill="none" stroke="#b9a3d0" stroke-width="0.8" stroke-linejoin="round" stroke-linecap="round" />
<rect x="534.2" y="292.8" width="6.8" height="6.8" fill="#6a4a8c"/>
<rect x="566.1" y="292.8" width="6.8" height="6.8" fill="#6a4a8c"/>
<rect x="598" y="292.8" width="6.8" height="6.8" fill="#6a4a8c"/>
<rect x="629.9" y="292.8" width="6.8" height="6.8" fill="#6a4a8c"/>
<rect x="661.8" y="292.8" width="6.8" height="6.8" fill="#6a4a8c"/>
<polyline points="537.6,256.34 569.5,251.14 601.4,246.29 633.3,242.13 665.2,238.32" fill="none" stroke="#555" stroke-width="0.8" stroke-linejoin="round" stroke-linecap="round" />
<path d="M537.6,252.34 L541.6,259.74 L533.6,259.74 Z" fill="#222"/>
<path d="M569.5,247.14 L573.5,254.54 L565.5,254.54 Z" fill="#222"/>
<path d="M601.4,242.29 L605.4,249.69 L597.4,249.69 Z" fill="#222"/>
<path d="M633.3,238.13 L637.3,245.53 L629.3,245.53 Z" fill="#222"/>
<path d="M665.2,234.32 L669.2,241.72 L661.2,241.72 Z" fill="#222"/>
<polyline points="537.6,244.9 569.5,238.66 601.4,234.85 633.3,229.65 665.2,225.84" fill="none" stroke="#e5cf50" stroke-width="0.8" stroke-linejoin="round" stroke-linecap="round" />
<circle cx="537.6" cy="244.9" r="3.7" fill="#d9b81a"/>
<circle cx="569.5" cy="238.66" r="3.7" fill="#d9b81a"/>
<circle cx="601.4" cy="234.85" r="3.7" fill="#d9b81a"/>
<circle cx="633.3" cy="229.65" r="3.7" fill="#d9b81a"/>
<circle cx="665.2" cy="225.84" r="3.7" fill="#d9b81a"/>
<polyline points="537.6,222.37 569.5,217.18 601.4,208.86 633.3,204.35 665.2,197.42" fill="none" stroke="#5560c8" stroke-width="0.8" stroke-linejoin="round" stroke-linecap="round" />
<path d="M537.6,226.37 L541.6,218.97 L533.6,218.97 Z" fill="#2630a0"/>
<path d="M569.5,221.18 L573.5,213.78 L565.5,213.78 Z" fill="#2630a0"/>
<path d="M601.4,212.86 L605.4,205.46 L597.4,205.46 Z" fill="#2630a0"/>
<path d="M633.3,208.35 L637.3,200.95 L629.3,200.95 Z" fill="#2630a0"/>
<path d="M665.2,201.42 L669.2,194.02 L661.2,194.02 Z" fill="#2630a0"/>
<polyline points="537.6,210.94 569.5,202.96 601.4,194.99 633.3,188.41 665.2,180.44" fill="none" stroke="#d9705a" stroke-width="0.8" stroke-linejoin="round" stroke-linecap="round" />
<path d="M537.6,206.74 L541.8,210.94 L537.6,215.14 L533.4,210.94 Z" fill="#c4461f"/>
<path d="M569.5,198.76 L573.7,202.96 L569.5,207.16 L565.3,202.96 Z" fill="#c4461f"/>
<path d="M601.4,190.79 L605.6,194.99 L601.4,199.19 L597.2,194.99 Z" fill="#c4461f"/>
<path d="M633.3,184.21 L637.5,188.41 L633.3,192.61 L629.1,188.41 Z" fill="#c4461f"/>
<path d="M665.2,176.24 L669.4,180.44 L665.2,184.64 L661,180.44 Z" fill="#c4461f"/>
<line x1="558.5" y1="260.6" x2="574.5" y2="260.6" stroke="#b9a3d0" stroke-width="0.8" />
<rect x="563.7" y="257.8" width="5.6" height="5.6" fill="#6a4a8c"/>
<text x="577.5" y="263" font-size="7" fill="#231f20">Ti<tspan font-size="4.5" baseline-shift="-30%">3</tspan>C<tspan font-size="4.5" baseline-shift="-30%">2</tspan>T<tspan font-size="4.5" baseline-shift="-30%">x</tspan></text>
<line x1="614.6" y1="260.6" x2="630.6" y2="260.6" stroke="#e5cf50" stroke-width="0.8" />
<circle cx="622.6" cy="260.6" r="3.1" fill="#d9b81a"/>
<text x="633.6" y="263" font-size="7" fill="#231f20">Pd/Ti<tspan font-size="4.5" baseline-shift="-30%">3</tspan>C<tspan font-size="4.5" baseline-shift="-30%">2</tspan>T<tspan font-size="4.5" baseline-shift="-30%">x</tspan></text>
<line x1="558.5" y1="271.3" x2="574.5" y2="271.3" stroke="#555" stroke-width="0.8" />
<path d="M566.5,267.9 L569.9,274.1 L563.1,274.1 Z" fill="#222"/>
<text x="577.5" y="273.7" font-size="7" fill="#231f20">Pt/Ti<tspan font-size="4.5" baseline-shift="-30%">3</tspan>C<tspan font-size="4.5" baseline-shift="-30%">2</tspan>T<tspan font-size="4.5" baseline-shift="-30%">x</tspan></text>
<line x1="614.6" y1="271.3" x2="630.6" y2="271.3" stroke="#5560c8" stroke-width="0.8" />
<path d="M622.6,274.7 L626,268.5 L619.2,268.5 Z" fill="#2630a0"/>
<text x="633.6" y="273.7" font-size="7" fill="#231f20">Pt-Pd/Ti<tspan font-size="4.5" baseline-shift="-30%">3</tspan>C<tspan font-size="4.5" baseline-shift="-30%">2</tspan>T<tspan font-size="4.5" baseline-shift="-30%">x</tspan></text>
<line x1="558.5" y1="282" x2="574.5" y2="282" stroke="#d9705a" stroke-width="0.8" />
<path d="M566.5,278.4 L570.1,282 L566.5,285.6 L562.9,282 Z" fill="#c4461f"/>
<text x="577.5" y="284.4" font-size="7" fill="#231f20">Pt=Pd/Ti<tspan font-size="4.5" baseline-shift="-30%">3</tspan>C<tspan font-size="4.5" baseline-shift="-30%">2</tspan>T<tspan font-size="4.5" baseline-shift="-30%">x</tspan></text>
<text x="496.2" y="184.7" font-size="13.5" text-anchor="start" fill="#231f20" font-weight="bold" >f</text>
<text x="601.7" y="324.9" font-size="8.75" text-anchor="middle" fill="#231f20" font-weight="bold" >Concentration (ppm)</text>
<text transform="translate(500.4,238.1) rotate(-90)" font-size="8.8" text-anchor="middle" fill="#231f20" font-weight="bold">Response (%)</text>
</svg></body></html>
